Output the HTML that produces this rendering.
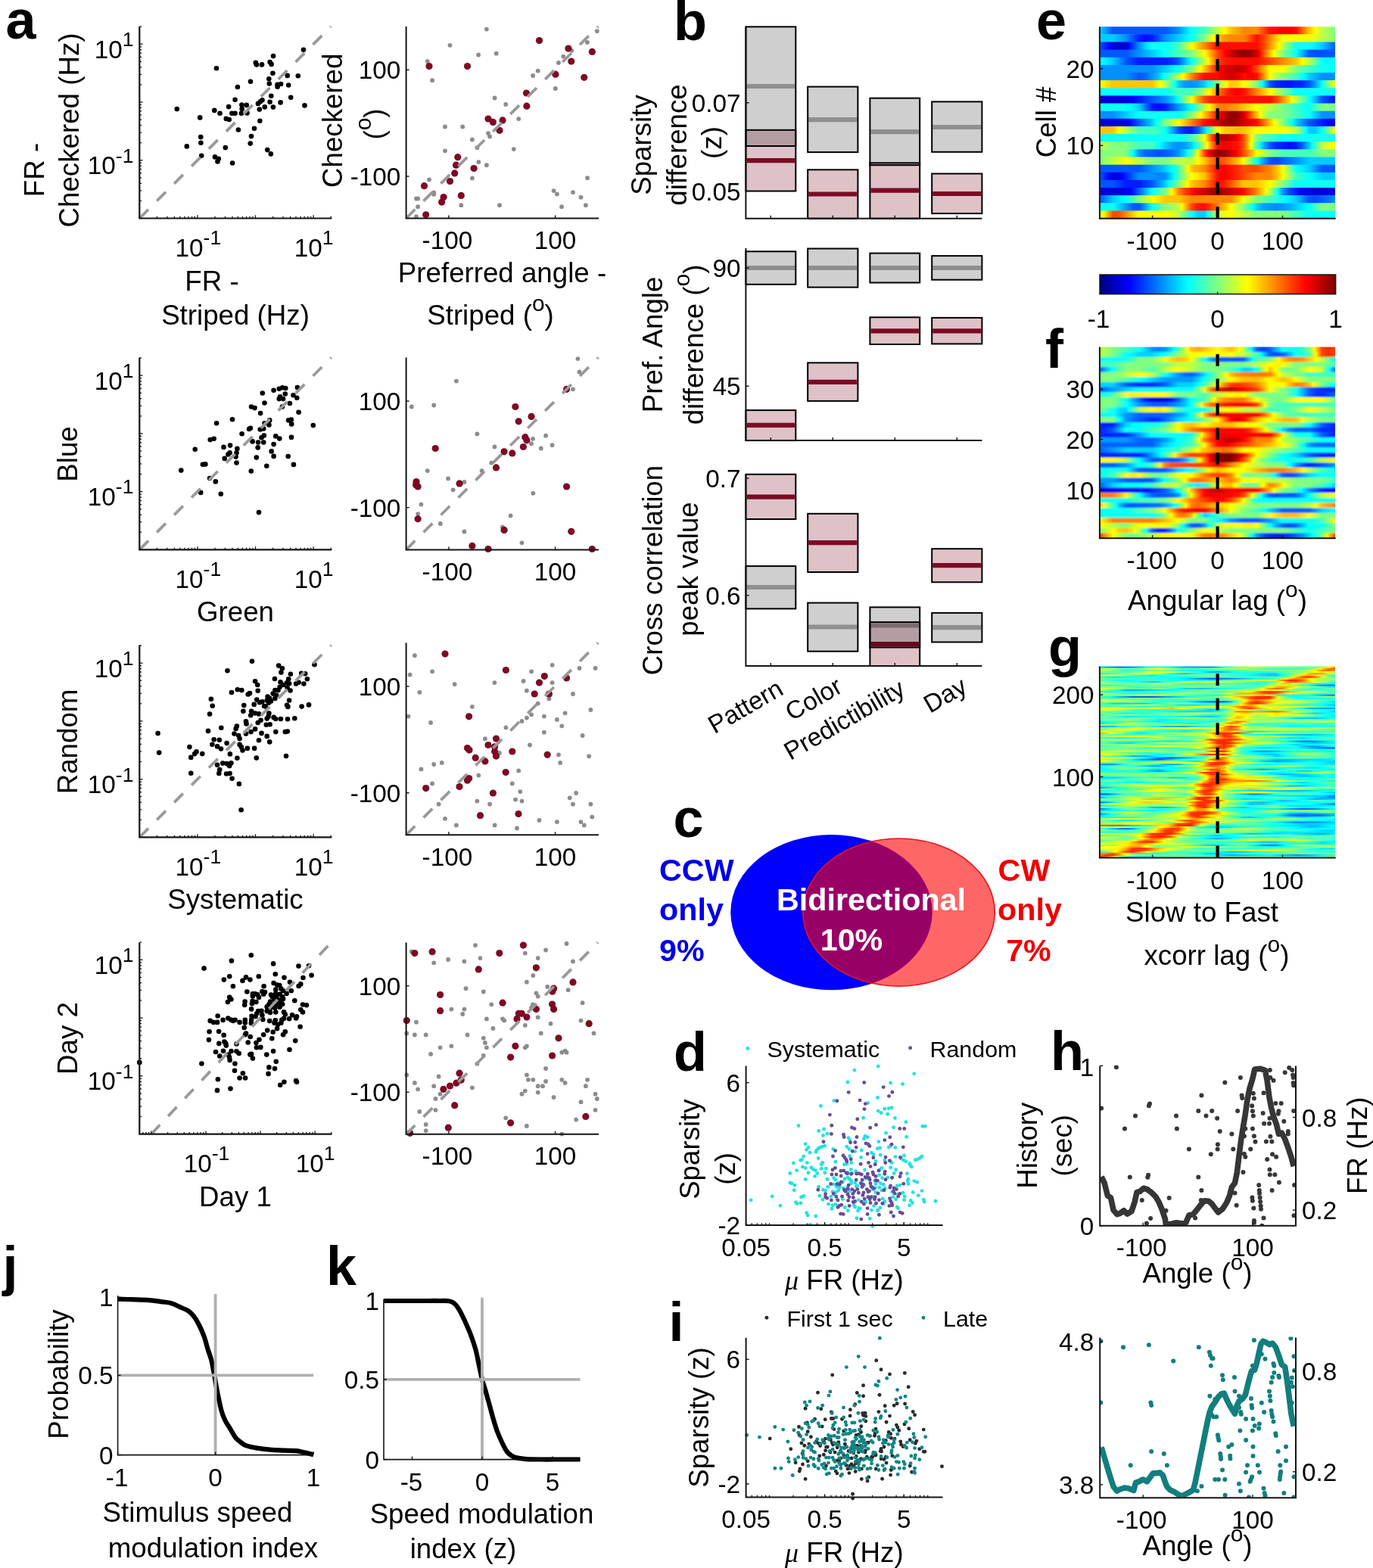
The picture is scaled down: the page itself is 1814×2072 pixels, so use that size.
<!DOCTYPE html>
<html lang="en"><head><meta charset="utf-8"><title>Figure</title>
<style>html,body{margin:0;padding:0;background:#fff}svg{display:block}text{font-family:"Liberation Sans",sans-serif}</style></head>
<body>
<svg width="1814" height="2072" viewBox="0 0 1814 2072">
<g fill="#000"><circle cx="401" cy="65.8" r="3.3"/><circle cx="361.1" cy="74.1" r="3.3"/><circle cx="337.8" cy="82.9" r="3.3"/><circle cx="339" cy="85.4" r="3.3"/><circle cx="346" cy="85.4" r="3.3"/><circle cx="356.6" cy="82.1" r="3.3"/><circle cx="358.6" cy="84.9" r="3.3"/><circle cx="286" cy="90.2" r="3.3"/><circle cx="360.4" cy="96.7" r="3.3"/><circle cx="379.7" cy="99.9" r="3.3"/><circle cx="393.8" cy="100.2" r="3.3"/><circle cx="355.3" cy="104.2" r="3.3"/><circle cx="331" cy="107.7" r="3.3"/><circle cx="355.8" cy="110.5" r="3.3"/><circle cx="366.6" cy="111.7" r="3.3"/><circle cx="371.1" cy="111" r="3.3"/><circle cx="381.2" cy="112.5" r="3.3"/><circle cx="366.6" cy="114.8" r="3.3"/><circle cx="313.9" cy="115" r="3.3"/><circle cx="358.3" cy="126.8" r="3.3"/><circle cx="384.2" cy="128.8" r="3.3"/><circle cx="310.6" cy="131.8" r="3.3"/><circle cx="346.5" cy="132.3" r="3.3"/><circle cx="344" cy="134.3" r="3.3"/><circle cx="341" cy="136.9" r="3.3"/><circle cx="356.6" cy="134.8" r="3.3"/><circle cx="370.6" cy="135.4" r="3.3"/><circle cx="319.4" cy="138.6" r="3.3"/><circle cx="325.7" cy="138.9" r="3.3"/><circle cx="302.1" cy="141.1" r="3.3"/><circle cx="349.8" cy="141.4" r="3.3"/><circle cx="360.9" cy="141.6" r="3.3"/><circle cx="402.5" cy="139.4" r="3.3"/><circle cx="233.8" cy="144.1" r="3.3"/><circle cx="283.3" cy="145.9" r="3.3"/><circle cx="319.7" cy="143.9" r="3.3"/><circle cx="342.8" cy="144.6" r="3.3"/><circle cx="290.5" cy="149.7" r="3.3"/><circle cx="306.4" cy="149.7" r="3.3"/><circle cx="310.6" cy="149.7" r="3.3"/><circle cx="318.9" cy="149.7" r="3.3"/><circle cx="326.5" cy="149.4" r="3.3"/><circle cx="264.2" cy="155.4" r="3.3"/><circle cx="298.8" cy="156.9" r="3.3"/><circle cx="302.8" cy="158" r="3.3"/><circle cx="343.3" cy="159.7" r="3.3"/><circle cx="336" cy="169.8" r="3.3"/><circle cx="314.9" cy="171.5" r="3.3"/><circle cx="332" cy="180.1" r="3.3"/><circle cx="265.2" cy="181.1" r="3.3"/><circle cx="265.4" cy="188.8" r="3.3"/><circle cx="330.7" cy="189.6" r="3.3"/><circle cx="246.8" cy="193.4" r="3.3"/><circle cx="297.8" cy="195.1" r="3.3"/><circle cx="353.3" cy="198.1" r="3.3"/><circle cx="357.8" cy="203.4" r="3.3"/><circle cx="266.2" cy="205.7" r="3.3"/><circle cx="284" cy="207.4" r="3.3"/><circle cx="288.8" cy="209.7" r="3.3"/><circle cx="287.5" cy="213.4" r="3.3"/><circle cx="307.1" cy="215.5" r="3.3"/></g>
<line x1="184.3" y1="288.5" x2="437.3" y2="35" stroke="#999999" stroke-width="3.8" stroke-dasharray="16.6 15.85"/>
<path d="M184.3 35V288.5H438.4" stroke="#141414" stroke-width="2.2" fill="none"/>
<line x1="207.4" y1="288.5" x2="207.4" y2="285.8" stroke="#141414" stroke-width="1.3"/>
<line x1="184.3" y1="265.4" x2="187" y2="265.4" stroke="#141414" stroke-width="1.3"/>
<line x1="220.8" y1="288.5" x2="220.8" y2="285.8" stroke="#141414" stroke-width="1.3"/>
<line x1="184.3" y1="251.9" x2="187" y2="251.9" stroke="#141414" stroke-width="1.3"/>
<line x1="230.4" y1="288.5" x2="230.4" y2="285.8" stroke="#141414" stroke-width="1.3"/>
<line x1="184.3" y1="242.3" x2="187" y2="242.3" stroke="#141414" stroke-width="1.3"/>
<line x1="237.8" y1="288.5" x2="237.8" y2="285.8" stroke="#141414" stroke-width="1.3"/>
<line x1="184.3" y1="234.9" x2="187" y2="234.9" stroke="#141414" stroke-width="1.3"/>
<line x1="243.9" y1="288.5" x2="243.9" y2="285.8" stroke="#141414" stroke-width="1.3"/>
<line x1="184.3" y1="228.8" x2="187" y2="228.8" stroke="#141414" stroke-width="1.3"/>
<line x1="249" y1="288.5" x2="249" y2="285.8" stroke="#141414" stroke-width="1.3"/>
<line x1="184.3" y1="223.6" x2="187" y2="223.6" stroke="#141414" stroke-width="1.3"/>
<line x1="253.5" y1="288.5" x2="253.5" y2="285.8" stroke="#141414" stroke-width="1.3"/>
<line x1="184.3" y1="219.2" x2="187" y2="219.2" stroke="#141414" stroke-width="1.3"/>
<line x1="257.4" y1="288.5" x2="257.4" y2="285.8" stroke="#141414" stroke-width="1.3"/>
<line x1="184.3" y1="215.3" x2="187" y2="215.3" stroke="#141414" stroke-width="1.3"/>
<line x1="260.9" y1="288.5" x2="260.9" y2="284.3" stroke="#141414" stroke-width="1.3"/>
<line x1="184.3" y1="211.8" x2="188.5" y2="211.8" stroke="#141414" stroke-width="1.3"/>
<line x1="284" y1="288.5" x2="284" y2="285.8" stroke="#141414" stroke-width="1.3"/>
<line x1="184.3" y1="188.6" x2="187" y2="188.6" stroke="#141414" stroke-width="1.3"/>
<line x1="297.4" y1="288.5" x2="297.4" y2="285.8" stroke="#141414" stroke-width="1.3"/>
<line x1="184.3" y1="175.1" x2="187" y2="175.1" stroke="#141414" stroke-width="1.3"/>
<line x1="307" y1="288.5" x2="307" y2="285.8" stroke="#141414" stroke-width="1.3"/>
<line x1="184.3" y1="165.5" x2="187" y2="165.5" stroke="#141414" stroke-width="1.3"/>
<line x1="314.4" y1="288.5" x2="314.4" y2="285.8" stroke="#141414" stroke-width="1.3"/>
<line x1="184.3" y1="158.1" x2="187" y2="158.1" stroke="#141414" stroke-width="1.3"/>
<line x1="320.5" y1="288.5" x2="320.5" y2="285.8" stroke="#141414" stroke-width="1.3"/>
<line x1="184.3" y1="152" x2="187" y2="152" stroke="#141414" stroke-width="1.3"/>
<line x1="325.6" y1="288.5" x2="325.6" y2="285.8" stroke="#141414" stroke-width="1.3"/>
<line x1="184.3" y1="146.9" x2="187" y2="146.9" stroke="#141414" stroke-width="1.3"/>
<line x1="330.1" y1="288.5" x2="330.1" y2="285.8" stroke="#141414" stroke-width="1.3"/>
<line x1="184.3" y1="142.4" x2="187" y2="142.4" stroke="#141414" stroke-width="1.3"/>
<line x1="334" y1="288.5" x2="334" y2="285.8" stroke="#141414" stroke-width="1.3"/>
<line x1="184.3" y1="138.5" x2="187" y2="138.5" stroke="#141414" stroke-width="1.3"/>
<line x1="337.5" y1="288.5" x2="337.5" y2="284.3" stroke="#141414" stroke-width="1.3"/>
<line x1="184.3" y1="135" x2="188.5" y2="135" stroke="#141414" stroke-width="1.3"/>
<line x1="360.6" y1="288.5" x2="360.6" y2="285.8" stroke="#141414" stroke-width="1.3"/>
<line x1="184.3" y1="111.9" x2="187" y2="111.9" stroke="#141414" stroke-width="1.3"/>
<line x1="374" y1="288.5" x2="374" y2="285.8" stroke="#141414" stroke-width="1.3"/>
<line x1="184.3" y1="98.4" x2="187" y2="98.4" stroke="#141414" stroke-width="1.3"/>
<line x1="383.6" y1="288.5" x2="383.6" y2="285.8" stroke="#141414" stroke-width="1.3"/>
<line x1="184.3" y1="88.8" x2="187" y2="88.8" stroke="#141414" stroke-width="1.3"/>
<line x1="391" y1="288.5" x2="391" y2="285.8" stroke="#141414" stroke-width="1.3"/>
<line x1="184.3" y1="81.4" x2="187" y2="81.4" stroke="#141414" stroke-width="1.3"/>
<line x1="397.1" y1="288.5" x2="397.1" y2="285.8" stroke="#141414" stroke-width="1.3"/>
<line x1="184.3" y1="75.3" x2="187" y2="75.3" stroke="#141414" stroke-width="1.3"/>
<line x1="402.2" y1="288.5" x2="402.2" y2="285.8" stroke="#141414" stroke-width="1.3"/>
<line x1="184.3" y1="70.1" x2="187" y2="70.1" stroke="#141414" stroke-width="1.3"/>
<line x1="406.7" y1="288.5" x2="406.7" y2="285.8" stroke="#141414" stroke-width="1.3"/>
<line x1="184.3" y1="65.7" x2="187" y2="65.7" stroke="#141414" stroke-width="1.3"/>
<line x1="410.6" y1="288.5" x2="410.6" y2="285.8" stroke="#141414" stroke-width="1.3"/>
<line x1="184.3" y1="61.8" x2="187" y2="61.8" stroke="#141414" stroke-width="1.3"/>
<line x1="414.1" y1="288.5" x2="414.1" y2="284.3" stroke="#141414" stroke-width="1.3"/>
<line x1="184.3" y1="58.2" x2="188.5" y2="58.2" stroke="#141414" stroke-width="1.3"/>
<line x1="437.2" y1="288.5" x2="437.2" y2="285.8" stroke="#141414" stroke-width="1.3"/>
<line x1="184.3" y1="35.1" x2="187" y2="35.1" stroke="#141414" stroke-width="1.3"/>
<text transform="translate(176.5,76.8)" font-size="33.3" text-anchor="end">10<tspan dy="-15.7" font-size="26.6">1</tspan></text>
<text transform="translate(414.6,339)" font-size="33.3" text-anchor="middle">10<tspan dy="-15.7" font-size="26.6">1</tspan></text>
<text transform="translate(176.5,230.2)" font-size="33.3" text-anchor="end">10<tspan dy="-15.7" font-size="26.6">-1</tspan></text>
<text transform="translate(261.9,339)" font-size="33.3" text-anchor="middle">10<tspan dy="-15.7" font-size="26.6">-1</tspan></text>
<g fill="#8c8c8c"><circle cx="642.9" cy="38.6" r="2.9"/><circle cx="788.8" cy="41.1" r="2.9"/><circle cx="594.5" cy="59.8" r="2.9"/><circle cx="775.9" cy="55.9" r="2.9"/><circle cx="632.1" cy="72.5" r="2.9"/><circle cx="655.7" cy="70.7" r="2.9"/><circle cx="755.4" cy="66.8" r="2.9"/><circle cx="744.3" cy="74.6" r="2.9"/><circle cx="564.8" cy="81.1" r="2.9"/><circle cx="737.9" cy="82.9" r="2.9"/><circle cx="710.7" cy="93.6" r="2.9"/><circle cx="704.1" cy="100" r="2.9"/><circle cx="571.1" cy="106.2" r="2.9"/><circle cx="733.8" cy="117" r="2.9"/><circle cx="653.6" cy="129.5" r="2.9"/><circle cx="668.2" cy="137.9" r="2.9"/><circle cx="685.2" cy="157.1" r="2.9"/><circle cx="588" cy="167.5" r="2.9"/><circle cx="611.2" cy="167.5" r="2.9"/><circle cx="645" cy="176.1" r="2.9"/><circle cx="647.1" cy="180.4" r="2.9"/><circle cx="623.9" cy="184.5" r="2.9"/><circle cx="630.4" cy="195.2" r="2.9"/><circle cx="678.8" cy="197.1" r="2.9"/><circle cx="588" cy="199.3" r="2.9"/><circle cx="632.3" cy="214.1" r="2.9"/><circle cx="642.9" cy="218.2" r="2.9"/><circle cx="623.9" cy="235.4" r="2.9"/><circle cx="567" cy="237.3" r="2.9"/><circle cx="776.1" cy="235.2" r="2.9"/><circle cx="731.6" cy="252.1" r="2.9"/><circle cx="735.9" cy="256.4" r="2.9"/><circle cx="757" cy="254.1" r="2.9"/><circle cx="573.2" cy="254.3" r="2.9"/><circle cx="573.2" cy="256.8" r="2.9"/><circle cx="767.5" cy="260.7" r="2.9"/><circle cx="550" cy="262.5" r="2.9"/><circle cx="552.1" cy="262.5" r="2.9"/><circle cx="609.3" cy="271.2" r="2.9"/><circle cx="660" cy="271.2" r="2.9"/><circle cx="773.9" cy="271.2" r="2.9"/><circle cx="742.1" cy="273.2" r="2.9"/><circle cx="552.1" cy="273.2" r="2.9"/><circle cx="550" cy="286.1" r="2.9"/></g>
<g fill="#7d0a25"><circle cx="712.5" cy="53.6" r="4.6"/><circle cx="750.9" cy="64.1" r="4.6"/><circle cx="782.3" cy="68.4" r="4.6"/><circle cx="754.8" cy="81.1" r="4.6"/><circle cx="567" cy="87.5" r="4.6"/><circle cx="617.5" cy="87.5" r="4.6"/><circle cx="733.9" cy="98.2" r="4.6"/><circle cx="771.8" cy="102.3" r="4.6"/><circle cx="695.5" cy="123" r="4.6"/><circle cx="695.9" cy="140.2" r="4.6"/><circle cx="645" cy="157" r="4.6"/><circle cx="651.4" cy="161.4" r="4.6"/><circle cx="664.1" cy="158.9" r="4.6"/><circle cx="660" cy="172.3" r="4.6"/><circle cx="604.8" cy="207.7" r="4.6"/><circle cx="602.5" cy="218.2" r="4.6"/><circle cx="626.1" cy="222.5" r="4.6"/><circle cx="600.7" cy="228.9" r="4.6"/><circle cx="594.5" cy="239.5" r="4.6"/><circle cx="560.5" cy="245.7" r="4.6"/><circle cx="609.3" cy="258.4" r="4.6"/><circle cx="586.1" cy="260.5" r="4.6"/><circle cx="583.6" cy="267.1" r="4.6"/><circle cx="562.7" cy="283.8" r="4.6"/></g>
<line x1="536.6" y1="288.5" x2="790.1" y2="35" stroke="#999999" stroke-width="3.8" stroke-dasharray="16.6 15.85"/>
<path d="M536.6 35V288.5H791" stroke="#141414" stroke-width="2.0" fill="none"/>
<line x1="592.9" y1="288.5" x2="592.9" y2="284.5" stroke="#141414" stroke-width="1.4"/>
<line x1="536.6" y1="233" x2="540.6" y2="233" stroke="#141414" stroke-width="1.4"/>
<text transform="translate(590.9,329)" font-size="33.3" text-anchor="middle">-100</text>
<text transform="translate(529.3,245)" font-size="33.3" text-anchor="end">-100</text>
<line x1="733.6" y1="288.5" x2="733.6" y2="284.5" stroke="#141414" stroke-width="1.4"/>
<line x1="536.6" y1="92.3" x2="540.6" y2="92.3" stroke="#141414" stroke-width="1.4"/>
<text transform="translate(733.6,329)" font-size="33.3" text-anchor="middle">100</text>
<text transform="translate(529.3,104.3)" font-size="33.3" text-anchor="end">100</text>
<g fill="#000"><circle cx="361.6" cy="515.7" r="3.3"/><circle cx="368.8" cy="513.8" r="3.3"/><circle cx="373.2" cy="512.3" r="3.3"/><circle cx="377.3" cy="513" r="3.3"/><circle cx="392.9" cy="512" r="3.3"/><circle cx="346.8" cy="519.5" r="3.3"/><circle cx="376.8" cy="520.5" r="3.3"/><circle cx="387.5" cy="522.3" r="3.3"/><circle cx="392.3" cy="525.7" r="3.3"/><circle cx="370" cy="524.3" r="3.3"/><circle cx="368.8" cy="527.1" r="3.3"/><circle cx="374.1" cy="527.1" r="3.3"/><circle cx="349.5" cy="532.5" r="3.3"/><circle cx="382.9" cy="533" r="3.3"/><circle cx="332.1" cy="537.5" r="3.3"/><circle cx="336.6" cy="539.1" r="3.3"/><circle cx="372.9" cy="537.5" r="3.3"/><circle cx="344.1" cy="546.1" r="3.3"/><circle cx="394.6" cy="544.8" r="3.3"/><circle cx="307" cy="554.3" r="3.3"/><circle cx="286.1" cy="559.3" r="3.3"/><circle cx="356.2" cy="555.4" r="3.3"/><circle cx="381.2" cy="555.4" r="3.3"/><circle cx="384.8" cy="554.5" r="3.3"/><circle cx="385.2" cy="560.4" r="3.3"/><circle cx="349.6" cy="559.3" r="3.3"/><circle cx="355.4" cy="561.4" r="3.3"/><circle cx="413.8" cy="562.1" r="3.3"/><circle cx="329.1" cy="567" r="3.3"/><circle cx="330.9" cy="565.7" r="3.3"/><circle cx="343.8" cy="567.5" r="3.3"/><circle cx="348.2" cy="566.4" r="3.3"/><circle cx="319.6" cy="573.2" r="3.3"/><circle cx="348.8" cy="575.5" r="3.3"/><circle cx="345.5" cy="578.2" r="3.3"/><circle cx="364.3" cy="576.4" r="3.3"/><circle cx="369.3" cy="579.6" r="3.3"/><circle cx="385" cy="577.9" r="3.3"/><circle cx="277.7" cy="581.1" r="3.3"/><circle cx="282.7" cy="579.8" r="3.3"/><circle cx="333.6" cy="583.4" r="3.3"/><circle cx="341.1" cy="584.5" r="3.3"/><circle cx="348.2" cy="584.5" r="3.3"/><circle cx="361.6" cy="587.1" r="3.3"/><circle cx="304.1" cy="588.6" r="3.3"/><circle cx="295.5" cy="590.9" r="3.3"/><circle cx="340.7" cy="591.4" r="3.3"/><circle cx="257.7" cy="593.8" r="3.3"/><circle cx="313.4" cy="592.9" r="3.3"/><circle cx="312.5" cy="598.2" r="3.3"/><circle cx="358.6" cy="596.4" r="3.3"/><circle cx="303.6" cy="598.2" r="3.3"/><circle cx="301.4" cy="600.5" r="3.3"/><circle cx="311.6" cy="603.6" r="3.3"/><circle cx="338.8" cy="604.6" r="3.3"/><circle cx="361.6" cy="602.9" r="3.3"/><circle cx="380.7" cy="603" r="3.3"/><circle cx="296.8" cy="605.9" r="3.3"/><circle cx="312.5" cy="611.6" r="3.3"/><circle cx="267.9" cy="613.8" r="3.3"/><circle cx="271.4" cy="613.4" r="3.3"/><circle cx="352.3" cy="615.7" r="3.3"/><circle cx="387.9" cy="613.9" r="3.3"/><circle cx="239.3" cy="621.6" r="3.3"/><circle cx="331.8" cy="622.5" r="3.3"/><circle cx="277.1" cy="632.1" r="3.3"/><circle cx="284.8" cy="636.4" r="3.3"/><circle cx="265.2" cy="650.9" r="3.3"/><circle cx="291.8" cy="652.7" r="3.3"/><circle cx="342" cy="677.1" r="3.3"/></g>
<line x1="184.3" y1="726.4" x2="437.7" y2="472.5" stroke="#999999" stroke-width="3.8" stroke-dasharray="16.6 15.85"/>
<path d="M184.3 472.5V726.4H438.4" stroke="#141414" stroke-width="2.2" fill="none"/>
<line x1="207.4" y1="726.4" x2="207.4" y2="723.7" stroke="#141414" stroke-width="1.3"/>
<line x1="184.3" y1="703.3" x2="187" y2="703.3" stroke="#141414" stroke-width="1.3"/>
<line x1="220.8" y1="726.4" x2="220.8" y2="723.7" stroke="#141414" stroke-width="1.3"/>
<line x1="184.3" y1="689.8" x2="187" y2="689.8" stroke="#141414" stroke-width="1.3"/>
<line x1="230.4" y1="726.4" x2="230.4" y2="723.7" stroke="#141414" stroke-width="1.3"/>
<line x1="184.3" y1="680.2" x2="187" y2="680.2" stroke="#141414" stroke-width="1.3"/>
<line x1="237.8" y1="726.4" x2="237.8" y2="723.7" stroke="#141414" stroke-width="1.3"/>
<line x1="184.3" y1="672.8" x2="187" y2="672.8" stroke="#141414" stroke-width="1.3"/>
<line x1="243.9" y1="726.4" x2="243.9" y2="723.7" stroke="#141414" stroke-width="1.3"/>
<line x1="184.3" y1="666.7" x2="187" y2="666.7" stroke="#141414" stroke-width="1.3"/>
<line x1="249" y1="726.4" x2="249" y2="723.7" stroke="#141414" stroke-width="1.3"/>
<line x1="184.3" y1="661.5" x2="187" y2="661.5" stroke="#141414" stroke-width="1.3"/>
<line x1="253.5" y1="726.4" x2="253.5" y2="723.7" stroke="#141414" stroke-width="1.3"/>
<line x1="184.3" y1="657.1" x2="187" y2="657.1" stroke="#141414" stroke-width="1.3"/>
<line x1="257.4" y1="726.4" x2="257.4" y2="723.7" stroke="#141414" stroke-width="1.3"/>
<line x1="184.3" y1="653.2" x2="187" y2="653.2" stroke="#141414" stroke-width="1.3"/>
<line x1="260.9" y1="726.4" x2="260.9" y2="722.2" stroke="#141414" stroke-width="1.3"/>
<line x1="184.3" y1="649.6" x2="188.5" y2="649.6" stroke="#141414" stroke-width="1.3"/>
<line x1="284" y1="726.4" x2="284" y2="723.7" stroke="#141414" stroke-width="1.3"/>
<line x1="184.3" y1="626.5" x2="187" y2="626.5" stroke="#141414" stroke-width="1.3"/>
<line x1="297.4" y1="726.4" x2="297.4" y2="723.7" stroke="#141414" stroke-width="1.3"/>
<line x1="184.3" y1="613" x2="187" y2="613" stroke="#141414" stroke-width="1.3"/>
<line x1="307" y1="726.4" x2="307" y2="723.7" stroke="#141414" stroke-width="1.3"/>
<line x1="184.3" y1="603.4" x2="187" y2="603.4" stroke="#141414" stroke-width="1.3"/>
<line x1="314.4" y1="726.4" x2="314.4" y2="723.7" stroke="#141414" stroke-width="1.3"/>
<line x1="184.3" y1="596" x2="187" y2="596" stroke="#141414" stroke-width="1.3"/>
<line x1="320.5" y1="726.4" x2="320.5" y2="723.7" stroke="#141414" stroke-width="1.3"/>
<line x1="184.3" y1="589.9" x2="187" y2="589.9" stroke="#141414" stroke-width="1.3"/>
<line x1="325.6" y1="726.4" x2="325.6" y2="723.7" stroke="#141414" stroke-width="1.3"/>
<line x1="184.3" y1="584.8" x2="187" y2="584.8" stroke="#141414" stroke-width="1.3"/>
<line x1="330.1" y1="726.4" x2="330.1" y2="723.7" stroke="#141414" stroke-width="1.3"/>
<line x1="184.3" y1="580.3" x2="187" y2="580.3" stroke="#141414" stroke-width="1.3"/>
<line x1="334" y1="726.4" x2="334" y2="723.7" stroke="#141414" stroke-width="1.3"/>
<line x1="184.3" y1="576.4" x2="187" y2="576.4" stroke="#141414" stroke-width="1.3"/>
<line x1="337.5" y1="726.4" x2="337.5" y2="722.2" stroke="#141414" stroke-width="1.3"/>
<line x1="184.3" y1="572.9" x2="188.5" y2="572.9" stroke="#141414" stroke-width="1.3"/>
<line x1="360.6" y1="726.4" x2="360.6" y2="723.7" stroke="#141414" stroke-width="1.3"/>
<line x1="184.3" y1="549.8" x2="187" y2="549.8" stroke="#141414" stroke-width="1.3"/>
<line x1="374" y1="726.4" x2="374" y2="723.7" stroke="#141414" stroke-width="1.3"/>
<line x1="184.3" y1="536.3" x2="187" y2="536.3" stroke="#141414" stroke-width="1.3"/>
<line x1="383.6" y1="726.4" x2="383.6" y2="723.7" stroke="#141414" stroke-width="1.3"/>
<line x1="184.3" y1="526.7" x2="187" y2="526.7" stroke="#141414" stroke-width="1.3"/>
<line x1="391" y1="726.4" x2="391" y2="723.7" stroke="#141414" stroke-width="1.3"/>
<line x1="184.3" y1="519.3" x2="187" y2="519.3" stroke="#141414" stroke-width="1.3"/>
<line x1="397.1" y1="726.4" x2="397.1" y2="723.7" stroke="#141414" stroke-width="1.3"/>
<line x1="184.3" y1="513.2" x2="187" y2="513.2" stroke="#141414" stroke-width="1.3"/>
<line x1="402.2" y1="726.4" x2="402.2" y2="723.7" stroke="#141414" stroke-width="1.3"/>
<line x1="184.3" y1="508" x2="187" y2="508" stroke="#141414" stroke-width="1.3"/>
<line x1="406.7" y1="726.4" x2="406.7" y2="723.7" stroke="#141414" stroke-width="1.3"/>
<line x1="184.3" y1="503.6" x2="187" y2="503.6" stroke="#141414" stroke-width="1.3"/>
<line x1="410.6" y1="726.4" x2="410.6" y2="723.7" stroke="#141414" stroke-width="1.3"/>
<line x1="184.3" y1="499.7" x2="187" y2="499.7" stroke="#141414" stroke-width="1.3"/>
<line x1="414.1" y1="726.4" x2="414.1" y2="722.2" stroke="#141414" stroke-width="1.3"/>
<line x1="184.3" y1="496.1" x2="188.5" y2="496.1" stroke="#141414" stroke-width="1.3"/>
<line x1="437.2" y1="726.4" x2="437.2" y2="723.7" stroke="#141414" stroke-width="1.3"/>
<line x1="184.3" y1="473" x2="187" y2="473" stroke="#141414" stroke-width="1.3"/>
<text transform="translate(176.5,514.6)" font-size="33.3" text-anchor="end">10<tspan dy="-15.7" font-size="26.6">1</tspan></text>
<text transform="translate(414.6,776.9)" font-size="33.3" text-anchor="middle">10<tspan dy="-15.7" font-size="26.6">1</tspan></text>
<text transform="translate(176.5,668.1)" font-size="33.3" text-anchor="end">10<tspan dy="-15.7" font-size="26.6">-1</tspan></text>
<text transform="translate(261.9,776.9)" font-size="33.3" text-anchor="middle">10<tspan dy="-15.7" font-size="26.6">-1</tspan></text>
<g fill="#8c8c8c"><circle cx="763.4" cy="474.1" r="2.9"/><circle cx="765.5" cy="491.4" r="2.9"/><circle cx="602.9" cy="503.6" r="2.9"/><circle cx="757" cy="514.3" r="2.9"/><circle cx="543.8" cy="537.5" r="2.9"/><circle cx="573.2" cy="535.5" r="2.9"/><circle cx="630.4" cy="573.4" r="2.9"/><circle cx="721.1" cy="575.7" r="2.9"/><circle cx="704.1" cy="579.8" r="2.9"/><circle cx="702" cy="586.2" r="2.9"/><circle cx="653.4" cy="590.5" r="2.9"/><circle cx="729.6" cy="588.2" r="2.9"/><circle cx="714.8" cy="592.5" r="2.9"/><circle cx="649.3" cy="611.6" r="2.9"/><circle cx="564.8" cy="622.1" r="2.9"/><circle cx="636.6" cy="622.1" r="2.9"/><circle cx="592.1" cy="632.5" r="2.9"/><circle cx="613.4" cy="637" r="2.9"/><circle cx="598.6" cy="647.3" r="2.9"/><circle cx="704.3" cy="651.8" r="2.9"/><circle cx="556.4" cy="666.6" r="2.9"/><circle cx="552.1" cy="679.1" r="2.9"/><circle cx="674.6" cy="681.4" r="2.9"/><circle cx="581.8" cy="692" r="2.9"/><circle cx="663.9" cy="696.4" r="2.9"/><circle cx="613.4" cy="702.5" r="2.9"/><circle cx="689.5" cy="717.3" r="2.9"/></g>
<g fill="#7d0a25"><circle cx="680.9" cy="537.5" r="4.6"/><circle cx="702.1" cy="550.4" r="4.6"/><circle cx="685.2" cy="556.8" r="4.6"/><circle cx="748.6" cy="514.3" r="4.6"/><circle cx="693.8" cy="577.7" r="4.6"/><circle cx="695.9" cy="581.8" r="4.6"/><circle cx="691.4" cy="590.5" r="4.6"/><circle cx="666.1" cy="596.8" r="4.6"/><circle cx="676.8" cy="598.9" r="4.6"/><circle cx="575.2" cy="592.5" r="4.6"/><circle cx="655.5" cy="617.9" r="4.6"/><circle cx="550" cy="636.6" r="4.6"/><circle cx="552.1" cy="642.9" r="4.6"/><circle cx="549.6" cy="640.7" r="4.6"/><circle cx="607.1" cy="638.9" r="4.6"/><circle cx="748.6" cy="643" r="4.6"/><circle cx="552.1" cy="685.7" r="4.6"/><circle cx="666.1" cy="700.4" r="4.6"/><circle cx="754.8" cy="702.3" r="4.6"/><circle cx="623.9" cy="721.4" r="4.6"/><circle cx="645" cy="725.5" r="4.6"/><circle cx="782.3" cy="725.5" r="4.6"/></g>
<line x1="536.6" y1="726.4" x2="790.5" y2="472.5" stroke="#999999" stroke-width="3.8" stroke-dasharray="16.6 15.85"/>
<path d="M536.6 472.5V726.4H791" stroke="#141414" stroke-width="2.0" fill="none"/>
<line x1="592.9" y1="726.4" x2="592.9" y2="722.4" stroke="#141414" stroke-width="1.4"/>
<line x1="536.6" y1="670.7" x2="540.6" y2="670.7" stroke="#141414" stroke-width="1.4"/>
<text transform="translate(590.9,766.9)" font-size="33.3" text-anchor="middle">-100</text>
<text transform="translate(529.3,682.7)" font-size="33.3" text-anchor="end">-100</text>
<line x1="733.6" y1="726.4" x2="733.6" y2="722.4" stroke="#141414" stroke-width="1.4"/>
<line x1="536.6" y1="530" x2="540.6" y2="530" stroke="#141414" stroke-width="1.4"/>
<text transform="translate(733.6,766.9)" font-size="33.3" text-anchor="middle">100</text>
<text transform="translate(529.3,542)" font-size="33.3" text-anchor="end">100</text>
<g fill="#000"><circle cx="333" cy="873.8" r="3.3"/><circle cx="300.5" cy="886.2" r="3.3"/><circle cx="368.2" cy="879.6" r="3.3"/><circle cx="372.9" cy="883.2" r="3.3"/><circle cx="371.4" cy="888.6" r="3.3"/><circle cx="383.9" cy="890.7" r="3.3"/><circle cx="398.2" cy="889.8" r="3.3"/><circle cx="403.2" cy="890.2" r="3.3"/><circle cx="415.5" cy="878.2" r="3.3"/><circle cx="363" cy="897" r="3.3"/><circle cx="381.2" cy="897.3" r="3.3"/><circle cx="405.9" cy="897.3" r="3.3"/><circle cx="337.1" cy="900.2" r="3.3"/><circle cx="340.2" cy="905" r="3.3"/><circle cx="370.5" cy="901.4" r="3.3"/><circle cx="378.9" cy="902.3" r="3.3"/><circle cx="382.1" cy="903.2" r="3.3"/><circle cx="391.1" cy="903.6" r="3.3"/><circle cx="394.6" cy="901.8" r="3.3"/><circle cx="401.4" cy="903.6" r="3.3"/><circle cx="374.1" cy="905" r="3.3"/><circle cx="369.6" cy="908" r="3.3"/><circle cx="379.5" cy="908.6" r="3.3"/><circle cx="363.4" cy="912.1" r="3.3"/><circle cx="367.5" cy="912.1" r="3.3"/><circle cx="383.6" cy="912.5" r="3.3"/><circle cx="313.8" cy="911.2" r="3.3"/><circle cx="319.3" cy="912.1" r="3.3"/><circle cx="305.9" cy="915" r="3.3"/><circle cx="340.7" cy="912.7" r="3.3"/><circle cx="327.7" cy="917.5" r="3.3"/><circle cx="330" cy="916.1" r="3.3"/><circle cx="360.7" cy="916.6" r="3.3"/><circle cx="365.2" cy="918.8" r="3.3"/><circle cx="353.6" cy="920.5" r="3.3"/><circle cx="356.2" cy="922.9" r="3.3"/><circle cx="363.4" cy="922.9" r="3.3"/><circle cx="339.3" cy="924.6" r="3.3"/><circle cx="352.7" cy="925.5" r="3.3"/><circle cx="358" cy="926.4" r="3.3"/><circle cx="382.1" cy="925.5" r="3.3"/><circle cx="278.9" cy="923.8" r="3.3"/><circle cx="342.9" cy="928.2" r="3.3"/><circle cx="346.4" cy="927.3" r="3.3"/><circle cx="355" cy="928.8" r="3.3"/><circle cx="335.7" cy="930.9" r="3.3"/><circle cx="322.3" cy="932.1" r="3.3"/><circle cx="349.1" cy="933" r="3.3"/><circle cx="350.9" cy="933.6" r="3.3"/><circle cx="280.7" cy="932.7" r="3.3"/><circle cx="379.1" cy="931.8" r="3.3"/><circle cx="380.4" cy="933.9" r="3.3"/><circle cx="398.6" cy="933.6" r="3.3"/><circle cx="408" cy="931.4" r="3.3"/><circle cx="321.4" cy="939.8" r="3.3"/><circle cx="332.1" cy="939.8" r="3.3"/><circle cx="331.2" cy="945.2" r="3.3"/><circle cx="337.1" cy="942.5" r="3.3"/><circle cx="342" cy="943.4" r="3.3"/><circle cx="355.4" cy="942.5" r="3.3"/><circle cx="277.1" cy="943.6" r="3.3"/><circle cx="354.5" cy="947" r="3.3"/><circle cx="361.6" cy="947.9" r="3.3"/><circle cx="364.3" cy="950" r="3.3"/><circle cx="370.9" cy="950" r="3.3"/><circle cx="380" cy="950.2" r="3.3"/><circle cx="389.3" cy="949.3" r="3.3"/><circle cx="352.7" cy="949.6" r="3.3"/><circle cx="344.6" cy="951.8" r="3.3"/><circle cx="340.7" cy="955" r="3.3"/><circle cx="325" cy="953.2" r="3.3"/><circle cx="325.5" cy="956.4" r="3.3"/><circle cx="351.8" cy="957.7" r="3.3"/><circle cx="356.6" cy="957.3" r="3.3"/><circle cx="312.9" cy="959.5" r="3.3"/><circle cx="311.6" cy="963" r="3.3"/><circle cx="292.3" cy="961.8" r="3.3"/><circle cx="337.1" cy="963.4" r="3.3"/><circle cx="275" cy="965.9" r="3.3"/><circle cx="331.6" cy="967.1" r="3.3"/><circle cx="364.3" cy="967.1" r="3.3"/><circle cx="376.8" cy="967.1" r="3.3"/><circle cx="379.8" cy="966.6" r="3.3"/><circle cx="208.6" cy="969.1" r="3.3"/><circle cx="309.5" cy="969.6" r="3.3"/><circle cx="325" cy="969.6" r="3.3"/><circle cx="345.5" cy="968.9" r="3.3"/><circle cx="315.2" cy="972" r="3.3"/><circle cx="352.7" cy="972.9" r="3.3"/><circle cx="316.6" cy="976.1" r="3.3"/><circle cx="282.7" cy="977.3" r="3.3"/><circle cx="289.8" cy="977.7" r="3.3"/><circle cx="342" cy="978.2" r="3.3"/><circle cx="356.2" cy="980.4" r="3.3"/><circle cx="299.6" cy="982.1" r="3.3"/><circle cx="280.4" cy="983.8" r="3.3"/><circle cx="287.1" cy="986.4" r="3.3"/><circle cx="316.6" cy="983.9" r="3.3"/><circle cx="318.8" cy="987.1" r="3.3"/><circle cx="292" cy="989.5" r="3.3"/><circle cx="326.8" cy="988.9" r="3.3"/><circle cx="336.1" cy="988.9" r="3.3"/><circle cx="320.5" cy="991.6" r="3.3"/><circle cx="250.4" cy="987.1" r="3.3"/><circle cx="210.2" cy="994.6" r="3.3"/><circle cx="259.5" cy="993.4" r="3.3"/><circle cx="257.1" cy="996.1" r="3.3"/><circle cx="267.3" cy="996.1" r="3.3"/><circle cx="303.9" cy="996.4" r="3.3"/><circle cx="252.3" cy="1000.9" r="3.3"/><circle cx="313.4" cy="1001.8" r="3.3"/><circle cx="338.8" cy="1001.6" r="3.3"/><circle cx="378" cy="999.1" r="3.3"/><circle cx="294.3" cy="1008.6" r="3.3"/><circle cx="299.6" cy="1009.1" r="3.3"/><circle cx="305.4" cy="1008.2" r="3.3"/><circle cx="287.1" cy="1010.7" r="3.3"/><circle cx="303.2" cy="1012.1" r="3.3"/><circle cx="290.2" cy="1017.1" r="3.3"/><circle cx="252.3" cy="1021.8" r="3.3"/><circle cx="289.3" cy="1022" r="3.3"/><circle cx="299.1" cy="1022.5" r="3.3"/><circle cx="303.6" cy="1022.1" r="3.3"/><circle cx="306.6" cy="1028.8" r="3.3"/><circle cx="315.9" cy="1035.9" r="3.3"/><circle cx="318.6" cy="1070.2" r="3.3"/></g>
<line x1="184.3" y1="1106.4" x2="437.7" y2="852.5" stroke="#999999" stroke-width="3.8" stroke-dasharray="16.6 15.85"/>
<path d="M184.3 852.5V1106.4H438.4" stroke="#141414" stroke-width="2.2" fill="none"/>
<line x1="207.4" y1="1106.4" x2="207.4" y2="1103.7" stroke="#141414" stroke-width="1.3"/>
<line x1="184.3" y1="1083.3" x2="187" y2="1083.3" stroke="#141414" stroke-width="1.3"/>
<line x1="220.8" y1="1106.4" x2="220.8" y2="1103.7" stroke="#141414" stroke-width="1.3"/>
<line x1="184.3" y1="1069.8" x2="187" y2="1069.8" stroke="#141414" stroke-width="1.3"/>
<line x1="230.4" y1="1106.4" x2="230.4" y2="1103.7" stroke="#141414" stroke-width="1.3"/>
<line x1="184.3" y1="1060.2" x2="187" y2="1060.2" stroke="#141414" stroke-width="1.3"/>
<line x1="237.8" y1="1106.4" x2="237.8" y2="1103.7" stroke="#141414" stroke-width="1.3"/>
<line x1="184.3" y1="1052.8" x2="187" y2="1052.8" stroke="#141414" stroke-width="1.3"/>
<line x1="243.9" y1="1106.4" x2="243.9" y2="1103.7" stroke="#141414" stroke-width="1.3"/>
<line x1="184.3" y1="1046.7" x2="187" y2="1046.7" stroke="#141414" stroke-width="1.3"/>
<line x1="249" y1="1106.4" x2="249" y2="1103.7" stroke="#141414" stroke-width="1.3"/>
<line x1="184.3" y1="1041.5" x2="187" y2="1041.5" stroke="#141414" stroke-width="1.3"/>
<line x1="253.5" y1="1106.4" x2="253.5" y2="1103.7" stroke="#141414" stroke-width="1.3"/>
<line x1="184.3" y1="1037.1" x2="187" y2="1037.1" stroke="#141414" stroke-width="1.3"/>
<line x1="257.4" y1="1106.4" x2="257.4" y2="1103.7" stroke="#141414" stroke-width="1.3"/>
<line x1="184.3" y1="1033.2" x2="187" y2="1033.2" stroke="#141414" stroke-width="1.3"/>
<line x1="260.9" y1="1106.4" x2="260.9" y2="1102.2" stroke="#141414" stroke-width="1.3"/>
<line x1="184.3" y1="1029.7" x2="188.5" y2="1029.7" stroke="#141414" stroke-width="1.3"/>
<line x1="284" y1="1106.4" x2="284" y2="1103.7" stroke="#141414" stroke-width="1.3"/>
<line x1="184.3" y1="1006.5" x2="187" y2="1006.5" stroke="#141414" stroke-width="1.3"/>
<line x1="297.4" y1="1106.4" x2="297.4" y2="1103.7" stroke="#141414" stroke-width="1.3"/>
<line x1="184.3" y1="993" x2="187" y2="993" stroke="#141414" stroke-width="1.3"/>
<line x1="307" y1="1106.4" x2="307" y2="1103.7" stroke="#141414" stroke-width="1.3"/>
<line x1="184.3" y1="983.4" x2="187" y2="983.4" stroke="#141414" stroke-width="1.3"/>
<line x1="314.4" y1="1106.4" x2="314.4" y2="1103.7" stroke="#141414" stroke-width="1.3"/>
<line x1="184.3" y1="976" x2="187" y2="976" stroke="#141414" stroke-width="1.3"/>
<line x1="320.5" y1="1106.4" x2="320.5" y2="1103.7" stroke="#141414" stroke-width="1.3"/>
<line x1="184.3" y1="969.9" x2="187" y2="969.9" stroke="#141414" stroke-width="1.3"/>
<line x1="325.6" y1="1106.4" x2="325.6" y2="1103.7" stroke="#141414" stroke-width="1.3"/>
<line x1="184.3" y1="964.8" x2="187" y2="964.8" stroke="#141414" stroke-width="1.3"/>
<line x1="330.1" y1="1106.4" x2="330.1" y2="1103.7" stroke="#141414" stroke-width="1.3"/>
<line x1="184.3" y1="960.3" x2="187" y2="960.3" stroke="#141414" stroke-width="1.3"/>
<line x1="334" y1="1106.4" x2="334" y2="1103.7" stroke="#141414" stroke-width="1.3"/>
<line x1="184.3" y1="956.4" x2="187" y2="956.4" stroke="#141414" stroke-width="1.3"/>
<line x1="337.5" y1="1106.4" x2="337.5" y2="1102.2" stroke="#141414" stroke-width="1.3"/>
<line x1="184.3" y1="952.9" x2="188.5" y2="952.9" stroke="#141414" stroke-width="1.3"/>
<line x1="360.6" y1="1106.4" x2="360.6" y2="1103.7" stroke="#141414" stroke-width="1.3"/>
<line x1="184.3" y1="929.8" x2="187" y2="929.8" stroke="#141414" stroke-width="1.3"/>
<line x1="374" y1="1106.4" x2="374" y2="1103.7" stroke="#141414" stroke-width="1.3"/>
<line x1="184.3" y1="916.3" x2="187" y2="916.3" stroke="#141414" stroke-width="1.3"/>
<line x1="383.6" y1="1106.4" x2="383.6" y2="1103.7" stroke="#141414" stroke-width="1.3"/>
<line x1="184.3" y1="906.7" x2="187" y2="906.7" stroke="#141414" stroke-width="1.3"/>
<line x1="391" y1="1106.4" x2="391" y2="1103.7" stroke="#141414" stroke-width="1.3"/>
<line x1="184.3" y1="899.3" x2="187" y2="899.3" stroke="#141414" stroke-width="1.3"/>
<line x1="397.1" y1="1106.4" x2="397.1" y2="1103.7" stroke="#141414" stroke-width="1.3"/>
<line x1="184.3" y1="893.2" x2="187" y2="893.2" stroke="#141414" stroke-width="1.3"/>
<line x1="402.2" y1="1106.4" x2="402.2" y2="1103.7" stroke="#141414" stroke-width="1.3"/>
<line x1="184.3" y1="888" x2="187" y2="888" stroke="#141414" stroke-width="1.3"/>
<line x1="406.7" y1="1106.4" x2="406.7" y2="1103.7" stroke="#141414" stroke-width="1.3"/>
<line x1="184.3" y1="883.6" x2="187" y2="883.6" stroke="#141414" stroke-width="1.3"/>
<line x1="410.6" y1="1106.4" x2="410.6" y2="1103.7" stroke="#141414" stroke-width="1.3"/>
<line x1="184.3" y1="879.7" x2="187" y2="879.7" stroke="#141414" stroke-width="1.3"/>
<line x1="414.1" y1="1106.4" x2="414.1" y2="1102.2" stroke="#141414" stroke-width="1.3"/>
<line x1="184.3" y1="876.2" x2="188.5" y2="876.2" stroke="#141414" stroke-width="1.3"/>
<line x1="437.2" y1="1106.4" x2="437.2" y2="1103.7" stroke="#141414" stroke-width="1.3"/>
<line x1="184.3" y1="853" x2="187" y2="853" stroke="#141414" stroke-width="1.3"/>
<text transform="translate(176.5,894.7)" font-size="33.3" text-anchor="end">10<tspan dy="-15.7" font-size="26.6">1</tspan></text>
<text transform="translate(414.6,1156.9)" font-size="33.3" text-anchor="middle">10<tspan dy="-15.7" font-size="26.6">1</tspan></text>
<text transform="translate(176.5,1048.2)" font-size="33.3" text-anchor="end">10<tspan dy="-15.7" font-size="26.6">-1</tspan></text>
<text transform="translate(261.9,1156.9)" font-size="33.3" text-anchor="middle">10<tspan dy="-15.7" font-size="26.6">-1</tspan></text>
<g fill="#8c8c8c"><circle cx="547.9" cy="866.2" r="2.9"/><circle cx="729.6" cy="878.8" r="2.9"/><circle cx="765.5" cy="883" r="2.9"/><circle cx="786.6" cy="883" r="2.9"/><circle cx="571.1" cy="887.3" r="2.9"/><circle cx="702.1" cy="887.3" r="2.9"/><circle cx="541.6" cy="891.6" r="2.9"/><circle cx="691.6" cy="900" r="2.9"/><circle cx="653.4" cy="902.1" r="2.9"/><circle cx="729.6" cy="902.1" r="2.9"/><circle cx="600.7" cy="904.1" r="2.9"/><circle cx="554.3" cy="914.8" r="2.9"/><circle cx="695.9" cy="912.7" r="2.9"/><circle cx="757" cy="917" r="2.9"/><circle cx="725.4" cy="923.4" r="2.9"/><circle cx="710.7" cy="929.6" r="2.9"/><circle cx="623.9" cy="933.8" r="2.9"/><circle cx="780.4" cy="938" r="2.9"/><circle cx="746.6" cy="942.3" r="2.9"/><circle cx="539.5" cy="946.6" r="2.9"/><circle cx="702.1" cy="944.3" r="2.9"/><circle cx="718.9" cy="946.6" r="2.9"/><circle cx="695.9" cy="948.6" r="2.9"/><circle cx="689.5" cy="952.9" r="2.9"/><circle cx="735.9" cy="950.9" r="2.9"/><circle cx="569.1" cy="955" r="2.9"/><circle cx="742.3" cy="959.3" r="2.9"/><circle cx="668.4" cy="961.4" r="2.9"/><circle cx="718.9" cy="967.7" r="2.9"/><circle cx="769.6" cy="972" r="2.9"/><circle cx="640.9" cy="976.2" r="2.9"/><circle cx="700" cy="984.5" r="2.9"/><circle cx="659.8" cy="995" r="2.9"/><circle cx="738" cy="997.3" r="2.9"/><circle cx="778.2" cy="999.3" r="2.9"/><circle cx="583.8" cy="1007.9" r="2.9"/><circle cx="573.2" cy="1010" r="2.9"/><circle cx="740.2" cy="1007.9" r="2.9"/><circle cx="556.4" cy="1016.4" r="2.9"/><circle cx="685.2" cy="1018.4" r="2.9"/><circle cx="632.3" cy="1024.6" r="2.9"/><circle cx="571.1" cy="1035.4" r="2.9"/><circle cx="676.8" cy="1035.4" r="2.9"/><circle cx="687.3" cy="1046.1" r="2.9"/><circle cx="761.2" cy="1048" r="2.9"/><circle cx="752.7" cy="1054.3" r="2.9"/><circle cx="630.4" cy="1058.6" r="2.9"/><circle cx="681.1" cy="1056.6" r="2.9"/><circle cx="689.5" cy="1058.6" r="2.9"/><circle cx="579.6" cy="1062.7" r="2.9"/><circle cx="647.1" cy="1062.7" r="2.9"/><circle cx="757" cy="1062.7" r="2.9"/><circle cx="780.4" cy="1062.7" r="2.9"/><circle cx="588" cy="1081.8" r="2.9"/><circle cx="712.5" cy="1083.9" r="2.9"/><circle cx="782.3" cy="1079.6" r="2.9"/><circle cx="735.9" cy="1086.1" r="2.9"/><circle cx="767.5" cy="1086.1" r="2.9"/><circle cx="771.8" cy="1090.4" r="2.9"/><circle cx="602.9" cy="1090.4" r="2.9"/><circle cx="653.6" cy="1090.4" r="2.9"/><circle cx="683" cy="1094.5" r="2.9"/></g>
<g fill="#7d0a25"><circle cx="588" cy="864.1" r="4.6"/><circle cx="668.4" cy="885.5" r="4.6"/><circle cx="719.3" cy="893.6" r="4.6"/><circle cx="712.5" cy="902.1" r="4.6"/><circle cx="748.6" cy="895.9" r="4.6"/><circle cx="706.2" cy="917" r="4.6"/><circle cx="725.4" cy="917" r="4.6"/><circle cx="619.6" cy="946.8" r="4.6"/><circle cx="655.5" cy="976.1" r="4.6"/><circle cx="645" cy="984.5" r="4.6"/><circle cx="653.6" cy="986.8" r="4.6"/><circle cx="617.5" cy="988.6" r="4.6"/><circle cx="620" cy="991.1" r="4.6"/><circle cx="653.6" cy="992.9" r="4.6"/><circle cx="676.8" cy="993" r="4.6"/><circle cx="655.5" cy="999.1" r="4.6"/><circle cx="723.2" cy="997.3" r="4.6"/><circle cx="628.2" cy="1001.4" r="4.6"/><circle cx="640.9" cy="1005.9" r="4.6"/><circle cx="668.2" cy="1020.5" r="4.6"/><circle cx="619.6" cy="1028.6" r="4.6"/><circle cx="617.5" cy="1031.2" r="4.6"/><circle cx="607" cy="1039.5" r="4.6"/><circle cx="562.7" cy="1041.6" r="4.6"/><circle cx="651.4" cy="1048" r="4.6"/><circle cx="634.5" cy="1077.7" r="4.6"/><circle cx="685" cy="1075.5" r="4.6"/></g>
<line x1="536.6" y1="1103.3" x2="790.3" y2="849.6" stroke="#999999" stroke-width="3.8" stroke-dasharray="16.6 15.85"/>
<path d="M536.6 849.6V1103.3H791" stroke="#141414" stroke-width="2.0" fill="none"/>
<line x1="592.9" y1="1103.3" x2="592.9" y2="1099.3" stroke="#141414" stroke-width="1.4"/>
<line x1="536.6" y1="1047.7" x2="540.6" y2="1047.7" stroke="#141414" stroke-width="1.4"/>
<text transform="translate(590.9,1143.8)" font-size="33.3" text-anchor="middle">-100</text>
<text transform="translate(529.3,1059.7)" font-size="33.3" text-anchor="end">-100</text>
<line x1="733.6" y1="1103.3" x2="733.6" y2="1099.3" stroke="#141414" stroke-width="1.4"/>
<line x1="536.6" y1="907" x2="540.6" y2="907" stroke="#141414" stroke-width="1.4"/>
<text transform="translate(733.6,1143.8)" font-size="33.3" text-anchor="middle">100</text>
<text transform="translate(529.3,919)" font-size="33.3" text-anchor="end">100</text>
<g fill="#000"><circle cx="331.8" cy="1262.3" r="3.3"/><circle cx="305.9" cy="1269.6" r="3.3"/><circle cx="361.1" cy="1273.4" r="3.3"/><circle cx="269.6" cy="1279.6" r="3.3"/><circle cx="394.5" cy="1276.6" r="3.3"/><circle cx="408" cy="1276.2" r="3.3"/><circle cx="363.8" cy="1287.3" r="3.3"/><circle cx="411.6" cy="1288.8" r="3.3"/><circle cx="303.2" cy="1290.2" r="3.3"/><circle cx="325" cy="1291.4" r="3.3"/><circle cx="341.8" cy="1290.2" r="3.3"/><circle cx="375.5" cy="1291.8" r="3.3"/><circle cx="400.5" cy="1292" r="3.3"/><circle cx="295.9" cy="1294.6" r="3.3"/><circle cx="320.5" cy="1295.9" r="3.3"/><circle cx="330.4" cy="1294.6" r="3.3"/><circle cx="383" cy="1297.7" r="3.3"/><circle cx="361.6" cy="1299.1" r="3.3"/><circle cx="397.3" cy="1300.4" r="3.3"/><circle cx="394.6" cy="1303" r="3.3"/><circle cx="366.1" cy="1301.6" r="3.3"/><circle cx="369.3" cy="1302.1" r="3.3"/><circle cx="307.9" cy="1303.2" r="3.3"/><circle cx="348.6" cy="1303.2" r="3.3"/><circle cx="364.3" cy="1307.5" r="3.3"/><circle cx="371.4" cy="1306.6" r="3.3"/><circle cx="384.8" cy="1309.3" r="3.3"/><circle cx="326.4" cy="1310.5" r="3.3"/><circle cx="346.4" cy="1310.2" r="3.3"/><circle cx="350" cy="1311.1" r="3.3"/><circle cx="374.1" cy="1309.3" r="3.3"/><circle cx="333.9" cy="1313.2" r="3.3"/><circle cx="337.1" cy="1313.2" r="3.3"/><circle cx="340.2" cy="1314.3" r="3.3"/><circle cx="348.2" cy="1313.8" r="3.3"/><circle cx="358" cy="1314.6" r="3.3"/><circle cx="364.3" cy="1312.9" r="3.3"/><circle cx="369.6" cy="1313.8" r="3.3"/><circle cx="378.6" cy="1312.9" r="3.3"/><circle cx="333.9" cy="1316.4" r="3.3"/><circle cx="342" cy="1317.9" r="3.3"/><circle cx="359.8" cy="1317.3" r="3.3"/><circle cx="365.2" cy="1317.9" r="3.3"/><circle cx="373.2" cy="1317.3" r="3.3"/><circle cx="303.2" cy="1317.9" r="3.3"/><circle cx="305.4" cy="1320.5" r="3.3"/><circle cx="362.5" cy="1320.9" r="3.3"/><circle cx="368.8" cy="1321.4" r="3.3"/><circle cx="374.1" cy="1320" r="3.3"/><circle cx="300.9" cy="1324.1" r="3.3"/><circle cx="323.6" cy="1323.6" r="3.3"/><circle cx="333.6" cy="1322.7" r="3.3"/><circle cx="338.4" cy="1324.1" r="3.3"/><circle cx="357.1" cy="1323.6" r="3.3"/><circle cx="364.3" cy="1324.5" r="3.3"/><circle cx="371.4" cy="1324.1" r="3.3"/><circle cx="389.3" cy="1322.3" r="3.3"/><circle cx="323.2" cy="1328" r="3.3"/><circle cx="333" cy="1326.2" r="3.3"/><circle cx="355.4" cy="1327.1" r="3.3"/><circle cx="360.7" cy="1328" r="3.3"/><circle cx="367" cy="1327.1" r="3.3"/><circle cx="373.2" cy="1327.1" r="3.3"/><circle cx="400" cy="1327.5" r="3.3"/><circle cx="405" cy="1328.2" r="3.3"/><circle cx="352.7" cy="1330.4" r="3.3"/><circle cx="358" cy="1331.6" r="3.3"/><circle cx="363.4" cy="1332.1" r="3.3"/><circle cx="369.6" cy="1330.7" r="3.3"/><circle cx="332.1" cy="1333.4" r="3.3"/><circle cx="397.3" cy="1334.3" r="3.3"/><circle cx="341.1" cy="1336.1" r="3.3"/><circle cx="345.5" cy="1335.7" r="3.3"/><circle cx="352.7" cy="1336.1" r="3.3"/><circle cx="357.1" cy="1337.9" r="3.3"/><circle cx="364.3" cy="1337.5" r="3.3"/><circle cx="375" cy="1337.3" r="3.3"/><circle cx="400" cy="1337.5" r="3.3"/><circle cx="339.3" cy="1339.3" r="3.3"/><circle cx="346.4" cy="1341.4" r="3.3"/><circle cx="376.8" cy="1340.5" r="3.3"/><circle cx="386.1" cy="1341.4" r="3.3"/><circle cx="287.7" cy="1342.5" r="3.3"/><circle cx="332.5" cy="1342.7" r="3.3"/><circle cx="337.5" cy="1343.2" r="3.3"/><circle cx="392" cy="1343.2" r="3.3"/><circle cx="301.4" cy="1345.5" r="3.3"/><circle cx="294.6" cy="1347.9" r="3.3"/><circle cx="305.4" cy="1347.7" r="3.3"/><circle cx="310.7" cy="1347.7" r="3.3"/><circle cx="323.8" cy="1347.9" r="3.3"/><circle cx="332.1" cy="1347.9" r="3.3"/><circle cx="347.3" cy="1347.3" r="3.3"/><circle cx="356.2" cy="1349.1" r="3.3"/><circle cx="363.8" cy="1348.2" r="3.3"/><circle cx="372.3" cy="1347.7" r="3.3"/><circle cx="375" cy="1345.9" r="3.3"/><circle cx="382.1" cy="1346.2" r="3.3"/><circle cx="391.1" cy="1345.5" r="3.3"/><circle cx="277.7" cy="1348.9" r="3.3"/><circle cx="282.1" cy="1350.9" r="3.3"/><circle cx="287.1" cy="1350.9" r="3.3"/><circle cx="308" cy="1348.9" r="3.3"/><circle cx="316.6" cy="1350.9" r="3.3"/><circle cx="323.8" cy="1351.6" r="3.3"/><circle cx="331.8" cy="1352.1" r="3.3"/><circle cx="362.5" cy="1351.8" r="3.3"/><circle cx="371.4" cy="1351.8" r="3.3"/><circle cx="367" cy="1353.9" r="3.3"/><circle cx="322.7" cy="1358" r="3.3"/><circle cx="396.6" cy="1356.8" r="3.3"/><circle cx="366.1" cy="1359.3" r="3.3"/><circle cx="276.6" cy="1363.2" r="3.3"/><circle cx="289.1" cy="1363" r="3.3"/><circle cx="353.2" cy="1361.6" r="3.3"/><circle cx="360.7" cy="1363.8" r="3.3"/><circle cx="376.8" cy="1363.4" r="3.3"/><circle cx="374.1" cy="1367.3" r="3.3"/><circle cx="295.7" cy="1367.9" r="3.3"/><circle cx="325" cy="1365.5" r="3.3"/><circle cx="324.1" cy="1367.3" r="3.3"/><circle cx="348.2" cy="1367.3" r="3.3"/><circle cx="330.7" cy="1370" r="3.3"/><circle cx="275.9" cy="1374.1" r="3.3"/><circle cx="342.5" cy="1373.8" r="3.3"/><circle cx="359.3" cy="1372.3" r="3.3"/><circle cx="390.2" cy="1375.2" r="3.3"/><circle cx="296.4" cy="1376.6" r="3.3"/><circle cx="289.3" cy="1378.9" r="3.3"/><circle cx="298.2" cy="1378.9" r="3.3"/><circle cx="327.7" cy="1377.5" r="3.3"/><circle cx="338.4" cy="1378" r="3.3"/><circle cx="298.8" cy="1381.6" r="3.3"/><circle cx="312.5" cy="1379.5" r="3.3"/><circle cx="338.9" cy="1384.3" r="3.3"/><circle cx="344.3" cy="1383.9" r="3.3"/><circle cx="382.5" cy="1387" r="3.3"/><circle cx="285" cy="1390" r="3.3"/><circle cx="295" cy="1388.8" r="3.3"/><circle cx="305.5" cy="1389.1" r="3.3"/><circle cx="312.5" cy="1389.3" r="3.3"/><circle cx="361.1" cy="1389.1" r="3.3"/><circle cx="315.7" cy="1392" r="3.3"/><circle cx="330.4" cy="1393.6" r="3.3"/><circle cx="332.1" cy="1392.9" r="3.3"/><circle cx="352.3" cy="1393.6" r="3.3"/><circle cx="290.2" cy="1395.5" r="3.3"/><circle cx="301.8" cy="1393.8" r="3.3"/><circle cx="303" cy="1396.8" r="3.3"/><circle cx="333.9" cy="1398.6" r="3.3"/><circle cx="303.6" cy="1400.9" r="3.3"/><circle cx="364.8" cy="1402.7" r="3.3"/><circle cx="184.3" cy="1403.9" r="3.3"/><circle cx="266.4" cy="1405.5" r="3.3"/><circle cx="310.4" cy="1405.5" r="3.3"/><circle cx="355.4" cy="1410.4" r="3.3"/><circle cx="363" cy="1412.1" r="3.3"/><circle cx="310" cy="1414.8" r="3.3"/><circle cx="320.9" cy="1418.2" r="3.3"/><circle cx="354.6" cy="1418.9" r="3.3"/><circle cx="316.6" cy="1424.5" r="3.3"/><circle cx="324.1" cy="1424.5" r="3.3"/><circle cx="287.9" cy="1426.2" r="3.3"/><circle cx="375.4" cy="1429.8" r="3.3"/><circle cx="391.1" cy="1428" r="3.3"/><circle cx="392" cy="1429.8" r="3.3"/><circle cx="370.2" cy="1433.8" r="3.3"/><circle cx="304.5" cy="1438.6" r="3.3"/><circle cx="287" cy="1440.9" r="3.3"/></g>
<line x1="199.9" y1="1498.6" x2="437.6" y2="1245.4" stroke="#999999" stroke-width="3.8" stroke-dasharray="16.6 15.85"/>
<path d="M184.3 1245.4V1498.6H438.4" stroke="#141414" stroke-width="2.2" fill="none"/>
<line x1="188.8" y1="1498.6" x2="188.8" y2="1495.9" stroke="#141414" stroke-width="1.3"/>
<line x1="193" y1="1498.6" x2="193" y2="1495.9" stroke="#141414" stroke-width="1.3"/>
<line x1="196.7" y1="1498.6" x2="196.7" y2="1495.9" stroke="#141414" stroke-width="1.3"/>
<line x1="199.9" y1="1498.6" x2="199.9" y2="1494.4" stroke="#141414" stroke-width="1.3"/>
<line x1="221.6" y1="1498.6" x2="221.6" y2="1495.9" stroke="#141414" stroke-width="1.3"/>
<line x1="184.3" y1="1475.5" x2="187" y2="1475.5" stroke="#141414" stroke-width="1.3"/>
<line x1="234.3" y1="1498.6" x2="234.3" y2="1495.9" stroke="#141414" stroke-width="1.3"/>
<line x1="184.3" y1="1462" x2="187" y2="1462" stroke="#141414" stroke-width="1.3"/>
<line x1="243.3" y1="1498.6" x2="243.3" y2="1495.9" stroke="#141414" stroke-width="1.3"/>
<line x1="184.3" y1="1452.4" x2="187" y2="1452.4" stroke="#141414" stroke-width="1.3"/>
<line x1="250.3" y1="1498.6" x2="250.3" y2="1495.9" stroke="#141414" stroke-width="1.3"/>
<line x1="184.3" y1="1445" x2="187" y2="1445" stroke="#141414" stroke-width="1.3"/>
<line x1="256" y1="1498.6" x2="256" y2="1495.9" stroke="#141414" stroke-width="1.3"/>
<line x1="184.3" y1="1438.9" x2="187" y2="1438.9" stroke="#141414" stroke-width="1.3"/>
<line x1="260.8" y1="1498.6" x2="260.8" y2="1495.9" stroke="#141414" stroke-width="1.3"/>
<line x1="184.3" y1="1433.7" x2="187" y2="1433.7" stroke="#141414" stroke-width="1.3"/>
<line x1="265" y1="1498.6" x2="265" y2="1495.9" stroke="#141414" stroke-width="1.3"/>
<line x1="184.3" y1="1429.3" x2="187" y2="1429.3" stroke="#141414" stroke-width="1.3"/>
<line x1="268.7" y1="1498.6" x2="268.7" y2="1495.9" stroke="#141414" stroke-width="1.3"/>
<line x1="184.3" y1="1425.4" x2="187" y2="1425.4" stroke="#141414" stroke-width="1.3"/>
<line x1="272" y1="1498.6" x2="272" y2="1494.4" stroke="#141414" stroke-width="1.3"/>
<line x1="184.3" y1="1421.8" x2="188.5" y2="1421.8" stroke="#141414" stroke-width="1.3"/>
<line x1="293.7" y1="1498.6" x2="293.7" y2="1495.9" stroke="#141414" stroke-width="1.3"/>
<line x1="184.3" y1="1398.7" x2="187" y2="1398.7" stroke="#141414" stroke-width="1.3"/>
<line x1="306.4" y1="1498.6" x2="306.4" y2="1495.9" stroke="#141414" stroke-width="1.3"/>
<line x1="184.3" y1="1385.2" x2="187" y2="1385.2" stroke="#141414" stroke-width="1.3"/>
<line x1="315.4" y1="1498.6" x2="315.4" y2="1495.9" stroke="#141414" stroke-width="1.3"/>
<line x1="184.3" y1="1375.6" x2="187" y2="1375.6" stroke="#141414" stroke-width="1.3"/>
<line x1="322.4" y1="1498.6" x2="322.4" y2="1495.9" stroke="#141414" stroke-width="1.3"/>
<line x1="184.3" y1="1368.2" x2="187" y2="1368.2" stroke="#141414" stroke-width="1.3"/>
<line x1="328.1" y1="1498.6" x2="328.1" y2="1495.9" stroke="#141414" stroke-width="1.3"/>
<line x1="184.3" y1="1362.1" x2="187" y2="1362.1" stroke="#141414" stroke-width="1.3"/>
<line x1="332.9" y1="1498.6" x2="332.9" y2="1495.9" stroke="#141414" stroke-width="1.3"/>
<line x1="184.3" y1="1357" x2="187" y2="1357" stroke="#141414" stroke-width="1.3"/>
<line x1="337.1" y1="1498.6" x2="337.1" y2="1495.9" stroke="#141414" stroke-width="1.3"/>
<line x1="184.3" y1="1352.5" x2="187" y2="1352.5" stroke="#141414" stroke-width="1.3"/>
<line x1="340.8" y1="1498.6" x2="340.8" y2="1495.9" stroke="#141414" stroke-width="1.3"/>
<line x1="184.3" y1="1348.6" x2="187" y2="1348.6" stroke="#141414" stroke-width="1.3"/>
<line x1="344" y1="1498.6" x2="344" y2="1494.4" stroke="#141414" stroke-width="1.3"/>
<line x1="184.3" y1="1345.1" x2="188.5" y2="1345.1" stroke="#141414" stroke-width="1.3"/>
<line x1="365.7" y1="1498.6" x2="365.7" y2="1495.9" stroke="#141414" stroke-width="1.3"/>
<line x1="184.3" y1="1322" x2="187" y2="1322" stroke="#141414" stroke-width="1.3"/>
<line x1="378.4" y1="1498.6" x2="378.4" y2="1495.9" stroke="#141414" stroke-width="1.3"/>
<line x1="184.3" y1="1308.5" x2="187" y2="1308.5" stroke="#141414" stroke-width="1.3"/>
<line x1="387.4" y1="1498.6" x2="387.4" y2="1495.9" stroke="#141414" stroke-width="1.3"/>
<line x1="184.3" y1="1298.9" x2="187" y2="1298.9" stroke="#141414" stroke-width="1.3"/>
<line x1="394.4" y1="1498.6" x2="394.4" y2="1495.9" stroke="#141414" stroke-width="1.3"/>
<line x1="184.3" y1="1291.5" x2="187" y2="1291.5" stroke="#141414" stroke-width="1.3"/>
<line x1="400.1" y1="1498.6" x2="400.1" y2="1495.9" stroke="#141414" stroke-width="1.3"/>
<line x1="184.3" y1="1285.4" x2="187" y2="1285.4" stroke="#141414" stroke-width="1.3"/>
<line x1="404.9" y1="1498.6" x2="404.9" y2="1495.9" stroke="#141414" stroke-width="1.3"/>
<line x1="184.3" y1="1280.2" x2="187" y2="1280.2" stroke="#141414" stroke-width="1.3"/>
<line x1="409.1" y1="1498.6" x2="409.1" y2="1495.9" stroke="#141414" stroke-width="1.3"/>
<line x1="184.3" y1="1275.8" x2="187" y2="1275.8" stroke="#141414" stroke-width="1.3"/>
<line x1="412.8" y1="1498.6" x2="412.8" y2="1495.9" stroke="#141414" stroke-width="1.3"/>
<line x1="184.3" y1="1271.9" x2="187" y2="1271.9" stroke="#141414" stroke-width="1.3"/>
<line x1="416.1" y1="1498.6" x2="416.1" y2="1494.4" stroke="#141414" stroke-width="1.3"/>
<line x1="184.3" y1="1268.3" x2="188.5" y2="1268.3" stroke="#141414" stroke-width="1.3"/>
<line x1="437.8" y1="1498.6" x2="437.8" y2="1495.9" stroke="#141414" stroke-width="1.3"/>
<line x1="184.3" y1="1245.2" x2="187" y2="1245.2" stroke="#141414" stroke-width="1.3"/>
<text transform="translate(176.5,1286.8)" font-size="33.3" text-anchor="end">10<tspan dy="-15.7" font-size="26.6">1</tspan></text>
<text transform="translate(416.6,1549.1)" font-size="33.3" text-anchor="middle">10<tspan dy="-15.7" font-size="26.6">1</tspan></text>
<text transform="translate(176.5,1440.3)" font-size="33.3" text-anchor="end">10<tspan dy="-15.7" font-size="26.6">-1</tspan></text>
<text transform="translate(273,1549.1)" font-size="33.3" text-anchor="middle">10<tspan dy="-15.7" font-size="26.6">-1</tspan></text>
<g fill="#8c8c8c"><circle cx="628" cy="1249.1" r="2.9"/><circle cx="748.6" cy="1247" r="2.9"/><circle cx="721.1" cy="1255.5" r="2.9"/><circle cx="543.8" cy="1257.5" r="2.9"/><circle cx="693.8" cy="1259.6" r="2.9"/><circle cx="592.1" cy="1268" r="2.9"/><circle cx="634.5" cy="1266.1" r="2.9"/><circle cx="710.7" cy="1266.1" r="2.9"/><circle cx="573.2" cy="1272.3" r="2.9"/><circle cx="613.4" cy="1270.4" r="2.9"/><circle cx="757" cy="1270.4" r="2.9"/><circle cx="704.3" cy="1289.1" r="2.9"/><circle cx="695.9" cy="1297.7" r="2.9"/><circle cx="723.2" cy="1303.9" r="2.9"/><circle cx="615.5" cy="1306.2" r="2.9"/><circle cx="750.7" cy="1308.2" r="2.9"/><circle cx="638.8" cy="1310.5" r="2.9"/><circle cx="708.4" cy="1312.3" r="2.9"/><circle cx="710.7" cy="1316.6" r="2.9"/><circle cx="769.6" cy="1325.2" r="2.9"/><circle cx="649.3" cy="1327.3" r="2.9"/><circle cx="704.1" cy="1327.3" r="2.9"/><circle cx="596.4" cy="1333.6" r="2.9"/><circle cx="613.4" cy="1333.6" r="2.9"/><circle cx="702" cy="1331.6" r="2.9"/><circle cx="611.2" cy="1340" r="2.9"/><circle cx="710.7" cy="1344.3" r="2.9"/><circle cx="642.9" cy="1346.4" r="2.9"/><circle cx="664.1" cy="1346.4" r="2.9"/><circle cx="666.2" cy="1348.6" r="2.9"/><circle cx="550" cy="1350.7" r="2.9"/><circle cx="767.5" cy="1348.6" r="2.9"/><circle cx="727.5" cy="1352.7" r="2.9"/><circle cx="693.8" cy="1354.8" r="2.9"/><circle cx="651.4" cy="1358.9" r="2.9"/><circle cx="537.3" cy="1365.5" r="2.9"/><circle cx="547.9" cy="1367.5" r="2.9"/><circle cx="562.7" cy="1367.5" r="2.9"/><circle cx="617.5" cy="1367.5" r="2.9"/><circle cx="714.8" cy="1365.4" r="2.9"/><circle cx="784.5" cy="1365.4" r="2.9"/><circle cx="638.8" cy="1371.8" r="2.9"/><circle cx="640.9" cy="1378" r="2.9"/><circle cx="596.4" cy="1382.3" r="2.9"/><circle cx="581.6" cy="1384.3" r="2.9"/><circle cx="642.9" cy="1384.3" r="2.9"/><circle cx="695.9" cy="1382.3" r="2.9"/><circle cx="693.8" cy="1384.3" r="2.9"/><circle cx="569.1" cy="1392.9" r="2.9"/><circle cx="742.3" cy="1390.7" r="2.9"/><circle cx="746.6" cy="1388.6" r="2.9"/><circle cx="748.6" cy="1390.7" r="2.9"/><circle cx="638.8" cy="1395" r="2.9"/><circle cx="630.4" cy="1405.7" r="2.9"/><circle cx="721.1" cy="1412" r="2.9"/><circle cx="537.3" cy="1420.4" r="2.9"/><circle cx="579.6" cy="1422.5" r="2.9"/><circle cx="695.9" cy="1420.4" r="2.9"/><circle cx="697.9" cy="1426.8" r="2.9"/><circle cx="704.3" cy="1426.8" r="2.9"/><circle cx="742.3" cy="1426.8" r="2.9"/><circle cx="776.1" cy="1426.8" r="2.9"/><circle cx="547.9" cy="1430.9" r="2.9"/><circle cx="721.1" cy="1428.9" r="2.9"/><circle cx="746.6" cy="1430.9" r="2.9"/><circle cx="573.2" cy="1435.2" r="2.9"/><circle cx="710.7" cy="1435.2" r="2.9"/><circle cx="717" cy="1435.2" r="2.9"/><circle cx="773.9" cy="1435.2" r="2.9"/><circle cx="552.1" cy="1439.3" r="2.9"/><circle cx="623.9" cy="1437.3" r="2.9"/><circle cx="693.8" cy="1441.6" r="2.9"/><circle cx="689.5" cy="1445.7" r="2.9"/><circle cx="581.6" cy="1445.7" r="2.9"/><circle cx="710.7" cy="1443.6" r="2.9"/><circle cx="786.6" cy="1445.7" r="2.9"/><circle cx="575.4" cy="1452" r="2.9"/><circle cx="731.6" cy="1450" r="2.9"/><circle cx="788.8" cy="1452" r="2.9"/><circle cx="767.5" cy="1456.2" r="2.9"/><circle cx="554.3" cy="1468.9" r="2.9"/><circle cx="575.4" cy="1466.8" r="2.9"/><circle cx="786.6" cy="1466.8" r="2.9"/><circle cx="668.2" cy="1477.3" r="2.9"/><circle cx="761.2" cy="1479.5" r="2.9"/><circle cx="562.7" cy="1485.9" r="2.9"/><circle cx="695.9" cy="1487.9" r="2.9"/><circle cx="562.7" cy="1494.1" r="2.9"/><circle cx="742.3" cy="1498.6" r="2.9"/></g>
<g fill="#7d0a25"><circle cx="691.4" cy="1249.1" r="4.6"/><circle cx="547.9" cy="1259.6" r="4.6"/><circle cx="571.1" cy="1257.7" r="4.6"/><circle cx="659.8" cy="1259.6" r="4.6"/><circle cx="632.3" cy="1280.9" r="4.6"/><circle cx="708.4" cy="1278.8" r="4.6"/><circle cx="757" cy="1297.9" r="4.6"/><circle cx="731.6" cy="1306.2" r="4.6"/><circle cx="729.8" cy="1310.2" r="4.6"/><circle cx="581.6" cy="1314.5" r="4.6"/><circle cx="664.1" cy="1325.2" r="4.6"/><circle cx="729.6" cy="1327.1" r="4.6"/><circle cx="731.6" cy="1333.6" r="4.6"/><circle cx="708.4" cy="1333.6" r="4.6"/><circle cx="581.6" cy="1335.7" r="4.6"/><circle cx="685.4" cy="1339.3" r="4.6"/><circle cx="689.3" cy="1339.3" r="4.6"/><circle cx="695.9" cy="1344.1" r="4.6"/><circle cx="683" cy="1346.4" r="4.6"/><circle cx="537.3" cy="1348.6" r="4.6"/><circle cx="778.2" cy="1352.7" r="4.6"/><circle cx="738" cy="1371.8" r="4.6"/><circle cx="680.9" cy="1382.3" r="4.6"/><circle cx="674.6" cy="1397.1" r="4.6"/><circle cx="729.6" cy="1395" r="4.6"/><circle cx="607" cy="1418.2" r="4.6"/><circle cx="609.3" cy="1427.1" r="4.6"/><circle cx="602.9" cy="1431.2" r="4.6"/><circle cx="594.5" cy="1435" r="4.6"/><circle cx="585.9" cy="1439.3" r="4.6"/><circle cx="600.7" cy="1460.7" r="4.6"/><circle cx="773.9" cy="1475.4" r="4.6"/><circle cx="674.6" cy="1483.8" r="4.6"/><circle cx="592.3" cy="1490.2" r="4.6"/><circle cx="541.6" cy="1497.3" r="4.6"/></g>
<line x1="536.6" y1="1498.8" x2="790" y2="1245.4" stroke="#999999" stroke-width="3.8" stroke-dasharray="16.6 15.85"/>
<path d="M536.6 1245.4V1498.8H791" stroke="#141414" stroke-width="2.0" fill="none"/>
<line x1="592.9" y1="1498.8" x2="592.9" y2="1494.8" stroke="#141414" stroke-width="1.4"/>
<line x1="536.6" y1="1443.3" x2="540.6" y2="1443.3" stroke="#141414" stroke-width="1.4"/>
<text transform="translate(590.9,1539.3)" font-size="33.3" text-anchor="middle">-100</text>
<text transform="translate(529.3,1455.3)" font-size="33.3" text-anchor="end">-100</text>
<line x1="733.6" y1="1498.8" x2="733.6" y2="1494.8" stroke="#141414" stroke-width="1.4"/>
<line x1="536.6" y1="1302.7" x2="540.6" y2="1302.7" stroke="#141414" stroke-width="1.4"/>
<text transform="translate(733.6,1539.3)" font-size="33.3" text-anchor="middle">100</text>
<text transform="translate(529.3,1314.7)" font-size="33.3" text-anchor="end">100</text>
<text transform="translate(27.5,51)" font-size="72" text-anchor="middle" font-weight="bold" fill="#000">a</text>
<text transform="translate(58,224.5) rotate(-90)" font-size="36.7" text-anchor="middle">FR -</text>
<text transform="translate(103.5,172) rotate(-90)" font-size="36.7" text-anchor="middle">Checkered (Hz)</text>
<text transform="translate(280,383.5)" font-size="36.7" text-anchor="middle">FR -</text>
<text transform="translate(311,428.5)" font-size="36.7" text-anchor="middle">Striped (Hz)</text>
<text transform="translate(452,159.3) rotate(-90)" font-size="36.7" text-anchor="middle">Checkered</text>
<text transform="translate(507,164) rotate(-90)" font-size="36.7" text-anchor="middle">(<tspan dy="-17.4" font-size="30">o</tspan><tspan dy="17.4">)</tspan></text>
<text transform="translate(663.5,373)" font-size="36.7" text-anchor="middle">Preferred angle -</text>
<text transform="translate(648,428.5)" font-size="36.7" text-anchor="middle">Striped (<tspan dy="-17.4" font-size="30">o</tspan><tspan dy="17.4">)</tspan></text>
<text transform="translate(102,600) rotate(-90)" font-size="36.7" text-anchor="middle">Blue</text>
<text transform="translate(311,821)" font-size="36.7" text-anchor="middle">Green</text>
<text transform="translate(102,980) rotate(-90)" font-size="36.7" text-anchor="middle">Random</text>
<text transform="translate(311,1201.3)" font-size="36.7" text-anchor="middle">Systematic</text>
<text transform="translate(102,1372) rotate(-90)" font-size="36.7" text-anchor="middle">Day 2</text>
<text transform="translate(311,1593.5)" font-size="36.7" text-anchor="middle">Day 1</text>
<rect x="985.4" y="171.8" width="65.9" height="80.7" fill="#7d0a25" fill-opacity="0.25" stroke="#000" stroke-width="2"/>
<line x1="986.4" y1="212.1" x2="1050.3" y2="212.1" stroke="#7d0a25" stroke-width="6.2"/>
<rect x="1067.2" y="224.3" width="66.2" height="64.4" fill="#7d0a25" fill-opacity="0.25" stroke="#000" stroke-width="2"/>
<line x1="1068.2" y1="256.5" x2="1132.4" y2="256.5" stroke="#7d0a25" stroke-width="6.2"/>
<rect x="1149.4" y="215.3" width="65.8" height="73.4" fill="#7d0a25" fill-opacity="0.25" stroke="#000" stroke-width="2"/>
<line x1="1150.4" y1="251.6" x2="1214.2" y2="251.6" stroke="#7d0a25" stroke-width="6.2"/>
<rect x="1231.2" y="229.5" width="66.2" height="52.6" fill="#7d0a25" fill-opacity="0.25" stroke="#000" stroke-width="2"/>
<line x1="1232.2" y1="256" x2="1296.4" y2="256" stroke="#7d0a25" stroke-width="6.2"/>
<rect x="985.4" y="35.4" width="65.9" height="157.6" fill="#000" fill-opacity="0.19" stroke="#000" stroke-width="2"/>
<line x1="986.4" y1="114" x2="1050.3" y2="114" stroke="#000" stroke-width="6.2" stroke-opacity="0.31"/>
<rect x="1067.2" y="114.6" width="66.2" height="86.5" fill="#000" fill-opacity="0.19" stroke="#000" stroke-width="2"/>
<line x1="1068.2" y1="158.2" x2="1132.4" y2="158.2" stroke="#000" stroke-width="6.2" stroke-opacity="0.31"/>
<rect x="1149.4" y="129.7" width="65.8" height="88.5" fill="#000" fill-opacity="0.19" stroke="#000" stroke-width="2"/>
<line x1="1150.4" y1="174.1" x2="1214.2" y2="174.1" stroke="#000" stroke-width="6.2" stroke-opacity="0.31"/>
<rect x="1231.2" y="134.4" width="66.2" height="66.4" fill="#000" fill-opacity="0.19" stroke="#000" stroke-width="2"/>
<line x1="1232.2" y1="168" x2="1296.4" y2="168" stroke="#000" stroke-width="6.2" stroke-opacity="0.31"/>
<path d="M985.4 35.4V288.7H1297.4" stroke="#141414" stroke-width="2" fill="none"/>
<line x1="1018.3" y1="288.7" x2="1018.3" y2="284.7" stroke="#141414" stroke-width="1.4"/>
<line x1="1100.3" y1="288.7" x2="1100.3" y2="284.7" stroke="#141414" stroke-width="1.4"/>
<line x1="1182.3" y1="288.7" x2="1182.3" y2="284.7" stroke="#141414" stroke-width="1.4"/>
<line x1="1264.3" y1="288.7" x2="1264.3" y2="284.7" stroke="#141414" stroke-width="1.4"/>
<line x1="985.4" y1="135.8" x2="989.6" y2="135.8" stroke="#141414" stroke-width="1.4"/>
<text transform="translate(978.5,147.8)" font-size="33.3" text-anchor="end">0.07</text>
<line x1="985.4" y1="252.5" x2="989.6" y2="252.5" stroke="#141414" stroke-width="1.4"/>
<text transform="translate(978.5,264.5)" font-size="33.3" text-anchor="end">0.05</text>
<rect x="1149.4" y="419.3" width="65.8" height="35.7" fill="#7d0a25" fill-opacity="0.25" stroke="#000" stroke-width="2"/>
<line x1="1150.4" y1="437.3" x2="1214.2" y2="437.3" stroke="#7d0a25" stroke-width="6.2"/>
<rect x="1231.2" y="419.9" width="66.2" height="34.5" fill="#7d0a25" fill-opacity="0.25" stroke="#000" stroke-width="2"/>
<line x1="1232.2" y1="437.3" x2="1296.4" y2="437.3" stroke="#7d0a25" stroke-width="6.2"/>
<rect x="1067.2" y="479.4" width="66.2" height="50.5" fill="#7d0a25" fill-opacity="0.25" stroke="#000" stroke-width="2"/>
<line x1="1068.2" y1="504.9" x2="1132.4" y2="504.9" stroke="#7d0a25" stroke-width="6.2"/>
<rect x="985.4" y="542.1" width="65.9" height="40" fill="#7d0a25" fill-opacity="0.25" stroke="#000" stroke-width="2"/>
<line x1="986.4" y1="561.8" x2="1050.3" y2="561.8" stroke="#7d0a25" stroke-width="6.2"/>
<rect x="985.4" y="332.3" width="65.9" height="43.5" fill="#000" fill-opacity="0.19" stroke="#000" stroke-width="2"/>
<line x1="986.4" y1="354" x2="1050.3" y2="354" stroke="#000" stroke-width="6.2" stroke-opacity="0.31"/>
<rect x="1067.2" y="328.5" width="66.2" height="51.1" fill="#000" fill-opacity="0.19" stroke="#000" stroke-width="2"/>
<line x1="1068.2" y1="354" x2="1132.4" y2="354" stroke="#000" stroke-width="6.2" stroke-opacity="0.31"/>
<rect x="1149.4" y="334.6" width="65.8" height="38.9" fill="#000" fill-opacity="0.19" stroke="#000" stroke-width="2"/>
<line x1="1150.4" y1="354" x2="1214.2" y2="354" stroke="#000" stroke-width="6.2" stroke-opacity="0.31"/>
<rect x="1231.2" y="338.1" width="66.2" height="31.6" fill="#000" fill-opacity="0.19" stroke="#000" stroke-width="2"/>
<line x1="1232.2" y1="354" x2="1296.4" y2="354" stroke="#000" stroke-width="6.2" stroke-opacity="0.31"/>
<path d="M985.4 327.9V582.1H1297.4" stroke="#141414" stroke-width="2" fill="none"/>
<line x1="1018.3" y1="582.1" x2="1018.3" y2="578.1" stroke="#141414" stroke-width="1.4"/>
<line x1="1100.3" y1="582.1" x2="1100.3" y2="578.1" stroke="#141414" stroke-width="1.4"/>
<line x1="1182.3" y1="582.1" x2="1182.3" y2="578.1" stroke="#141414" stroke-width="1.4"/>
<line x1="1264.3" y1="582.1" x2="1264.3" y2="578.1" stroke="#141414" stroke-width="1.4"/>
<line x1="985.4" y1="354" x2="989.6" y2="354" stroke="#141414" stroke-width="1.4"/>
<text transform="translate(978.5,366)" font-size="33.3" text-anchor="end">90</text>
<line x1="985.4" y1="510.2" x2="989.6" y2="510.2" stroke="#141414" stroke-width="1.4"/>
<text transform="translate(978.5,522.2)" font-size="33.3" text-anchor="end">45</text>
<rect x="985.4" y="626.8" width="65.9" height="59.2" fill="#7d0a25" fill-opacity="0.25" stroke="#000" stroke-width="2"/>
<line x1="986.4" y1="656.7" x2="1050.3" y2="656.7" stroke="#7d0a25" stroke-width="6.2"/>
<rect x="1067.2" y="678.8" width="66.2" height="77.2" fill="#7d0a25" fill-opacity="0.25" stroke="#000" stroke-width="2"/>
<line x1="1068.2" y1="717.1" x2="1132.4" y2="717.1" stroke="#7d0a25" stroke-width="6.2"/>
<rect x="1149.4" y="822.1" width="65.8" height="58" fill="#7d0a25" fill-opacity="0.25" stroke="#000" stroke-width="2"/>
<line x1="1150.4" y1="851.1" x2="1214.2" y2="851.1" stroke="#7d0a25" stroke-width="6.2"/>
<rect x="1231.2" y="725.2" width="66.2" height="44.1" fill="#7d0a25" fill-opacity="0.25" stroke="#000" stroke-width="2"/>
<line x1="1232.2" y1="747.2" x2="1296.4" y2="747.2" stroke="#7d0a25" stroke-width="6.2"/>
<rect x="985.4" y="748.1" width="65.9" height="56.3" fill="#000" fill-opacity="0.19" stroke="#000" stroke-width="2"/>
<line x1="986.4" y1="776" x2="1050.3" y2="776" stroke="#000" stroke-width="6.2" stroke-opacity="0.31"/>
<rect x="1067.2" y="796.6" width="66.2" height="64.1" fill="#000" fill-opacity="0.19" stroke="#000" stroke-width="2"/>
<line x1="1068.2" y1="828.5" x2="1132.4" y2="828.5" stroke="#000" stroke-width="6.2" stroke-opacity="0.31"/>
<rect x="1149.4" y="802.4" width="65.8" height="53.1" fill="#000" fill-opacity="0.19" stroke="#000" stroke-width="2"/>
<line x1="1150.4" y1="826.5" x2="1214.2" y2="826.5" stroke="#000" stroke-width="6.2" stroke-opacity="0.31"/>
<rect x="1231.2" y="809.9" width="66.2" height="38.6" fill="#000" fill-opacity="0.19" stroke="#000" stroke-width="2"/>
<line x1="1232.2" y1="829.1" x2="1296.4" y2="829.1" stroke="#000" stroke-width="6.2" stroke-opacity="0.31"/>
<path d="M985.4 626.8V880.1H1297.4" stroke="#141414" stroke-width="2" fill="none"/>
<line x1="1018.3" y1="880.1" x2="1018.3" y2="876.1" stroke="#141414" stroke-width="1.4"/>
<line x1="1100.3" y1="880.1" x2="1100.3" y2="876.1" stroke="#141414" stroke-width="1.4"/>
<line x1="1182.3" y1="880.1" x2="1182.3" y2="876.1" stroke="#141414" stroke-width="1.4"/>
<line x1="1264.3" y1="880.1" x2="1264.3" y2="876.1" stroke="#141414" stroke-width="1.4"/>
<line x1="985.4" y1="632" x2="989.6" y2="632" stroke="#141414" stroke-width="1.4"/>
<text transform="translate(978.5,644)" font-size="33.3" text-anchor="end">0.7</text>
<line x1="985.4" y1="786.7" x2="989.6" y2="786.7" stroke="#141414" stroke-width="1.4"/>
<text transform="translate(978.5,798.7)" font-size="33.3" text-anchor="end">0.6</text>
<text transform="translate(912,52.5)" font-size="72" text-anchor="middle" font-weight="bold" fill="#000">b</text>
<text transform="translate(859.6,191.5) rotate(-90)" font-size="36.7" text-anchor="middle">Sparsity</text>
<text transform="translate(906.5,191.5) rotate(-90)" font-size="36.7" text-anchor="middle">difference</text>
<text transform="translate(953,188.5) rotate(-90)" font-size="36.7" text-anchor="middle">(z)</text>
<text transform="translate(875,455.4) rotate(-90)" font-size="36.7" text-anchor="middle">Pref. Angle</text>
<text transform="translate(928.6,455.4) rotate(-90)" font-size="36.7" text-anchor="middle">difference (<tspan dy="-17.4" font-size="30">o</tspan><tspan dy="17.4">)</tspan></text>
<text transform="translate(875,753.5) rotate(-90)" font-size="36.7" text-anchor="middle">Cross correlation</text>
<text transform="translate(921.6,752) rotate(-90)" font-size="36.7" text-anchor="middle">peak value</text>
<text transform="translate(1037,916.5) rotate(-30)" font-size="33.3" text-anchor="end">Pattern</text>
<text transform="translate(1115,913.5) rotate(-30)" font-size="33.3" text-anchor="end">Color</text>
<text transform="translate(1198,916.5) rotate(-30)" font-size="33.3" text-anchor="end">Predictibility</text>
<text transform="translate(1280,913.5) rotate(-30)" font-size="33.3" text-anchor="end">Day</text>
<ellipse cx="1098.5" cy="1205.6" rx="133.2" ry="102.6" fill="#0000ff"/>
<ellipse cx="1187.6" cy="1205.6" rx="126.7" ry="97.6" fill="#ff0000" fill-opacity="0.6" stroke="#e8141c" stroke-width="1.6"/>
<text transform="translate(909.5,1106.4)" font-size="72" text-anchor="middle" font-weight="bold" fill="#000">c</text>
<text transform="translate(871,1164)" font-size="41.3" font-weight="bold" fill="#0000e6">CCW</text>
<text transform="translate(871,1216)" font-size="41.3" font-weight="bold" fill="#0000e6">only</text>
<text transform="translate(871,1269.8)" font-size="41.3" font-weight="bold" fill="#0000e6">9%</text>
<text transform="translate(1353,1164)" font-size="41.3" text-anchor="middle" font-weight="bold" fill="#ee0000">CW</text>
<text transform="translate(1360.5,1216)" font-size="41.3" text-anchor="middle" font-weight="bold" fill="#ee0000">only</text>
<text transform="translate(1359,1269.8)" font-size="41.3" text-anchor="middle" font-weight="bold" fill="#ee0000">7%</text>
<text transform="translate(1151,1203)" font-size="41.3" text-anchor="middle" font-weight="bold" fill="#fff">Bidirectional</text>
<text transform="translate(1125,1255.5)" font-size="41.3" text-anchor="middle" font-weight="bold" fill="#fff">10%</text>
<clipPath id="hc1"><rect x="1453.2" y="35.2" width="311" height="253.4"/></clipPath>
<g clip-path="url(#hc1)"><g filter="url(#vb1)">
<filter id="vb1" x="-5%" y="-5%" width="110%" height="110%"><feGaussianBlur stdDeviation="0.5 0.6"/></filter>
<linearGradient id="h1"><stop offset="0" stop-color="#00cdff"/><stop offset=".056" stop-color="#0056ff"/><stop offset=".278" stop-color="#0056ff"/><stop offset=".333" stop-color="#0091ff"/><stop offset=".385" stop-color="#00ffff"/><stop offset=".389" stop-color="#09fff6"/><stop offset=".444" stop-color="#44ffbb"/><stop offset=".529" stop-color="#ffff00"/><stop offset=".556" stop-color="#ffc500"/><stop offset=".611" stop-color="#ff8700"/><stop offset=".667" stop-color="#ff8700"/><stop offset=".722" stop-color="#ff0b00"/><stop offset=".805" stop-color="#ff0000"/><stop offset=".806" stop-color="#ff0000"/><stop offset=".806" stop-color="#ff0000"/><stop offset=".833" stop-color="#ff0b00"/><stop offset=".889" stop-color="#ffc500"/><stop offset=".915" stop-color="#ffff00"/><stop offset=".944" stop-color="#bdff42"/><stop offset="1" stop-color="#80ff80"/></linearGradient><rect x="1453.2" y="29.20" width="311" height="16.54" fill="url(#h1)"/>
<linearGradient id="h2"><stop offset="0" stop-color="#00cdff"/><stop offset=".056" stop-color="#00cdff"/><stop offset=".111" stop-color="#0091ff"/><stop offset=".167" stop-color="#001bff"/><stop offset=".194" stop-color="#000cff"/><stop offset=".222" stop-color="#001bff"/><stop offset=".278" stop-color="#0091ff"/><stop offset=".381" stop-color="#00ffff"/><stop offset=".389" stop-color="#09fff6"/><stop offset=".444" stop-color="#80ff80"/><stop offset=".483" stop-color="#ffff00"/><stop offset=".5" stop-color="#ffc500"/><stop offset=".528" stop-color="#ff9a00"/><stop offset=".556" stop-color="#ff8700"/><stop offset=".611" stop-color="#ff8700"/><stop offset=".667" stop-color="#ff0b00"/><stop offset=".694" stop-color="#ff3a00"/><stop offset=".75" stop-color="#ffcd00"/><stop offset=".776" stop-color="#ffff00"/><stop offset=".778" stop-color="#fbff04"/><stop offset=".889" stop-color="#fbff04"/><stop offset="1" stop-color="#80ff80"/></linearGradient><rect x="1453.2" y="45.34" width="311" height="10.54" fill="url(#h2)"/>
<linearGradient id="h3"><stop offset="0" stop-color="#0056ff"/><stop offset=".04" stop-color="#0000ff"/><stop offset=".056" stop-color="#0000de"/><stop offset=".083" stop-color="#0000cc"/><stop offset=".111" stop-color="#0000de"/><stop offset=".121" stop-color="#0000ff"/><stop offset=".167" stop-color="#0091ff"/><stop offset=".194" stop-color="#00d8ff"/><stop offset=".217" stop-color="#00ffff"/><stop offset=".222" stop-color="#09fff6"/><stop offset=".278" stop-color="#09fff6"/><stop offset=".306" stop-color="#1bffe4"/><stop offset=".333" stop-color="#44ffbb"/><stop offset=".389" stop-color="#fbff04"/><stop offset=".391" stop-color="#ffff00"/><stop offset=".5" stop-color="#ff0b00"/><stop offset=".667" stop-color="#ff0b00"/><stop offset=".694" stop-color="#ff3e00"/><stop offset=".75" stop-color="#ffe000"/><stop offset=".759" stop-color="#ffff00"/><stop offset=".806" stop-color="#58ffa7"/><stop offset=".833" stop-color="#09fff6"/><stop offset=".889" stop-color="#09fff6"/><stop offset=".897" stop-color="#00ffff"/><stop offset=".944" stop-color="#00cdff"/><stop offset="1" stop-color="#0056ff"/></linearGradient><rect x="1453.2" y="55.47" width="311" height="10.54" fill="url(#h3)"/>
<linearGradient id="h4"><stop offset="0" stop-color="#0056ff"/><stop offset=".111" stop-color="#0056ff"/><stop offset=".269" stop-color="#00ffff"/><stop offset=".389" stop-color="#80ff80"/><stop offset=".444" stop-color="#fbff04"/><stop offset=".446" stop-color="#ffff00"/><stop offset=".5" stop-color="#ff4900"/><stop offset=".533" stop-color="#ff0000"/><stop offset=".556" stop-color="#cd0000"/><stop offset=".583" stop-color="#a20000"/><stop offset=".611" stop-color="#8f0000"/><stop offset=".639" stop-color="#9a0000"/><stop offset=".667" stop-color="#cd0000"/><stop offset=".678" stop-color="#ff0000"/><stop offset=".722" stop-color="#ffc500"/><stop offset=".74" stop-color="#ffff00"/><stop offset=".778" stop-color="#80ff80"/><stop offset=".833" stop-color="#09fff6"/><stop offset=".836" stop-color="#00ffff"/><stop offset=".889" stop-color="#0056ff"/><stop offset=".917" stop-color="#004bff"/><stop offset="1" stop-color="#0056ff"/></linearGradient><rect x="1453.2" y="65.61" width="311" height="10.54" fill="url(#h4)"/>
<linearGradient id="h5"><stop offset="0" stop-color="#09fff6"/><stop offset=".008" stop-color="#00ffff"/><stop offset=".056" stop-color="#00cdff"/><stop offset=".111" stop-color="#0056ff"/><stop offset=".167" stop-color="#001bff"/><stop offset=".278" stop-color="#001bff"/><stop offset=".306" stop-color="#002dff"/><stop offset=".333" stop-color="#0056ff"/><stop offset=".386" stop-color="#00ffff"/><stop offset=".444" stop-color="#bdff42"/><stop offset=".459" stop-color="#ffff00"/><stop offset=".5" stop-color="#ff4900"/><stop offset=".528" stop-color="#ff1b00"/><stop offset=".583" stop-color="#ff0800"/><stop offset=".667" stop-color="#ff0b00"/><stop offset=".833" stop-color="#ffc500"/><stop offset=".859" stop-color="#ffff00"/><stop offset=".889" stop-color="#bdff42"/><stop offset=".944" stop-color="#09fff6"/><stop offset=".966" stop-color="#00ffff"/><stop offset=".972" stop-color="#00fdff"/><stop offset=".978" stop-color="#00ffff"/><stop offset="1" stop-color="#09fff6"/></linearGradient><rect x="1453.2" y="75.74" width="311" height="10.54" fill="url(#h5)"/>
<linearGradient id="h6"><stop offset="0" stop-color="#0091ff"/><stop offset=".222" stop-color="#0091ff"/><stop offset=".325" stop-color="#00ffff"/><stop offset=".333" stop-color="#09fff6"/><stop offset=".389" stop-color="#80ff80"/><stop offset=".427" stop-color="#ffff00"/><stop offset=".5" stop-color="#ff0b00"/><stop offset=".507" stop-color="#ff0000"/><stop offset=".528" stop-color="#e00000"/><stop offset=".583" stop-color="#c10000"/><stop offset=".611" stop-color="#cd0000"/><stop offset=".639" stop-color="#ff0000"/><stop offset=".639" stop-color="#ff0000"/><stop offset=".667" stop-color="#ff4900"/><stop offset=".721" stop-color="#ffff00"/><stop offset=".722" stop-color="#fbff04"/><stop offset=".778" stop-color="#fbff04"/><stop offset=".833" stop-color="#80ff80"/><stop offset=".944" stop-color="#09fff6"/><stop offset="1" stop-color="#09fff6"/></linearGradient><rect x="1453.2" y="85.88" width="311" height="10.54" fill="url(#h6)"/>
<linearGradient id="h7"><stop offset="0" stop-color="#0091ff"/><stop offset=".111" stop-color="#0091ff"/><stop offset=".167" stop-color="#0056ff"/><stop offset=".194" stop-color="#0069ff"/><stop offset=".25" stop-color="#00c5ff"/><stop offset=".271" stop-color="#00ffff"/><stop offset=".306" stop-color="#5fffa0"/><stop offset=".353" stop-color="#ffff00"/><stop offset=".389" stop-color="#ff8700"/><stop offset=".417" stop-color="#ff3e00"/><stop offset=".444" stop-color="#ff0b00"/><stop offset=".5" stop-color="#ff0b00"/><stop offset=".51" stop-color="#ff0000"/><stop offset=".556" stop-color="#cd0000"/><stop offset=".601" stop-color="#ff0000"/><stop offset=".611" stop-color="#ff0b00"/><stop offset=".639" stop-color="#ff0000"/><stop offset=".639" stop-color="#ff0000"/><stop offset=".639" stop-color="#ff0000"/><stop offset=".667" stop-color="#ff0b00"/><stop offset=".721" stop-color="#ffff00"/><stop offset=".722" stop-color="#fbff04"/><stop offset=".75" stop-color="#b2ff4d"/><stop offset=".806" stop-color="#62ff9d"/><stop offset=".833" stop-color="#44ffbb"/><stop offset=".865" stop-color="#00ffff"/><stop offset=".889" stop-color="#00cdff"/><stop offset=".944" stop-color="#0091ff"/><stop offset="1" stop-color="#0091ff"/></linearGradient><rect x="1453.2" y="96.02" width="311" height="10.54" fill="url(#h7)"/>
<linearGradient id="h8"><stop offset="0" stop-color="#fbff04"/><stop offset=".003" stop-color="#ffff00"/><stop offset=".056" stop-color="#ffc500"/><stop offset=".222" stop-color="#ffc500"/><stop offset=".25" stop-color="#fff400"/><stop offset=".254" stop-color="#ffff00"/><stop offset=".278" stop-color="#bdff42"/><stop offset=".322" stop-color="#00ffff"/><stop offset=".333" stop-color="#00cdff"/><stop offset=".361" stop-color="#009cff"/><stop offset=".389" stop-color="#0091ff"/><stop offset=".417" stop-color="#00a0ff"/><stop offset=".444" stop-color="#00cdff"/><stop offset=".46" stop-color="#00ffff"/><stop offset=".5" stop-color="#80ff80"/><stop offset=".528" stop-color="#ebff14"/><stop offset=".535" stop-color="#ffff00"/><stop offset=".556" stop-color="#ffc500"/><stop offset=".583" stop-color="#ffd100"/><stop offset=".61" stop-color="#ffff00"/><stop offset=".639" stop-color="#ccff33"/><stop offset=".667" stop-color="#80ff80"/><stop offset=".691" stop-color="#00ffff"/><stop offset=".722" stop-color="#0056ff"/><stop offset=".75" stop-color="#0026ff"/><stop offset=".806" stop-color="#0013ff"/><stop offset=".861" stop-color="#002dff"/><stop offset=".889" stop-color="#0056ff"/><stop offset=".917" stop-color="#00a4ff"/><stop offset=".942" stop-color="#00ffff"/><stop offset=".944" stop-color="#09fff6"/><stop offset=".972" stop-color="#8dff72"/><stop offset="1" stop-color="#fbff04"/></linearGradient><rect x="1453.2" y="106.15" width="311" height="10.54" fill="url(#h8)"/>
<linearGradient id="h9"><stop offset="0" stop-color="#09fff6"/><stop offset=".278" stop-color="#09fff6"/><stop offset=".333" stop-color="#44ffbb"/><stop offset=".389" stop-color="#44ffbb"/><stop offset=".417" stop-color="#75ff8a"/><stop offset=".444" stop-color="#bdff42"/><stop offset=".464" stop-color="#ffff00"/><stop offset=".5" stop-color="#ff8700"/><stop offset=".528" stop-color="#ff3e00"/><stop offset=".556" stop-color="#ff0b00"/><stop offset=".576" stop-color="#ff0000"/><stop offset=".583" stop-color="#fb0000"/><stop offset=".59" stop-color="#ff0000"/><stop offset=".611" stop-color="#ff0b00"/><stop offset=".722" stop-color="#ffff00"/><stop offset=".833" stop-color="#09fff6"/><stop offset="1" stop-color="#09fff6"/></linearGradient><rect x="1453.2" y="116.29" width="311" height="10.54" fill="url(#h9)"/>
<linearGradient id="h10"><stop offset="0" stop-color="#0000de"/><stop offset=".111" stop-color="#0000de"/><stop offset=".142" stop-color="#0000ff"/><stop offset=".278" stop-color="#0091ff"/><stop offset=".306" stop-color="#00c1ff"/><stop offset=".33" stop-color="#00ffff"/><stop offset=".333" stop-color="#09fff6"/><stop offset=".389" stop-color="#fbff04"/><stop offset=".39" stop-color="#ffff00"/><stop offset=".417" stop-color="#ff9b00"/><stop offset=".444" stop-color="#ff4900"/><stop offset=".472" stop-color="#ff1f00"/><stop offset=".528" stop-color="#ff0800"/><stop offset=".722" stop-color="#ff0b00"/><stop offset=".75" stop-color="#ff3e00"/><stop offset=".806" stop-color="#ffe000"/><stop offset=".815" stop-color="#ffff00"/><stop offset=".893" stop-color="#00ffff"/><stop offset=".944" stop-color="#0056ff"/><stop offset=".972" stop-color="#002dff"/><stop offset="1" stop-color="#001bff"/></linearGradient><rect x="1453.2" y="126.42" width="311" height="10.54" fill="url(#h10)"/>
<linearGradient id="h11"><stop offset="0" stop-color="#09fff6"/><stop offset=".111" stop-color="#09fff6"/><stop offset=".124" stop-color="#00ffff"/><stop offset=".139" stop-color="#00f5ff"/><stop offset=".167" stop-color="#00cdff"/><stop offset=".222" stop-color="#001bff"/><stop offset=".25" stop-color="#0008ff"/><stop offset=".278" stop-color="#001bff"/><stop offset=".385" stop-color="#00ffff"/><stop offset=".389" stop-color="#09fff6"/><stop offset=".464" stop-color="#ffff00"/><stop offset=".5" stop-color="#ff8700"/><stop offset=".528" stop-color="#ff7800"/><stop offset=".583" stop-color="#ffa200"/><stop offset=".664" stop-color="#ffff00"/><stop offset=".861" stop-color="#1bffe4"/><stop offset=".889" stop-color="#09fff6"/><stop offset=".944" stop-color="#80ff80"/><stop offset="1" stop-color="#80ff80"/></linearGradient><rect x="1453.2" y="136.56" width="311" height="10.54" fill="url(#h11)"/>
<linearGradient id="h12"><stop offset="0" stop-color="#0091ff"/><stop offset=".056" stop-color="#0091ff"/><stop offset=".158" stop-color="#00ffff"/><stop offset=".167" stop-color="#09fff6"/><stop offset=".333" stop-color="#09fff6"/><stop offset=".361" stop-color="#39ffc6"/><stop offset=".417" stop-color="#d8ff27"/><stop offset=".428" stop-color="#ffff00"/><stop offset=".5" stop-color="#ff0b00"/><stop offset=".504" stop-color="#ff0000"/><stop offset=".528" stop-color="#bd0000"/><stop offset=".556" stop-color="#8f0000"/><stop offset=".583" stop-color="#970000"/><stop offset=".611" stop-color="#cd0000"/><stop offset=".622" stop-color="#ff0000"/><stop offset=".667" stop-color="#ffc500"/><stop offset=".682" stop-color="#ffff00"/><stop offset=".694" stop-color="#cdff32"/><stop offset=".722" stop-color="#80ff80"/><stop offset=".778" stop-color="#80ff80"/><stop offset=".889" stop-color="#09fff6"/><stop offset=".893" stop-color="#00ffff"/><stop offset=".944" stop-color="#0091ff"/><stop offset="1" stop-color="#0091ff"/></linearGradient><rect x="1453.2" y="146.70" width="311" height="10.54" fill="url(#h12)"/>
<linearGradient id="h13"><stop offset="0" stop-color="#0000de"/><stop offset=".111" stop-color="#0000de"/><stop offset=".126" stop-color="#0000ff"/><stop offset=".222" stop-color="#00cdff"/><stop offset=".238" stop-color="#00ffff"/><stop offset=".278" stop-color="#80ff80"/><stop offset=".335" stop-color="#ffff00"/><stop offset=".444" stop-color="#ff0b00"/><stop offset=".455" stop-color="#ff0000"/><stop offset=".556" stop-color="#8f0000"/><stop offset=".656" stop-color="#ff0000"/><stop offset=".667" stop-color="#ff0b00"/><stop offset=".741" stop-color="#ffff00"/><stop offset=".818" stop-color="#00ffff"/><stop offset=".833" stop-color="#00cdff"/><stop offset=".889" stop-color="#0056ff"/><stop offset=".97" stop-color="#0000ff"/><stop offset="1" stop-color="#0000de"/></linearGradient><rect x="1453.2" y="156.83" width="311" height="10.54" fill="url(#h13)"/>
<linearGradient id="h14"><stop offset="0" stop-color="#ffc500"/><stop offset=".056" stop-color="#ffc500"/><stop offset=".082" stop-color="#ffff00"/><stop offset=".167" stop-color="#44ffbb"/><stop offset=".222" stop-color="#44ffbb"/><stop offset=".25" stop-color="#32ffcd"/><stop offset=".278" stop-color="#09fff6"/><stop offset=".281" stop-color="#00ffff"/><stop offset=".333" stop-color="#0056ff"/><stop offset=".361" stop-color="#0022ff"/><stop offset=".389" stop-color="#001bff"/><stop offset=".417" stop-color="#005dff"/><stop offset=".444" stop-color="#00cdff"/><stop offset=".454" stop-color="#00ffff"/><stop offset=".5" stop-color="#fbff04"/><stop offset=".502" stop-color="#ffff00"/><stop offset=".528" stop-color="#ffd100"/><stop offset=".583" stop-color="#ffbd00"/><stop offset=".611" stop-color="#ffc500"/><stop offset=".663" stop-color="#ffff00"/><stop offset=".667" stop-color="#fbff04"/><stop offset=".778" stop-color="#fbff04"/><stop offset=".806" stop-color="#ebff14"/><stop offset=".833" stop-color="#bdff42"/><stop offset=".877" stop-color="#00ffff"/><stop offset=".889" stop-color="#00cdff"/><stop offset=".917" stop-color="#00ccff"/><stop offset=".94" stop-color="#00ffff"/><stop offset=".944" stop-color="#09fff6"/><stop offset="1" stop-color="#fbff04"/></linearGradient><rect x="1453.2" y="166.97" width="311" height="10.54" fill="url(#h14)"/>
<linearGradient id="h15"><stop offset="0" stop-color="#09fff6"/><stop offset=".333" stop-color="#09fff6"/><stop offset=".361" stop-color="#1bffe4"/><stop offset=".389" stop-color="#44ffbb"/><stop offset=".417" stop-color="#90ff6f"/><stop offset=".444" stop-color="#fbff04"/><stop offset=".445" stop-color="#ffff00"/><stop offset=".472" stop-color="#ff5d00"/><stop offset=".49" stop-color="#ff0000"/><stop offset=".5" stop-color="#cd0000"/><stop offset=".528" stop-color="#b20000"/><stop offset=".583" stop-color="#f70000"/><stop offset=".586" stop-color="#ff0000"/><stop offset=".611" stop-color="#ff4900"/><stop offset=".644" stop-color="#ffff00"/><stop offset=".667" stop-color="#80ff80"/><stop offset=".694" stop-color="#52ffad"/><stop offset=".75" stop-color="#23ffdc"/><stop offset=".778" stop-color="#09fff6"/><stop offset="1" stop-color="#09fff6"/></linearGradient><rect x="1453.2" y="177.10" width="311" height="10.54" fill="url(#h15)"/>
<linearGradient id="h16"><stop offset="0" stop-color="#bdff42"/><stop offset=".056" stop-color="#80ff80"/><stop offset=".111" stop-color="#80ff80"/><stop offset=".167" stop-color="#44ffbb"/><stop offset=".222" stop-color="#44ffbb"/><stop offset=".254" stop-color="#00ffff"/><stop offset=".278" stop-color="#00cdff"/><stop offset=".306" stop-color="#00a4ff"/><stop offset=".333" stop-color="#0091ff"/><stop offset=".361" stop-color="#009cff"/><stop offset=".389" stop-color="#00cdff"/><stop offset=".402" stop-color="#00ffff"/><stop offset=".417" stop-color="#36ffc9"/><stop offset=".444" stop-color="#bdff42"/><stop offset=".455" stop-color="#ffff00"/><stop offset=".472" stop-color="#ff9700"/><stop offset=".5" stop-color="#ff0b00"/><stop offset=".514" stop-color="#ff0000"/><stop offset=".528" stop-color="#f30000"/><stop offset=".549" stop-color="#ff0000"/><stop offset=".583" stop-color="#ff1300"/><stop offset=".611" stop-color="#ff4900"/><stop offset=".639" stop-color="#fff700"/><stop offset=".64" stop-color="#ffff00"/><stop offset=".667" stop-color="#44ffbb"/><stop offset=".68" stop-color="#00ffff"/><stop offset=".694" stop-color="#00b9ff"/><stop offset=".722" stop-color="#0056ff"/><stop offset=".75" stop-color="#002aff"/><stop offset=".806" stop-color="#000cff"/><stop offset=".833" stop-color="#001bff"/><stop offset=".861" stop-color="#0065ff"/><stop offset=".889" stop-color="#00cdff"/><stop offset=".901" stop-color="#00ffff"/><stop offset=".944" stop-color="#bdff42"/><stop offset=".972" stop-color="#ebff14"/><stop offset="1" stop-color="#fbff04"/></linearGradient><rect x="1453.2" y="187.24" width="311" height="10.54" fill="url(#h16)"/>
<linearGradient id="h17"><stop offset="0" stop-color="#80ff80"/><stop offset=".083" stop-color="#8eff71"/><stop offset=".111" stop-color="#80ff80"/><stop offset=".141" stop-color="#00ffff"/><stop offset=".167" stop-color="#0091ff"/><stop offset=".194" stop-color="#0065ff"/><stop offset=".25" stop-color="#004fff"/><stop offset=".306" stop-color="#0069ff"/><stop offset=".333" stop-color="#0091ff"/><stop offset=".361" stop-color="#00d7ff"/><stop offset=".371" stop-color="#00ffff"/><stop offset=".389" stop-color="#44ffbb"/><stop offset=".417" stop-color="#ffff00"/><stop offset=".444" stop-color="#ff4900"/><stop offset=".461" stop-color="#ff0000"/><stop offset=".472" stop-color="#d10000"/><stop offset=".5" stop-color="#8f0000"/><stop offset=".528" stop-color="#9a0000"/><stop offset=".581" stop-color="#ff0000"/><stop offset=".583" stop-color="#ff0400"/><stop offset=".611" stop-color="#ff4900"/><stop offset=".666" stop-color="#ffff00"/><stop offset=".667" stop-color="#fbff04"/><stop offset=".722" stop-color="#80ff80"/><stop offset=".778" stop-color="#44ffbb"/><stop offset=".889" stop-color="#44ffbb"/><stop offset=".944" stop-color="#80ff80"/><stop offset="1" stop-color="#80ff80"/></linearGradient><rect x="1453.2" y="197.38" width="311" height="10.54" fill="url(#h17)"/>
<linearGradient id="h18"><stop offset="0" stop-color="#80ff80"/><stop offset=".111" stop-color="#fbff04"/><stop offset=".222" stop-color="#80ff80"/><stop offset=".278" stop-color="#80ff80"/><stop offset=".333" stop-color="#bdff42"/><stop offset=".389" stop-color="#bdff42"/><stop offset=".418" stop-color="#ffff00"/><stop offset=".444" stop-color="#ffc500"/><stop offset=".472" stop-color="#ff7c00"/><stop offset=".5" stop-color="#ff4900"/><stop offset=".528" stop-color="#ff5900"/><stop offset=".583" stop-color="#ffba00"/><stop offset=".61" stop-color="#ffff00"/><stop offset=".611" stop-color="#fbff04"/><stop offset=".667" stop-color="#09fff6"/><stop offset=".669" stop-color="#00ffff"/><stop offset=".694" stop-color="#00a0ff"/><stop offset=".722" stop-color="#0056ff"/><stop offset=".75" stop-color="#0047ff"/><stop offset=".833" stop-color="#0091ff"/><stop offset=".889" stop-color="#00cdff"/><stop offset="1" stop-color="#00cdff"/></linearGradient><rect x="1453.2" y="207.51" width="311" height="10.54" fill="url(#h18)"/>
<linearGradient id="h19"><stop offset="0" stop-color="#0056ff"/><stop offset=".167" stop-color="#0056ff"/><stop offset=".278" stop-color="#00cdff"/><stop offset=".306" stop-color="#00fcff"/><stop offset=".307" stop-color="#00ffff"/><stop offset=".333" stop-color="#44ffbb"/><stop offset=".376" stop-color="#ffff00"/><stop offset=".389" stop-color="#ffc500"/><stop offset=".444" stop-color="#ff8700"/><stop offset=".5" stop-color="#ff0b00"/><stop offset=".527" stop-color="#ff0000"/><stop offset=".528" stop-color="#ff0000"/><stop offset=".528" stop-color="#ff0000"/><stop offset=".583" stop-color="#ff2a00"/><stop offset=".611" stop-color="#ff4900"/><stop offset=".667" stop-color="#ff4900"/><stop offset=".722" stop-color="#ff8700"/><stop offset=".75" stop-color="#ffba00"/><stop offset=".776" stop-color="#ffff00"/><stop offset=".778" stop-color="#fbff04"/><stop offset=".833" stop-color="#09fff6"/><stop offset=".842" stop-color="#00ffff"/><stop offset=".889" stop-color="#00cdff"/><stop offset=".944" stop-color="#0056ff"/><stop offset="1" stop-color="#0056ff"/></linearGradient><rect x="1453.2" y="217.65" width="311" height="10.54" fill="url(#h19)"/>
<linearGradient id="h20"><stop offset="0" stop-color="#0056ff"/><stop offset=".04" stop-color="#0000ff"/><stop offset=".056" stop-color="#0000de"/><stop offset=".083" stop-color="#0000ed"/><stop offset=".092" stop-color="#0000ff"/><stop offset=".167" stop-color="#0091ff"/><stop offset=".222" stop-color="#0091ff"/><stop offset=".25" stop-color="#0086ff"/><stop offset=".278" stop-color="#0091ff"/><stop offset=".306" stop-color="#00dfff"/><stop offset=".315" stop-color="#00ffff"/><stop offset=".361" stop-color="#a7ff58"/><stop offset=".389" stop-color="#fbff04"/><stop offset=".392" stop-color="#ffff00"/><stop offset=".444" stop-color="#ffc500"/><stop offset=".5" stop-color="#ff0b00"/><stop offset=".521" stop-color="#ff0000"/><stop offset=".528" stop-color="#fb0000"/><stop offset=".533" stop-color="#ff0000"/><stop offset=".583" stop-color="#ff2700"/><stop offset=".667" stop-color="#ff8700"/><stop offset=".722" stop-color="#ff8700"/><stop offset=".75" stop-color="#ffba00"/><stop offset=".776" stop-color="#ffff00"/><stop offset=".778" stop-color="#fbff04"/><stop offset=".833" stop-color="#44ffbb"/><stop offset=".897" stop-color="#00ffff"/><stop offset=".944" stop-color="#00cdff"/><stop offset="1" stop-color="#00cdff"/></linearGradient><rect x="1453.2" y="227.78" width="311" height="10.54" fill="url(#h20)"/>
<linearGradient id="h21"><stop offset="0" stop-color="#0056ff"/><stop offset=".056" stop-color="#0056ff"/><stop offset=".111" stop-color="#001bff"/><stop offset=".167" stop-color="#001bff"/><stop offset=".222" stop-color="#0056ff"/><stop offset=".278" stop-color="#00cdff"/><stop offset=".293" stop-color="#00ffff"/><stop offset=".371" stop-color="#ffff00"/><stop offset=".389" stop-color="#ffc500"/><stop offset=".444" stop-color="#ff8700"/><stop offset=".5" stop-color="#ff0b00"/><stop offset=".528" stop-color="#ff1b00"/><stop offset=".583" stop-color="#ff8b00"/><stop offset=".611" stop-color="#ffc500"/><stop offset=".667" stop-color="#ffc500"/><stop offset=".719" stop-color="#ffff00"/><stop offset=".722" stop-color="#fbff04"/><stop offset=".833" stop-color="#09fff6"/><stop offset="1" stop-color="#09fff6"/></linearGradient><rect x="1453.2" y="237.92" width="311" height="10.54" fill="url(#h21)"/>
<linearGradient id="h22"><stop offset="0" stop-color="#0000de"/><stop offset=".111" stop-color="#0000de"/><stop offset=".13" stop-color="#0000ff"/><stop offset=".139" stop-color="#0010ff"/><stop offset=".194" stop-color="#00afff"/><stop offset=".219" stop-color="#00ffff"/><stop offset=".222" stop-color="#09fff6"/><stop offset=".278" stop-color="#80ff80"/><stop offset=".306" stop-color="#ffff00"/><stop offset=".333" stop-color="#ff8700"/><stop offset=".361" stop-color="#ff3e00"/><stop offset=".401" stop-color="#ff0000"/><stop offset=".417" stop-color="#e80000"/><stop offset=".5" stop-color="#8f0000"/><stop offset=".601" stop-color="#ff0000"/><stop offset=".611" stop-color="#ff0b00"/><stop offset=".667" stop-color="#ff8700"/><stop offset=".694" stop-color="#ffd900"/><stop offset=".705" stop-color="#ffff00"/><stop offset=".722" stop-color="#bdff42"/><stop offset=".757" stop-color="#00ffff"/><stop offset=".778" stop-color="#0091ff"/><stop offset=".806" stop-color="#0047ff"/><stop offset=".854" stop-color="#0000ff"/><stop offset=".861" stop-color="#0000f5"/><stop offset=".917" stop-color="#0000db"/><stop offset="1" stop-color="#0000de"/></linearGradient><rect x="1453.2" y="248.06" width="311" height="10.54" fill="url(#h22)"/>
<linearGradient id="h23"><stop offset="0" stop-color="#0056ff"/><stop offset=".056" stop-color="#00cdff"/><stop offset=".103" stop-color="#00ffff"/><stop offset=".111" stop-color="#09fff6"/><stop offset=".222" stop-color="#fbff04"/><stop offset=".226" stop-color="#ffff00"/><stop offset=".278" stop-color="#ffc500"/><stop offset=".333" stop-color="#ffc500"/><stop offset=".389" stop-color="#ff8700"/><stop offset=".556" stop-color="#ff8700"/><stop offset=".609" stop-color="#ffff00"/><stop offset=".667" stop-color="#80ff80"/><stop offset=".786" stop-color="#00ffff"/><stop offset=".833" stop-color="#00cdff"/><stop offset=".889" stop-color="#0056ff"/><stop offset=".917" stop-color="#004bff"/><stop offset=".972" stop-color="#0074ff"/><stop offset="1" stop-color="#0091ff"/></linearGradient><rect x="1453.2" y="258.19" width="311" height="10.54" fill="url(#h23)"/>
<linearGradient id="h24"><stop offset="0" stop-color="#09fff6"/><stop offset=".056" stop-color="#09fff6"/><stop offset=".06" stop-color="#00ffff"/><stop offset=".139" stop-color="#0061ff"/><stop offset=".167" stop-color="#0056ff"/><stop offset=".194" stop-color="#00a4ff"/><stop offset=".22" stop-color="#00ffff"/><stop offset=".222" stop-color="#09fff6"/><stop offset=".278" stop-color="#80ff80"/><stop offset=".333" stop-color="#bdff42"/><stop offset=".348" stop-color="#ffff00"/><stop offset=".389" stop-color="#ff4900"/><stop offset=".417" stop-color="#ff1300"/><stop offset=".444" stop-color="#ff0b00"/><stop offset=".472" stop-color="#ff3e00"/><stop offset=".556" stop-color="#ffff00"/><stop offset=".611" stop-color="#80ff80"/><stop offset=".651" stop-color="#00ffff"/><stop offset=".667" stop-color="#00cdff"/><stop offset=".694" stop-color="#00a4ff"/><stop offset=".75" stop-color="#008aff"/><stop offset=".806" stop-color="#00abff"/><stop offset=".881" stop-color="#00ffff"/><stop offset=".889" stop-color="#09fff6"/><stop offset=".944" stop-color="#80ff80"/><stop offset="1" stop-color="#80ff80"/></linearGradient><rect x="1453.2" y="268.33" width="311" height="10.54" fill="url(#h24)"/>
<linearGradient id="h25"><stop offset="0" stop-color="#bdff42"/><stop offset=".015" stop-color="#ffff00"/><stop offset=".056" stop-color="#ff4900"/><stop offset=".083" stop-color="#ff5100"/><stop offset=".165" stop-color="#ffff00"/><stop offset=".167" stop-color="#fbff04"/><stop offset=".278" stop-color="#fbff04"/><stop offset=".306" stop-color="#e8ff17"/><stop offset=".333" stop-color="#bdff42"/><stop offset=".389" stop-color="#09fff6"/><stop offset=".393" stop-color="#00ffff"/><stop offset=".417" stop-color="#00d0ff"/><stop offset=".444" stop-color="#00cdff"/><stop offset=".456" stop-color="#00ffff"/><stop offset=".5" stop-color="#bdff42"/><stop offset=".528" stop-color="#efff10"/><stop offset=".556" stop-color="#fbff04"/><stop offset=".667" stop-color="#80ff80"/><stop offset=".778" stop-color="#80ff80"/><stop offset=".889" stop-color="#09fff6"/><stop offset="1" stop-color="#09fff6"/></linearGradient><rect x="1453.2" y="278.46" width="311" height="16.54" fill="url(#h25)"/>
</g></g>
<line x1="1608.6" y1="288.8" x2="1608.6" y2="43.2" stroke="#000" stroke-width="4.2" stroke-dasharray="15.8 16.7"/>
<path d="M1452.9 35.2V288.8H1764.7" stroke="#141414" stroke-width="2" fill="none"/>
<line x1="1522.6" y1="288.8" x2="1522.6" y2="284.8" stroke="#141414" stroke-width="1.4"/>
<text transform="translate(1521.8,329.8)" font-size="33.3" text-anchor="middle">-100</text>
<line x1="1608.6" y1="288.8" x2="1608.6" y2="284.8" stroke="#141414" stroke-width="1.4"/>
<text transform="translate(1608.6,329.8)" font-size="33.3" text-anchor="middle">0</text>
<line x1="1694.5" y1="288.8" x2="1694.5" y2="284.8" stroke="#141414" stroke-width="1.4"/>
<text transform="translate(1694.5,329.8)" font-size="33.3" text-anchor="middle">100</text>
<line x1="1453.2" y1="90.7" x2="1457.2" y2="90.7" stroke="#141414" stroke-width="1.4"/>
<text transform="translate(1445.5,102.7)" font-size="33.3" text-anchor="end">20</text>
<line x1="1453.2" y1="192.3" x2="1457.2" y2="192.3" stroke="#141414" stroke-width="1.4"/>
<text transform="translate(1445.5,204.3)" font-size="33.3" text-anchor="end">10</text>
<clipPath id="hc2"><rect x="1453.2" y="458.4" width="311" height="252.6"/></clipPath>
<g clip-path="url(#hc2)"><g filter="url(#vb2)">
<filter id="vb2" x="-5%" y="-5%" width="110%" height="110%"><feGaussianBlur stdDeviation="0.5 0.9"/></filter>
<linearGradient id="h26"><stop offset="0" stop-color="#bfff40"/><stop offset=".167" stop-color="#0dfff2"/><stop offset=".173" stop-color="#00ffff"/><stop offset=".222" stop-color="#0099ff"/><stop offset=".25" stop-color="#0087ff"/><stop offset=".278" stop-color="#0099ff"/><stop offset=".306" stop-color="#00e0ff"/><stop offset=".314" stop-color="#00ffff"/><stop offset=".333" stop-color="#46ffb9"/><stop offset=".361" stop-color="#cdff32"/><stop offset=".373" stop-color="#ffff00"/><stop offset=".389" stop-color="#ffbf00"/><stop offset=".417" stop-color="#ffac00"/><stop offset=".5" stop-color="#ffff00"/><stop offset=".556" stop-color="#ffbf00"/><stop offset=".583" stop-color="#ffe500"/><stop offset=".591" stop-color="#ffff00"/><stop offset=".611" stop-color="#bfff40"/><stop offset=".641" stop-color="#00ffff"/><stop offset=".667" stop-color="#0060ff"/><stop offset=".694" stop-color="#003fff"/><stop offset=".722" stop-color="#0060ff"/><stop offset=".774" stop-color="#00ffff"/><stop offset=".778" stop-color="#0dfff2"/><stop offset=".833" stop-color="#0dfff2"/><stop offset=".861" stop-color="#32ffcd"/><stop offset=".889" stop-color="#80ff80"/><stop offset=".911" stop-color="#ffff00"/><stop offset=".944" stop-color="#ff4000"/><stop offset=".972" stop-color="#ff2c00"/><stop offset="1" stop-color="#ff4000"/></linearGradient><rect x="1453.2" y="452.40" width="311" height="13.05" fill="url(#h26)"/>
<linearGradient id="h27"><stop offset="0" stop-color="#bfff40"/><stop offset=".056" stop-color="#80ff80"/><stop offset=".111" stop-color="#0dfff2"/><stop offset=".123" stop-color="#00ffff"/><stop offset=".167" stop-color="#00d2ff"/><stop offset=".222" stop-color="#00d2ff"/><stop offset=".265" stop-color="#00ffff"/><stop offset=".278" stop-color="#0dfff2"/><stop offset=".389" stop-color="#ffff00"/><stop offset=".556" stop-color="#ffff00"/><stop offset=".611" stop-color="#bfff40"/><stop offset=".639" stop-color="#8dff72"/><stop offset=".667" stop-color="#46ffb9"/><stop offset=".684" stop-color="#00ffff"/><stop offset=".722" stop-color="#0060ff"/><stop offset=".75" stop-color="#0047ff"/><stop offset=".778" stop-color="#0060ff"/><stop offset=".829" stop-color="#00ffff"/><stop offset=".833" stop-color="#0dfff2"/><stop offset=".861" stop-color="#1dffe2"/><stop offset=".889" stop-color="#46ffb9"/><stop offset=".916" stop-color="#ffff00"/><stop offset=".944" stop-color="#ff4000"/><stop offset=".972" stop-color="#ff2800"/><stop offset="1" stop-color="#ff4000"/></linearGradient><rect x="1453.2" y="465.05" width="311" height="7.05" fill="url(#h27)"/>
<linearGradient id="h28"><stop offset="0" stop-color="#0dfff2"/><stop offset=".111" stop-color="#0dfff2"/><stop offset=".167" stop-color="#80ff80"/><stop offset=".222" stop-color="#80ff80"/><stop offset=".278" stop-color="#ffff00"/><stop offset=".306" stop-color="#ffd300"/><stop offset=".333" stop-color="#ffbf00"/><stop offset=".361" stop-color="#ffcc00"/><stop offset=".389" stop-color="#ffff00"/><stop offset=".444" stop-color="#0dfff2"/><stop offset=".448" stop-color="#00ffff"/><stop offset=".472" stop-color="#00a7ff"/><stop offset=".5" stop-color="#0060ff"/><stop offset=".528" stop-color="#0055ff"/><stop offset=".556" stop-color="#0060ff"/><stop offset=".583" stop-color="#0051ff"/><stop offset=".611" stop-color="#0060ff"/><stop offset=".65" stop-color="#00ffff"/><stop offset=".667" stop-color="#46ffb9"/><stop offset=".722" stop-color="#80ff80"/><stop offset=".759" stop-color="#ffff00"/><stop offset=".778" stop-color="#ffbf00"/><stop offset=".806" stop-color="#ff8f00"/><stop offset=".833" stop-color="#ff8000"/><stop offset=".861" stop-color="#ff9300"/><stop offset=".917" stop-color="#fff800"/><stop offset=".919" stop-color="#ffff00"/><stop offset=".944" stop-color="#bfff40"/><stop offset="1" stop-color="#0dfff2"/></linearGradient><rect x="1453.2" y="471.69" width="311" height="7.05" fill="url(#h28)"/>
<linearGradient id="h29"><stop offset="0" stop-color="#46ffb9"/><stop offset=".056" stop-color="#46ffb9"/><stop offset=".111" stop-color="#80ff80"/><stop offset=".278" stop-color="#80ff80"/><stop offset=".333" stop-color="#bfff40"/><stop offset=".389" stop-color="#bfff40"/><stop offset=".444" stop-color="#80ff80"/><stop offset=".611" stop-color="#80ff80"/><stop offset=".722" stop-color="#ffff00"/><stop offset=".75" stop-color="#fff300"/><stop offset=".778" stop-color="#ffff00"/><stop offset=".833" stop-color="#80ff80"/><stop offset=".944" stop-color="#80ff80"/><stop offset="1" stop-color="#46ffb9"/></linearGradient><rect x="1453.2" y="478.34" width="311" height="7.05" fill="url(#h29)"/>
<linearGradient id="h30"><stop offset="0" stop-color="#0060ff"/><stop offset=".051" stop-color="#00ffff"/><stop offset=".056" stop-color="#0dfff2"/><stop offset=".083" stop-color="#51ffae"/><stop offset=".111" stop-color="#80ff80"/><stop offset=".139" stop-color="#8aff75"/><stop offset=".167" stop-color="#80ff80"/><stop offset=".222" stop-color="#46ffb9"/><stop offset=".278" stop-color="#bfff40"/><stop offset=".306" stop-color="#ebff14"/><stop offset=".333" stop-color="#ffff00"/><stop offset=".444" stop-color="#80ff80"/><stop offset=".5" stop-color="#80ff80"/><stop offset=".556" stop-color="#46ffb9"/><stop offset=".59" stop-color="#00ffff"/><stop offset=".611" stop-color="#00d2ff"/><stop offset=".639" stop-color="#00d5ff"/><stop offset=".66" stop-color="#00ffff"/><stop offset=".667" stop-color="#0dfff2"/><stop offset=".694" stop-color="#b5ff4a"/><stop offset=".709" stop-color="#ffff00"/><stop offset=".722" stop-color="#ffbf00"/><stop offset=".745" stop-color="#ffff00"/><stop offset=".75" stop-color="#f2ff0d"/><stop offset=".778" stop-color="#80ff80"/><stop offset=".806" stop-color="#6cff93"/><stop offset=".833" stop-color="#80ff80"/><stop offset=".889" stop-color="#ffff00"/><stop offset=".917" stop-color="#fdff02"/><stop offset=".944" stop-color="#bfff40"/><stop offset=".975" stop-color="#00ffff"/><stop offset="1" stop-color="#0060ff"/></linearGradient><rect x="1453.2" y="484.99" width="311" height="7.05" fill="url(#h30)"/>
<linearGradient id="h31"><stop offset="0" stop-color="#80ff80"/><stop offset=".056" stop-color="#80ff80"/><stop offset=".167" stop-color="#ffff00"/><stop offset=".194" stop-color="#eeff11"/><stop offset=".222" stop-color="#bfff40"/><stop offset=".278" stop-color="#0dfff2"/><stop offset=".284" stop-color="#00ffff"/><stop offset=".333" stop-color="#0099ff"/><stop offset=".361" stop-color="#006eff"/><stop offset=".389" stop-color="#0060ff"/><stop offset=".417" stop-color="#008bff"/><stop offset=".456" stop-color="#00ffff"/><stop offset=".5" stop-color="#80ff80"/><stop offset=".537" stop-color="#ffff00"/><stop offset=".556" stop-color="#ffbf00"/><stop offset=".583" stop-color="#ff9300"/><stop offset=".639" stop-color="#ff7c00"/><stop offset=".694" stop-color="#ff7400"/><stop offset=".722" stop-color="#ff8000"/><stop offset=".759" stop-color="#ffff00"/><stop offset=".778" stop-color="#bfff40"/><stop offset=".889" stop-color="#46ffb9"/><stop offset="1" stop-color="#46ffb9"/></linearGradient><rect x="1453.2" y="491.64" width="311" height="7.05" fill="url(#h31)"/>
<linearGradient id="h32"><stop offset="0" stop-color="#80ff80"/><stop offset=".056" stop-color="#80ff80"/><stop offset=".179" stop-color="#00ffff"/><stop offset=".278" stop-color="#0099ff"/><stop offset=".389" stop-color="#0099ff"/><stop offset=".437" stop-color="#00ffff"/><stop offset=".556" stop-color="#ffff00"/><stop offset=".611" stop-color="#ffbf00"/><stop offset=".667" stop-color="#ffbf00"/><stop offset=".722" stop-color="#ffff00"/><stop offset=".778" stop-color="#ffbf00"/><stop offset=".806" stop-color="#ffd300"/><stop offset=".833" stop-color="#ffff00"/><stop offset=".889" stop-color="#80ff80"/><stop offset="1" stop-color="#80ff80"/></linearGradient><rect x="1453.2" y="498.28" width="311" height="7.05" fill="url(#h32)"/>
<linearGradient id="h33"><stop offset="0" stop-color="#00d2ff"/><stop offset=".056" stop-color="#00d2ff"/><stop offset=".111" stop-color="#0060ff"/><stop offset=".167" stop-color="#0026ff"/><stop offset=".222" stop-color="#0026ff"/><stop offset=".278" stop-color="#0060ff"/><stop offset=".333" stop-color="#00d2ff"/><stop offset=".389" stop-color="#00d2ff"/><stop offset=".416" stop-color="#00ffff"/><stop offset=".417" stop-color="#01fffe"/><stop offset=".472" stop-color="#9eff61"/><stop offset=".499" stop-color="#ffff00"/><stop offset=".528" stop-color="#ff9400"/><stop offset=".556" stop-color="#ff4000"/><stop offset=".583" stop-color="#ff3000"/><stop offset=".639" stop-color="#ff5800"/><stop offset=".667" stop-color="#ff8000"/><stop offset=".722" stop-color="#ffff00"/><stop offset=".75" stop-color="#efff10"/><stop offset=".778" stop-color="#ffff00"/><stop offset=".833" stop-color="#ff8000"/><stop offset=".861" stop-color="#ff8b00"/><stop offset=".889" stop-color="#ffbf00"/><stop offset=".907" stop-color="#ffff00"/><stop offset=".944" stop-color="#80ff80"/><stop offset=".972" stop-color="#3affc5"/><stop offset="1" stop-color="#0dfff2"/></linearGradient><rect x="1453.2" y="504.93" width="311" height="7.05" fill="url(#h33)"/>
<linearGradient id="h34"><stop offset="0" stop-color="#0060ff"/><stop offset=".154" stop-color="#00ffff"/><stop offset=".167" stop-color="#0dfff2"/><stop offset=".333" stop-color="#0dfff2"/><stop offset=".357" stop-color="#00ffff"/><stop offset=".361" stop-color="#00fdff"/><stop offset=".365" stop-color="#00ffff"/><stop offset=".389" stop-color="#0dfff2"/><stop offset=".417" stop-color="#76ff89"/><stop offset=".444" stop-color="#ffff00"/><stop offset=".472" stop-color="#ff7400"/><stop offset=".5" stop-color="#ff0000"/><stop offset=".528" stop-color="#cb0000"/><stop offset=".556" stop-color="#bf0000"/><stop offset=".611" stop-color="#ff0000"/><stop offset=".667" stop-color="#ff4000"/><stop offset=".722" stop-color="#ffff00"/><stop offset=".833" stop-color="#0dfff2"/><stop offset=".837" stop-color="#00ffff"/><stop offset=".889" stop-color="#0060ff"/><stop offset=".917" stop-color="#0038ff"/><stop offset=".972" stop-color="#0023ff"/><stop offset="1" stop-color="#0026ff"/></linearGradient><rect x="1453.2" y="511.58" width="311" height="7.05" fill="url(#h34)"/>
<linearGradient id="h35"><stop offset="0" stop-color="#0dfff2"/><stop offset=".028" stop-color="#1effe1"/><stop offset=".056" stop-color="#46ffb9"/><stop offset=".111" stop-color="#ffff00"/><stop offset=".139" stop-color="#fff300"/><stop offset=".222" stop-color="#ffff00"/><stop offset=".278" stop-color="#ffff00"/><stop offset=".333" stop-color="#80ff80"/><stop offset=".389" stop-color="#80ff80"/><stop offset=".444" stop-color="#46ffb9"/><stop offset=".5" stop-color="#bfff40"/><stop offset=".556" stop-color="#ffff00"/><stop offset=".583" stop-color="#fff300"/><stop offset=".611" stop-color="#ffff00"/><stop offset=".667" stop-color="#80ff80"/><stop offset=".722" stop-color="#80ff80"/><stop offset=".778" stop-color="#80ff80"/><stop offset=".806" stop-color="#51ffae"/><stop offset=".833" stop-color="#0dfff2"/><stop offset=".837" stop-color="#00ffff"/><stop offset=".889" stop-color="#0060ff"/><stop offset=".917" stop-color="#0035ff"/><stop offset=".944" stop-color="#0026ff"/><stop offset="1" stop-color="#0060ff"/></linearGradient><rect x="1453.2" y="518.23" width="311" height="7.05" fill="url(#h35)"/>
<linearGradient id="h36"><stop offset="0" stop-color="#80ff80"/><stop offset=".056" stop-color="#80ff80"/><stop offset=".083" stop-color="#51ffae"/><stop offset=".112" stop-color="#00ffff"/><stop offset=".139" stop-color="#00b6ff"/><stop offset=".194" stop-color="#001bff"/><stop offset=".211" stop-color="#0000ff"/><stop offset=".222" stop-color="#0000ec"/><stop offset=".25" stop-color="#0000de"/><stop offset=".278" stop-color="#0000ec"/><stop offset=".289" stop-color="#0000ff"/><stop offset=".306" stop-color="#001bff"/><stop offset=".333" stop-color="#0060ff"/><stop offset=".385" stop-color="#00ffff"/><stop offset=".389" stop-color="#0dfff2"/><stop offset=".444" stop-color="#46ffb9"/><stop offset=".486" stop-color="#ffff00"/><stop offset=".5" stop-color="#ffbf00"/><stop offset=".528" stop-color="#ff9000"/><stop offset=".583" stop-color="#ff7400"/><stop offset=".611" stop-color="#ff8000"/><stop offset=".667" stop-color="#ffff00"/><stop offset=".722" stop-color="#80ff80"/><stop offset=".75" stop-color="#70ff8f"/><stop offset=".778" stop-color="#80ff80"/><stop offset=".833" stop-color="#ffff00"/><stop offset=".944" stop-color="#ffff00"/><stop offset="1" stop-color="#80ff80"/></linearGradient><rect x="1453.2" y="524.87" width="311" height="7.05" fill="url(#h36)"/>
<linearGradient id="h37"><stop offset="0" stop-color="#80ff80"/><stop offset=".056" stop-color="#80ff80"/><stop offset=".117" stop-color="#00ffff"/><stop offset=".167" stop-color="#0099ff"/><stop offset=".222" stop-color="#0060ff"/><stop offset=".278" stop-color="#0060ff"/><stop offset=".333" stop-color="#0099ff"/><stop offset=".361" stop-color="#00c3ff"/><stop offset=".384" stop-color="#00ffff"/><stop offset=".389" stop-color="#0dfff2"/><stop offset=".433" stop-color="#ffff00"/><stop offset=".444" stop-color="#ffbf00"/><stop offset=".472" stop-color="#ff7000"/><stop offset=".528" stop-color="#ff1800"/><stop offset=".569" stop-color="#ff0000"/><stop offset=".583" stop-color="#f70000"/><stop offset=".606" stop-color="#ff0000"/><stop offset=".639" stop-color="#ff0c00"/><stop offset=".667" stop-color="#ff4000"/><stop offset=".7" stop-color="#ffff00"/><stop offset=".722" stop-color="#80ff80"/><stop offset=".75" stop-color="#4fffb0"/><stop offset=".972" stop-color="#46ffb9"/><stop offset="1" stop-color="#46ffb9"/></linearGradient><rect x="1453.2" y="531.52" width="311" height="7.05" fill="url(#h37)"/>
<linearGradient id="h38"><stop offset="0" stop-color="#80ff80"/><stop offset=".064" stop-color="#00ffff"/><stop offset=".083" stop-color="#00d9ff"/><stop offset=".111" stop-color="#00d2ff"/><stop offset=".122" stop-color="#00ffff"/><stop offset=".167" stop-color="#bfff40"/><stop offset=".194" stop-color="#eeff11"/><stop offset=".224" stop-color="#ffff00"/><stop offset=".25" stop-color="#ffef00"/><stop offset=".278" stop-color="#ffff00"/><stop offset=".333" stop-color="#46ffb9"/><stop offset=".361" stop-color="#1effe1"/><stop offset=".413" stop-color="#00ffff"/><stop offset=".417" stop-color="#00fdff"/><stop offset=".42" stop-color="#00ffff"/><stop offset=".444" stop-color="#0dfff2"/><stop offset=".5" stop-color="#bfff40"/><stop offset=".528" stop-color="#eeff11"/><stop offset=".556" stop-color="#ffff00"/><stop offset=".611" stop-color="#bfff40"/><stop offset=".667" stop-color="#bfff40"/><stop offset=".722" stop-color="#46ffb9"/><stop offset=".75" stop-color="#3bffc4"/><stop offset=".806" stop-color="#5bffa4"/><stop offset=".833" stop-color="#80ff80"/><stop offset=".889" stop-color="#ffff00"/><stop offset=".917" stop-color="#ebff14"/><stop offset="1" stop-color="#80ff80"/></linearGradient><rect x="1453.2" y="538.17" width="311" height="7.05" fill="url(#h38)"/>
<linearGradient id="h39"><stop offset="0" stop-color="#0dfff2"/><stop offset=".056" stop-color="#0dfff2"/><stop offset=".062" stop-color="#00ffff"/><stop offset=".111" stop-color="#0099ff"/><stop offset=".167" stop-color="#0060ff"/><stop offset=".278" stop-color="#0060ff"/><stop offset=".333" stop-color="#0099ff"/><stop offset=".361" stop-color="#00c3ff"/><stop offset=".384" stop-color="#00ffff"/><stop offset=".389" stop-color="#0dfff2"/><stop offset=".433" stop-color="#ffff00"/><stop offset=".444" stop-color="#ffbf00"/><stop offset=".472" stop-color="#ff4c00"/><stop offset=".5" stop-color="#ff0000"/><stop offset=".528" stop-color="#f30000"/><stop offset=".611" stop-color="#ff0000"/><stop offset=".639" stop-color="#f30000"/><stop offset=".667" stop-color="#ff0000"/><stop offset=".694" stop-color="#ff5400"/><stop offset=".739" stop-color="#ffff00"/><stop offset=".75" stop-color="#d7ff28"/><stop offset=".778" stop-color="#80ff80"/><stop offset=".806" stop-color="#57ffa8"/><stop offset=".861" stop-color="#43ffbc"/><stop offset="1" stop-color="#46ffb9"/></linearGradient><rect x="1453.2" y="544.82" width="311" height="7.05" fill="url(#h39)"/>
<linearGradient id="h40"><stop offset="0" stop-color="#80ff80"/><stop offset=".028" stop-color="#8eff71"/><stop offset=".056" stop-color="#80ff80"/><stop offset=".086" stop-color="#00ffff"/><stop offset=".111" stop-color="#0099ff"/><stop offset=".139" stop-color="#0072ff"/><stop offset=".222" stop-color="#0026ff"/><stop offset=".25" stop-color="#0038ff"/><stop offset=".306" stop-color="#0099ff"/><stop offset=".333" stop-color="#00d2ff"/><stop offset=".377" stop-color="#00ffff"/><stop offset=".389" stop-color="#0dfff2"/><stop offset=".472" stop-color="#b6ff49"/><stop offset=".5" stop-color="#ffff00"/><stop offset=".556" stop-color="#ff0000"/><stop offset=".583" stop-color="#e30000"/><stop offset=".611" stop-color="#ff0000"/><stop offset=".667" stop-color="#ffbf00"/><stop offset=".694" stop-color="#ffef00"/><stop offset=".722" stop-color="#ffff00"/><stop offset=".778" stop-color="#ffbf00"/><stop offset=".806" stop-color="#ffb300"/><stop offset=".833" stop-color="#ffbf00"/><stop offset=".861" stop-color="#ffff00"/><stop offset=".889" stop-color="#bfff40"/><stop offset=".944" stop-color="#80ff80"/><stop offset="1" stop-color="#80ff80"/></linearGradient><rect x="1453.2" y="551.46" width="311" height="7.05" fill="url(#h40)"/>
<linearGradient id="h41"><stop offset="0" stop-color="#0026ff"/><stop offset=".028" stop-color="#001bff"/><stop offset=".056" stop-color="#0026ff"/><stop offset=".111" stop-color="#00d2ff"/><stop offset=".139" stop-color="#00faff"/><stop offset=".155" stop-color="#00ffff"/><stop offset=".194" stop-color="#0dfff2"/><stop offset=".25" stop-color="#1effe1"/><stop offset=".278" stop-color="#46ffb9"/><stop offset=".333" stop-color="#ffff00"/><stop offset=".361" stop-color="#ffd000"/><stop offset=".389" stop-color="#ffbf00"/><stop offset=".444" stop-color="#ffff00"/><stop offset=".5" stop-color="#ffbf00"/><stop offset=".556" stop-color="#ffbf00"/><stop offset=".611" stop-color="#ffff00"/><stop offset=".667" stop-color="#ffff00"/><stop offset=".722" stop-color="#80ff80"/><stop offset=".778" stop-color="#80ff80"/><stop offset=".833" stop-color="#80ff80"/><stop offset=".861" stop-color="#51ffae"/><stop offset=".889" stop-color="#0dfff2"/><stop offset=".893" stop-color="#00ffff"/><stop offset=".944" stop-color="#0060ff"/><stop offset=".972" stop-color="#0038ff"/><stop offset="1" stop-color="#0026ff"/></linearGradient><rect x="1453.2" y="558.11" width="311" height="7.05" fill="url(#h41)"/>
<linearGradient id="h42"><stop offset="0" stop-color="#0026ff"/><stop offset=".028" stop-color="#0038ff"/><stop offset=".056" stop-color="#0060ff"/><stop offset=".107" stop-color="#00ffff"/><stop offset=".111" stop-color="#0dfff2"/><stop offset=".167" stop-color="#0dfff2"/><stop offset=".278" stop-color="#80ff80"/><stop offset=".333" stop-color="#ffff00"/><stop offset=".389" stop-color="#ff8000"/><stop offset=".5" stop-color="#ff0000"/><stop offset=".611" stop-color="#ff0000"/><stop offset=".639" stop-color="#ff3400"/><stop offset=".694" stop-color="#ffd800"/><stop offset=".704" stop-color="#ffff00"/><stop offset=".75" stop-color="#45ffba"/><stop offset=".767" stop-color="#00ffff"/><stop offset=".778" stop-color="#00d2ff"/><stop offset=".806" stop-color="#008aff"/><stop offset=".833" stop-color="#0060ff"/><stop offset=".889" stop-color="#0060ff"/><stop offset=".944" stop-color="#0026ff"/><stop offset="1" stop-color="#0026ff"/></linearGradient><rect x="1453.2" y="564.76" width="311" height="7.05" fill="url(#h42)"/>
<linearGradient id="h43"><stop offset="0" stop-color="#0026ff"/><stop offset=".111" stop-color="#0026ff"/><stop offset=".216" stop-color="#00ffff"/><stop offset=".222" stop-color="#0dfff2"/><stop offset=".333" stop-color="#0dfff2"/><stop offset=".352" stop-color="#00ffff"/><stop offset=".361" stop-color="#00f9ff"/><stop offset=".37" stop-color="#00ffff"/><stop offset=".389" stop-color="#0dfff2"/><stop offset=".417" stop-color="#9aff65"/><stop offset=".434" stop-color="#ffff00"/><stop offset=".444" stop-color="#ffbf00"/><stop offset=".472" stop-color="#ff4c00"/><stop offset=".5" stop-color="#ff0000"/><stop offset=".528" stop-color="#f30000"/><stop offset=".667" stop-color="#ff0000"/><stop offset=".694" stop-color="#ef0000"/><stop offset=".722" stop-color="#ff0000"/><stop offset=".75" stop-color="#ff7000"/><stop offset=".778" stop-color="#ffff00"/><stop offset=".806" stop-color="#76ff89"/><stop offset=".833" stop-color="#0dfff2"/><stop offset=".889" stop-color="#0dfff2"/><stop offset=".893" stop-color="#00ffff"/><stop offset=".944" stop-color="#0060ff"/><stop offset=".972" stop-color="#0038ff"/><stop offset="1" stop-color="#0026ff"/></linearGradient><rect x="1453.2" y="571.41" width="311" height="7.05" fill="url(#h43)"/>
<linearGradient id="h44"><stop offset="0" stop-color="#0099ff"/><stop offset=".111" stop-color="#0099ff"/><stop offset=".167" stop-color="#0060ff"/><stop offset=".222" stop-color="#0060ff"/><stop offset=".278" stop-color="#0099ff"/><stop offset=".327" stop-color="#00ffff"/><stop offset=".333" stop-color="#0dfff2"/><stop offset=".361" stop-color="#1dffe2"/><stop offset=".389" stop-color="#46ffb9"/><stop offset=".422" stop-color="#ffff00"/><stop offset=".444" stop-color="#ff8000"/><stop offset=".472" stop-color="#ff3000"/><stop offset=".501" stop-color="#ff0000"/><stop offset=".528" stop-color="#d30000"/><stop offset=".556" stop-color="#bf0000"/><stop offset=".583" stop-color="#d30000"/><stop offset=".611" stop-color="#ff0000"/><stop offset=".667" stop-color="#ff8000"/><stop offset=".722" stop-color="#ff8000"/><stop offset=".759" stop-color="#ffff00"/><stop offset=".778" stop-color="#bfff40"/><stop offset=".917" stop-color="#26ffd9"/><stop offset=".944" stop-color="#0dfff2"/><stop offset="1" stop-color="#0dfff2"/></linearGradient><rect x="1453.2" y="578.05" width="311" height="7.05" fill="url(#h44)"/>
<linearGradient id="h45"><stop offset="0" stop-color="#0060ff"/><stop offset=".222" stop-color="#0060ff"/><stop offset=".278" stop-color="#00d2ff"/><stop offset=".321" stop-color="#00ffff"/><stop offset=".389" stop-color="#46ffb9"/><stop offset=".417" stop-color="#96ff69"/><stop offset=".444" stop-color="#ffff00"/><stop offset=".472" stop-color="#ff7400"/><stop offset=".5" stop-color="#ff0000"/><stop offset=".528" stop-color="#eb0000"/><stop offset=".547" stop-color="#ff0000"/><stop offset=".639" stop-color="#ff6000"/><stop offset=".778" stop-color="#ffff00"/><stop offset=".806" stop-color="#caff35"/><stop offset=".833" stop-color="#80ff80"/><stop offset=".864" stop-color="#00ffff"/><stop offset=".889" stop-color="#0099ff"/><stop offset=".917" stop-color="#006eff"/><stop offset="1" stop-color="#0060ff"/></linearGradient><rect x="1453.2" y="584.70" width="311" height="7.05" fill="url(#h45)"/>
<linearGradient id="h46"><stop offset="0" stop-color="#0060ff"/><stop offset=".111" stop-color="#00d2ff"/><stop offset=".222" stop-color="#00d2ff"/><stop offset=".265" stop-color="#00ffff"/><stop offset=".333" stop-color="#46ffb9"/><stop offset=".416" stop-color="#ffff00"/><stop offset=".444" stop-color="#ffbf00"/><stop offset=".5" stop-color="#ff8000"/><stop offset=".528" stop-color="#ff7400"/><stop offset=".556" stop-color="#ff8000"/><stop offset=".611" stop-color="#ffff00"/><stop offset=".667" stop-color="#ffff00"/><stop offset=".889" stop-color="#0dfff2"/><stop offset="1" stop-color="#0dfff2"/></linearGradient><rect x="1453.2" y="591.35" width="311" height="7.05" fill="url(#h46)"/>
<linearGradient id="h47"><stop offset="0" stop-color="#0026ff"/><stop offset=".167" stop-color="#0026ff"/><stop offset=".194" stop-color="#0055ff"/><stop offset=".25" stop-color="#00e7ff"/><stop offset=".257" stop-color="#00ffff"/><stop offset=".278" stop-color="#46ffb9"/><stop offset=".319" stop-color="#ffff00"/><stop offset=".333" stop-color="#ffbf00"/><stop offset=".361" stop-color="#ff7000"/><stop offset=".389" stop-color="#ff4000"/><stop offset=".444" stop-color="#ff4000"/><stop offset=".463" stop-color="#ff0000"/><stop offset=".5" stop-color="#800000"/><stop offset=".556" stop-color="#800000"/><stop offset=".583" stop-color="#af0000"/><stop offset=".611" stop-color="#ff0000"/><stop offset=".667" stop-color="#ffff00"/><stop offset=".75" stop-color="#42ffbd"/><stop offset=".778" stop-color="#0dfff2"/><stop offset=".79" stop-color="#00ffff"/><stop offset=".833" stop-color="#00d2ff"/><stop offset=".889" stop-color="#0060ff"/><stop offset=".944" stop-color="#0026ff"/><stop offset="1" stop-color="#0026ff"/></linearGradient><rect x="1453.2" y="597.99" width="311" height="7.05" fill="url(#h47)"/>
<linearGradient id="h48"><stop offset="0" stop-color="#ffff00"/><stop offset=".056" stop-color="#ffff00"/><stop offset=".083" stop-color="#eaff15"/><stop offset=".111" stop-color="#bfff40"/><stop offset=".169" stop-color="#00ffff"/><stop offset=".194" stop-color="#00abff"/><stop offset=".222" stop-color="#0060ff"/><stop offset=".25" stop-color="#0055ff"/><stop offset=".278" stop-color="#0060ff"/><stop offset=".306" stop-color="#0055ff"/><stop offset=".333" stop-color="#0060ff"/><stop offset=".361" stop-color="#009fff"/><stop offset=".386" stop-color="#00ffff"/><stop offset=".389" stop-color="#0dfff2"/><stop offset=".425" stop-color="#ffff00"/><stop offset=".444" stop-color="#ff8000"/><stop offset=".468" stop-color="#ff0000"/><stop offset=".472" stop-color="#e80000"/><stop offset=".5" stop-color="#800000"/><stop offset=".556" stop-color="#800000"/><stop offset=".583" stop-color="#cf0000"/><stop offset=".594" stop-color="#ff0000"/><stop offset=".639" stop-color="#ffc400"/><stop offset=".652" stop-color="#ffff00"/><stop offset=".667" stop-color="#bfff40"/><stop offset=".694" stop-color="#76ff89"/><stop offset=".75" stop-color="#22ffdd"/><stop offset=".806" stop-color="#06fff9"/><stop offset=".861" stop-color="#22ffdd"/><stop offset=".889" stop-color="#46ffb9"/><stop offset=".944" stop-color="#bfff40"/><stop offset="1" stop-color="#ffff00"/></linearGradient><rect x="1453.2" y="604.64" width="311" height="7.05" fill="url(#h48)"/>
<linearGradient id="h49"><stop offset="0" stop-color="#0060ff"/><stop offset=".056" stop-color="#0060ff"/><stop offset=".111" stop-color="#0099ff"/><stop offset=".16" stop-color="#00ffff"/><stop offset=".167" stop-color="#0dfff2"/><stop offset=".194" stop-color="#1dffe2"/><stop offset=".222" stop-color="#46ffb9"/><stop offset=".255" stop-color="#ffff00"/><stop offset=".278" stop-color="#ff8000"/><stop offset=".306" stop-color="#ff4c00"/><stop offset=".389" stop-color="#ff4000"/><stop offset=".444" stop-color="#ff4000"/><stop offset=".5" stop-color="#ff0000"/><stop offset=".528" stop-color="#ff3400"/><stop offset=".611" stop-color="#ffff00"/><stop offset=".722" stop-color="#80ff80"/><stop offset=".75" stop-color="#8aff75"/><stop offset=".778" stop-color="#80ff80"/><stop offset=".809" stop-color="#00ffff"/><stop offset=".833" stop-color="#0099ff"/><stop offset=".861" stop-color="#004eff"/><stop offset=".889" stop-color="#0026ff"/><stop offset=".917" stop-color="#0038ff"/><stop offset="1" stop-color="#0099ff"/></linearGradient><rect x="1453.2" y="611.29" width="311" height="7.05" fill="url(#h49)"/>
<linearGradient id="h50"><stop offset="0" stop-color="#0dfff2"/><stop offset=".083" stop-color="#18ffe7"/><stop offset=".111" stop-color="#0dfff2"/><stop offset=".115" stop-color="#00ffff"/><stop offset=".167" stop-color="#0060ff"/><stop offset=".194" stop-color="#0055ff"/><stop offset=".278" stop-color="#0060ff"/><stop offset=".333" stop-color="#00d2ff"/><stop offset=".377" stop-color="#00ffff"/><stop offset=".389" stop-color="#0dfff2"/><stop offset=".467" stop-color="#ffff00"/><stop offset=".472" stop-color="#fff000"/><stop offset=".5" stop-color="#ffbf00"/><stop offset=".556" stop-color="#ffff00"/><stop offset=".611" stop-color="#ffff00"/><stop offset=".722" stop-color="#ff8000"/><stop offset=".778" stop-color="#ff8000"/><stop offset=".833" stop-color="#ffbf00"/><stop offset=".862" stop-color="#ffff00"/><stop offset=".944" stop-color="#46ffb9"/><stop offset="1" stop-color="#0dfff2"/></linearGradient><rect x="1453.2" y="617.94" width="311" height="7.05" fill="url(#h50)"/>
<linearGradient id="h51"><stop offset="0" stop-color="#0dfff2"/><stop offset=".028" stop-color="#1effe1"/><stop offset=".056" stop-color="#46ffb9"/><stop offset=".111" stop-color="#ffff00"/><stop offset=".139" stop-color="#ffeb00"/><stop offset=".167" stop-color="#ffff00"/><stop offset=".222" stop-color="#80ff80"/><stop offset=".25" stop-color="#70ff8f"/><stop offset=".278" stop-color="#80ff80"/><stop offset=".333" stop-color="#ffff00"/><stop offset=".389" stop-color="#ffff00"/><stop offset=".444" stop-color="#ff8000"/><stop offset=".472" stop-color="#ff5400"/><stop offset=".5" stop-color="#ff4000"/><stop offset=".528" stop-color="#ff4c00"/><stop offset=".556" stop-color="#ff8000"/><stop offset=".583" stop-color="#ffff00"/><stop offset=".611" stop-color="#80ff80"/><stop offset=".639" stop-color="#73ff8c"/><stop offset=".667" stop-color="#80ff80"/><stop offset=".694" stop-color="#71ff8e"/><stop offset=".722" stop-color="#46ffb9"/><stop offset=".739" stop-color="#00ffff"/><stop offset=".778" stop-color="#0060ff"/><stop offset=".806" stop-color="#004aff"/><stop offset=".833" stop-color="#0060ff"/><stop offset=".889" stop-color="#00d2ff"/><stop offset=".932" stop-color="#00ffff"/><stop offset=".944" stop-color="#0dfff2"/><stop offset="1" stop-color="#0dfff2"/></linearGradient><rect x="1453.2" y="624.58" width="311" height="7.05" fill="url(#h51)"/>
<linearGradient id="h52"><stop offset="0" stop-color="#0099ff"/><stop offset=".056" stop-color="#0099ff"/><stop offset=".111" stop-color="#0060ff"/><stop offset=".194" stop-color="#0055ff"/><stop offset=".222" stop-color="#0060ff"/><stop offset=".274" stop-color="#00ffff"/><stop offset=".278" stop-color="#0dfff2"/><stop offset=".333" stop-color="#80ff80"/><stop offset=".361" stop-color="#ffff00"/><stop offset=".389" stop-color="#ff8000"/><stop offset=".417" stop-color="#ff6c00"/><stop offset=".5" stop-color="#ffbf00"/><stop offset=".556" stop-color="#ff8000"/><stop offset=".611" stop-color="#ffff00"/><stop offset=".667" stop-color="#ffff00"/><stop offset=".722" stop-color="#bfff40"/><stop offset=".778" stop-color="#bfff40"/><stop offset=".833" stop-color="#80ff80"/><stop offset=".944" stop-color="#80ff80"/><stop offset="1" stop-color="#46ffb9"/></linearGradient><rect x="1453.2" y="631.23" width="311" height="7.05" fill="url(#h52)"/>
<linearGradient id="h53"><stop offset="0" stop-color="#0060ff"/><stop offset=".056" stop-color="#00d2ff"/><stop offset=".099" stop-color="#00ffff"/><stop offset=".111" stop-color="#0dfff2"/><stop offset=".167" stop-color="#0dfff2"/><stop offset=".222" stop-color="#46ffb9"/><stop offset=".278" stop-color="#bfff40"/><stop offset=".306" stop-color="#d2ff2d"/><stop offset=".333" stop-color="#bfff40"/><stop offset=".389" stop-color="#0dfff2"/><stop offset=".402" stop-color="#00ffff"/><stop offset=".417" stop-color="#00f1ff"/><stop offset=".431" stop-color="#00ffff"/><stop offset=".444" stop-color="#0dfff2"/><stop offset=".5" stop-color="#ffff00"/><stop offset=".528" stop-color="#ffc400"/><stop offset=".556" stop-color="#ffbf00"/><stop offset=".574" stop-color="#ffff00"/><stop offset=".611" stop-color="#80ff80"/><stop offset=".639" stop-color="#64ff9b"/><stop offset=".667" stop-color="#80ff80"/><stop offset=".694" stop-color="#ffff00"/><stop offset=".722" stop-color="#ff8000"/><stop offset=".75" stop-color="#ffa700"/><stop offset=".781" stop-color="#ffff00"/><stop offset=".806" stop-color="#b7ff48"/><stop offset=".833" stop-color="#80ff80"/><stop offset=".889" stop-color="#80ff80"/><stop offset=".944" stop-color="#46ffb9"/><stop offset=".978" stop-color="#00ffff"/><stop offset="1" stop-color="#00d2ff"/></linearGradient><rect x="1453.2" y="637.88" width="311" height="7.05" fill="url(#h53)"/>
<linearGradient id="h54"><stop offset="0" stop-color="#0000ec"/><stop offset=".167" stop-color="#0000ec"/><stop offset=".185" stop-color="#0000ff"/><stop offset=".278" stop-color="#0060ff"/><stop offset=".306" stop-color="#00a6ff"/><stop offset=".33" stop-color="#00ffff"/><stop offset=".333" stop-color="#0dfff2"/><stop offset=".377" stop-color="#ffff00"/><stop offset=".389" stop-color="#ffbf00"/><stop offset=".417" stop-color="#ff5000"/><stop offset=".444" stop-color="#ff0000"/><stop offset=".472" stop-color="#cf0000"/><stop offset=".5" stop-color="#bf0000"/><stop offset=".556" stop-color="#ff0000"/><stop offset=".639" stop-color="#f30000"/><stop offset=".667" stop-color="#ff0000"/><stop offset=".694" stop-color="#ff5400"/><stop offset=".739" stop-color="#ffff00"/><stop offset=".75" stop-color="#d7ff28"/><stop offset=".778" stop-color="#80ff80"/><stop offset=".833" stop-color="#46ffb9"/><stop offset=".856" stop-color="#00ffff"/><stop offset=".889" stop-color="#0099ff"/><stop offset=".944" stop-color="#0026ff"/><stop offset=".981" stop-color="#0000ff"/><stop offset="1" stop-color="#0000ec"/></linearGradient><rect x="1453.2" y="644.53" width="311" height="7.05" fill="url(#h54)"/>
<linearGradient id="h55"><stop offset="0" stop-color="#ff8000"/><stop offset=".056" stop-color="#ff8000"/><stop offset=".083" stop-color="#ffb000"/><stop offset=".111" stop-color="#ffff00"/><stop offset=".167" stop-color="#0dfff2"/><stop offset=".17" stop-color="#00ffff"/><stop offset=".194" stop-color="#00a7ff"/><stop offset=".222" stop-color="#0060ff"/><stop offset=".25" stop-color="#0051ff"/><stop offset=".306" stop-color="#0066ff"/><stop offset=".333" stop-color="#0099ff"/><stop offset=".35" stop-color="#00ffff"/><stop offset=".361" stop-color="#40ffbf"/><stop offset=".389" stop-color="#ffff00"/><stop offset=".417" stop-color="#ff6900"/><stop offset=".444" stop-color="#ff0000"/><stop offset=".472" stop-color="#ef0000"/><stop offset=".528" stop-color="#fb0000"/><stop offset=".542" stop-color="#ff0000"/><stop offset=".583" stop-color="#ff0c00"/><stop offset=".611" stop-color="#ff4000"/><stop offset=".639" stop-color="#ffd100"/><stop offset=".646" stop-color="#ffff00"/><stop offset=".689" stop-color="#00ffff"/><stop offset=".694" stop-color="#00dbff"/><stop offset=".722" stop-color="#0060ff"/><stop offset=".75" stop-color="#004eff"/><stop offset=".778" stop-color="#0060ff"/><stop offset=".806" stop-color="#0055ff"/><stop offset=".833" stop-color="#0060ff"/><stop offset=".861" stop-color="#00abff"/><stop offset=".887" stop-color="#00ffff"/><stop offset=".944" stop-color="#bfff40"/><stop offset=".972" stop-color="#eaff15"/><stop offset="1" stop-color="#ffff00"/></linearGradient><rect x="1453.2" y="651.17" width="311" height="7.05" fill="url(#h55)"/>
<linearGradient id="h56"><stop offset="0" stop-color="#0dfff2"/><stop offset=".111" stop-color="#0dfff2"/><stop offset=".167" stop-color="#46ffb9"/><stop offset=".222" stop-color="#46ffb9"/><stop offset=".278" stop-color="#80ff80"/><stop offset=".333" stop-color="#ffff00"/><stop offset=".389" stop-color="#ff8000"/><stop offset=".5" stop-color="#ff0000"/><stop offset=".528" stop-color="#ff1000"/><stop offset=".556" stop-color="#ff4000"/><stop offset=".583" stop-color="#ff9400"/><stop offset=".611" stop-color="#ffff00"/><stop offset=".639" stop-color="#7aff85"/><stop offset=".667" stop-color="#0dfff2"/><stop offset=".69" stop-color="#00ffff"/><stop offset=".694" stop-color="#00fdff"/><stop offset=".708" stop-color="#00ffff"/><stop offset=".778" stop-color="#0dfff2"/><stop offset="1" stop-color="#0dfff2"/></linearGradient><rect x="1453.2" y="657.82" width="311" height="7.05" fill="url(#h56)"/>
<linearGradient id="h57"><stop offset="0" stop-color="#ffbf00"/><stop offset=".016" stop-color="#ffff00"/><stop offset=".028" stop-color="#d1ff2e"/><stop offset=".071" stop-color="#00ffff"/><stop offset=".083" stop-color="#00c3ff"/><stop offset=".111" stop-color="#0060ff"/><stop offset=".139" stop-color="#0051ff"/><stop offset=".25" stop-color="#0072ff"/><stop offset=".278" stop-color="#0099ff"/><stop offset=".306" stop-color="#00dfff"/><stop offset=".314" stop-color="#00ffff"/><stop offset=".333" stop-color="#46ffb9"/><stop offset=".361" stop-color="#edff12"/><stop offset=".365" stop-color="#ffff00"/><stop offset=".389" stop-color="#ff8000"/><stop offset=".417" stop-color="#ff6800"/><stop offset=".553" stop-color="#ffff00"/><stop offset=".611" stop-color="#bfff40"/><stop offset=".667" stop-color="#80ff80"/><stop offset=".833" stop-color="#80ff80"/><stop offset=".889" stop-color="#bfff40"/><stop offset=".917" stop-color="#ffff00"/><stop offset=".944" stop-color="#ffbf00"/><stop offset="1" stop-color="#ff8000"/></linearGradient><rect x="1453.2" y="664.47" width="311" height="7.05" fill="url(#h57)"/>
<linearGradient id="h58"><stop offset="0" stop-color="#0dfff2"/><stop offset=".111" stop-color="#0dfff2"/><stop offset=".222" stop-color="#80ff80"/><stop offset=".278" stop-color="#ffff00"/><stop offset=".333" stop-color="#ff4000"/><stop offset=".361" stop-color="#ff1400"/><stop offset=".396" stop-color="#ff0000"/><stop offset=".417" stop-color="#f30000"/><stop offset=".444" stop-color="#ff0000"/><stop offset=".556" stop-color="#ffff00"/><stop offset=".611" stop-color="#80ff80"/><stop offset=".667" stop-color="#46ffb9"/><stop offset=".701" stop-color="#00ffff"/><stop offset=".778" stop-color="#0060ff"/><stop offset=".889" stop-color="#0060ff"/><stop offset=".944" stop-color="#00d2ff"/><stop offset=".988" stop-color="#00ffff"/><stop offset="1" stop-color="#0dfff2"/></linearGradient><rect x="1453.2" y="671.12" width="311" height="7.05" fill="url(#h58)"/>
<linearGradient id="h59"><stop offset="0" stop-color="#0dfff2"/><stop offset=".222" stop-color="#0dfff2"/><stop offset=".25" stop-color="#36ffc9"/><stop offset=".278" stop-color="#80ff80"/><stop offset=".303" stop-color="#ffff00"/><stop offset=".306" stop-color="#fff400"/><stop offset=".333" stop-color="#ff8000"/><stop offset=".361" stop-color="#ff7900"/><stop offset=".389" stop-color="#ffbf00"/><stop offset=".398" stop-color="#ffff00"/><stop offset=".417" stop-color="#7eff81"/><stop offset=".437" stop-color="#00ffff"/><stop offset=".444" stop-color="#00d2ff"/><stop offset=".472" stop-color="#00f1ff"/><stop offset=".477" stop-color="#00ffff"/><stop offset=".5" stop-color="#46ffb9"/><stop offset=".556" stop-color="#80ff80"/><stop offset=".667" stop-color="#80ff80"/><stop offset=".722" stop-color="#ffff00"/><stop offset=".778" stop-color="#ffbf00"/><stop offset=".833" stop-color="#ffbf00"/><stop offset=".889" stop-color="#ffff00"/><stop offset=".944" stop-color="#80ff80"/><stop offset="1" stop-color="#80ff80"/></linearGradient><rect x="1453.2" y="677.76" width="311" height="7.05" fill="url(#h59)"/>
<linearGradient id="h60"><stop offset="0" stop-color="#ffff00"/><stop offset=".056" stop-color="#ff8000"/><stop offset=".222" stop-color="#ff8000"/><stop offset=".333" stop-color="#ffff00"/><stop offset=".389" stop-color="#80ff80"/><stop offset=".444" stop-color="#80ff80"/><stop offset=".506" stop-color="#00ffff"/><stop offset=".556" stop-color="#0099ff"/><stop offset=".611" stop-color="#0060ff"/><stop offset=".667" stop-color="#0060ff"/><stop offset=".722" stop-color="#0099ff"/><stop offset=".772" stop-color="#00ffff"/><stop offset=".778" stop-color="#0dfff2"/><stop offset=".889" stop-color="#0dfff2"/><stop offset=".917" stop-color="#1effe1"/><stop offset=".944" stop-color="#46ffb9"/><stop offset="1" stop-color="#ffff00"/></linearGradient><rect x="1453.2" y="684.41" width="311" height="7.05" fill="url(#h60)"/>
<linearGradient id="h61"><stop offset="0" stop-color="#ffff00"/><stop offset=".083" stop-color="#93ff6c"/><stop offset=".111" stop-color="#80ff80"/><stop offset=".167" stop-color="#ffff00"/><stop offset=".278" stop-color="#ffff00"/><stop offset=".306" stop-color="#d1ff2e"/><stop offset=".333" stop-color="#80ff80"/><stop offset=".356" stop-color="#00ffff"/><stop offset=".361" stop-color="#00e4ff"/><stop offset=".389" stop-color="#0060ff"/><stop offset=".417" stop-color="#0058ff"/><stop offset=".444" stop-color="#0099ff"/><stop offset=".464" stop-color="#00ffff"/><stop offset=".5" stop-color="#bfff40"/><stop offset=".528" stop-color="#f1ff0e"/><stop offset=".58" stop-color="#ffff00"/><stop offset=".639" stop-color="#fff000"/><stop offset=".667" stop-color="#ffff00"/><stop offset=".694" stop-color="#91ff6e"/><stop offset=".722" stop-color="#0dfff2"/><stop offset=".726" stop-color="#00ffff"/><stop offset=".75" stop-color="#00a7ff"/><stop offset=".778" stop-color="#0060ff"/><stop offset=".806" stop-color="#004aff"/><stop offset=".833" stop-color="#0060ff"/><stop offset=".885" stop-color="#00ffff"/><stop offset=".889" stop-color="#0dfff2"/><stop offset=".944" stop-color="#0dfff2"/><stop offset="1" stop-color="#80ff80"/></linearGradient><rect x="1453.2" y="691.06" width="311" height="7.05" fill="url(#h61)"/>
<linearGradient id="h62"><stop offset="0" stop-color="#80ff80"/><stop offset=".056" stop-color="#ffff00"/><stop offset=".083" stop-color="#ffcf00"/><stop offset=".111" stop-color="#ffbf00"/><stop offset=".139" stop-color="#ffe500"/><stop offset=".147" stop-color="#ffff00"/><stop offset=".167" stop-color="#bfff40"/><stop offset=".197" stop-color="#00ffff"/><stop offset=".222" stop-color="#0060ff"/><stop offset=".25" stop-color="#001fff"/><stop offset=".278" stop-color="#0026ff"/><stop offset=".306" stop-color="#008eff"/><stop offset=".331" stop-color="#00ffff"/><stop offset=".333" stop-color="#0dfff2"/><stop offset=".389" stop-color="#80ff80"/><stop offset=".417" stop-color="#caff35"/><stop offset=".444" stop-color="#ffff00"/><stop offset=".472" stop-color="#ebff14"/><stop offset=".556" stop-color="#80ff80"/><stop offset=".778" stop-color="#80ff80"/><stop offset=".889" stop-color="#0dfff2"/><stop offset="1" stop-color="#80ff80"/></linearGradient><rect x="1453.2" y="697.71" width="311" height="7.05" fill="url(#h62)"/>
<linearGradient id="h63"><stop offset="0" stop-color="#ff4000"/><stop offset=".056" stop-color="#ffff00"/><stop offset=".083" stop-color="#b3ff4c"/><stop offset=".111" stop-color="#80ff80"/><stop offset=".139" stop-color="#74ff8b"/><stop offset=".194" stop-color="#9bff64"/><stop offset=".278" stop-color="#ffff00"/><stop offset=".389" stop-color="#ffff00"/><stop offset=".444" stop-color="#ff8000"/><stop offset=".472" stop-color="#ff7400"/><stop offset=".528" stop-color="#ff9700"/><stop offset=".583" stop-color="#fff100"/><stop offset=".588" stop-color="#ffff00"/><stop offset=".611" stop-color="#bfff40"/><stop offset=".647" stop-color="#00ffff"/><stop offset=".667" stop-color="#0099ff"/><stop offset=".694" stop-color="#004dff"/><stop offset=".722" stop-color="#0026ff"/><stop offset=".75" stop-color="#001bff"/><stop offset=".806" stop-color="#003cff"/><stop offset=".861" stop-color="#0092ff"/><stop offset=".905" stop-color="#00ffff"/><stop offset=".917" stop-color="#1dffe2"/><stop offset=".944" stop-color="#80ff80"/><stop offset=".965" stop-color="#ffff00"/><stop offset=".972" stop-color="#ffd400"/><stop offset="1" stop-color="#ff4000"/></linearGradient><rect x="1453.2" y="704.35" width="311" height="13.05" fill="url(#h63)"/>
</g></g>
<line x1="1608.6" y1="711.2" x2="1608.6" y2="466.4" stroke="#000" stroke-width="4.2" stroke-dasharray="15.8 16.7"/>
<path d="M1452.9 458.4V711.2H1764.7" stroke="#141414" stroke-width="2" fill="none"/>
<line x1="1522.6" y1="711.2" x2="1522.6" y2="707.2" stroke="#141414" stroke-width="1.4"/>
<text transform="translate(1521.8,752.2)" font-size="33.3" text-anchor="middle">-100</text>
<line x1="1608.6" y1="711.2" x2="1608.6" y2="707.2" stroke="#141414" stroke-width="1.4"/>
<text transform="translate(1608.6,752.2)" font-size="33.3" text-anchor="middle">0</text>
<line x1="1694.5" y1="711.2" x2="1694.5" y2="707.2" stroke="#141414" stroke-width="1.4"/>
<text transform="translate(1694.5,752.2)" font-size="33.3" text-anchor="middle">100</text>
<line x1="1453.2" y1="514.4" x2="1457.2" y2="514.4" stroke="#141414" stroke-width="1.4"/>
<text transform="translate(1445.5,526.4)" font-size="33.3" text-anchor="end">30</text>
<line x1="1453.2" y1="580.6" x2="1457.2" y2="580.6" stroke="#141414" stroke-width="1.4"/>
<text transform="translate(1445.5,592.6)" font-size="33.3" text-anchor="end">20</text>
<line x1="1453.2" y1="647.5" x2="1457.2" y2="647.5" stroke="#141414" stroke-width="1.4"/>
<text transform="translate(1445.5,659.5)" font-size="33.3" text-anchor="end">10</text>
<clipPath id="hc3"><rect x="1453.2" y="880.5" width="311" height="252.9"/></clipPath>
<g clip-path="url(#hc3)"><g filter="url(#vb3)">
<filter id="vb3" x="-5%" y="-5%" width="110%" height="110%"><feGaussianBlur stdDeviation="0.5 0.7"/></filter>
<linearGradient id="h64"><stop offset="0" stop-color="#00ceff"/><stop offset=".083" stop-color="#007aff"/><stop offset=".139" stop-color="#0097ff"/><stop offset=".206" stop-color="#00ffff"/><stop offset=".222" stop-color="#19ffe6"/><stop offset=".25" stop-color="#27ffd8"/><stop offset=".285" stop-color="#00ffff"/><stop offset=".361" stop-color="#00a8ff"/><stop offset=".472" stop-color="#009fff"/><stop offset=".5" stop-color="#00c3ff"/><stop offset=".524" stop-color="#00ffff"/><stop offset=".583" stop-color="#93ff6c"/><stop offset=".639" stop-color="#c2ff3d"/><stop offset=".861" stop-color="#72ff8d"/><stop offset=".917" stop-color="#7cff83"/><stop offset=".944" stop-color="#9dff62"/><stop offset=".975" stop-color="#ffff00"/><stop offset="1" stop-color="#ffaf00"/></linearGradient><rect x="1453.2" y="874.50" width="311" height="8.58" fill="url(#h64)"/>
<linearGradient id="h65"><stop offset="0" stop-color="#bcff43"/><stop offset=".056" stop-color="#acff53"/><stop offset=".111" stop-color="#69ff96"/><stop offset=".167" stop-color="#85ff7a"/><stop offset=".244" stop-color="#ffff00"/><stop offset=".25" stop-color="#fff500"/><stop offset=".256" stop-color="#ffff00"/><stop offset=".361" stop-color="#55ffaa"/><stop offset=".417" stop-color="#61ff9e"/><stop offset=".528" stop-color="#a6ff59"/><stop offset=".611" stop-color="#a9ff56"/><stop offset=".722" stop-color="#37ffc8"/><stop offset=".861" stop-color="#36ffc9"/><stop offset=".889" stop-color="#60ff9f"/><stop offset=".935" stop-color="#ffff00"/><stop offset=".944" stop-color="#ffde00"/><stop offset=".972" stop-color="#ff7200"/><stop offset="1" stop-color="#ff5800"/></linearGradient><rect x="1453.2" y="882.68" width="311" height="2.58" fill="url(#h65)"/>
<linearGradient id="h66"><stop offset="0" stop-color="#d0ff2f"/><stop offset=".111" stop-color="#29ffd6"/><stop offset=".167" stop-color="#3affc5"/><stop offset=".25" stop-color="#98ff67"/><stop offset=".378" stop-color="#00ffff"/><stop offset=".389" stop-color="#00f3ff"/><stop offset=".414" stop-color="#00ffff"/><stop offset=".583" stop-color="#54ffab"/><stop offset=".694" stop-color="#79ff86"/><stop offset=".778" stop-color="#69ff96"/><stop offset=".861" stop-color="#96ff69"/><stop offset=".889" stop-color="#c3ff3c"/><stop offset=".908" stop-color="#ffff00"/><stop offset=".944" stop-color="#ff8a00"/><stop offset=".972" stop-color="#ff6400"/><stop offset="1" stop-color="#ff8c00"/></linearGradient><rect x="1453.2" y="884.86" width="311" height="2.58" fill="url(#h66)"/>
<linearGradient id="h67"><stop offset="0" stop-color="#6eff91"/><stop offset=".111" stop-color="#3dffc2"/><stop offset=".222" stop-color="#f6ff09"/><stop offset=".233" stop-color="#ffff00"/><stop offset=".25" stop-color="#fff000"/><stop offset=".262" stop-color="#ffff00"/><stop offset=".361" stop-color="#82ff7d"/><stop offset=".432" stop-color="#00ffff"/><stop offset=".472" stop-color="#00b6ff"/><stop offset=".5" stop-color="#00a8ff"/><stop offset=".568" stop-color="#00ffff"/><stop offset=".611" stop-color="#38ffc7"/><stop offset=".722" stop-color="#16ffe9"/><stop offset=".833" stop-color="#86ff79"/><stop offset=".889" stop-color="#c2ff3d"/><stop offset=".923" stop-color="#ffff00"/><stop offset=".944" stop-color="#ffd900"/><stop offset=".964" stop-color="#ffff00"/><stop offset=".972" stop-color="#eeff11"/><stop offset="1" stop-color="#87ff78"/></linearGradient><rect x="1453.2" y="887.04" width="311" height="2.58" fill="url(#h67)"/>
<linearGradient id="h68"><stop offset="0" stop-color="#07fff8"/><stop offset=".056" stop-color="#3affc5"/><stop offset=".163" stop-color="#ffff00"/><stop offset=".167" stop-color="#fff800"/><stop offset=".194" stop-color="#fff900"/><stop offset=".198" stop-color="#ffff00"/><stop offset=".25" stop-color="#9bff64"/><stop offset=".303" stop-color="#00ffff"/><stop offset=".306" stop-color="#00f8ff"/><stop offset=".361" stop-color="#00c7ff"/><stop offset=".419" stop-color="#00ffff"/><stop offset=".5" stop-color="#4effb1"/><stop offset=".637" stop-color="#00ffff"/><stop offset=".667" stop-color="#00eeff"/><stop offset=".722" stop-color="#00c6ff"/><stop offset=".75" stop-color="#00ceff"/><stop offset=".772" stop-color="#00ffff"/><stop offset=".833" stop-color="#84ff7b"/><stop offset=".87" stop-color="#ffff00"/><stop offset=".889" stop-color="#ffc100"/><stop offset=".917" stop-color="#ff8600"/><stop offset=".944" stop-color="#ff9f00"/><stop offset=".981" stop-color="#ffff00"/><stop offset="1" stop-color="#ccff33"/></linearGradient><rect x="1453.2" y="889.22" width="311" height="2.58" fill="url(#h68)"/>
<linearGradient id="h69"><stop offset="0" stop-color="#ffe300"/><stop offset=".056" stop-color="#fffe00"/><stop offset=".056" stop-color="#ffff00"/><stop offset=".167" stop-color="#12ffed"/><stop offset=".195" stop-color="#00ffff"/><stop offset=".222" stop-color="#00eeff"/><stop offset=".241" stop-color="#00ffff"/><stop offset=".417" stop-color="#a3ff5c"/><stop offset=".636" stop-color="#00ffff"/><stop offset=".722" stop-color="#00bfff"/><stop offset=".75" stop-color="#00c4ff"/><stop offset=".776" stop-color="#00ffff"/><stop offset=".806" stop-color="#45ffba"/><stop offset=".85" stop-color="#ffff00"/><stop offset=".861" stop-color="#ffcf00"/><stop offset=".889" stop-color="#ffa300"/><stop offset=".917" stop-color="#ffec00"/><stop offset=".922" stop-color="#ffff00"/><stop offset=".972" stop-color="#3effc1"/><stop offset="1" stop-color="#1affe5"/></linearGradient><rect x="1453.2" y="891.40" width="311" height="2.58" fill="url(#h69)"/>
<linearGradient id="h70"><stop offset="0" stop-color="#2bffd4"/><stop offset=".034" stop-color="#00ffff"/><stop offset=".056" stop-color="#00e3ff"/><stop offset=".113" stop-color="#00ffff"/><stop offset=".194" stop-color="#28ffd7"/><stop offset=".361" stop-color="#09fff6"/><stop offset=".472" stop-color="#63ff9c"/><stop offset=".722" stop-color="#3bffc4"/><stop offset=".778" stop-color="#6aff95"/><stop offset=".806" stop-color="#b0ff4f"/><stop offset=".823" stop-color="#ffff00"/><stop offset=".861" stop-color="#ff4c00"/><stop offset=".889" stop-color="#ff2400"/><stop offset=".917" stop-color="#ff6900"/><stop offset=".949" stop-color="#ffff00"/><stop offset=".972" stop-color="#93ff6c"/><stop offset="1" stop-color="#4affb5"/></linearGradient><rect x="1453.2" y="893.58" width="311" height="2.58" fill="url(#h70)"/>
<linearGradient id="h71"><stop offset="0" stop-color="#5effa1"/><stop offset=".083" stop-color="#3bffc4"/><stop offset=".194" stop-color="#38ffc7"/><stop offset=".31" stop-color="#00ffff"/><stop offset=".361" stop-color="#00e6ff"/><stop offset=".472" stop-color="#005aff"/><stop offset=".556" stop-color="#0093ff"/><stop offset=".671" stop-color="#00ffff"/><stop offset=".722" stop-color="#31ffce"/><stop offset=".75" stop-color="#5dffa2"/><stop offset=".791" stop-color="#ffff00"/><stop offset=".806" stop-color="#ffc500"/><stop offset=".833" stop-color="#ff7d00"/><stop offset=".861" stop-color="#ff9c00"/><stop offset=".893" stop-color="#ffff00"/><stop offset=".917" stop-color="#b3ff4c"/><stop offset=".972" stop-color="#a2ff5d"/><stop offset="1" stop-color="#a8ff57"/></linearGradient><rect x="1453.2" y="895.76" width="311" height="2.58" fill="url(#h71)"/>
<linearGradient id="h72"><stop offset="0" stop-color="#64ff9b"/><stop offset=".083" stop-color="#04fffb"/><stop offset=".139" stop-color="#16ffe9"/><stop offset=".222" stop-color="#49ffb6"/><stop offset=".361" stop-color="#02fffd"/><stop offset=".472" stop-color="#1fffe0"/><stop offset=".611" stop-color="#a3ff5c"/><stop offset=".694" stop-color="#f6ff09"/><stop offset=".709" stop-color="#ffff00"/><stop offset=".75" stop-color="#ffe400"/><stop offset=".806" stop-color="#ff2400"/><stop offset=".833" stop-color="#ff2400"/><stop offset=".861" stop-color="#ff6400"/><stop offset=".889" stop-color="#ffe000"/><stop offset=".899" stop-color="#ffff00"/><stop offset=".917" stop-color="#c6ff39"/><stop offset="1" stop-color="#70ff8f"/></linearGradient><rect x="1453.2" y="897.94" width="311" height="2.58" fill="url(#h72)"/>
<linearGradient id="h73"><stop offset="0" stop-color="#9eff61"/><stop offset=".167" stop-color="#00ffff"/><stop offset=".222" stop-color="#00cbff"/><stop offset=".25" stop-color="#00dbff"/><stop offset=".264" stop-color="#00ffff"/><stop offset=".361" stop-color="#f4ff0b"/><stop offset=".375" stop-color="#ffff00"/><stop offset=".417" stop-color="#ffdf00"/><stop offset=".465" stop-color="#ffff00"/><stop offset=".556" stop-color="#c2ff3d"/><stop offset=".694" stop-color="#21ffde"/><stop offset=".722" stop-color="#2cffd3"/><stop offset=".75" stop-color="#75ff8a"/><stop offset=".776" stop-color="#ffff00"/><stop offset=".806" stop-color="#ff6700"/><stop offset=".833" stop-color="#ff5400"/><stop offset=".911" stop-color="#ffff00"/><stop offset="1" stop-color="#3cffc3"/></linearGradient><rect x="1453.2" y="900.12" width="311" height="2.58" fill="url(#h73)"/>
<linearGradient id="h74"><stop offset="0" stop-color="#a2ff5d"/><stop offset=".167" stop-color="#8aff75"/><stop offset=".278" stop-color="#a6ff59"/><stop offset=".389" stop-color="#1cffe3"/><stop offset=".444" stop-color="#21ffde"/><stop offset=".528" stop-color="#43ffbc"/><stop offset=".657" stop-color="#00ffff"/><stop offset=".667" stop-color="#00faff"/><stop offset=".672" stop-color="#00ffff"/><stop offset=".694" stop-color="#18ffe7"/><stop offset=".722" stop-color="#62ff9d"/><stop offset=".762" stop-color="#ffff00"/><stop offset=".778" stop-color="#ffbf00"/><stop offset=".806" stop-color="#ffc800"/><stop offset=".821" stop-color="#ffff00"/><stop offset=".861" stop-color="#6dff92"/><stop offset=".917" stop-color="#24ffdb"/><stop offset=".999" stop-color="#00ffff"/><stop offset="1" stop-color="#00feff"/></linearGradient><rect x="1453.2" y="902.30" width="311" height="2.58" fill="url(#h74)"/>
<linearGradient id="h75"><stop offset="0" stop-color="#11ffee"/><stop offset=".083" stop-color="#2fffd0"/><stop offset=".222" stop-color="#8fff70"/><stop offset=".361" stop-color="#48ffb7"/><stop offset=".528" stop-color="#72ff8d"/><stop offset=".667" stop-color="#4bffb4"/><stop offset=".778" stop-color="#dcff23"/><stop offset=".861" stop-color="#44ffbb"/><stop offset=".89" stop-color="#00ffff"/><stop offset=".944" stop-color="#0081ff"/><stop offset="1" stop-color="#006fff"/></linearGradient><rect x="1453.2" y="904.48" width="311" height="2.58" fill="url(#h75)"/>
<linearGradient id="h76"><stop offset="0" stop-color="#a6ff59"/><stop offset=".056" stop-color="#9bff64"/><stop offset=".167" stop-color="#23ffdc"/><stop offset=".389" stop-color="#88ff77"/><stop offset=".556" stop-color="#56ffa9"/><stop offset=".639" stop-color="#3dffc2"/><stop offset=".667" stop-color="#51ffae"/><stop offset=".694" stop-color="#8aff75"/><stop offset=".73" stop-color="#ffff00"/><stop offset=".75" stop-color="#ffbe00"/><stop offset=".778" stop-color="#ff9d00"/><stop offset=".832" stop-color="#ffff00"/><stop offset=".861" stop-color="#c9ff36"/><stop offset=".986" stop-color="#00ffff"/><stop offset="1" stop-color="#00e9ff"/></linearGradient><rect x="1453.2" y="906.66" width="311" height="2.58" fill="url(#h76)"/>
<linearGradient id="h77"><stop offset="0" stop-color="#dfff20"/><stop offset=".056" stop-color="#bbff44"/><stop offset=".111" stop-color="#66ff99"/><stop offset=".167" stop-color="#68ff97"/><stop offset=".25" stop-color="#82ff7d"/><stop offset=".335" stop-color="#00ffff"/><stop offset=".361" stop-color="#00d7ff"/><stop offset=".444" stop-color="#00c8ff"/><stop offset=".519" stop-color="#00ffff"/><stop offset=".611" stop-color="#44ffbb"/><stop offset=".667" stop-color="#a6ff59"/><stop offset=".692" stop-color="#ffff00"/><stop offset=".722" stop-color="#ff9300"/><stop offset=".75" stop-color="#ff6000"/><stop offset=".778" stop-color="#ff8900"/><stop offset=".807" stop-color="#ffff00"/><stop offset=".833" stop-color="#94ff6b"/><stop offset=".917" stop-color="#28ffd7"/><stop offset=".972" stop-color="#57ffa8"/><stop offset="1" stop-color="#88ff77"/></linearGradient><rect x="1453.2" y="908.84" width="311" height="2.58" fill="url(#h77)"/>
<linearGradient id="h78"><stop offset="0" stop-color="#b1ff4e"/><stop offset=".078" stop-color="#00ffff"/><stop offset=".111" stop-color="#00b3ff"/><stop offset=".167" stop-color="#00b9ff"/><stop offset=".306" stop-color="#00fbff"/><stop offset=".309" stop-color="#00ffff"/><stop offset=".389" stop-color="#56ffa9"/><stop offset=".5" stop-color="#73ff8c"/><stop offset=".583" stop-color="#b9ff46"/><stop offset=".639" stop-color="#a9ff56"/><stop offset=".667" stop-color="#c6ff39"/><stop offset=".689" stop-color="#ffff00"/><stop offset=".694" stop-color="#fff200"/><stop offset=".722" stop-color="#ffd600"/><stop offset=".74" stop-color="#ffff00"/><stop offset=".806" stop-color="#68ff97"/><stop offset=".917" stop-color="#56ffa9"/><stop offset="1" stop-color="#35ffca"/></linearGradient><rect x="1453.2" y="911.02" width="311" height="2.58" fill="url(#h78)"/>
<linearGradient id="h79"><stop offset="0" stop-color="#00f4ff"/><stop offset=".057" stop-color="#00ffff"/><stop offset=".167" stop-color="#15ffea"/><stop offset=".25" stop-color="#4cffb3"/><stop offset=".333" stop-color="#41ffbe"/><stop offset=".444" stop-color="#5fffa0"/><stop offset=".5" stop-color="#3bffc4"/><stop offset=".583" stop-color="#80ff7f"/><stop offset=".639" stop-color="#ffff00"/><stop offset=".639" stop-color="#fffe00"/><stop offset=".694" stop-color="#ff2400"/><stop offset=".75" stop-color="#ff2400"/><stop offset=".806" stop-color="#ffa900"/><stop offset=".882" stop-color="#ffff00"/><stop offset=".889" stop-color="#f7ff08"/><stop offset="1" stop-color="#2bffd4"/></linearGradient><rect x="1453.2" y="913.20" width="311" height="2.58" fill="url(#h79)"/>
<linearGradient id="h80"><stop offset="0" stop-color="#c3ff3c"/><stop offset=".139" stop-color="#15ffea"/><stop offset=".222" stop-color="#16ffe9"/><stop offset=".361" stop-color="#b3ff4c"/><stop offset=".417" stop-color="#a4ff5b"/><stop offset=".472" stop-color="#7dff82"/><stop offset=".5" stop-color="#8eff71"/><stop offset=".551" stop-color="#ffff00"/><stop offset=".583" stop-color="#ffb500"/><stop offset=".667" stop-color="#ff9600"/><stop offset=".722" stop-color="#ff2b00"/><stop offset=".804" stop-color="#ffff00"/><stop offset=".833" stop-color="#b2ff4d"/><stop offset=".944" stop-color="#38ffc7"/><stop offset="1" stop-color="#4cffb3"/></linearGradient><rect x="1453.2" y="915.38" width="311" height="2.58" fill="url(#h80)"/>
<linearGradient id="h81"><stop offset="0" stop-color="#a3ff5c"/><stop offset=".111" stop-color="#adff52"/><stop offset=".194" stop-color="#fbff04"/><stop offset=".278" stop-color="#baff45"/><stop offset=".444" stop-color="#0bfff4"/><stop offset=".5" stop-color="#01fffe"/><stop offset=".639" stop-color="#ecff13"/><stop offset=".648" stop-color="#ffff00"/><stop offset=".667" stop-color="#ffd600"/><stop offset=".694" stop-color="#ffd200"/><stop offset=".708" stop-color="#ffff00"/><stop offset=".722" stop-color="#ceff31"/><stop offset=".75" stop-color="#46ffb9"/><stop offset=".778" stop-color="#06fff9"/><stop offset=".889" stop-color="#02fffd"/><stop offset=".891" stop-color="#00ffff"/><stop offset=".972" stop-color="#008eff"/><stop offset="1" stop-color="#0080ff"/></linearGradient><rect x="1453.2" y="917.56" width="311" height="2.58" fill="url(#h81)"/>
<linearGradient id="h82"><stop offset="0" stop-color="#43ffbc"/><stop offset=".042" stop-color="#00ffff"/><stop offset=".139" stop-color="#0068ff"/><stop offset=".222" stop-color="#0057ff"/><stop offset=".372" stop-color="#00ffff"/><stop offset=".5" stop-color="#90ff6f"/><stop offset=".556" stop-color="#ffff00"/><stop offset=".667" stop-color="#ff2400"/><stop offset=".722" stop-color="#ff2400"/><stop offset=".758" stop-color="#ffff00"/><stop offset=".778" stop-color="#88ff77"/><stop offset=".806" stop-color="#23ffdc"/><stop offset=".833" stop-color="#07fff8"/><stop offset=".972" stop-color="#8aff75"/><stop offset="1" stop-color="#8aff75"/></linearGradient><rect x="1453.2" y="919.74" width="311" height="2.58" fill="url(#h82)"/>
<linearGradient id="h83"><stop offset="0" stop-color="#48ffb7"/><stop offset=".083" stop-color="#47ffb8"/><stop offset=".167" stop-color="#8eff71"/><stop offset=".306" stop-color="#5cffa3"/><stop offset=".389" stop-color="#9cff63"/><stop offset=".5" stop-color="#3fffc0"/><stop offset=".583" stop-color="#e4ff1b"/><stop offset=".592" stop-color="#ffff00"/><stop offset=".611" stop-color="#ffc800"/><stop offset=".639" stop-color="#ff5000"/><stop offset=".667" stop-color="#ff2400"/><stop offset=".722" stop-color="#ff3b00"/><stop offset=".75" stop-color="#ffe900"/><stop offset=".755" stop-color="#ffff00"/><stop offset=".778" stop-color="#9dff62"/><stop offset=".833" stop-color="#24ffdb"/><stop offset=".917" stop-color="#08fff7"/><stop offset="1" stop-color="#1cffe3"/></linearGradient><rect x="1453.2" y="921.92" width="311" height="2.58" fill="url(#h83)"/>
<linearGradient id="h84"><stop offset="0" stop-color="#d2ff2d"/><stop offset=".083" stop-color="#c0ff3f"/><stop offset=".194" stop-color="#34ffcb"/><stop offset=".472" stop-color="#28ffd7"/><stop offset=".583" stop-color="#94ff6b"/><stop offset=".615" stop-color="#ffff00"/><stop offset=".639" stop-color="#ffad00"/><stop offset=".667" stop-color="#ff6f00"/><stop offset=".694" stop-color="#ff9400"/><stop offset=".73" stop-color="#ffff00"/><stop offset=".75" stop-color="#c0ff3f"/><stop offset=".833" stop-color="#a0ff5f"/><stop offset=".917" stop-color="#97ff68"/><stop offset=".972" stop-color="#57ffa8"/><stop offset="1" stop-color="#1effe1"/></linearGradient><rect x="1453.2" y="924.10" width="311" height="2.58" fill="url(#h84)"/>
<linearGradient id="h85"><stop offset="0" stop-color="#a6ff59"/><stop offset=".139" stop-color="#a7ff58"/><stop offset=".25" stop-color="#34ffcb"/><stop offset=".361" stop-color="#01fffe"/><stop offset=".362" stop-color="#00ffff"/><stop offset=".472" stop-color="#0057ff"/><stop offset=".528" stop-color="#005cff"/><stop offset=".556" stop-color="#00adff"/><stop offset=".572" stop-color="#00ffff"/><stop offset=".583" stop-color="#3affc5"/><stop offset=".614" stop-color="#ffff00"/><stop offset=".639" stop-color="#ff5a00"/><stop offset=".667" stop-color="#ff2a00"/><stop offset=".75" stop-color="#ffe700"/><stop offset=".785" stop-color="#ffff00"/><stop offset=".861" stop-color="#cbff34"/><stop offset=".971" stop-color="#00ffff"/><stop offset="1" stop-color="#00cbff"/></linearGradient><rect x="1453.2" y="926.28" width="311" height="2.58" fill="url(#h85)"/>
<linearGradient id="h86"><stop offset="0" stop-color="#45ffba"/><stop offset=".034" stop-color="#00ffff"/><stop offset=".056" stop-color="#00d4ff"/><stop offset=".194" stop-color="#00d1ff"/><stop offset=".227" stop-color="#00ffff"/><stop offset=".25" stop-color="#21ffde"/><stop offset=".306" stop-color="#90ff6f"/><stop offset=".361" stop-color="#92ff6d"/><stop offset=".444" stop-color="#2cffd3"/><stop offset=".5" stop-color="#19ffe6"/><stop offset=".556" stop-color="#60ff9f"/><stop offset=".583" stop-color="#aeff51"/><stop offset=".599" stop-color="#ffff00"/><stop offset=".639" stop-color="#ff3900"/><stop offset=".667" stop-color="#ff2400"/><stop offset=".694" stop-color="#ff5100"/><stop offset=".722" stop-color="#ffc300"/><stop offset=".746" stop-color="#ffff00"/><stop offset=".75" stop-color="#f4ff0b"/><stop offset=".917" stop-color="#3dffc2"/><stop offset=".981" stop-color="#00ffff"/><stop offset="1" stop-color="#00edff"/></linearGradient><rect x="1453.2" y="928.46" width="311" height="2.58" fill="url(#h86)"/>
<linearGradient id="h87"><stop offset="0" stop-color="#56ffa9"/><stop offset=".083" stop-color="#70ff8f"/><stop offset=".167" stop-color="#daff25"/><stop offset=".222" stop-color="#c0ff3f"/><stop offset=".324" stop-color="#00ffff"/><stop offset=".333" stop-color="#00eeff"/><stop offset=".417" stop-color="#00e9ff"/><stop offset=".438" stop-color="#00ffff"/><stop offset=".556" stop-color="#7cff83"/><stop offset=".583" stop-color="#baff45"/><stop offset=".601" stop-color="#ffff00"/><stop offset=".611" stop-color="#ffd800"/><stop offset=".639" stop-color="#ff9c00"/><stop offset=".672" stop-color="#ffff00"/><stop offset=".694" stop-color="#bbff44"/><stop offset=".833" stop-color="#35ffca"/><stop offset=".944" stop-color="#01fffe"/><stop offset=".945" stop-color="#00ffff"/><stop offset="1" stop-color="#00bfff"/></linearGradient><rect x="1453.2" y="930.64" width="311" height="2.58" fill="url(#h87)"/>
<linearGradient id="h88"><stop offset="0" stop-color="#6fff90"/><stop offset=".083" stop-color="#60ff9f"/><stop offset=".167" stop-color="#15ffea"/><stop offset=".333" stop-color="#7fff80"/><stop offset=".417" stop-color="#f8ff07"/><stop offset=".528" stop-color="#fbff04"/><stop offset=".531" stop-color="#ffff00"/><stop offset=".556" stop-color="#ffe200"/><stop offset=".611" stop-color="#ff5a00"/><stop offset=".639" stop-color="#ff7300"/><stop offset=".682" stop-color="#ffff00"/><stop offset=".694" stop-color="#d8ff27"/><stop offset=".806" stop-color="#faff05"/><stop offset=".889" stop-color="#aeff51"/><stop offset=".972" stop-color="#1dffe2"/><stop offset="1" stop-color="#1dffe2"/></linearGradient><rect x="1453.2" y="932.82" width="311" height="2.58" fill="url(#h88)"/>
<linearGradient id="h89"><stop offset="0" stop-color="#e3ff1c"/><stop offset=".048" stop-color="#ffff00"/><stop offset=".056" stop-color="#fffb00"/><stop offset=".063" stop-color="#ffff00"/><stop offset=".167" stop-color="#bfff40"/><stop offset=".24" stop-color="#ffff00"/><stop offset=".306" stop-color="#ffc600"/><stop offset=".344" stop-color="#ffff00"/><stop offset=".361" stop-color="#e6ff19"/><stop offset=".417" stop-color="#5dffa2"/><stop offset=".472" stop-color="#33ffcc"/><stop offset=".528" stop-color="#7dff82"/><stop offset=".556" stop-color="#bcff43"/><stop offset=".572" stop-color="#ffff00"/><stop offset=".611" stop-color="#ff6300"/><stop offset=".639" stop-color="#ff3300"/><stop offset=".694" stop-color="#ffde00"/><stop offset=".721" stop-color="#ffff00"/><stop offset=".778" stop-color="#bbff44"/><stop offset=".858" stop-color="#00ffff"/><stop offset=".889" stop-color="#00b7ff"/><stop offset="1" stop-color="#00a0ff"/></linearGradient><rect x="1453.2" y="935.00" width="311" height="2.58" fill="url(#h89)"/>
<linearGradient id="h90"><stop offset="0" stop-color="#dcff23"/><stop offset=".056" stop-color="#b6ff49"/><stop offset=".139" stop-color="#3affc5"/><stop offset=".25" stop-color="#0cfff3"/><stop offset=".361" stop-color="#1effe1"/><stop offset=".399" stop-color="#00ffff"/><stop offset=".472" stop-color="#00c4ff"/><stop offset=".5" stop-color="#00ceff"/><stop offset=".528" stop-color="#00feff"/><stop offset=".528" stop-color="#00ffff"/><stop offset=".583" stop-color="#d9ff26"/><stop offset=".611" stop-color="#ffff00"/><stop offset=".667" stop-color="#69ff96"/><stop offset=".694" stop-color="#5fffa0"/><stop offset=".75" stop-color="#a6ff59"/><stop offset=".833" stop-color="#87ff78"/><stop offset=".944" stop-color="#11ffee"/><stop offset=".989" stop-color="#00ffff"/><stop offset="1" stop-color="#00fbff"/></linearGradient><rect x="1453.2" y="937.18" width="311" height="2.58" fill="url(#h90)"/>
<linearGradient id="h91"><stop offset="0" stop-color="#7dff82"/><stop offset=".194" stop-color="#2fffd0"/><stop offset=".287" stop-color="#00ffff"/><stop offset=".361" stop-color="#00daff"/><stop offset=".472" stop-color="#00daff"/><stop offset=".498" stop-color="#00ffff"/><stop offset=".5" stop-color="#03fffc"/><stop offset=".528" stop-color="#68ff97"/><stop offset=".558" stop-color="#ffff00"/><stop offset=".583" stop-color="#ff8500"/><stop offset=".611" stop-color="#ff7000"/><stop offset=".667" stop-color="#ffa400"/><stop offset=".75" stop-color="#ff5e00"/><stop offset=".833" stop-color="#fff900"/><stop offset=".836" stop-color="#ffff00"/><stop offset=".917" stop-color="#3effc1"/><stop offset=".96" stop-color="#00ffff"/><stop offset="1" stop-color="#00c7ff"/></linearGradient><rect x="1453.2" y="939.36" width="311" height="2.58" fill="url(#h91)"/>
<linearGradient id="h92"><stop offset="0" stop-color="#8bff74"/><stop offset=".106" stop-color="#00ffff"/><stop offset=".111" stop-color="#00f8ff"/><stop offset=".122" stop-color="#00ffff"/><stop offset=".194" stop-color="#2effd1"/><stop offset=".361" stop-color="#bfff40"/><stop offset=".417" stop-color="#faff05"/><stop offset=".472" stop-color="#deff21"/><stop offset=".528" stop-color="#a2ff5d"/><stop offset=".556" stop-color="#aaff55"/><stop offset=".592" stop-color="#ffff00"/><stop offset=".611" stop-color="#ffd200"/><stop offset=".639" stop-color="#ffd800"/><stop offset=".656" stop-color="#ffff00"/><stop offset=".667" stop-color="#e7ff18"/><stop offset=".694" stop-color="#d2ff2d"/><stop offset=".73" stop-color="#ffff00"/><stop offset=".75" stop-color="#ffe700"/><stop offset=".762" stop-color="#ffff00"/><stop offset=".806" stop-color="#a6ff59"/><stop offset=".861" stop-color="#11ffee"/><stop offset=".876" stop-color="#00ffff"/><stop offset=".917" stop-color="#00d1ff"/><stop offset=".97" stop-color="#00ffff"/><stop offset="1" stop-color="#1affe5"/></linearGradient><rect x="1453.2" y="941.54" width="311" height="2.58" fill="url(#h92)"/>
<linearGradient id="h93"><stop offset="0" stop-color="#38ffc7"/><stop offset=".083" stop-color="#96ff69"/><stop offset=".139" stop-color="#85ff7a"/><stop offset=".194" stop-color="#51ffae"/><stop offset=".333" stop-color="#9fff60"/><stop offset=".472" stop-color="#22ffdd"/><stop offset=".5" stop-color="#23ffdc"/><stop offset=".528" stop-color="#54ffab"/><stop offset=".581" stop-color="#ffff00"/><stop offset=".583" stop-color="#fff600"/><stop offset=".611" stop-color="#fff800"/><stop offset=".615" stop-color="#ffff00"/><stop offset=".667" stop-color="#a8ff57"/><stop offset=".735" stop-color="#ffff00"/><stop offset=".75" stop-color="#ffec00"/><stop offset=".786" stop-color="#ffff00"/><stop offset=".861" stop-color="#d7ff28"/><stop offset=".972" stop-color="#0afff5"/><stop offset=".982" stop-color="#00ffff"/><stop offset="1" stop-color="#00edff"/></linearGradient><rect x="1453.2" y="943.73" width="311" height="2.58" fill="url(#h93)"/>
<linearGradient id="h94"><stop offset="0" stop-color="#91ff6e"/><stop offset=".094" stop-color="#00ffff"/><stop offset=".111" stop-color="#00e4ff"/><stop offset=".167" stop-color="#00f2ff"/><stop offset=".181" stop-color="#00ffff"/><stop offset=".222" stop-color="#24ffdb"/><stop offset=".322" stop-color="#00ffff"/><stop offset=".472" stop-color="#00c9ff"/><stop offset=".5" stop-color="#00e5ff"/><stop offset=".509" stop-color="#00ffff"/><stop offset=".528" stop-color="#33ffcc"/><stop offset=".571" stop-color="#ffff00"/><stop offset=".583" stop-color="#ffc200"/><stop offset=".611" stop-color="#ffd000"/><stop offset=".623" stop-color="#ffff00"/><stop offset=".639" stop-color="#c4ff3b"/><stop offset=".667" stop-color="#90ff6f"/><stop offset=".75" stop-color="#c3ff3c"/><stop offset=".889" stop-color="#51ffae"/><stop offset=".98" stop-color="#00ffff"/><stop offset="1" stop-color="#00edff"/></linearGradient><rect x="1453.2" y="945.91" width="311" height="2.58" fill="url(#h94)"/>
<linearGradient id="h95"><stop offset="0" stop-color="#59ffa6"/><stop offset=".083" stop-color="#51ffae"/><stop offset=".167" stop-color="#77ff88"/><stop offset=".25" stop-color="#37ffc8"/><stop offset=".389" stop-color="#a4ff5b"/><stop offset=".5" stop-color="#4dffb2"/><stop offset=".528" stop-color="#85ff7a"/><stop offset=".556" stop-color="#fcff03"/><stop offset=".557" stop-color="#ffff00"/><stop offset=".583" stop-color="#ffb500"/><stop offset=".62" stop-color="#ffff00"/><stop offset=".639" stop-color="#d9ff26"/><stop offset=".722" stop-color="#96ff69"/><stop offset=".807" stop-color="#00ffff"/><stop offset=".833" stop-color="#00d1ff"/><stop offset=".917" stop-color="#00bdff"/><stop offset=".985" stop-color="#00ffff"/><stop offset="1" stop-color="#0efff1"/></linearGradient><rect x="1453.2" y="948.09" width="311" height="2.58" fill="url(#h95)"/>
<linearGradient id="h96"><stop offset="0" stop-color="#5dffa2"/><stop offset=".111" stop-color="#a4ff5b"/><stop offset=".167" stop-color="#5effa1"/><stop offset=".235" stop-color="#00ffff"/><stop offset=".25" stop-color="#00eaff"/><stop offset=".342" stop-color="#00ffff"/><stop offset=".361" stop-color="#04fffb"/><stop offset=".444" stop-color="#38ffc7"/><stop offset=".5" stop-color="#18ffe7"/><stop offset=".528" stop-color="#3fffc0"/><stop offset=".581" stop-color="#ffff00"/><stop offset=".583" stop-color="#fff800"/><stop offset=".589" stop-color="#ffff00"/><stop offset=".611" stop-color="#e4ff1b"/><stop offset=".639" stop-color="#94ff6b"/><stop offset=".694" stop-color="#77ff88"/><stop offset=".778" stop-color="#adff52"/><stop offset=".944" stop-color="#53ffac"/><stop offset="1" stop-color="#62ff9d"/></linearGradient><rect x="1453.2" y="950.27" width="311" height="2.58" fill="url(#h96)"/>
<linearGradient id="h97"><stop offset="0" stop-color="#03fffc"/><stop offset=".139" stop-color="#3bffc4"/><stop offset=".219" stop-color="#00ffff"/><stop offset=".25" stop-color="#00e8ff"/><stop offset=".276" stop-color="#00ffff"/><stop offset=".361" stop-color="#4bffb4"/><stop offset=".472" stop-color="#0ffff0"/><stop offset=".5" stop-color="#22ffdd"/><stop offset=".528" stop-color="#80ff7f"/><stop offset=".549" stop-color="#ffff00"/><stop offset=".556" stop-color="#ffdb00"/><stop offset=".583" stop-color="#ff6f00"/><stop offset=".611" stop-color="#ff9700"/><stop offset=".639" stop-color="#ffec00"/><stop offset=".658" stop-color="#ffff00"/><stop offset=".722" stop-color="#beff41"/><stop offset=".806" stop-color="#8bff74"/><stop offset=".944" stop-color="#f8ff07"/><stop offset="1" stop-color="#e5ff1a"/></linearGradient><rect x="1453.2" y="952.45" width="311" height="2.58" fill="url(#h97)"/>
<linearGradient id="h98"><stop offset="0" stop-color="#00d0ff"/><stop offset=".031" stop-color="#00ffff"/><stop offset=".056" stop-color="#25ffda"/><stop offset=".111" stop-color="#a2ff5d"/><stop offset=".167" stop-color="#c0ff3f"/><stop offset=".306" stop-color="#12ffed"/><stop offset=".345" stop-color="#00ffff"/><stop offset=".389" stop-color="#00ecff"/><stop offset=".402" stop-color="#00ffff"/><stop offset=".472" stop-color="#6bff94"/><stop offset=".5" stop-color="#b5ff4a"/><stop offset=".519" stop-color="#ffff00"/><stop offset=".556" stop-color="#ff7300"/><stop offset=".583" stop-color="#ff9100"/><stop offset=".608" stop-color="#ffff00"/><stop offset=".639" stop-color="#71ff8e"/><stop offset=".667" stop-color="#3affc5"/><stop offset=".889" stop-color="#57ffa8"/><stop offset=".972" stop-color="#37ffc8"/><stop offset="1" stop-color="#46ffb9"/></linearGradient><rect x="1453.2" y="954.63" width="311" height="2.58" fill="url(#h98)"/>
<linearGradient id="h99"><stop offset="0" stop-color="#bfff40"/><stop offset=".111" stop-color="#bcff43"/><stop offset=".194" stop-color="#6cff93"/><stop offset=".25" stop-color="#7aff85"/><stop offset=".333" stop-color="#bbff44"/><stop offset=".472" stop-color="#5dffa2"/><stop offset=".5" stop-color="#64ff9b"/><stop offset=".547" stop-color="#ffff00"/><stop offset=".556" stop-color="#ffe500"/><stop offset=".571" stop-color="#ffff00"/><stop offset=".583" stop-color="#e9ff16"/><stop offset=".611" stop-color="#67ff98"/><stop offset=".639" stop-color="#28ffd7"/><stop offset=".75" stop-color="#31ffce"/><stop offset=".806" stop-color="#0bfff4"/><stop offset=".944" stop-color="#30ffcf"/><stop offset="1" stop-color="#2dffd2"/></linearGradient><rect x="1453.2" y="956.81" width="311" height="2.58" fill="url(#h99)"/>
<linearGradient id="h100"><stop offset="0" stop-color="#00b2ff"/><stop offset=".056" stop-color="#00bfff"/><stop offset=".089" stop-color="#00ffff"/><stop offset=".139" stop-color="#5fffa0"/><stop offset=".167" stop-color="#6cff93"/><stop offset=".222" stop-color="#1dffe2"/><stop offset=".239" stop-color="#00ffff"/><stop offset=".278" stop-color="#00b9ff"/><stop offset=".361" stop-color="#00adff"/><stop offset=".438" stop-color="#00ffff"/><stop offset=".444" stop-color="#07fff8"/><stop offset=".472" stop-color="#3effc1"/><stop offset=".5" stop-color="#9fff60"/><stop offset=".516" stop-color="#ffff00"/><stop offset=".528" stop-color="#ffb400"/><stop offset=".556" stop-color="#ff3400"/><stop offset=".583" stop-color="#ff7500"/><stop offset=".608" stop-color="#ffff00"/><stop offset=".611" stop-color="#efff10"/><stop offset=".639" stop-color="#9cff63"/><stop offset=".75" stop-color="#45ffba"/><stop offset=".8" stop-color="#00ffff"/><stop offset=".806" stop-color="#00f8ff"/><stop offset=".837" stop-color="#00ffff"/><stop offset=".972" stop-color="#20ffdf"/><stop offset="1" stop-color="#3bffc4"/></linearGradient><rect x="1453.2" y="958.99" width="311" height="2.58" fill="url(#h100)"/>
<linearGradient id="h101"><stop offset="0" stop-color="#8dff72"/><stop offset=".083" stop-color="#b1ff4e"/><stop offset=".167" stop-color="#e7ff18"/><stop offset=".25" stop-color="#ccff33"/><stop offset=".337" stop-color="#ffff00"/><stop offset=".361" stop-color="#fff100"/><stop offset=".39" stop-color="#ffff00"/><stop offset=".472" stop-color="#d8ff27"/><stop offset=".494" stop-color="#ffff00"/><stop offset=".5" stop-color="#fff400"/><stop offset=".528" stop-color="#ff8600"/><stop offset=".556" stop-color="#ff4c00"/><stop offset=".583" stop-color="#ffa600"/><stop offset=".6" stop-color="#ffff00"/><stop offset=".611" stop-color="#c4ff3b"/><stop offset=".639" stop-color="#83ff7c"/><stop offset=".722" stop-color="#ccff33"/><stop offset=".972" stop-color="#9bff64"/><stop offset="1" stop-color="#aaff55"/></linearGradient><rect x="1453.2" y="961.17" width="311" height="2.58" fill="url(#h101)"/>
<linearGradient id="h102"><stop offset="0" stop-color="#59ffa6"/><stop offset=".083" stop-color="#ebff14"/><stop offset=".139" stop-color="#e4ff1b"/><stop offset=".25" stop-color="#43ffbc"/><stop offset=".361" stop-color="#0ffff0"/><stop offset=".444" stop-color="#49ffb6"/><stop offset=".472" stop-color="#7bff84"/><stop offset=".5" stop-color="#dfff20"/><stop offset=".506" stop-color="#ffff00"/><stop offset=".528" stop-color="#ff9200"/><stop offset=".556" stop-color="#ff4800"/><stop offset=".583" stop-color="#ff7c00"/><stop offset=".611" stop-color="#ffe400"/><stop offset=".623" stop-color="#ffff00"/><stop offset=".639" stop-color="#d9ff26"/><stop offset=".889" stop-color="#9dff62"/><stop offset="1" stop-color="#34ffcb"/></linearGradient><rect x="1453.2" y="963.35" width="311" height="2.58" fill="url(#h102)"/>
<linearGradient id="h103"><stop offset="0" stop-color="#eaff15"/><stop offset=".083" stop-color="#b3ff4c"/><stop offset=".167" stop-color="#4effb1"/><stop offset=".278" stop-color="#1fffe0"/><stop offset=".321" stop-color="#00ffff"/><stop offset=".361" stop-color="#00e2ff"/><stop offset=".386" stop-color="#00ffff"/><stop offset=".417" stop-color="#25ffda"/><stop offset=".472" stop-color="#adff52"/><stop offset=".496" stop-color="#ffff00"/><stop offset=".528" stop-color="#ff9300"/><stop offset=".556" stop-color="#ffc000"/><stop offset=".567" stop-color="#ffff00"/><stop offset=".611" stop-color="#16ffe9"/><stop offset=".622" stop-color="#00ffff"/><stop offset=".639" stop-color="#00deff"/><stop offset=".694" stop-color="#00edff"/><stop offset=".709" stop-color="#00ffff"/><stop offset=".778" stop-color="#53ffac"/><stop offset=".917" stop-color="#44ffbb"/><stop offset="1" stop-color="#50ffaf"/></linearGradient><rect x="1453.2" y="965.53" width="311" height="2.58" fill="url(#h103)"/>
<linearGradient id="h104"><stop offset="0" stop-color="#ffab00"/><stop offset=".048" stop-color="#ffff00"/><stop offset=".056" stop-color="#f2ff0d"/><stop offset=".139" stop-color="#07fff8"/><stop offset=".145" stop-color="#00ffff"/><stop offset=".167" stop-color="#00e5ff"/><stop offset=".194" stop-color="#00f0ff"/><stop offset=".202" stop-color="#00ffff"/><stop offset=".278" stop-color="#91ff6e"/><stop offset=".417" stop-color="#d2ff2d"/><stop offset=".438" stop-color="#ffff00"/><stop offset=".472" stop-color="#ffb800"/><stop offset=".5" stop-color="#ff3c00"/><stop offset=".583" stop-color="#ff2400"/><stop offset=".611" stop-color="#ff8b00"/><stop offset=".667" stop-color="#fff500"/><stop offset=".676" stop-color="#ffff00"/><stop offset=".778" stop-color="#90ff6f"/><stop offset=".917" stop-color="#47ffb8"/><stop offset="1" stop-color="#9cff63"/></linearGradient><rect x="1453.2" y="967.71" width="311" height="2.58" fill="url(#h104)"/>
<linearGradient id="h105"><stop offset="0" stop-color="#73ff8c"/><stop offset=".111" stop-color="#3affc5"/><stop offset=".194" stop-color="#50ffaf"/><stop offset=".333" stop-color="#92ff6d"/><stop offset=".444" stop-color="#d2ff2d"/><stop offset=".468" stop-color="#ffff00"/><stop offset=".472" stop-color="#fff600"/><stop offset=".528" stop-color="#ff2400"/><stop offset=".556" stop-color="#ff5800"/><stop offset=".58" stop-color="#ffff00"/><stop offset=".583" stop-color="#e9ff16"/><stop offset=".611" stop-color="#5bffa4"/><stop offset=".639" stop-color="#20ffdf"/><stop offset=".7" stop-color="#00ffff"/><stop offset=".778" stop-color="#00d7ff"/><stop offset=".889" stop-color="#00beff"/><stop offset=".999" stop-color="#00ffff"/><stop offset="1" stop-color="#01fffe"/></linearGradient><rect x="1453.2" y="969.89" width="311" height="2.58" fill="url(#h105)"/>
<linearGradient id="h106"><stop offset="0" stop-color="#87ff78"/><stop offset=".139" stop-color="#f9ff06"/><stop offset=".222" stop-color="#d6ff29"/><stop offset=".306" stop-color="#54ffab"/><stop offset=".361" stop-color="#49ffb6"/><stop offset=".444" stop-color="#a9ff56"/><stop offset=".472" stop-color="#e5ff1a"/><stop offset=".479" stop-color="#ffff00"/><stop offset=".528" stop-color="#ff3700"/><stop offset=".556" stop-color="#ff3100"/><stop offset=".601" stop-color="#ffff00"/><stop offset=".611" stop-color="#d0ff2f"/><stop offset=".639" stop-color="#a2ff5d"/><stop offset=".75" stop-color="#b7ff48"/><stop offset=".861" stop-color="#13ffec"/><stop offset="1" stop-color="#0ffff0"/></linearGradient><rect x="1453.2" y="972.07" width="311" height="2.58" fill="url(#h106)"/>
<linearGradient id="h107"><stop offset="0" stop-color="#22ffdd"/><stop offset=".056" stop-color="#00ffff"/><stop offset=".083" stop-color="#00eeff"/><stop offset=".134" stop-color="#00ffff"/><stop offset=".167" stop-color="#0bfff4"/><stop offset=".25" stop-color="#9dff62"/><stop offset=".306" stop-color="#98ff67"/><stop offset=".389" stop-color="#52ffad"/><stop offset=".444" stop-color="#87ff78"/><stop offset=".472" stop-color="#c5ff3a"/><stop offset=".487" stop-color="#ffff00"/><stop offset=".528" stop-color="#ff6000"/><stop offset=".556" stop-color="#ff5400"/><stop offset=".609" stop-color="#ffff00"/><stop offset=".611" stop-color="#f9ff06"/><stop offset=".667" stop-color="#97ff68"/><stop offset=".783" stop-color="#00ffff"/><stop offset=".806" stop-color="#00e2ff"/><stop offset=".861" stop-color="#00ddff"/><stop offset=".896" stop-color="#00ffff"/><stop offset="1" stop-color="#66ff99"/></linearGradient><rect x="1453.2" y="974.25" width="311" height="2.58" fill="url(#h107)"/>
<linearGradient id="h108"><stop offset="0" stop-color="#9bff64"/><stop offset=".048" stop-color="#ffff00"/><stop offset=".056" stop-color="#fff000"/><stop offset=".113" stop-color="#ffff00"/><stop offset=".139" stop-color="#f8ff07"/><stop offset=".306" stop-color="#4affb5"/><stop offset=".361" stop-color="#55ffaa"/><stop offset=".417" stop-color="#d8ff27"/><stop offset=".427" stop-color="#ffff00"/><stop offset=".444" stop-color="#ffc100"/><stop offset=".472" stop-color="#ff3400"/><stop offset=".556" stop-color="#ff2400"/><stop offset=".583" stop-color="#ff3700"/><stop offset=".611" stop-color="#ffc100"/><stop offset=".634" stop-color="#ffff00"/><stop offset=".667" stop-color="#a5ff5a"/><stop offset=".722" stop-color="#6bff94"/><stop offset=".889" stop-color="#24ffdb"/><stop offset=".972" stop-color="#40ffbf"/><stop offset="1" stop-color="#39ffc6"/></linearGradient><rect x="1453.2" y="976.43" width="311" height="2.58" fill="url(#h108)"/>
<linearGradient id="h109"><stop offset="0" stop-color="#80ff7f"/><stop offset=".083" stop-color="#37ffc8"/><stop offset=".194" stop-color="#0dfff2"/><stop offset=".232" stop-color="#00ffff"/><stop offset=".306" stop-color="#00e6ff"/><stop offset=".344" stop-color="#00ffff"/><stop offset=".389" stop-color="#1dffe2"/><stop offset=".444" stop-color="#a6ff59"/><stop offset=".461" stop-color="#ffff00"/><stop offset=".5" stop-color="#ff2400"/><stop offset=".528" stop-color="#ff2400"/><stop offset=".556" stop-color="#ff6a00"/><stop offset=".581" stop-color="#ffff00"/><stop offset=".583" stop-color="#efff10"/><stop offset=".611" stop-color="#98ff67"/><stop offset=".667" stop-color="#77ff88"/><stop offset=".722" stop-color="#75ff8a"/><stop offset=".778" stop-color="#13ffec"/><stop offset=".788" stop-color="#00ffff"/><stop offset=".861" stop-color="#0072ff"/><stop offset=".917" stop-color="#008cff"/><stop offset=".993" stop-color="#00ffff"/><stop offset="1" stop-color="#0afff5"/></linearGradient><rect x="1453.2" y="978.61" width="311" height="2.58" fill="url(#h109)"/>
<linearGradient id="h110"><stop offset="0" stop-color="#5fffa0"/><stop offset=".062" stop-color="#00ffff"/><stop offset=".083" stop-color="#00deff"/><stop offset=".139" stop-color="#00e3ff"/><stop offset=".155" stop-color="#00ffff"/><stop offset=".278" stop-color="#d0ff2f"/><stop offset=".361" stop-color="#cfff30"/><stop offset=".417" stop-color="#ccff33"/><stop offset=".444" stop-color="#f4ff0b"/><stop offset=".447" stop-color="#ffff00"/><stop offset=".5" stop-color="#ff2400"/><stop offset=".556" stop-color="#ff2400"/><stop offset=".611" stop-color="#ffbf00"/><stop offset=".667" stop-color="#fffd00"/><stop offset=".67" stop-color="#ffff00"/><stop offset=".75" stop-color="#cdff32"/><stop offset=".852" stop-color="#00ffff"/><stop offset=".861" stop-color="#00ecff"/><stop offset=".917" stop-color="#00d0ff"/><stop offset="1" stop-color="#00f4ff"/></linearGradient><rect x="1453.2" y="980.79" width="311" height="2.58" fill="url(#h110)"/>
<linearGradient id="h111"><stop offset="0" stop-color="#79ff86"/><stop offset=".139" stop-color="#9aff65"/><stop offset=".25" stop-color="#55ffaa"/><stop offset=".417" stop-color="#a4ff5b"/><stop offset=".444" stop-color="#c4ff3b"/><stop offset=".468" stop-color="#ffff00"/><stop offset=".472" stop-color="#fff600"/><stop offset=".5" stop-color="#ff7700"/><stop offset=".528" stop-color="#ff2500"/><stop offset=".556" stop-color="#ff7600"/><stop offset=".583" stop-color="#ffff00"/><stop offset=".583" stop-color="#ffff00"/><stop offset=".611" stop-color="#b5ff4a"/><stop offset=".75" stop-color="#34ffcb"/><stop offset=".798" stop-color="#00ffff"/><stop offset=".833" stop-color="#00d8ff"/><stop offset=".899" stop-color="#00ffff"/><stop offset="1" stop-color="#3bffc4"/></linearGradient><rect x="1453.2" y="982.97" width="311" height="2.58" fill="url(#h111)"/>
<linearGradient id="h112"><stop offset="0" stop-color="#32ffcd"/><stop offset=".194" stop-color="#b5ff4a"/><stop offset=".25" stop-color="#ecff13"/><stop offset=".389" stop-color="#baff45"/><stop offset=".444" stop-color="#d5ff2a"/><stop offset=".46" stop-color="#ffff00"/><stop offset=".472" stop-color="#ffdc00"/><stop offset=".5" stop-color="#ff4d00"/><stop offset=".528" stop-color="#ff2400"/><stop offset=".556" stop-color="#ff4000"/><stop offset=".583" stop-color="#ffec00"/><stop offset=".588" stop-color="#ffff00"/><stop offset=".611" stop-color="#98ff67"/><stop offset=".667" stop-color="#27ffd8"/><stop offset=".722" stop-color="#0efff1"/><stop offset=".806" stop-color="#25ffda"/><stop offset=".829" stop-color="#00ffff"/><stop offset=".889" stop-color="#00a0ff"/><stop offset=".917" stop-color="#0098ff"/><stop offset=".972" stop-color="#00eaff"/><stop offset=".981" stop-color="#00ffff"/><stop offset="1" stop-color="#2affd5"/></linearGradient><rect x="1453.2" y="985.15" width="311" height="2.58" fill="url(#h112)"/>
<linearGradient id="h113"><stop offset="0" stop-color="#74ff8b"/><stop offset=".111" stop-color="#5cffa3"/><stop offset=".194" stop-color="#1dffe2"/><stop offset=".333" stop-color="#2bffd4"/><stop offset=".389" stop-color="#81ff7e"/><stop offset=".426" stop-color="#ffff00"/><stop offset=".472" stop-color="#ff6400"/><stop offset=".5" stop-color="#ff2400"/><stop offset=".528" stop-color="#ff2400"/><stop offset=".562" stop-color="#ffff00"/><stop offset=".583" stop-color="#76ff89"/><stop offset=".611" stop-color="#10ffef"/><stop offset=".637" stop-color="#00ffff"/><stop offset=".694" stop-color="#00dbff"/><stop offset=".833" stop-color="#00fcff"/><stop offset=".972" stop-color="#005aff"/><stop offset="1" stop-color="#0057ff"/></linearGradient><rect x="1453.2" y="987.33" width="311" height="2.58" fill="url(#h113)"/>
<linearGradient id="h114"><stop offset="0" stop-color="#6aff95"/><stop offset=".167" stop-color="#78ff87"/><stop offset=".25" stop-color="#90ff6f"/><stop offset=".361" stop-color="#08fff7"/><stop offset=".417" stop-color="#0ffff0"/><stop offset=".444" stop-color="#44ffbb"/><stop offset=".488" stop-color="#ffff00"/><stop offset=".5" stop-color="#ffcc00"/><stop offset=".528" stop-color="#ffa000"/><stop offset=".551" stop-color="#ffff00"/><stop offset=".583" stop-color="#7aff85"/><stop offset=".611" stop-color="#3affc5"/><stop offset=".806" stop-color="#38ffc7"/><stop offset=".889" stop-color="#3affc5"/><stop offset=".944" stop-color="#13ffec"/><stop offset="1" stop-color="#43ffbc"/></linearGradient><rect x="1453.2" y="989.51" width="311" height="2.58" fill="url(#h114)"/>
<linearGradient id="h115"><stop offset="0" stop-color="#9aff65"/><stop offset=".11" stop-color="#ffff00"/><stop offset=".111" stop-color="#fffe00"/><stop offset=".113" stop-color="#ffff00"/><stop offset=".194" stop-color="#d8ff27"/><stop offset=".278" stop-color="#70ff8f"/><stop offset=".333" stop-color="#71ff8e"/><stop offset=".417" stop-color="#caff35"/><stop offset=".438" stop-color="#ffff00"/><stop offset=".444" stop-color="#fff000"/><stop offset=".472" stop-color="#ff7300"/><stop offset=".5" stop-color="#ff2400"/><stop offset=".528" stop-color="#ff2400"/><stop offset=".565" stop-color="#ffff00"/><stop offset=".583" stop-color="#91ff6e"/><stop offset=".611" stop-color="#20ffdf"/><stop offset=".626" stop-color="#00ffff"/><stop offset=".667" stop-color="#00aaff"/><stop offset=".722" stop-color="#00a2ff"/><stop offset=".807" stop-color="#00ffff"/><stop offset=".833" stop-color="#1dffe2"/><stop offset=".955" stop-color="#00ffff"/><stop offset=".972" stop-color="#00fbff"/><stop offset=".991" stop-color="#00ffff"/><stop offset="1" stop-color="#02fffd"/></linearGradient><rect x="1453.2" y="991.69" width="311" height="2.58" fill="url(#h115)"/>
<linearGradient id="h116"><stop offset="0" stop-color="#d6ff29"/><stop offset=".194" stop-color="#11ffee"/><stop offset=".278" stop-color="#55ffaa"/><stop offset=".361" stop-color="#8fff70"/><stop offset=".444" stop-color="#85ff7a"/><stop offset=".486" stop-color="#ffff00"/><stop offset=".5" stop-color="#ffd500"/><stop offset=".528" stop-color="#ffc500"/><stop offset=".542" stop-color="#ffff00"/><stop offset=".583" stop-color="#5affa5"/><stop offset=".636" stop-color="#00ffff"/><stop offset=".639" stop-color="#00faff"/><stop offset=".722" stop-color="#00e6ff"/><stop offset=".746" stop-color="#00ffff"/><stop offset=".778" stop-color="#21ffde"/><stop offset=".861" stop-color="#8aff75"/><stop offset=".944" stop-color="#6dff92"/><stop offset="1" stop-color="#24ffdb"/></linearGradient><rect x="1453.2" y="993.87" width="311" height="2.58" fill="url(#h116)"/>
<linearGradient id="h117"><stop offset="0" stop-color="#ffdf00"/><stop offset=".026" stop-color="#ffff00"/><stop offset=".239" stop-color="#00ffff"/><stop offset=".25" stop-color="#00f2ff"/><stop offset=".278" stop-color="#00ecff"/><stop offset=".296" stop-color="#00ffff"/><stop offset=".306" stop-color="#0afff5"/><stop offset=".387" stop-color="#ffff00"/><stop offset=".417" stop-color="#ffa500"/><stop offset=".472" stop-color="#ff2400"/><stop offset=".528" stop-color="#ff2400"/><stop offset=".568" stop-color="#ffff00"/><stop offset=".583" stop-color="#aaff55"/><stop offset=".611" stop-color="#4affb5"/><stop offset=".663" stop-color="#00ffff"/><stop offset=".694" stop-color="#00d1ff"/><stop offset=".75" stop-color="#00c7ff"/><stop offset=".778" stop-color="#00ffff"/><stop offset=".861" stop-color="#a5ff5a"/><stop offset=".917" stop-color="#82ff7d"/><stop offset="1" stop-color="#31ffce"/></linearGradient><rect x="1453.2" y="996.05" width="311" height="2.58" fill="url(#h117)"/>
<linearGradient id="h118"><stop offset="0" stop-color="#7eff81"/><stop offset=".087" stop-color="#00ffff"/><stop offset=".139" stop-color="#00b4ff"/><stop offset=".194" stop-color="#00aeff"/><stop offset=".253" stop-color="#00ffff"/><stop offset=".278" stop-color="#23ffdc"/><stop offset=".333" stop-color="#6dff92"/><stop offset=".389" stop-color="#4dffb2"/><stop offset=".444" stop-color="#29ffd6"/><stop offset=".5" stop-color="#e1ff1e"/><stop offset=".528" stop-color="#d5ff2a"/><stop offset=".556" stop-color="#83ff7c"/><stop offset=".583" stop-color="#6eff91"/><stop offset=".639" stop-color="#8aff75"/><stop offset=".72" stop-color="#00ffff"/><stop offset=".75" stop-color="#00cbff"/><stop offset=".801" stop-color="#00ffff"/><stop offset=".889" stop-color="#5bffa4"/><stop offset="1" stop-color="#50ffaf"/></linearGradient><rect x="1453.2" y="998.23" width="311" height="2.58" fill="url(#h118)"/>
<linearGradient id="h119"><stop offset="0" stop-color="#d4ff2b"/><stop offset=".083" stop-color="#eaff15"/><stop offset=".139" stop-color="#90ff6f"/><stop offset=".198" stop-color="#00ffff"/><stop offset=".25" stop-color="#007eff"/><stop offset=".306" stop-color="#005dff"/><stop offset=".389" stop-color="#00c2ff"/><stop offset=".417" stop-color="#00ffff"/><stop offset=".417" stop-color="#00ffff"/><stop offset=".444" stop-color="#66ff99"/><stop offset=".473" stop-color="#ffff00"/><stop offset=".5" stop-color="#ff6b00"/><stop offset=".528" stop-color="#ff8300"/><stop offset=".555" stop-color="#ffff00"/><stop offset=".556" stop-color="#fdff02"/><stop offset=".583" stop-color="#b1ff4e"/><stop offset=".667" stop-color="#8dff72"/><stop offset=".75" stop-color="#38ffc7"/><stop offset=".861" stop-color="#84ff7b"/><stop offset="1" stop-color="#0ffff0"/></linearGradient><rect x="1453.2" y="1000.41" width="311" height="2.58" fill="url(#h119)"/>
<linearGradient id="h120"><stop offset="0" stop-color="#caff35"/><stop offset=".083" stop-color="#75ff8a"/><stop offset=".136" stop-color="#00ffff"/><stop offset=".194" stop-color="#007dff"/><stop offset=".222" stop-color="#0058ff"/><stop offset=".25" stop-color="#0057ff"/><stop offset=".333" stop-color="#00ffff"/><stop offset=".361" stop-color="#38ffc7"/><stop offset=".417" stop-color="#70ff8f"/><stop offset=".444" stop-color="#d0ff2f"/><stop offset=".452" stop-color="#ffff00"/><stop offset=".472" stop-color="#ff7f00"/><stop offset=".5" stop-color="#ff2900"/><stop offset=".528" stop-color="#ff9500"/><stop offset=".548" stop-color="#ffff00"/><stop offset=".556" stop-color="#d6ff29"/><stop offset=".583" stop-color="#8fff70"/><stop offset=".702" stop-color="#00ffff"/><stop offset=".75" stop-color="#00c5ff"/><stop offset=".972" stop-color="#00e7ff"/><stop offset="1" stop-color="#00f5ff"/></linearGradient><rect x="1453.2" y="1002.59" width="311" height="2.58" fill="url(#h120)"/>
<linearGradient id="h121"><stop offset="0" stop-color="#ffde00"/><stop offset=".018" stop-color="#ffff00"/><stop offset=".083" stop-color="#89ff76"/><stop offset=".139" stop-color="#15ffea"/><stop offset=".194" stop-color="#0efff1"/><stop offset=".278" stop-color="#8fff70"/><stop offset=".306" stop-color="#8dff72"/><stop offset=".381" stop-color="#00ffff"/><stop offset=".389" stop-color="#00f1ff"/><stop offset=".417" stop-color="#00e6ff"/><stop offset=".425" stop-color="#00ffff"/><stop offset=".444" stop-color="#3dffc2"/><stop offset=".472" stop-color="#f6ff09"/><stop offset=".474" stop-color="#ffff00"/><stop offset=".5" stop-color="#ff7a00"/><stop offset=".528" stop-color="#ff8d00"/><stop offset=".563" stop-color="#ffff00"/><stop offset=".583" stop-color="#beff41"/><stop offset=".669" stop-color="#00ffff"/><stop offset=".694" stop-color="#00c6ff"/><stop offset=".75" stop-color="#009aff"/><stop offset=".889" stop-color="#00f5ff"/><stop offset=".972" stop-color="#00e3ff"/><stop offset="1" stop-color="#00ceff"/></linearGradient><rect x="1453.2" y="1004.77" width="311" height="2.58" fill="url(#h121)"/>
<linearGradient id="h122"><stop offset="0" stop-color="#5affa5"/><stop offset=".111" stop-color="#61ff9e"/><stop offset=".361" stop-color="#efff10"/><stop offset=".417" stop-color="#faff05"/><stop offset=".419" stop-color="#ffff00"/><stop offset=".444" stop-color="#ffc700"/><stop offset=".472" stop-color="#ff3f00"/><stop offset=".5" stop-color="#ff2400"/><stop offset=".528" stop-color="#ff3100"/><stop offset=".556" stop-color="#ffbc00"/><stop offset=".582" stop-color="#ffff00"/><stop offset=".583" stop-color="#fbff04"/><stop offset=".639" stop-color="#ccff33"/><stop offset=".744" stop-color="#00ffff"/><stop offset=".75" stop-color="#00f3ff"/><stop offset=".784" stop-color="#00ffff"/><stop offset=".889" stop-color="#26ffd9"/><stop offset=".931" stop-color="#00ffff"/><stop offset="1" stop-color="#00c1ff"/></linearGradient><rect x="1453.2" y="1006.95" width="311" height="2.58" fill="url(#h122)"/>
<linearGradient id="h123"><stop offset="0" stop-color="#0091ff"/><stop offset=".056" stop-color="#0095ff"/><stop offset=".1" stop-color="#00ffff"/><stop offset=".139" stop-color="#5cffa3"/><stop offset=".167" stop-color="#78ff87"/><stop offset=".194" stop-color="#62ff9d"/><stop offset=".24" stop-color="#00ffff"/><stop offset=".278" stop-color="#00afff"/><stop offset=".333" stop-color="#00b0ff"/><stop offset=".367" stop-color="#00ffff"/><stop offset=".389" stop-color="#34ffcb"/><stop offset=".417" stop-color="#9bff64"/><stop offset=".434" stop-color="#ffff00"/><stop offset=".472" stop-color="#ff2400"/><stop offset=".5" stop-color="#ff2400"/><stop offset=".528" stop-color="#ff5300"/><stop offset=".555" stop-color="#ffff00"/><stop offset=".556" stop-color="#fcff03"/><stop offset=".583" stop-color="#9dff62"/><stop offset=".667" stop-color="#0bfff4"/><stop offset=".72" stop-color="#00ffff"/><stop offset=".722" stop-color="#00ffff"/><stop offset=".723" stop-color="#00ffff"/><stop offset=".806" stop-color="#48ffb7"/><stop offset=".92" stop-color="#00ffff"/><stop offset=".944" stop-color="#00f0ff"/><stop offset="1" stop-color="#00e3ff"/></linearGradient><rect x="1453.2" y="1009.13" width="311" height="2.58" fill="url(#h123)"/>
<linearGradient id="h124"><stop offset="0" stop-color="#13ffec"/><stop offset=".083" stop-color="#54ffab"/><stop offset=".153" stop-color="#00ffff"/><stop offset=".222" stop-color="#00acff"/><stop offset=".25" stop-color="#00a8ff"/><stop offset=".292" stop-color="#00ffff"/><stop offset=".415" stop-color="#ffff00"/><stop offset=".417" stop-color="#fffc00"/><stop offset=".472" stop-color="#ff5100"/><stop offset=".5" stop-color="#ff6d00"/><stop offset=".535" stop-color="#ffff00"/><stop offset=".556" stop-color="#acff53"/><stop offset=".583" stop-color="#71ff8e"/><stop offset=".667" stop-color="#5effa1"/><stop offset=".778" stop-color="#beff41"/><stop offset=".833" stop-color="#8aff75"/><stop offset=".889" stop-color="#24ffdb"/><stop offset=".944" stop-color="#16ffe9"/><stop offset="1" stop-color="#79ff86"/></linearGradient><rect x="1453.2" y="1011.31" width="311" height="2.58" fill="url(#h124)"/>
<linearGradient id="h125"><stop offset="0" stop-color="#09fff6"/><stop offset=".111" stop-color="#a1ff5e"/><stop offset=".194" stop-color="#90ff6f"/><stop offset=".299" stop-color="#00ffff"/><stop offset=".306" stop-color="#00f6ff"/><stop offset=".331" stop-color="#00ffff"/><stop offset=".361" stop-color="#0afff5"/><stop offset=".444" stop-color="#b3ff4c"/><stop offset=".466" stop-color="#ffff00"/><stop offset=".5" stop-color="#ff8900"/><stop offset=".528" stop-color="#ffa800"/><stop offset=".544" stop-color="#ffff00"/><stop offset=".556" stop-color="#c4ff3b"/><stop offset=".583" stop-color="#5bffa4"/><stop offset=".75" stop-color="#09fff6"/><stop offset=".785" stop-color="#00ffff"/><stop offset=".917" stop-color="#00dfff"/><stop offset=".947" stop-color="#00ffff"/><stop offset=".972" stop-color="#1cffe3"/><stop offset="1" stop-color="#59ffa6"/></linearGradient><rect x="1453.2" y="1013.49" width="311" height="2.58" fill="url(#h125)"/>
<linearGradient id="h126"><stop offset="0" stop-color="#00f5ff"/><stop offset=".009" stop-color="#00ffff"/><stop offset=".083" stop-color="#58ffa7"/><stop offset=".139" stop-color="#47ffb8"/><stop offset=".195" stop-color="#00ffff"/><stop offset=".222" stop-color="#00dbff"/><stop offset=".25" stop-color="#00d3ff"/><stop offset=".285" stop-color="#00ffff"/><stop offset=".389" stop-color="#86ff79"/><stop offset=".417" stop-color="#c8ff37"/><stop offset=".43" stop-color="#ffff00"/><stop offset=".472" stop-color="#ff4b00"/><stop offset=".5" stop-color="#ff4d00"/><stop offset=".532" stop-color="#ffff00"/><stop offset=".556" stop-color="#79ff86"/><stop offset=".583" stop-color="#15ffea"/><stop offset=".603" stop-color="#00ffff"/><stop offset=".694" stop-color="#009eff"/><stop offset=".75" stop-color="#00d8ff"/><stop offset=".769" stop-color="#00ffff"/><stop offset=".806" stop-color="#4cffb3"/><stop offset=".861" stop-color="#5bffa4"/><stop offset=".96" stop-color="#00ffff"/><stop offset=".972" stop-color="#00f4ff"/><stop offset="1" stop-color="#00f5ff"/></linearGradient><rect x="1453.2" y="1015.67" width="311" height="2.58" fill="url(#h126)"/>
<linearGradient id="h127"><stop offset="0" stop-color="#09fff6"/><stop offset=".139" stop-color="#1effe1"/><stop offset=".165" stop-color="#00ffff"/><stop offset=".25" stop-color="#009dff"/><stop offset=".316" stop-color="#00ffff"/><stop offset=".333" stop-color="#1affe5"/><stop offset=".417" stop-color="#98ff67"/><stop offset=".444" stop-color="#ecff13"/><stop offset=".448" stop-color="#ffff00"/><stop offset=".472" stop-color="#ff8d00"/><stop offset=".5" stop-color="#ff4c00"/><stop offset=".528" stop-color="#ff9600"/><stop offset=".548" stop-color="#ffff00"/><stop offset=".556" stop-color="#d8ff27"/><stop offset=".583" stop-color="#89ff76"/><stop offset=".694" stop-color="#90ff6f"/><stop offset=".806" stop-color="#15ffea"/><stop offset=".823" stop-color="#00ffff"/><stop offset=".861" stop-color="#00d2ff"/><stop offset=".889" stop-color="#00ddff"/><stop offset=".91" stop-color="#00ffff"/><stop offset=".972" stop-color="#61ff9e"/><stop offset="1" stop-color="#66ff99"/></linearGradient><rect x="1453.2" y="1017.85" width="311" height="2.58" fill="url(#h127)"/>
<linearGradient id="h128"><stop offset="0" stop-color="#54ffab"/><stop offset=".25" stop-color="#36ffc9"/><stop offset=".333" stop-color="#8fff70"/><stop offset=".389" stop-color="#eeff11"/><stop offset=".394" stop-color="#ffff00"/><stop offset=".417" stop-color="#ffba00"/><stop offset=".444" stop-color="#ff2400"/><stop offset=".5" stop-color="#ff2400"/><stop offset=".528" stop-color="#ffb700"/><stop offset=".546" stop-color="#ffff00"/><stop offset=".556" stop-color="#daff25"/><stop offset=".639" stop-color="#7dff82"/><stop offset=".71" stop-color="#00ffff"/><stop offset=".722" stop-color="#00eaff"/><stop offset=".778" stop-color="#00edff"/><stop offset=".791" stop-color="#00ffff"/><stop offset=".917" stop-color="#aaff55"/><stop offset=".972" stop-color="#a8ff57"/><stop offset="1" stop-color="#8dff72"/></linearGradient><rect x="1453.2" y="1020.03" width="311" height="2.58" fill="url(#h128)"/>
<linearGradient id="h129"><stop offset="0" stop-color="#a2ff5d"/><stop offset=".083" stop-color="#8bff74"/><stop offset=".167" stop-color="#9fff60"/><stop offset=".333" stop-color="#4dffb2"/><stop offset=".389" stop-color="#6aff95"/><stop offset=".417" stop-color="#abff54"/><stop offset=".432" stop-color="#ffff00"/><stop offset=".472" stop-color="#ff2400"/><stop offset=".528" stop-color="#ff3500"/><stop offset=".556" stop-color="#ffbf00"/><stop offset=".574" stop-color="#ffff00"/><stop offset=".583" stop-color="#ddff22"/><stop offset=".694" stop-color="#08fff7"/><stop offset=".702" stop-color="#00ffff"/><stop offset=".778" stop-color="#00afff"/><stop offset=".861" stop-color="#00cdff"/><stop offset=".918" stop-color="#00ffff"/><stop offset=".944" stop-color="#17ffe8"/><stop offset=".988" stop-color="#00ffff"/><stop offset="1" stop-color="#00f9ff"/></linearGradient><rect x="1453.2" y="1022.21" width="311" height="2.58" fill="url(#h129)"/>
<linearGradient id="h130"><stop offset="0" stop-color="#23ffdc"/><stop offset=".139" stop-color="#62ff9d"/><stop offset=".222" stop-color="#57ffa8"/><stop offset=".306" stop-color="#98ff67"/><stop offset=".389" stop-color="#5effa1"/><stop offset=".417" stop-color="#78ff87"/><stop offset=".444" stop-color="#e9ff16"/><stop offset=".449" stop-color="#ffff00"/><stop offset=".472" stop-color="#ff7e00"/><stop offset=".5" stop-color="#ff5000"/><stop offset=".556" stop-color="#fff800"/><stop offset=".564" stop-color="#ffff00"/><stop offset=".583" stop-color="#f0ff0f"/><stop offset=".599" stop-color="#ffff00"/><stop offset=".639" stop-color="#ffd900"/><stop offset=".676" stop-color="#ffff00"/><stop offset=".694" stop-color="#edff12"/><stop offset=".796" stop-color="#00ffff"/><stop offset=".806" stop-color="#00e8ff"/><stop offset=".861" stop-color="#00aeff"/><stop offset=".965" stop-color="#00ffff"/><stop offset=".972" stop-color="#05fffa"/><stop offset="1" stop-color="#04fffb"/></linearGradient><rect x="1453.2" y="1024.39" width="311" height="2.58" fill="url(#h130)"/>
<linearGradient id="h131"><stop offset="0" stop-color="#00d0ff"/><stop offset=".083" stop-color="#00deff"/><stop offset=".114" stop-color="#00ffff"/><stop offset=".194" stop-color="#54ffab"/><stop offset=".25" stop-color="#2cffd3"/><stop offset=".277" stop-color="#00ffff"/><stop offset=".306" stop-color="#00cfff"/><stop offset=".361" stop-color="#00e2ff"/><stop offset=".376" stop-color="#00ffff"/><stop offset=".417" stop-color="#53ffac"/><stop offset=".444" stop-color="#ccff33"/><stop offset=".453" stop-color="#ffff00"/><stop offset=".472" stop-color="#ff8400"/><stop offset=".5" stop-color="#ff3300"/><stop offset=".556" stop-color="#ffd600"/><stop offset=".589" stop-color="#ffff00"/><stop offset=".667" stop-color="#9dff62"/><stop offset=".75" stop-color="#31ffce"/><stop offset=".894" stop-color="#00ffff"/><stop offset=".917" stop-color="#00f7ff"/><stop offset=".927" stop-color="#00ffff"/><stop offset="1" stop-color="#38ffc7"/></linearGradient><rect x="1453.2" y="1026.57" width="311" height="2.58" fill="url(#h131)"/>
<linearGradient id="h132"><stop offset="0" stop-color="#16ffe9"/><stop offset=".25" stop-color="#bcff43"/><stop offset=".306" stop-color="#9dff62"/><stop offset=".389" stop-color="#20ffdf"/><stop offset=".417" stop-color="#44ffbb"/><stop offset=".444" stop-color="#d5ff2a"/><stop offset=".45" stop-color="#ffff00"/><stop offset=".472" stop-color="#ff4600"/><stop offset=".528" stop-color="#ff2400"/><stop offset=".556" stop-color="#ff8a00"/><stop offset=".583" stop-color="#ffc200"/><stop offset=".678" stop-color="#ffff00"/><stop offset=".694" stop-color="#f5ff0a"/><stop offset=".806" stop-color="#1fffe0"/><stop offset=".857" stop-color="#00ffff"/><stop offset=".861" stop-color="#00fcff"/><stop offset=".864" stop-color="#00ffff"/><stop offset=".972" stop-color="#63ff9c"/><stop offset="1" stop-color="#5cffa3"/></linearGradient><rect x="1453.2" y="1028.75" width="311" height="2.58" fill="url(#h132)"/>
<linearGradient id="h133"><stop offset="0" stop-color="#69ff96"/><stop offset=".056" stop-color="#79ff86"/><stop offset=".139" stop-color="#2cffd3"/><stop offset=".222" stop-color="#78ff87"/><stop offset=".278" stop-color="#96ff69"/><stop offset=".389" stop-color="#86ff79"/><stop offset=".417" stop-color="#b3ff4c"/><stop offset=".433" stop-color="#ffff00"/><stop offset=".472" stop-color="#ff4c00"/><stop offset=".5" stop-color="#ff4400"/><stop offset=".556" stop-color="#ff9000"/><stop offset=".667" stop-color="#ff7a00"/><stop offset=".722" stop-color="#ffb200"/><stop offset=".759" stop-color="#ffff00"/><stop offset=".806" stop-color="#9eff61"/><stop offset=".971" stop-color="#00ffff"/><stop offset=".972" stop-color="#00feff"/><stop offset=".977" stop-color="#00ffff"/><stop offset="1" stop-color="#04fffb"/></linearGradient><rect x="1453.2" y="1030.93" width="311" height="2.58" fill="url(#h133)"/>
<linearGradient id="h134"><stop offset="0" stop-color="#32ffcd"/><stop offset=".118" stop-color="#00ffff"/><stop offset=".167" stop-color="#00eaff"/><stop offset=".19" stop-color="#00ffff"/><stop offset=".25" stop-color="#36ffc9"/><stop offset=".361" stop-color="#3fffc0"/><stop offset=".389" stop-color="#68ff97"/><stop offset=".417" stop-color="#caff35"/><stop offset=".426" stop-color="#ffff00"/><stop offset=".444" stop-color="#ff9100"/><stop offset=".472" stop-color="#ff2400"/><stop offset=".5" stop-color="#ff2400"/><stop offset=".556" stop-color="#ffb300"/><stop offset=".634" stop-color="#ffff00"/><stop offset=".639" stop-color="#faff05"/><stop offset=".75" stop-color="#4affb5"/><stop offset=".82" stop-color="#00ffff"/><stop offset=".861" stop-color="#00d4ff"/><stop offset=".903" stop-color="#00ffff"/><stop offset=".917" stop-color="#0ffff0"/><stop offset="1" stop-color="#84ff7b"/></linearGradient><rect x="1453.2" y="1033.11" width="311" height="2.58" fill="url(#h134)"/>
<linearGradient id="h135"><stop offset="0" stop-color="#30ffcf"/><stop offset=".139" stop-color="#b0ff4f"/><stop offset=".306" stop-color="#67ff98"/><stop offset=".361" stop-color="#96ff69"/><stop offset=".389" stop-color="#e2ff1d"/><stop offset=".394" stop-color="#ffff00"/><stop offset=".417" stop-color="#ff8500"/><stop offset=".444" stop-color="#ff2400"/><stop offset=".5" stop-color="#ff2800"/><stop offset=".528" stop-color="#ffaf00"/><stop offset=".556" stop-color="#fff300"/><stop offset=".643" stop-color="#ffff00"/><stop offset=".667" stop-color="#fcff03"/><stop offset=".778" stop-color="#a7ff58"/><stop offset=".861" stop-color="#07fff8"/><stop offset=".9" stop-color="#00ffff"/><stop offset=".917" stop-color="#00fcff"/><stop offset=".921" stop-color="#00ffff"/><stop offset="1" stop-color="#30ffcf"/></linearGradient><rect x="1453.2" y="1035.29" width="311" height="2.58" fill="url(#h135)"/>
<linearGradient id="h136"><stop offset="0" stop-color="#27ffd8"/><stop offset=".222" stop-color="#fdff02"/><stop offset=".224" stop-color="#ffff00"/><stop offset=".25" stop-color="#ffec00"/><stop offset=".285" stop-color="#ffff00"/><stop offset=".361" stop-color="#d5ff2a"/><stop offset=".389" stop-color="#edff12"/><stop offset=".394" stop-color="#ffff00"/><stop offset=".417" stop-color="#ffad00"/><stop offset=".444" stop-color="#ff2400"/><stop offset=".472" stop-color="#ff2400"/><stop offset=".528" stop-color="#ffe800"/><stop offset=".547" stop-color="#ffff00"/><stop offset=".583" stop-color="#d4ff2b"/><stop offset=".667" stop-color="#a3ff5c"/><stop offset=".767" stop-color="#00ffff"/><stop offset=".806" stop-color="#00c0ff"/><stop offset=".861" stop-color="#00c2ff"/><stop offset=".918" stop-color="#00ffff"/><stop offset=".972" stop-color="#3affc5"/><stop offset="1" stop-color="#46ffb9"/></linearGradient><rect x="1453.2" y="1037.47" width="311" height="2.58" fill="url(#h136)"/>
<linearGradient id="h137"><stop offset="0" stop-color="#0099ff"/><stop offset=".069" stop-color="#00ffff"/><stop offset=".139" stop-color="#67ff98"/><stop offset=".25" stop-color="#8eff71"/><stop offset=".333" stop-color="#1fffe0"/><stop offset=".361" stop-color="#17ffe8"/><stop offset=".389" stop-color="#4effb1"/><stop offset=".42" stop-color="#ffff00"/><stop offset=".444" stop-color="#ff7500"/><stop offset=".472" stop-color="#ff3c00"/><stop offset=".521" stop-color="#ffff00"/><stop offset=".528" stop-color="#e5ff1a"/><stop offset=".556" stop-color="#a9ff56"/><stop offset=".611" stop-color="#c5ff3a"/><stop offset=".694" stop-color="#daff25"/><stop offset=".778" stop-color="#a6ff59"/><stop offset=".917" stop-color="#d1ff2e"/><stop offset="1" stop-color="#aaff55"/></linearGradient><rect x="1453.2" y="1039.65" width="311" height="2.58" fill="url(#h137)"/>
<linearGradient id="h138"><stop offset="0" stop-color="#86ff79"/><stop offset=".111" stop-color="#27ffd8"/><stop offset=".167" stop-color="#55ffaa"/><stop offset=".25" stop-color="#feff01"/><stop offset=".306" stop-color="#bcff43"/><stop offset=".361" stop-color="#67ff98"/><stop offset=".389" stop-color="#82ff7d"/><stop offset=".417" stop-color="#f9ff06"/><stop offset=".418" stop-color="#ffff00"/><stop offset=".444" stop-color="#ff6500"/><stop offset=".472" stop-color="#ff2c00"/><stop offset=".528" stop-color="#ffe200"/><stop offset=".556" stop-color="#fffb00"/><stop offset=".639" stop-color="#ffb500"/><stop offset=".757" stop-color="#ffff00"/><stop offset=".806" stop-color="#e1ff1e"/><stop offset=".917" stop-color="#2affd5"/><stop offset="1" stop-color="#06fff9"/></linearGradient><rect x="1453.2" y="1041.83" width="311" height="2.58" fill="url(#h138)"/>
<linearGradient id="h139"><stop offset="0" stop-color="#03fffc"/><stop offset=".111" stop-color="#6dff92"/><stop offset=".222" stop-color="#f5ff0a"/><stop offset=".25" stop-color="#fbff04"/><stop offset=".333" stop-color="#a3ff5c"/><stop offset=".361" stop-color="#a4ff5b"/><stop offset=".389" stop-color="#e8ff17"/><stop offset=".393" stop-color="#ffff00"/><stop offset=".417" stop-color="#ff8100"/><stop offset=".444" stop-color="#ff2400"/><stop offset=".472" stop-color="#ff2700"/><stop offset=".511" stop-color="#ffff00"/><stop offset=".528" stop-color="#a3ff5c"/><stop offset=".583" stop-color="#09fff6"/><stop offset=".602" stop-color="#00ffff"/><stop offset=".667" stop-color="#00e0ff"/><stop offset=".833" stop-color="#00b8ff"/><stop offset=".954" stop-color="#00ffff"/><stop offset=".972" stop-color="#0afff5"/><stop offset="1" stop-color="#22ffdd"/></linearGradient><rect x="1453.2" y="1044.01" width="311" height="2.58" fill="url(#h139)"/>
<linearGradient id="h140"><stop offset="0" stop-color="#1dffe2"/><stop offset=".083" stop-color="#61ff9e"/><stop offset=".25" stop-color="#81ff7e"/><stop offset=".333" stop-color="#77ff88"/><stop offset=".361" stop-color="#8fff70"/><stop offset=".389" stop-color="#dcff23"/><stop offset=".395" stop-color="#ffff00"/><stop offset=".417" stop-color="#ff8200"/><stop offset=".444" stop-color="#ff2400"/><stop offset=".472" stop-color="#ff5b00"/><stop offset=".499" stop-color="#ffff00"/><stop offset=".5" stop-color="#f8ff07"/><stop offset=".528" stop-color="#a5ff5a"/><stop offset=".583" stop-color="#caff35"/><stop offset=".633" stop-color="#ffff00"/><stop offset=".639" stop-color="#fff800"/><stop offset=".65" stop-color="#ffff00"/><stop offset=".694" stop-color="#e3ff1c"/><stop offset=".778" stop-color="#32ffcd"/><stop offset=".833" stop-color="#1effe1"/><stop offset=".917" stop-color="#15ffea"/><stop offset=".937" stop-color="#00ffff"/><stop offset="1" stop-color="#00bcff"/></linearGradient><rect x="1453.2" y="1046.19" width="311" height="2.58" fill="url(#h140)"/>
<linearGradient id="h141"><stop offset="0" stop-color="#0057ff"/><stop offset=".028" stop-color="#0062ff"/><stop offset=".093" stop-color="#00ffff"/><stop offset=".111" stop-color="#2dffd2"/><stop offset=".25" stop-color="#a7ff58"/><stop offset=".361" stop-color="#3cffc3"/><stop offset=".389" stop-color="#7cff83"/><stop offset=".41" stop-color="#ffff00"/><stop offset=".444" stop-color="#ff2b00"/><stop offset=".472" stop-color="#ff2600"/><stop offset=".511" stop-color="#ffff00"/><stop offset=".528" stop-color="#a4ff5b"/><stop offset=".58" stop-color="#00ffff"/><stop offset=".583" stop-color="#00f4ff"/><stop offset=".639" stop-color="#0089ff"/><stop offset=".667" stop-color="#007cff"/><stop offset=".722" stop-color="#00d5ff"/><stop offset=".74" stop-color="#00ffff"/><stop offset=".778" stop-color="#58ffa7"/><stop offset=".833" stop-color="#6aff95"/><stop offset=".975" stop-color="#00ffff"/><stop offset="1" stop-color="#00ecff"/></linearGradient><rect x="1453.2" y="1048.37" width="311" height="2.58" fill="url(#h141)"/>
<linearGradient id="h142"><stop offset="0" stop-color="#00f7ff"/><stop offset=".005" stop-color="#00ffff"/><stop offset=".083" stop-color="#6dff92"/><stop offset=".139" stop-color="#6cff93"/><stop offset=".194" stop-color="#61ff9e"/><stop offset=".25" stop-color="#cbff34"/><stop offset=".306" stop-color="#d9ff26"/><stop offset=".361" stop-color="#6dff92"/><stop offset=".389" stop-color="#6fff90"/><stop offset=".424" stop-color="#ffff00"/><stop offset=".444" stop-color="#ffad00"/><stop offset=".472" stop-color="#ffc100"/><stop offset=".492" stop-color="#ffff00"/><stop offset=".528" stop-color="#8fff70"/><stop offset=".639" stop-color="#05fffa"/><stop offset=".663" stop-color="#00ffff"/><stop offset=".861" stop-color="#00d8ff"/><stop offset=".944" stop-color="#00d9ff"/><stop offset="1" stop-color="#0077ff"/></linearGradient><rect x="1453.2" y="1050.55" width="311" height="2.58" fill="url(#h142)"/>
<linearGradient id="h143"><stop offset="0" stop-color="#00afff"/><stop offset=".036" stop-color="#00ffff"/><stop offset=".111" stop-color="#a8ff57"/><stop offset=".139" stop-color="#c3ff3c"/><stop offset=".278" stop-color="#46ffb9"/><stop offset=".333" stop-color="#5cffa3"/><stop offset=".361" stop-color="#98ff67"/><stop offset=".379" stop-color="#ffff00"/><stop offset=".417" stop-color="#ff2400"/><stop offset=".472" stop-color="#ff2a00"/><stop offset=".5" stop-color="#ffd400"/><stop offset=".509" stop-color="#ffff00"/><stop offset=".528" stop-color="#a6ff59"/><stop offset=".583" stop-color="#25ffda"/><stop offset=".639" stop-color="#09fff6"/><stop offset=".75" stop-color="#6cff93"/><stop offset=".833" stop-color="#29ffd6"/><stop offset=".874" stop-color="#00ffff"/><stop offset=".972" stop-color="#009aff"/><stop offset="1" stop-color="#0088ff"/></linearGradient><rect x="1453.2" y="1052.73" width="311" height="2.58" fill="url(#h143)"/>
<linearGradient id="h144"><stop offset="0" stop-color="#7bff84"/><stop offset=".083" stop-color="#8eff71"/><stop offset=".158" stop-color="#ffff00"/><stop offset=".194" stop-color="#ffc700"/><stop offset=".25" stop-color="#ffb600"/><stop offset=".333" stop-color="#fff000"/><stop offset=".361" stop-color="#ffeb00"/><stop offset=".389" stop-color="#ff9b00"/><stop offset=".417" stop-color="#ff2400"/><stop offset=".444" stop-color="#ff2400"/><stop offset=".497" stop-color="#ffff00"/><stop offset=".528" stop-color="#7dff82"/><stop offset=".592" stop-color="#00ffff"/><stop offset=".611" stop-color="#00daff"/><stop offset=".667" stop-color="#00e9ff"/><stop offset=".69" stop-color="#00ffff"/><stop offset=".75" stop-color="#39ffc6"/><stop offset=".833" stop-color="#0efff1"/><stop offset=".847" stop-color="#00ffff"/><stop offset=".917" stop-color="#00b3ff"/><stop offset="1" stop-color="#00d0ff"/></linearGradient><rect x="1453.2" y="1054.91" width="311" height="2.58" fill="url(#h144)"/>
<linearGradient id="h145"><stop offset="0" stop-color="#3bffc4"/><stop offset=".083" stop-color="#68ff97"/><stop offset=".167" stop-color="#e3ff1c"/><stop offset=".25" stop-color="#d7ff28"/><stop offset=".333" stop-color="#98ff67"/><stop offset=".361" stop-color="#97ff68"/><stop offset=".389" stop-color="#cdff32"/><stop offset=".399" stop-color="#ffff00"/><stop offset=".444" stop-color="#ff2400"/><stop offset=".5" stop-color="#ff3d00"/><stop offset=".528" stop-color="#ffda00"/><stop offset=".538" stop-color="#ffff00"/><stop offset=".556" stop-color="#c1ff3e"/><stop offset=".611" stop-color="#75ff8a"/><stop offset=".667" stop-color="#61ff9e"/><stop offset=".733" stop-color="#00ffff"/><stop offset=".778" stop-color="#00bdff"/><stop offset=".833" stop-color="#00e4ff"/><stop offset=".855" stop-color="#00ffff"/><stop offset=".917" stop-color="#4cffb3"/><stop offset="1" stop-color="#23ffdc"/></linearGradient><rect x="1453.2" y="1057.09" width="311" height="2.58" fill="url(#h145)"/>
<linearGradient id="h146"><stop offset="0" stop-color="#0069ff"/><stop offset=".056" stop-color="#00ddff"/><stop offset=".066" stop-color="#00ffff"/><stop offset=".139" stop-color="#f5ff0a"/><stop offset=".146" stop-color="#ffff00"/><stop offset=".194" stop-color="#ffc100"/><stop offset=".25" stop-color="#ffd100"/><stop offset=".293" stop-color="#ffff00"/><stop offset=".333" stop-color="#d4ff2b"/><stop offset=".361" stop-color="#f3ff0c"/><stop offset=".364" stop-color="#ffff00"/><stop offset=".417" stop-color="#ff2400"/><stop offset=".472" stop-color="#ff2400"/><stop offset=".519" stop-color="#ffff00"/><stop offset=".528" stop-color="#d3ff2c"/><stop offset=".617" stop-color="#00ffff"/><stop offset=".639" stop-color="#00caff"/><stop offset=".694" stop-color="#00b7ff"/><stop offset=".75" stop-color="#00f2ff"/><stop offset=".955" stop-color="#00ffff"/><stop offset="1" stop-color="#03fffc"/></linearGradient><rect x="1453.2" y="1059.27" width="311" height="2.58" fill="url(#h146)"/>
<linearGradient id="h147"><stop offset="0" stop-color="#77ff88"/><stop offset=".056" stop-color="#e0ff1f"/><stop offset=".111" stop-color="#e3ff1c"/><stop offset=".194" stop-color="#a2ff5d"/><stop offset=".333" stop-color="#72ff8d"/><stop offset=".361" stop-color="#9aff65"/><stop offset=".38" stop-color="#ffff00"/><stop offset=".417" stop-color="#ff3700"/><stop offset=".444" stop-color="#ff2900"/><stop offset=".495" stop-color="#ffff00"/><stop offset=".5" stop-color="#eaff15"/><stop offset=".608" stop-color="#00ffff"/><stop offset=".639" stop-color="#00bcff"/><stop offset=".694" stop-color="#00d0ff"/><stop offset=".723" stop-color="#00ffff"/><stop offset=".75" stop-color="#2cffd3"/><stop offset=".889" stop-color="#15ffea"/><stop offset=".905" stop-color="#00ffff"/><stop offset=".944" stop-color="#00cbff"/><stop offset="1" stop-color="#0062ff"/></linearGradient><rect x="1453.2" y="1061.45" width="311" height="2.58" fill="url(#h147)"/>
<linearGradient id="h148"><stop offset="0" stop-color="#00ecff"/><stop offset=".016" stop-color="#00ffff"/><stop offset=".056" stop-color="#2dffd2"/><stop offset=".111" stop-color="#a8ff57"/><stop offset=".139" stop-color="#c8ff37"/><stop offset=".25" stop-color="#a3ff5c"/><stop offset=".361" stop-color="#f7ff08"/><stop offset=".363" stop-color="#ffff00"/><stop offset=".417" stop-color="#ff2600"/><stop offset=".444" stop-color="#ff2700"/><stop offset=".472" stop-color="#ff8e00"/><stop offset=".526" stop-color="#ffff00"/><stop offset=".611" stop-color="#49ffb6"/><stop offset=".639" stop-color="#2effd1"/><stop offset=".722" stop-color="#5bffa4"/><stop offset=".75" stop-color="#4cffb3"/><stop offset=".792" stop-color="#00ffff"/><stop offset=".806" stop-color="#00e6ff"/><stop offset=".917" stop-color="#00e4ff"/><stop offset="1" stop-color="#00f1ff"/></linearGradient><rect x="1453.2" y="1063.63" width="311" height="2.58" fill="url(#h148)"/>
<linearGradient id="h149"><stop offset="0" stop-color="#7cff83"/><stop offset=".083" stop-color="#aaff55"/><stop offset=".139" stop-color="#70ff8f"/><stop offset=".195" stop-color="#00ffff"/><stop offset=".222" stop-color="#00c9ff"/><stop offset=".278" stop-color="#00b7ff"/><stop offset=".333" stop-color="#00f9ff"/><stop offset=".336" stop-color="#00ffff"/><stop offset=".361" stop-color="#4bffb4"/><stop offset=".39" stop-color="#ffff00"/><stop offset=".417" stop-color="#ff5c00"/><stop offset=".444" stop-color="#ff2400"/><stop offset=".472" stop-color="#ff9100"/><stop offset=".493" stop-color="#ffff00"/><stop offset=".528" stop-color="#4dffb2"/><stop offset=".556" stop-color="#00ffff"/><stop offset=".556" stop-color="#00ffff"/><stop offset=".611" stop-color="#00cbff"/><stop offset=".646" stop-color="#00ffff"/><stop offset=".667" stop-color="#1fffe0"/><stop offset=".722" stop-color="#8aff75"/><stop offset=".75" stop-color="#a4ff5b"/><stop offset=".856" stop-color="#00ffff"/><stop offset=".861" stop-color="#00f8ff"/><stop offset=".9" stop-color="#00ffff"/><stop offset=".917" stop-color="#03fffc"/><stop offset="1" stop-color="#58ffa7"/></linearGradient><rect x="1453.2" y="1065.81" width="311" height="2.58" fill="url(#h149)"/>
<linearGradient id="h150"><stop offset="0" stop-color="#007dff"/><stop offset=".062" stop-color="#00ffff"/><stop offset=".111" stop-color="#67ff98"/><stop offset=".139" stop-color="#87ff78"/><stop offset=".25" stop-color="#1fffe0"/><stop offset=".333" stop-color="#3bffc4"/><stop offset=".361" stop-color="#6fff90"/><stop offset=".393" stop-color="#ffff00"/><stop offset=".417" stop-color="#ff9300"/><stop offset=".444" stop-color="#ffa600"/><stop offset=".465" stop-color="#ffff00"/><stop offset=".472" stop-color="#e0ff1f"/><stop offset=".528" stop-color="#51ffae"/><stop offset=".633" stop-color="#00ffff"/><stop offset=".639" stop-color="#00faff"/><stop offset=".75" stop-color="#00eeff"/><stop offset=".861" stop-color="#005bff"/><stop offset=".917" stop-color="#008dff"/><stop offset=".99" stop-color="#00ffff"/><stop offset="1" stop-color="#10ffef"/></linearGradient><rect x="1453.2" y="1067.99" width="311" height="2.58" fill="url(#h150)"/>
<linearGradient id="h151"><stop offset="0" stop-color="#00deff"/><stop offset=".076" stop-color="#00ffff"/><stop offset=".139" stop-color="#1cffe3"/><stop offset=".184" stop-color="#00ffff"/><stop offset=".222" stop-color="#00e8ff"/><stop offset=".249" stop-color="#00ffff"/><stop offset=".306" stop-color="#30ffcf"/><stop offset=".361" stop-color="#a2ff5d"/><stop offset=".384" stop-color="#ffff00"/><stop offset=".417" stop-color="#ff7a00"/><stop offset=".444" stop-color="#ff8c00"/><stop offset=".476" stop-color="#ffff00"/><stop offset=".5" stop-color="#a9ff56"/><stop offset=".556" stop-color="#30ffcf"/><stop offset=".609" stop-color="#00ffff"/><stop offset=".611" stop-color="#00fdff"/><stop offset=".613" stop-color="#00ffff"/><stop offset=".667" stop-color="#31ffce"/><stop offset=".75" stop-color="#a0ff5f"/><stop offset="1" stop-color="#78ff87"/></linearGradient><rect x="1453.2" y="1070.18" width="311" height="2.58" fill="url(#h151)"/>
<linearGradient id="h152"><stop offset="0" stop-color="#3dffc2"/><stop offset=".111" stop-color="#c6ff39"/><stop offset=".139" stop-color="#c8ff37"/><stop offset=".222" stop-color="#58ffa7"/><stop offset=".278" stop-color="#65ff9a"/><stop offset=".333" stop-color="#bdff42"/><stop offset=".355" stop-color="#ffff00"/><stop offset=".361" stop-color="#ffee00"/><stop offset=".389" stop-color="#ff3800"/><stop offset=".444" stop-color="#ff2400"/><stop offset=".472" stop-color="#ff3300"/><stop offset=".521" stop-color="#ffff00"/><stop offset=".528" stop-color="#e4ff1b"/><stop offset=".583" stop-color="#47ffb8"/><stop offset=".611" stop-color="#1affe5"/><stop offset=".639" stop-color="#1dffe2"/><stop offset=".722" stop-color="#88ff77"/><stop offset=".75" stop-color="#89ff76"/><stop offset=".806" stop-color="#1bffe4"/><stop offset=".861" stop-color="#02fffd"/><stop offset=".944" stop-color="#66ff99"/><stop offset="1" stop-color="#68ff97"/></linearGradient><rect x="1453.2" y="1072.36" width="311" height="2.58" fill="url(#h152)"/>
<linearGradient id="h153"><stop offset="0" stop-color="#008dff"/><stop offset=".048" stop-color="#00ffff"/><stop offset=".111" stop-color="#93ff6c"/><stop offset=".139" stop-color="#97ff68"/><stop offset=".222" stop-color="#52ffad"/><stop offset=".278" stop-color="#95ff6a"/><stop offset=".333" stop-color="#f0ff0f"/><stop offset=".339" stop-color="#ffff00"/><stop offset=".361" stop-color="#ffc300"/><stop offset=".389" stop-color="#ff2a00"/><stop offset=".444" stop-color="#ff2400"/><stop offset=".525" stop-color="#ffff00"/><stop offset=".556" stop-color="#adff52"/><stop offset=".611" stop-color="#45ffba"/><stop offset=".75" stop-color="#19ffe6"/><stop offset=".762" stop-color="#00ffff"/><stop offset=".806" stop-color="#00a3ff"/><stop offset=".861" stop-color="#0070ff"/><stop offset="1" stop-color="#00c6ff"/></linearGradient><rect x="1453.2" y="1074.54" width="311" height="2.58" fill="url(#h153)"/>
<linearGradient id="h154"><stop offset="0" stop-color="#00d5ff"/><stop offset=".022" stop-color="#00ffff"/><stop offset=".083" stop-color="#76ff89"/><stop offset=".139" stop-color="#76ff89"/><stop offset=".194" stop-color="#56ffa9"/><stop offset=".332" stop-color="#ffff00"/><stop offset=".333" stop-color="#fffe00"/><stop offset=".361" stop-color="#ffb800"/><stop offset=".389" stop-color="#ff3f00"/><stop offset=".417" stop-color="#ff2400"/><stop offset=".466" stop-color="#ffff00"/><stop offset=".472" stop-color="#e4ff1b"/><stop offset=".556" stop-color="#63ff9c"/><stop offset=".729" stop-color="#00ffff"/><stop offset=".75" stop-color="#00f3ff"/><stop offset=".833" stop-color="#0057ff"/><stop offset=".944" stop-color="#006aff"/><stop offset="1" stop-color="#00c9ff"/></linearGradient><rect x="1453.2" y="1076.72" width="311" height="2.58" fill="url(#h154)"/>
<linearGradient id="h155"><stop offset="0" stop-color="#0efff1"/><stop offset=".111" stop-color="#12ffed"/><stop offset=".194" stop-color="#68ff97"/><stop offset=".25" stop-color="#b7ff48"/><stop offset=".333" stop-color="#d1ff2e"/><stop offset=".352" stop-color="#ffff00"/><stop offset=".361" stop-color="#ffea00"/><stop offset=".389" stop-color="#ff7400"/><stop offset=".417" stop-color="#ff2f00"/><stop offset=".444" stop-color="#ff5e00"/><stop offset=".5" stop-color="#ffff00"/><stop offset=".583" stop-color="#0efff1"/><stop offset=".59" stop-color="#00ffff"/><stop offset=".611" stop-color="#00d3ff"/><stop offset=".639" stop-color="#00c8ff"/><stop offset=".683" stop-color="#00ffff"/><stop offset=".75" stop-color="#53ffac"/><stop offset=".819" stop-color="#00ffff"/><stop offset=".861" stop-color="#00ccff"/><stop offset=".921" stop-color="#00ffff"/><stop offset=".944" stop-color="#14ffeb"/><stop offset="1" stop-color="#4affb5"/></linearGradient><rect x="1453.2" y="1078.90" width="311" height="2.58" fill="url(#h155)"/>
<linearGradient id="h156"><stop offset="0" stop-color="#a8ff57"/><stop offset=".083" stop-color="#fbff04"/><stop offset=".139" stop-color="#e6ff19"/><stop offset=".222" stop-color="#86ff79"/><stop offset=".306" stop-color="#9bff64"/><stop offset=".361" stop-color="#feff01"/><stop offset=".361" stop-color="#ffff00"/><stop offset=".389" stop-color="#ffad00"/><stop offset=".417" stop-color="#ff9500"/><stop offset=".464" stop-color="#ffff00"/><stop offset=".472" stop-color="#ebff14"/><stop offset=".611" stop-color="#4bffb4"/><stop offset=".694" stop-color="#5cffa3"/><stop offset=".75" stop-color="#a9ff56"/><stop offset=".806" stop-color="#a6ff59"/><stop offset=".889" stop-color="#3bffc4"/><stop offset=".972" stop-color="#19ffe6"/><stop offset=".992" stop-color="#00ffff"/><stop offset="1" stop-color="#00f5ff"/></linearGradient><rect x="1453.2" y="1081.08" width="311" height="2.58" fill="url(#h156)"/>
<linearGradient id="h157"><stop offset="0" stop-color="#84ff7b"/><stop offset=".073" stop-color="#00ffff"/><stop offset=".083" stop-color="#00ecff"/><stop offset=".139" stop-color="#00e3ff"/><stop offset=".158" stop-color="#00ffff"/><stop offset=".222" stop-color="#5dffa2"/><stop offset=".306" stop-color="#f6ff09"/><stop offset=".308" stop-color="#ffff00"/><stop offset=".361" stop-color="#ff4a00"/><stop offset=".389" stop-color="#ff3500"/><stop offset=".444" stop-color="#fffa00"/><stop offset=".447" stop-color="#ffff00"/><stop offset=".472" stop-color="#d1ff2e"/><stop offset=".611" stop-color="#a3ff5c"/><stop offset=".778" stop-color="#55ffaa"/><stop offset=".884" stop-color="#00ffff"/><stop offset=".889" stop-color="#00fbff"/><stop offset="1" stop-color="#00f0ff"/></linearGradient><rect x="1453.2" y="1083.26" width="311" height="2.58" fill="url(#h157)"/>
<linearGradient id="h158"><stop offset="0" stop-color="#91ff6e"/><stop offset=".056" stop-color="#6bff94"/><stop offset=".167" stop-color="#e3ff1c"/><stop offset=".25" stop-color="#a5ff5a"/><stop offset=".278" stop-color="#82ff7d"/><stop offset=".306" stop-color="#8dff72"/><stop offset=".333" stop-color="#d9ff26"/><stop offset=".343" stop-color="#ffff00"/><stop offset=".389" stop-color="#ff4500"/><stop offset=".417" stop-color="#ff4d00"/><stop offset=".472" stop-color="#ffef00"/><stop offset=".484" stop-color="#ffff00"/><stop offset=".583" stop-color="#7cff83"/><stop offset=".722" stop-color="#11ffee"/><stop offset=".735" stop-color="#00ffff"/><stop offset=".833" stop-color="#0081ff"/><stop offset=".917" stop-color="#008fff"/><stop offset="1" stop-color="#00daff"/></linearGradient><rect x="1453.2" y="1085.44" width="311" height="2.58" fill="url(#h158)"/>
<linearGradient id="h159"><stop offset="0" stop-color="#ffd900"/><stop offset=".083" stop-color="#ffe800"/><stop offset=".154" stop-color="#ffff00"/><stop offset=".167" stop-color="#fbff04"/><stop offset=".179" stop-color="#ffff00"/><stop offset=".278" stop-color="#ffdc00"/><stop offset=".306" stop-color="#ffac00"/><stop offset=".333" stop-color="#ff4100"/><stop offset=".389" stop-color="#ff2400"/><stop offset=".437" stop-color="#ffff00"/><stop offset=".444" stop-color="#dfff20"/><stop offset=".472" stop-color="#90ff6f"/><stop offset=".528" stop-color="#63ff9c"/><stop offset=".667" stop-color="#6bff94"/><stop offset=".778" stop-color="#0bfff4"/><stop offset=".793" stop-color="#00ffff"/><stop offset=".861" stop-color="#00cdff"/><stop offset="1" stop-color="#00e2ff"/></linearGradient><rect x="1453.2" y="1087.62" width="311" height="2.58" fill="url(#h159)"/>
<linearGradient id="h160"><stop offset="0" stop-color="#00b0ff"/><stop offset=".083" stop-color="#0094ff"/><stop offset=".167" stop-color="#00e4ff"/><stop offset=".182" stop-color="#00ffff"/><stop offset=".222" stop-color="#47ffb8"/><stop offset=".278" stop-color="#e9ff16"/><stop offset=".283" stop-color="#ffff00"/><stop offset=".333" stop-color="#ff2400"/><stop offset=".389" stop-color="#ff2800"/><stop offset=".427" stop-color="#ffff00"/><stop offset=".444" stop-color="#9bff64"/><stop offset=".472" stop-color="#38ffc7"/><stop offset=".499" stop-color="#00ffff"/><stop offset=".5" stop-color="#00fdff"/><stop offset=".508" stop-color="#00ffff"/><stop offset=".556" stop-color="#0efff1"/><stop offset=".611" stop-color="#3fffc0"/><stop offset=".745" stop-color="#00ffff"/><stop offset=".75" stop-color="#00fcff"/><stop offset=".917" stop-color="#00bcff"/><stop offset=".982" stop-color="#00ffff"/><stop offset="1" stop-color="#13ffec"/></linearGradient><rect x="1453.2" y="1089.80" width="311" height="2.58" fill="url(#h160)"/>
<linearGradient id="h161"><stop offset="0" stop-color="#fff700"/><stop offset=".056" stop-color="#ffeb00"/><stop offset=".068" stop-color="#ffff00"/><stop offset=".139" stop-color="#8aff75"/><stop offset=".222" stop-color="#95ff6a"/><stop offset=".263" stop-color="#ffff00"/><stop offset=".306" stop-color="#ff9000"/><stop offset=".333" stop-color="#ff8700"/><stop offset=".361" stop-color="#ffff00"/><stop offset=".389" stop-color="#83ff7c"/><stop offset=".417" stop-color="#26ffd9"/><stop offset=".445" stop-color="#00ffff"/><stop offset=".472" stop-color="#00daff"/><stop offset=".528" stop-color="#00d4ff"/><stop offset=".58" stop-color="#00ffff"/><stop offset=".667" stop-color="#47ffb8"/><stop offset=".778" stop-color="#34ffcb"/><stop offset=".828" stop-color="#00ffff"/><stop offset=".889" stop-color="#00c0ff"/><stop offset=".972" stop-color="#00ebff"/><stop offset=".987" stop-color="#00ffff"/><stop offset="1" stop-color="#12ffed"/></linearGradient><rect x="1453.2" y="1091.98" width="311" height="2.58" fill="url(#h161)"/>
<linearGradient id="h162"><stop offset="0" stop-color="#39ffc6"/><stop offset=".026" stop-color="#00ffff"/><stop offset=".083" stop-color="#0081ff"/><stop offset=".111" stop-color="#006bff"/><stop offset=".139" stop-color="#0092ff"/><stop offset=".169" stop-color="#00ffff"/><stop offset=".222" stop-color="#c4ff3b"/><stop offset=".237" stop-color="#ffff00"/><stop offset=".278" stop-color="#ff5800"/><stop offset=".306" stop-color="#ff2400"/><stop offset=".333" stop-color="#ff3500"/><stop offset=".372" stop-color="#ffff00"/><stop offset=".389" stop-color="#aaff55"/><stop offset=".417" stop-color="#5affa5"/><stop offset=".472" stop-color="#3cffc3"/><stop offset=".5" stop-color="#48ffb7"/><stop offset=".583" stop-color="#c0ff3f"/><stop offset=".639" stop-color="#b5ff4a"/><stop offset=".825" stop-color="#00ffff"/><stop offset=".833" stop-color="#00f7ff"/><stop offset=".899" stop-color="#00ffff"/><stop offset=".917" stop-color="#02fffd"/><stop offset=".944" stop-color="#00ffff"/><stop offset="1" stop-color="#00faff"/></linearGradient><rect x="1453.2" y="1094.16" width="311" height="2.58" fill="url(#h162)"/>
<linearGradient id="h163"><stop offset="0" stop-color="#8cff73"/><stop offset=".111" stop-color="#26ffd9"/><stop offset=".167" stop-color="#5affa5"/><stop offset=".222" stop-color="#e1ff1e"/><stop offset=".229" stop-color="#ffff00"/><stop offset=".278" stop-color="#ff2400"/><stop offset=".333" stop-color="#ff4100"/><stop offset=".361" stop-color="#ffdf00"/><stop offset=".369" stop-color="#ffff00"/><stop offset=".389" stop-color="#aeff51"/><stop offset=".444" stop-color="#7cff83"/><stop offset=".528" stop-color="#86ff79"/><stop offset=".611" stop-color="#96ff69"/><stop offset=".722" stop-color="#3dffc2"/><stop offset=".833" stop-color="#44ffbb"/><stop offset=".895" stop-color="#00ffff"/><stop offset=".944" stop-color="#00c9ff"/><stop offset="1" stop-color="#00d7ff"/></linearGradient><rect x="1453.2" y="1096.34" width="311" height="2.58" fill="url(#h163)"/>
<linearGradient id="h164"><stop offset="0" stop-color="#08fff7"/><stop offset=".139" stop-color="#42ffbd"/><stop offset=".194" stop-color="#9aff65"/><stop offset=".222" stop-color="#e2ff1d"/><stop offset=".229" stop-color="#ffff00"/><stop offset=".278" stop-color="#ff3500"/><stop offset=".306" stop-color="#ff2e00"/><stop offset=".347" stop-color="#ffff00"/><stop offset=".361" stop-color="#bbff44"/><stop offset=".389" stop-color="#60ff9f"/><stop offset=".417" stop-color="#4dffb2"/><stop offset=".528" stop-color="#8cff73"/><stop offset=".639" stop-color="#70ff8f"/><stop offset=".728" stop-color="#00ffff"/><stop offset=".75" stop-color="#00e4ff"/><stop offset=".861" stop-color="#00edff"/><stop offset=".972" stop-color="#00e3ff"/><stop offset="1" stop-color="#00efff"/></linearGradient><rect x="1453.2" y="1098.52" width="311" height="2.58" fill="url(#h164)"/>
<linearGradient id="h165"><stop offset="0" stop-color="#eaff15"/><stop offset=".111" stop-color="#bbff44"/><stop offset=".167" stop-color="#f9ff06"/><stop offset=".169" stop-color="#ffff00"/><stop offset=".194" stop-color="#ffb200"/><stop offset=".222" stop-color="#ff2800"/><stop offset=".306" stop-color="#ff2400"/><stop offset=".361" stop-color="#ffdc00"/><stop offset=".381" stop-color="#ffff00"/><stop offset=".472" stop-color="#5cffa3"/><stop offset=".57" stop-color="#00ffff"/><stop offset=".639" stop-color="#00bfff"/><stop offset=".806" stop-color="#00f1ff"/><stop offset=".944" stop-color="#00a3ff"/><stop offset="1" stop-color="#00e4ff"/></linearGradient><rect x="1453.2" y="1100.70" width="311" height="2.58" fill="url(#h165)"/>
<linearGradient id="h166"><stop offset="0" stop-color="#50ffaf"/><stop offset=".111" stop-color="#80ff7f"/><stop offset=".167" stop-color="#edff12"/><stop offset=".172" stop-color="#ffff00"/><stop offset=".222" stop-color="#ff4c00"/><stop offset=".25" stop-color="#ff2400"/><stop offset=".278" stop-color="#ff3300"/><stop offset=".316" stop-color="#ffff00"/><stop offset=".333" stop-color="#a0ff5f"/><stop offset=".361" stop-color="#43ffbc"/><stop offset=".44" stop-color="#00ffff"/><stop offset=".5" stop-color="#00cbff"/><stop offset=".538" stop-color="#00ffff"/><stop offset=".556" stop-color="#17ffe8"/><stop offset=".611" stop-color="#97ff68"/><stop offset=".667" stop-color="#c0ff3f"/><stop offset=".917" stop-color="#11ffee"/><stop offset="1" stop-color="#50ffaf"/></linearGradient><rect x="1453.2" y="1102.88" width="311" height="2.58" fill="url(#h166)"/>
<linearGradient id="h167"><stop offset="0" stop-color="#b8ff47"/><stop offset=".056" stop-color="#b9ff46"/><stop offset=".111" stop-color="#77ff88"/><stop offset=".139" stop-color="#85ff7a"/><stop offset=".167" stop-color="#deff21"/><stop offset=".172" stop-color="#ffff00"/><stop offset=".194" stop-color="#ff7e00"/><stop offset=".222" stop-color="#ff2400"/><stop offset=".278" stop-color="#ff2400"/><stop offset=".306" stop-color="#ff6300"/><stop offset=".333" stop-color="#fff400"/><stop offset=".337" stop-color="#ffff00"/><stop offset=".389" stop-color="#6fff90"/><stop offset=".462" stop-color="#00ffff"/><stop offset=".472" stop-color="#00f0ff"/><stop offset=".528" stop-color="#00e3ff"/><stop offset=".579" stop-color="#00ffff"/><stop offset=".639" stop-color="#21ffde"/><stop offset=".731" stop-color="#00ffff"/><stop offset=".75" stop-color="#00f8ff"/><stop offset=".756" stop-color="#00ffff"/><stop offset=".861" stop-color="#7cff83"/><stop offset=".917" stop-color="#6fff90"/><stop offset="1" stop-color="#31ffce"/></linearGradient><rect x="1453.2" y="1105.06" width="311" height="2.58" fill="url(#h167)"/>
<linearGradient id="h168"><stop offset="0" stop-color="#c2ff3d"/><stop offset=".111" stop-color="#68ff97"/><stop offset=".139" stop-color="#7cff83"/><stop offset=".167" stop-color="#c8ff37"/><stop offset=".181" stop-color="#ffff00"/><stop offset=".222" stop-color="#ff6200"/><stop offset=".25" stop-color="#ff6500"/><stop offset=".292" stop-color="#ffff00"/><stop offset=".306" stop-color="#ccff33"/><stop offset=".361" stop-color="#66ff99"/><stop offset=".436" stop-color="#00ffff"/><stop offset=".5" stop-color="#00a8ff"/><stop offset=".556" stop-color="#00e6ff"/><stop offset=".567" stop-color="#00ffff"/><stop offset=".611" stop-color="#5fffa0"/><stop offset=".722" stop-color="#b0ff4f"/><stop offset=".806" stop-color="#88ff77"/><stop offset=".889" stop-color="#31ffce"/><stop offset="1" stop-color="#5fffa0"/></linearGradient><rect x="1453.2" y="1107.24" width="311" height="2.58" fill="url(#h168)"/>
<linearGradient id="h169"><stop offset="0" stop-color="#4cffb3"/><stop offset=".083" stop-color="#9dff62"/><stop offset=".111" stop-color="#a5ff5a"/><stop offset=".139" stop-color="#daff25"/><stop offset=".15" stop-color="#ffff00"/><stop offset=".194" stop-color="#ff6300"/><stop offset=".222" stop-color="#ff6e00"/><stop offset=".268" stop-color="#ffff00"/><stop offset=".278" stop-color="#e1ff1e"/><stop offset=".361" stop-color="#6cff93"/><stop offset=".444" stop-color="#52ffad"/><stop offset=".556" stop-color="#8fff70"/><stop offset=".611" stop-color="#e5ff1a"/><stop offset=".639" stop-color="#edff12"/><stop offset=".722" stop-color="#98ff67"/><stop offset=".75" stop-color="#93ff6c"/><stop offset=".833" stop-color="#d8ff27"/><stop offset=".889" stop-color="#b8ff47"/><stop offset=".972" stop-color="#25ffda"/><stop offset="1" stop-color="#13ffec"/></linearGradient><rect x="1453.2" y="1109.42" width="311" height="2.58" fill="url(#h169)"/>
<linearGradient id="h170"><stop offset="0" stop-color="#8fff70"/><stop offset=".111" stop-color="#edff12"/><stop offset=".118" stop-color="#ffff00"/><stop offset=".139" stop-color="#ffc200"/><stop offset=".167" stop-color="#ff4900"/><stop offset=".194" stop-color="#ff2400"/><stop offset=".222" stop-color="#ff2400"/><stop offset=".274" stop-color="#ffff00"/><stop offset=".278" stop-color="#f1ff0e"/><stop offset=".333" stop-color="#85ff7a"/><stop offset=".528" stop-color="#29ffd6"/><stop offset=".611" stop-color="#23ffdc"/><stop offset=".642" stop-color="#00ffff"/><stop offset=".694" stop-color="#00c4ff"/><stop offset=".75" stop-color="#00cfff"/><stop offset=".775" stop-color="#00ffff"/><stop offset=".806" stop-color="#3dffc2"/><stop offset=".861" stop-color="#48ffb7"/><stop offset=".921" stop-color="#00ffff"/><stop offset=".944" stop-color="#00e2ff"/><stop offset=".99" stop-color="#00ffff"/><stop offset="1" stop-color="#07fff8"/></linearGradient><rect x="1453.2" y="1111.60" width="311" height="2.58" fill="url(#h170)"/>
<linearGradient id="h171"><stop offset="0" stop-color="#ecff13"/><stop offset=".049" stop-color="#ffff00"/><stop offset=".111" stop-color="#ffe700"/><stop offset=".167" stop-color="#ff9800"/><stop offset=".194" stop-color="#ffa300"/><stop offset=".239" stop-color="#ffff00"/><stop offset=".25" stop-color="#e9ff16"/><stop offset=".361" stop-color="#dcff23"/><stop offset=".444" stop-color="#44ffbb"/><stop offset=".5" stop-color="#31ffce"/><stop offset=".611" stop-color="#7fff80"/><stop offset=".75" stop-color="#0afff5"/><stop offset=".833" stop-color="#28ffd7"/><stop offset=".896" stop-color="#00ffff"/><stop offset=".944" stop-color="#00e0ff"/><stop offset=".989" stop-color="#00ffff"/><stop offset="1" stop-color="#07fff8"/></linearGradient><rect x="1453.2" y="1113.78" width="311" height="2.58" fill="url(#h171)"/>
<linearGradient id="h172"><stop offset="0" stop-color="#9eff61"/><stop offset=".056" stop-color="#9bff64"/><stop offset=".109" stop-color="#ffff00"/><stop offset=".139" stop-color="#ffc600"/><stop offset=".167" stop-color="#ffb500"/><stop offset=".194" stop-color="#ffff00"/><stop offset=".222" stop-color="#b3ff4c"/><stop offset=".25" stop-color="#8fff70"/><stop offset=".333" stop-color="#a2ff5d"/><stop offset=".426" stop-color="#00ffff"/><stop offset=".444" stop-color="#00dfff"/><stop offset=".5" stop-color="#00c7ff"/><stop offset=".538" stop-color="#00ffff"/><stop offset=".583" stop-color="#42ffbd"/><stop offset=".611" stop-color="#48ffb7"/><stop offset=".646" stop-color="#00ffff"/><stop offset=".667" stop-color="#00d6ff"/><stop offset=".694" stop-color="#0093ff"/><stop offset=".722" stop-color="#0073ff"/><stop offset=".75" stop-color="#0084ff"/><stop offset=".786" stop-color="#00ffff"/><stop offset=".833" stop-color="#9fff60"/><stop offset=".861" stop-color="#cfff30"/><stop offset=".917" stop-color="#afff50"/><stop offset="1" stop-color="#71ff8e"/></linearGradient><rect x="1453.2" y="1115.96" width="311" height="2.58" fill="url(#h172)"/>
<linearGradient id="h173"><stop offset="0" stop-color="#fff900"/><stop offset=".036" stop-color="#ffff00"/><stop offset=".083" stop-color="#f8ff07"/><stop offset=".087" stop-color="#ffff00"/><stop offset=".139" stop-color="#ff9000"/><stop offset=".167" stop-color="#ff8b00"/><stop offset=".198" stop-color="#ffff00"/><stop offset=".222" stop-color="#a3ff5c"/><stop offset=".25" stop-color="#67ff98"/><stop offset=".306" stop-color="#87ff78"/><stop offset=".361" stop-color="#ddff22"/><stop offset=".417" stop-color="#caff35"/><stop offset=".5" stop-color="#86ff79"/><stop offset=".583" stop-color="#7bff84"/><stop offset=".722" stop-color="#01fffe"/><stop offset=".778" stop-color="#08fff7"/><stop offset="1" stop-color="#c7ff38"/></linearGradient><rect x="1453.2" y="1118.14" width="311" height="2.58" fill="url(#h173)"/>
<linearGradient id="h174"><stop offset="0" stop-color="#e5ff1a"/><stop offset=".052" stop-color="#ffff00"/><stop offset=".083" stop-color="#fff000"/><stop offset=".111" stop-color="#ffa900"/><stop offset=".139" stop-color="#ff3000"/><stop offset=".194" stop-color="#ff2400"/><stop offset=".25" stop-color="#ffba00"/><stop offset=".292" stop-color="#ffff00"/><stop offset=".417" stop-color="#2fffd0"/><stop offset=".667" stop-color="#1effe1"/><stop offset=".806" stop-color="#90ff6f"/><stop offset=".861" stop-color="#5cffa3"/><stop offset=".927" stop-color="#00ffff"/><stop offset=".944" stop-color="#00e7ff"/><stop offset="1" stop-color="#00e9ff"/></linearGradient><rect x="1453.2" y="1120.32" width="311" height="2.58" fill="url(#h174)"/>
<linearGradient id="h175"><stop offset="0" stop-color="#9cff63"/><stop offset=".056" stop-color="#daff25"/><stop offset=".07" stop-color="#ffff00"/><stop offset=".083" stop-color="#ffde00"/><stop offset=".139" stop-color="#ff2400"/><stop offset=".194" stop-color="#ff4700"/><stop offset=".263" stop-color="#ffff00"/><stop offset=".278" stop-color="#d7ff28"/><stop offset=".361" stop-color="#7fff80"/><stop offset=".472" stop-color="#64ff9b"/><stop offset=".643" stop-color="#ffff00"/><stop offset=".667" stop-color="#ffea00"/><stop offset=".722" stop-color="#fff600"/><stop offset=".729" stop-color="#ffff00"/><stop offset=".889" stop-color="#1cffe3"/><stop offset=".972" stop-color="#33ffcc"/><stop offset="1" stop-color="#60ff9f"/></linearGradient><rect x="1453.2" y="1122.50" width="311" height="2.58" fill="url(#h175)"/>
<linearGradient id="h176"><stop offset="0" stop-color="#18ffe7"/><stop offset=".028" stop-color="#57ffa8"/><stop offset=".067" stop-color="#ffff00"/><stop offset=".111" stop-color="#ff3f00"/><stop offset=".139" stop-color="#ff2a00"/><stop offset=".167" stop-color="#ff7e00"/><stop offset=".201" stop-color="#ffff00"/><stop offset=".222" stop-color="#adff52"/><stop offset=".306" stop-color="#3fffc0"/><stop offset=".444" stop-color="#41ffbe"/><stop offset=".502" stop-color="#00ffff"/><stop offset=".556" stop-color="#00c2ff"/><stop offset=".611" stop-color="#00cfff"/><stop offset=".66" stop-color="#00ffff"/><stop offset=".75" stop-color="#58ffa7"/><stop offset=".833" stop-color="#79ff86"/><stop offset=".972" stop-color="#26ffd9"/><stop offset="1" stop-color="#2effd1"/></linearGradient><rect x="1453.2" y="1124.68" width="311" height="2.58" fill="url(#h176)"/>
<linearGradient id="h177"><stop offset="0" stop-color="#ff9800"/><stop offset=".056" stop-color="#ff5300"/><stop offset=".083" stop-color="#ff9a00"/><stop offset=".103" stop-color="#ffff00"/><stop offset=".139" stop-color="#42ffbd"/><stop offset=".167" stop-color="#06fff9"/><stop offset=".222" stop-color="#16ffe9"/><stop offset=".306" stop-color="#56ffa9"/><stop offset=".361" stop-color="#4cffb3"/><stop offset=".424" stop-color="#00ffff"/><stop offset=".472" stop-color="#00c6ff"/><stop offset=".528" stop-color="#00eeff"/><stop offset=".543" stop-color="#00ffff"/><stop offset=".639" stop-color="#67ff98"/><stop offset=".833" stop-color="#6cff93"/><stop offset=".917" stop-color="#5cffa3"/><stop offset="1" stop-color="#79ff86"/></linearGradient><rect x="1453.2" y="1126.86" width="311" height="2.58" fill="url(#h177)"/>
<linearGradient id="h178"><stop offset="0" stop-color="#ff7b00"/><stop offset=".028" stop-color="#ff2800"/><stop offset=".056" stop-color="#ff3000"/><stop offset=".111" stop-color="#fffe00"/><stop offset=".111" stop-color="#ffff00"/><stop offset=".167" stop-color="#93ff6c"/><stop offset=".306" stop-color="#53ffac"/><stop offset=".417" stop-color="#4dffb2"/><stop offset=".482" stop-color="#00ffff"/><stop offset=".556" stop-color="#00a8ff"/><stop offset=".722" stop-color="#00faff"/><stop offset=".833" stop-color="#008cff"/><stop offset=".889" stop-color="#00b7ff"/><stop offset=".953" stop-color="#00ffff"/><stop offset=".972" stop-color="#15ffea"/><stop offset="1" stop-color="#24ffdb"/></linearGradient><rect x="1453.2" y="1129.04" width="311" height="2.58" fill="url(#h178)"/>
<linearGradient id="h179"><stop offset="0" stop-color="#ff2400"/><stop offset=".028" stop-color="#ff4400"/><stop offset=".066" stop-color="#ffff00"/><stop offset=".083" stop-color="#acff53"/><stop offset=".111" stop-color="#43ffbc"/><stop offset=".139" stop-color="#00ffff"/><stop offset=".14" stop-color="#00ffff"/><stop offset=".194" stop-color="#00e8ff"/><stop offset=".215" stop-color="#00ffff"/><stop offset=".306" stop-color="#64ff9b"/><stop offset=".444" stop-color="#3bffc4"/><stop offset=".639" stop-color="#69ff96"/><stop offset=".841" stop-color="#00ffff"/><stop offset=".889" stop-color="#00e6ff"/><stop offset=".909" stop-color="#00ffff"/><stop offset=".972" stop-color="#4fffb0"/><stop offset="1" stop-color="#8aff75"/></linearGradient><rect x="1453.2" y="1131.22" width="311" height="8.58" fill="url(#h179)"/>
</g></g>
<line x1="1608.6" y1="1133.6" x2="1608.6" y2="888.5" stroke="#000" stroke-width="4.2" stroke-dasharray="15.8 16.7"/>
<path d="M1452.9 880.5V1133.6H1764.7" stroke="#141414" stroke-width="2" fill="none"/>
<line x1="1522.6" y1="1133.6" x2="1522.6" y2="1129.6" stroke="#141414" stroke-width="1.4"/>
<text transform="translate(1521.8,1174.6)" font-size="33.3" text-anchor="middle">-100</text>
<line x1="1608.6" y1="1133.6" x2="1608.6" y2="1129.6" stroke="#141414" stroke-width="1.4"/>
<text transform="translate(1608.6,1174.6)" font-size="33.3" text-anchor="middle">0</text>
<line x1="1694.5" y1="1133.6" x2="1694.5" y2="1129.6" stroke="#141414" stroke-width="1.4"/>
<text transform="translate(1694.5,1174.6)" font-size="33.3" text-anchor="middle">100</text>
<line x1="1453.2" y1="918" x2="1457.2" y2="918" stroke="#141414" stroke-width="1.4"/>
<text transform="translate(1445.5,930)" font-size="33.3" text-anchor="end">200</text>
<line x1="1453.2" y1="1026.5" x2="1457.2" y2="1026.5" stroke="#141414" stroke-width="1.4"/>
<text transform="translate(1445.5,1038.5)" font-size="33.3" text-anchor="end">100</text>
<linearGradient id="cb"><stop offset="0" stop-color="#000080"/><stop offset="0.025" stop-color="#000099"/><stop offset="0.05" stop-color="#0000b2"/><stop offset="0.075" stop-color="#0000cc"/><stop offset="0.1" stop-color="#0000e5"/><stop offset="0.125" stop-color="#0000ff"/><stop offset="0.15" stop-color="#001aff"/><stop offset="0.175" stop-color="#0033ff"/><stop offset="0.2" stop-color="#004dff"/><stop offset="0.225" stop-color="#0066ff"/><stop offset="0.25" stop-color="#0080ff"/><stop offset="0.275" stop-color="#0099ff"/><stop offset="0.3" stop-color="#00b3ff"/><stop offset="0.325" stop-color="#00ccff"/><stop offset="0.35" stop-color="#00e6ff"/><stop offset="0.375" stop-color="#00ffff"/><stop offset="0.4" stop-color="#1affe5"/><stop offset="0.425" stop-color="#33ffcc"/><stop offset="0.45" stop-color="#4dffb2"/><stop offset="0.475" stop-color="#66ff99"/><stop offset="0.5" stop-color="#80ff80"/><stop offset="0.525" stop-color="#99ff66"/><stop offset="0.55" stop-color="#b3ff4c"/><stop offset="0.575" stop-color="#ccff33"/><stop offset="0.6" stop-color="#e6ff19"/><stop offset="0.625" stop-color="#ffff00"/><stop offset="0.65" stop-color="#ffe500"/><stop offset="0.675" stop-color="#ffcc00"/><stop offset="0.7" stop-color="#ffb200"/><stop offset="0.725" stop-color="#ff9900"/><stop offset="0.75" stop-color="#ff8000"/><stop offset="0.775" stop-color="#ff6600"/><stop offset="0.8" stop-color="#ff4c00"/><stop offset="0.825" stop-color="#ff3300"/><stop offset="0.85" stop-color="#ff1900"/><stop offset="0.875" stop-color="#ff0000"/><stop offset="0.9" stop-color="#e50000"/><stop offset="0.925" stop-color="#cc0000"/><stop offset="0.95" stop-color="#b20000"/><stop offset="0.975" stop-color="#990000"/><stop offset="1" stop-color="#800000"/></linearGradient><rect x="1453" y="363" width="311.6" height="25.6" fill="url(#cb)" stroke="#1c1c1c" stroke-width="1.6"/>
<line x1="1608.6" y1="388" x2="1608.6" y2="385.5" stroke="#141414" stroke-width="1.3"/>
<text transform="translate(1451.5,433.2)" font-size="33.3" text-anchor="middle">-1</text>
<text transform="translate(1608.6,433.2)" font-size="33.3" text-anchor="middle">0</text>
<text transform="translate(1764.5,433.2)" font-size="33.3" text-anchor="middle">1</text>
<text transform="translate(1389,51.6)" font-size="72" text-anchor="middle" font-weight="bold" fill="#000">e</text>
<text transform="translate(1393,486)" font-size="72" text-anchor="middle" font-weight="bold" fill="#000">f</text>
<text transform="translate(1407,880)" font-size="72" text-anchor="middle" font-weight="bold" fill="#000">g</text>
<text transform="translate(1395,161.4) rotate(-90)" font-size="36.7" text-anchor="middle">Cell #</text>
<text transform="translate(1608.5,806.2)" font-size="36.7" text-anchor="middle">Angular lag (<tspan dy="-17.4" font-size="30">o</tspan><tspan dy="17.4">)</tspan></text>
<text transform="translate(1588,1218.3)" font-size="36.7" text-anchor="middle">Slow to Fast</text>
<text transform="translate(1607.5,1275)" font-size="36.7" text-anchor="middle">xcorr lag (<tspan dy="-17.4" font-size="30">o</tspan><tspan dy="17.4">)</tspan></text>
<g fill="#22e2e2"><circle cx="1160.2" cy="1409.1" r="2.45"/><circle cx="1128.9" cy="1414.1" r="2.45"/><circle cx="1207.8" cy="1418.9" r="2.45"/><circle cx="1119.8" cy="1430" r="2.45"/><circle cx="1176.6" cy="1430.9" r="2.45"/><circle cx="1192.5" cy="1432.5" r="2.45"/><circle cx="1159.5" cy="1450.5" r="2.45"/><circle cx="1101.9" cy="1454.4" r="2.45"/><circle cx="1146.6" cy="1457.5" r="2.45"/><circle cx="1084.4" cy="1461.4" r="2.45"/><circle cx="1168.8" cy="1465.3" r="2.45"/><circle cx="1174.2" cy="1464.8" r="2.45"/><circle cx="1178.1" cy="1463.8" r="2.45"/><circle cx="1160.2" cy="1468.1" r="2.45"/><circle cx="1164.1" cy="1470.5" r="2.45"/><circle cx="1172.7" cy="1472.3" r="2.45"/><circle cx="1140.6" cy="1477.3" r="2.45"/><circle cx="1182.5" cy="1477.5" r="2.45"/><circle cx="1196.9" cy="1482.8" r="2.45"/><circle cx="1055" cy="1487.5" r="2.45"/><circle cx="1218.8" cy="1488.3" r="2.45"/><circle cx="1222.2" cy="1488.3" r="2.45"/><circle cx="1180.5" cy="1489.8" r="2.45"/><circle cx="1081.7" cy="1494.5" r="2.45"/><circle cx="1088.6" cy="1491.9" r="2.45"/><circle cx="1093" cy="1498.1" r="2.45"/><circle cx="1087.5" cy="1500.5" r="2.45"/><circle cx="1170.6" cy="1497.3" r="2.45"/><circle cx="1143" cy="1501.2" r="2.45"/><circle cx="1146.1" cy="1502.8" r="2.45"/><circle cx="1141.4" cy="1504.8" r="2.45"/><circle cx="1197.7" cy="1502.3" r="2.45"/><circle cx="1121.1" cy="1503.6" r="2.45"/><circle cx="1122.7" cy="1506.7" r="2.45"/><circle cx="1160.9" cy="1508.6" r="2.45"/><circle cx="1064.1" cy="1511.7" r="2.45"/><circle cx="1068" cy="1516.1" r="2.45"/><circle cx="1065.6" cy="1519.2" r="2.45"/><circle cx="1070" cy="1523.1" r="2.45"/><circle cx="1089.8" cy="1514.1" r="2.45"/><circle cx="1086.7" cy="1515.3" r="2.45"/><circle cx="1083.6" cy="1516.1" r="2.45"/><circle cx="1081.2" cy="1517.7" r="2.45"/><circle cx="1078.9" cy="1520" r="2.45"/><circle cx="1078.1" cy="1522.3" r="2.45"/><circle cx="1118.8" cy="1515.3" r="2.45"/><circle cx="1121.9" cy="1518.4" r="2.45"/><circle cx="1100.8" cy="1518.4" r="2.45"/><circle cx="1138.3" cy="1520" r="2.45"/><circle cx="1159.4" cy="1517.7" r="2.45"/><circle cx="1162.5" cy="1516.9" r="2.45"/><circle cx="1174.2" cy="1516.1" r="2.45"/><circle cx="1176.6" cy="1513.8" r="2.45"/><circle cx="1182.8" cy="1516.4" r="2.45"/><circle cx="1129.7" cy="1521.6" r="2.45"/><circle cx="1151.6" cy="1523.1" r="2.45"/><circle cx="1153.9" cy="1525.5" r="2.45"/><circle cx="1163.3" cy="1526.2" r="2.45"/><circle cx="1137.5" cy="1529.4" r="2.45"/><circle cx="1122.7" cy="1527.8" r="2.45"/><circle cx="1081.2" cy="1530.5" r="2.45"/><circle cx="1061.7" cy="1528.1" r="2.45"/><circle cx="1057.8" cy="1533.3" r="2.45"/><circle cx="1059.4" cy="1532.5" r="2.45"/><circle cx="1182.8" cy="1528.6" r="2.45"/><circle cx="1194.5" cy="1527" r="2.45"/><circle cx="1190.6" cy="1530.9" r="2.45"/><circle cx="1193.8" cy="1533.3" r="2.45"/><circle cx="1196.9" cy="1534.8" r="2.45"/><circle cx="1218" cy="1528.1" r="2.45"/><circle cx="1215.6" cy="1530.2" r="2.45"/><circle cx="1212.5" cy="1532" r="2.45"/><circle cx="1209.4" cy="1532.8" r="2.45"/><circle cx="1125" cy="1536.4" r="2.45"/><circle cx="1103.9" cy="1535.2" r="2.45"/><circle cx="1086.7" cy="1536.4" r="2.45"/><circle cx="1085.2" cy="1538.8" r="2.45"/><circle cx="1066.4" cy="1536.4" r="2.45"/><circle cx="1048.4" cy="1536.9" r="2.45"/><circle cx="1157" cy="1534.8" r="2.45"/><circle cx="1168.8" cy="1533.3" r="2.45"/><circle cx="1178.1" cy="1536.4" r="2.45"/><circle cx="1201.6" cy="1537.5" r="2.45"/><circle cx="1203.1" cy="1540.3" r="2.45"/><circle cx="1204.4" cy="1541.9" r="2.45"/><circle cx="1115.6" cy="1538.8" r="2.45"/><circle cx="1060.2" cy="1541.9" r="2.45"/><circle cx="1064.1" cy="1543.4" r="2.45"/><circle cx="1071.9" cy="1542.7" r="2.45"/><circle cx="1074.2" cy="1545" r="2.45"/><circle cx="1077.3" cy="1546.6" r="2.45"/><circle cx="1085.2" cy="1544.2" r="2.45"/><circle cx="1091.4" cy="1544.2" r="2.45"/><circle cx="1164.8" cy="1543.4" r="2.45"/><circle cx="1176.6" cy="1542.7" r="2.45"/><circle cx="1183.6" cy="1545.8" r="2.45"/><circle cx="1052.7" cy="1546.6" r="2.45"/><circle cx="1068" cy="1549.7" r="2.45"/><circle cx="1043.8" cy="1550.5" r="2.45"/><circle cx="1079.7" cy="1550.5" r="2.45"/><circle cx="1076.6" cy="1554.4" r="2.45"/><circle cx="1089.8" cy="1549.7" r="2.45"/><circle cx="1120.3" cy="1549.7" r="2.45"/><circle cx="1181.2" cy="1550.5" r="2.45"/><circle cx="1198.4" cy="1550.8" r="2.45"/><circle cx="1161.7" cy="1552.8" r="2.45"/><circle cx="1146.1" cy="1554.4" r="2.45"/><circle cx="1093" cy="1558.3" r="2.45"/><circle cx="1101.6" cy="1556.7" r="2.45"/><circle cx="1103.9" cy="1559.1" r="2.45"/><circle cx="1120.3" cy="1555.9" r="2.45"/><circle cx="1122.7" cy="1558.3" r="2.45"/><circle cx="1172.7" cy="1555.9" r="2.45"/><circle cx="1200" cy="1558.3" r="2.45"/><circle cx="1199.2" cy="1560.6" r="2.45"/><circle cx="1207.8" cy="1560.6" r="2.45"/><circle cx="1211.7" cy="1562.2" r="2.45"/><circle cx="1043.8" cy="1563" r="2.45"/><circle cx="1046.1" cy="1563.8" r="2.45"/><circle cx="1050" cy="1566.1" r="2.45"/><circle cx="1125" cy="1560.6" r="2.45"/><circle cx="1129.7" cy="1563" r="2.45"/><circle cx="1157" cy="1564.5" r="2.45"/><circle cx="1163.3" cy="1563.8" r="2.45"/><circle cx="1167.2" cy="1565.3" r="2.45"/><circle cx="1185.2" cy="1566.9" r="2.45"/><circle cx="1189.1" cy="1566.1" r="2.45"/><circle cx="1200" cy="1564.5" r="2.45"/><circle cx="1093.8" cy="1568.4" r="2.45"/><circle cx="1101.6" cy="1565.3" r="2.45"/><circle cx="1105.5" cy="1568.4" r="2.45"/><circle cx="1114.1" cy="1570" r="2.45"/><circle cx="1087.5" cy="1572.3" r="2.45"/><circle cx="1090.6" cy="1573.1" r="2.45"/><circle cx="1107.8" cy="1573.1" r="2.45"/><circle cx="1049.2" cy="1572.8" r="2.45"/><circle cx="1131.2" cy="1567.7" r="2.45"/><circle cx="1153.1" cy="1571.6" r="2.45"/><circle cx="1161.7" cy="1569.2" r="2.45"/><circle cx="1164.8" cy="1573.1" r="2.45"/><circle cx="1218" cy="1573.6" r="2.45"/><circle cx="1206.2" cy="1575.5" r="2.45"/><circle cx="1213.3" cy="1579.8" r="2.45"/><circle cx="1193" cy="1576.2" r="2.45"/><circle cx="1195.3" cy="1580.9" r="2.45"/><circle cx="1020.3" cy="1580.9" r="2.45"/><circle cx="1058.6" cy="1581.7" r="2.45"/><circle cx="1061.7" cy="1580.5" r="2.45"/><circle cx="1082.8" cy="1580.2" r="2.45"/><circle cx="1087" cy="1585.2" r="2.45"/><circle cx="1100" cy="1574.7" r="2.45"/><circle cx="1120.3" cy="1574.7" r="2.45"/><circle cx="1159.4" cy="1577" r="2.45"/><circle cx="1179.7" cy="1581.7" r="2.45"/><circle cx="1183.6" cy="1584.8" r="2.45"/><circle cx="992.2" cy="1585.9" r="2.45"/><circle cx="1235.9" cy="1587.2" r="2.45"/><circle cx="1220.3" cy="1585.3" r="2.45"/><circle cx="1221.1" cy="1588" r="2.45"/><circle cx="1194.5" cy="1585.6" r="2.45"/><circle cx="1203.1" cy="1586.4" r="2.45"/><circle cx="1205.5" cy="1589.5" r="2.45"/><circle cx="1201.6" cy="1592.7" r="2.45"/><circle cx="1051.6" cy="1588.8" r="2.45"/><circle cx="1053.1" cy="1590.6" r="2.45"/><circle cx="1057.8" cy="1589.8" r="2.45"/><circle cx="1030.9" cy="1593.1" r="2.45"/><circle cx="1094.5" cy="1591.1" r="2.45"/><circle cx="1100" cy="1592.7" r="2.45"/><circle cx="1098.9" cy="1597.3" r="2.45"/><circle cx="1116.4" cy="1595.5" r="2.45"/><circle cx="1120.3" cy="1599.7" r="2.45"/><circle cx="1128.1" cy="1592.7" r="2.45"/><circle cx="1129.7" cy="1595" r="2.45"/><circle cx="1133.6" cy="1599.7" r="2.45"/><circle cx="1134.4" cy="1585.6" r="2.45"/><circle cx="1143" cy="1587.2" r="2.45"/><circle cx="1154.7" cy="1593.4" r="2.45"/><circle cx="1160.2" cy="1598.9" r="2.45"/><circle cx="1185.2" cy="1595" r="2.45"/><circle cx="1186.7" cy="1596.6" r="2.45"/><circle cx="1065.6" cy="1602.8" r="2.45"/><circle cx="1067.2" cy="1605.9" r="2.45"/><circle cx="1077.8" cy="1606.9" r="2.45"/><circle cx="1132" cy="1609.8" r="2.45"/><circle cx="1149.2" cy="1610.3" r="2.45"/><circle cx="1070.3" cy="1618.1" r="2.45"/><circle cx="1152.8" cy="1620.3" r="2.45"/><circle cx="1186.5" cy="1578.1" r="2.45"/><circle cx="1142.5" cy="1545.9" r="2.45"/><circle cx="1132.8" cy="1567" r="2.45"/><circle cx="1137.8" cy="1563.2" r="2.45"/><circle cx="1138.9" cy="1565.3" r="2.45"/><circle cx="1105.8" cy="1584.4" r="2.45"/><circle cx="1162.9" cy="1595.9" r="2.45"/><circle cx="1141.3" cy="1566.3" r="2.45"/><circle cx="1125.8" cy="1550.3" r="2.45"/><circle cx="1165.5" cy="1556.6" r="2.45"/><circle cx="1109.2" cy="1569.1" r="2.45"/><circle cx="1178.6" cy="1575.3" r="2.45"/><circle cx="1113.4" cy="1562" r="2.45"/><circle cx="1156.3" cy="1569.8" r="2.45"/><circle cx="1120" cy="1568.8" r="2.45"/><circle cx="1159.4" cy="1599.7" r="2.45"/><circle cx="1107.7" cy="1563.2" r="2.45"/><circle cx="1119.1" cy="1538.1" r="2.45"/><circle cx="1116" cy="1557.7" r="2.45"/><circle cx="1169.2" cy="1570.2" r="2.45"/><circle cx="1097.8" cy="1581.1" r="2.45"/><circle cx="1130.7" cy="1547.6" r="2.45"/><circle cx="1124.5" cy="1563.8" r="2.45"/><circle cx="1117.3" cy="1572.4" r="2.45"/><circle cx="1081.5" cy="1568.3" r="2.45"/><circle cx="1166.3" cy="1583.9" r="2.45"/><circle cx="1168.8" cy="1587.7" r="2.45"/><circle cx="1178.7" cy="1556.3" r="2.45"/><circle cx="1162" cy="1545.9" r="2.45"/><circle cx="1124.3" cy="1545.2" r="2.45"/><circle cx="1167.3" cy="1590.7" r="2.45"/><circle cx="1134.9" cy="1596.8" r="2.45"/><circle cx="1122.5" cy="1574.1" r="2.45"/><circle cx="1144" cy="1557.1" r="2.45"/><circle cx="1151.4" cy="1599.1" r="2.45"/><circle cx="1113.4" cy="1584.6" r="2.45"/><circle cx="1136" cy="1596.8" r="2.45"/><circle cx="1152.6" cy="1581.5" r="2.45"/><circle cx="1156.7" cy="1575.5" r="2.45"/><circle cx="1103.7" cy="1591.5" r="2.45"/><circle cx="1104.4" cy="1575.3" r="2.45"/><circle cx="1156" cy="1560.3" r="2.45"/><circle cx="1143.8" cy="1588.4" r="2.45"/><circle cx="1139.4" cy="1559.6" r="2.45"/><circle cx="1064.2" cy="1558.4" r="2.45"/></g>
<g fill="#6a4a97"><circle cx="1141.7" cy="1430.5" r="2.45"/><circle cx="1167.2" cy="1436.6" r="2.45"/><circle cx="1121.2" cy="1443.4" r="2.45"/><circle cx="1178.9" cy="1443.3" r="2.45"/><circle cx="1174.5" cy="1448.4" r="2.45"/><circle cx="1105.9" cy="1454.8" r="2.45"/><circle cx="1136.1" cy="1453.9" r="2.45"/><circle cx="1143.3" cy="1458.6" r="2.45"/><circle cx="1142" cy="1465.6" r="2.45"/><circle cx="1096.4" cy="1473.1" r="2.45"/><circle cx="1132.8" cy="1478.8" r="2.45"/><circle cx="1098.8" cy="1487.2" r="2.45"/><circle cx="1157.5" cy="1486.4" r="2.45"/><circle cx="1149.7" cy="1490.3" r="2.45"/><circle cx="1125.5" cy="1490" r="2.45"/><circle cx="1128.9" cy="1491.4" r="2.45"/><circle cx="1188.8" cy="1491.4" r="2.45"/><circle cx="1194.8" cy="1491.4" r="2.45"/><circle cx="1098.4" cy="1498.4" r="2.45"/><circle cx="1114.5" cy="1499.2" r="2.45"/><circle cx="1115.2" cy="1502.5" r="2.45"/><circle cx="1132" cy="1502.5" r="2.45"/><circle cx="1175.8" cy="1502.7" r="2.45"/><circle cx="1168.8" cy="1506.6" r="2.45"/><circle cx="1088" cy="1508.8" r="2.45"/><circle cx="1123.6" cy="1509.8" r="2.45"/><circle cx="1129.8" cy="1509.5" r="2.45"/><circle cx="1144.1" cy="1510.9" r="2.45"/><circle cx="1146.9" cy="1511.9" r="2.45"/><circle cx="1148.9" cy="1514.5" r="2.45"/><circle cx="1178.1" cy="1512.2" r="2.45"/><circle cx="1131.2" cy="1516.1" r="2.45"/><circle cx="1193.3" cy="1515.9" r="2.45"/><circle cx="1103.6" cy="1520.6" r="2.45"/><circle cx="1126.2" cy="1521.2" r="2.45"/><circle cx="1146.2" cy="1524.8" r="2.45"/><circle cx="1100.5" cy="1528" r="2.45"/><circle cx="1114.1" cy="1527" r="2.45"/><circle cx="1116.1" cy="1529.7" r="2.45"/><circle cx="1118" cy="1532.5" r="2.45"/><circle cx="1118.8" cy="1534.8" r="2.45"/><circle cx="1124.2" cy="1531.7" r="2.45"/><circle cx="1153.9" cy="1529.7" r="2.45"/><circle cx="1170" cy="1529.1" r="2.45"/><circle cx="1189.5" cy="1529.4" r="2.45"/><circle cx="1175.5" cy="1533.8" r="2.45"/><circle cx="1147.5" cy="1536.4" r="2.45"/><circle cx="1169.8" cy="1536.6" r="2.45"/><circle cx="1137.2" cy="1538.3" r="2.45"/><circle cx="1156.2" cy="1538.8" r="2.45"/><circle cx="1150" cy="1541.4" r="2.45"/><circle cx="1100" cy="1545.8" r="2.45"/><circle cx="1103.4" cy="1543.4" r="2.45"/><circle cx="1110.9" cy="1547.3" r="2.45"/><circle cx="1114.8" cy="1546.9" r="2.45"/><circle cx="1118" cy="1549.7" r="2.45"/><circle cx="1119.5" cy="1550.8" r="2.45"/><circle cx="1124.7" cy="1551.2" r="2.45"/><circle cx="1098.9" cy="1552" r="2.45"/><circle cx="1105" cy="1552" r="2.45"/><circle cx="1111.2" cy="1553.9" r="2.45"/><circle cx="1135.2" cy="1550.8" r="2.45"/><circle cx="1138.3" cy="1552" r="2.45"/><circle cx="1146.4" cy="1551.2" r="2.45"/><circle cx="1153.1" cy="1548.9" r="2.45"/><circle cx="1153.9" cy="1552" r="2.45"/><circle cx="1157" cy="1554.4" r="2.45"/><circle cx="1160.9" cy="1546.9" r="2.45"/><circle cx="1169.2" cy="1548.1" r="2.45"/><circle cx="1168.8" cy="1551.2" r="2.45"/><circle cx="1190.3" cy="1550.5" r="2.45"/><circle cx="1189.1" cy="1554.8" r="2.45"/><circle cx="1178.6" cy="1556.2" r="2.45"/><circle cx="1170" cy="1558.8" r="2.45"/><circle cx="1148.4" cy="1556.7" r="2.45"/><circle cx="1149.2" cy="1559.1" r="2.45"/><circle cx="1139.1" cy="1559.1" r="2.45"/><circle cx="1131.2" cy="1559.1" r="2.45"/><circle cx="1157" cy="1559.8" r="2.45"/><circle cx="1159.4" cy="1560.3" r="2.45"/><circle cx="1111.4" cy="1561.9" r="2.45"/><circle cx="1097.7" cy="1564.5" r="2.45"/><circle cx="1105.9" cy="1564.8" r="2.45"/><circle cx="1109.4" cy="1565.3" r="2.45"/><circle cx="1121.1" cy="1566.1" r="2.45"/><circle cx="1137.5" cy="1563.8" r="2.45"/><circle cx="1140.6" cy="1565.3" r="2.45"/><circle cx="1139.1" cy="1568.4" r="2.45"/><circle cx="1150" cy="1563.8" r="2.45"/><circle cx="1150.8" cy="1567.7" r="2.45"/><circle cx="1176.6" cy="1566.9" r="2.45"/><circle cx="1175.8" cy="1569.2" r="2.45"/><circle cx="1181.2" cy="1570" r="2.45"/><circle cx="1184.4" cy="1571.6" r="2.45"/><circle cx="1193.8" cy="1564.2" r="2.45"/><circle cx="1080.9" cy="1572.3" r="2.45"/><circle cx="1115.6" cy="1572.3" r="2.45"/><circle cx="1125.8" cy="1571.6" r="2.45"/><circle cx="1132.8" cy="1571.6" r="2.45"/><circle cx="1128.9" cy="1573.9" r="2.45"/><circle cx="1134.4" cy="1576.2" r="2.45"/><circle cx="1145.3" cy="1571.6" r="2.45"/><circle cx="1146.9" cy="1574.7" r="2.45"/><circle cx="1168" cy="1572.8" r="2.45"/><circle cx="1180.5" cy="1573.9" r="2.45"/><circle cx="1182" cy="1577" r="2.45"/><circle cx="1160.2" cy="1577" r="2.45"/><circle cx="1188.8" cy="1577.5" r="2.45"/><circle cx="1186.7" cy="1580.9" r="2.45"/><circle cx="1090.6" cy="1577.8" r="2.45"/><circle cx="1101.2" cy="1577.5" r="2.45"/><circle cx="1104.7" cy="1580.9" r="2.45"/><circle cx="1112.5" cy="1580.9" r="2.45"/><circle cx="1121.9" cy="1581.7" r="2.45"/><circle cx="1127.3" cy="1582.5" r="2.45"/><circle cx="1090.6" cy="1581.7" r="2.45"/><circle cx="1092.7" cy="1583.3" r="2.45"/><circle cx="1098.4" cy="1585.9" r="2.45"/><circle cx="1107" cy="1585.9" r="2.45"/><circle cx="1120.6" cy="1586.4" r="2.45"/><circle cx="1127.3" cy="1588.3" r="2.45"/><circle cx="1129.7" cy="1587.5" r="2.45"/><circle cx="1139.8" cy="1579.4" r="2.45"/><circle cx="1142.2" cy="1584.1" r="2.45"/><circle cx="1138.3" cy="1588" r="2.45"/><circle cx="1141.4" cy="1591.1" r="2.45"/><circle cx="1146.9" cy="1581.7" r="2.45"/><circle cx="1150.8" cy="1581.7" r="2.45"/><circle cx="1149.2" cy="1584.8" r="2.45"/><circle cx="1150" cy="1589.5" r="2.45"/><circle cx="1156.2" cy="1581.7" r="2.45"/><circle cx="1155.5" cy="1584.8" r="2.45"/><circle cx="1161.4" cy="1585.6" r="2.45"/><circle cx="1157.5" cy="1590" r="2.45"/><circle cx="1165.9" cy="1590.3" r="2.45"/><circle cx="1175.5" cy="1583.6" r="2.45"/><circle cx="1176.6" cy="1586.9" r="2.45"/><circle cx="1178.1" cy="1589.5" r="2.45"/><circle cx="1178.9" cy="1592.7" r="2.45"/><circle cx="1175" cy="1593.4" r="2.45"/><circle cx="1122.2" cy="1593.4" r="2.45"/><circle cx="1111.7" cy="1592.2" r="2.45"/><circle cx="1108.6" cy="1593.4" r="2.45"/><circle cx="1107" cy="1595.3" r="2.45"/><circle cx="1146.1" cy="1596.6" r="2.45"/><circle cx="1110.6" cy="1603.9" r="2.45"/><circle cx="1114.1" cy="1604.4" r="2.45"/><circle cx="1146.1" cy="1604.4" r="2.45"/><circle cx="1161.4" cy="1605.2" r="2.45"/><circle cx="1177.3" cy="1602" r="2.45"/><circle cx="1180.5" cy="1607" r="2.45"/><circle cx="1189.1" cy="1602" r="2.45"/><circle cx="1192.2" cy="1603.3" r="2.45"/><circle cx="1137.8" cy="1611.1" r="2.45"/><circle cx="1141" cy="1576" r="2.45"/><circle cx="1120.1" cy="1578.3" r="2.45"/><circle cx="1131.6" cy="1551" r="2.45"/><circle cx="1127" cy="1577.2" r="2.45"/><circle cx="1146.6" cy="1556.2" r="2.45"/><circle cx="1152.4" cy="1568.9" r="2.45"/><circle cx="1148.5" cy="1574" r="2.45"/><circle cx="1116.9" cy="1574.2" r="2.45"/><circle cx="1127.9" cy="1588.6" r="2.45"/><circle cx="1154.5" cy="1570.6" r="2.45"/><circle cx="1120.3" cy="1570.7" r="2.45"/><circle cx="1143.2" cy="1555.5" r="2.45"/></g>
<path d="M985.6 1408.4V1619H1245.6" stroke="#141414" stroke-width="2" fill="none"/>
<line x1="993.3" y1="1619" x2="993.3" y2="1616.3" stroke="#141414" stroke-width="1.3"/>
<line x1="1000.3" y1="1619" x2="1000.3" y2="1616.3" stroke="#141414" stroke-width="1.3"/>
<line x1="1006.4" y1="1619" x2="1006.4" y2="1616.3" stroke="#141414" stroke-width="1.3"/>
<line x1="1011.7" y1="1619" x2="1011.7" y2="1616.3" stroke="#141414" stroke-width="1.3"/>
<line x1="1016.5" y1="1619" x2="1016.5" y2="1616.3" stroke="#141414" stroke-width="1.3"/>
<line x1="1048" y1="1619" x2="1048" y2="1616.3" stroke="#141414" stroke-width="1.3"/>
<line x1="1066.4" y1="1619" x2="1066.4" y2="1616.3" stroke="#141414" stroke-width="1.3"/>
<line x1="1079.5" y1="1619" x2="1079.5" y2="1616.3" stroke="#141414" stroke-width="1.3"/>
<line x1="1089.6" y1="1619" x2="1089.6" y2="1616.3" stroke="#141414" stroke-width="1.3"/>
<line x1="1097.9" y1="1619" x2="1097.9" y2="1616.3" stroke="#141414" stroke-width="1.3"/>
<line x1="1104.9" y1="1619" x2="1104.9" y2="1616.3" stroke="#141414" stroke-width="1.3"/>
<line x1="1111" y1="1619" x2="1111" y2="1616.3" stroke="#141414" stroke-width="1.3"/>
<line x1="1116.3" y1="1619" x2="1116.3" y2="1616.3" stroke="#141414" stroke-width="1.3"/>
<line x1="1121.1" y1="1619" x2="1121.1" y2="1616.3" stroke="#141414" stroke-width="1.3"/>
<line x1="1152.6" y1="1619" x2="1152.6" y2="1616.3" stroke="#141414" stroke-width="1.3"/>
<line x1="1171" y1="1619" x2="1171" y2="1616.3" stroke="#141414" stroke-width="1.3"/>
<line x1="1184.1" y1="1619" x2="1184.1" y2="1616.3" stroke="#141414" stroke-width="1.3"/>
<line x1="1194.2" y1="1619" x2="1194.2" y2="1616.3" stroke="#141414" stroke-width="1.3"/>
<line x1="1202.5" y1="1619" x2="1202.5" y2="1616.3" stroke="#141414" stroke-width="1.3"/>
<line x1="1209.5" y1="1619" x2="1209.5" y2="1616.3" stroke="#141414" stroke-width="1.3"/>
<line x1="1215.6" y1="1619" x2="1215.6" y2="1616.3" stroke="#141414" stroke-width="1.3"/>
<line x1="1220.9" y1="1619" x2="1220.9" y2="1616.3" stroke="#141414" stroke-width="1.3"/>
<line x1="1225.7" y1="1619" x2="1225.7" y2="1616.3" stroke="#141414" stroke-width="1.3"/>
<line x1="985.6" y1="1619" x2="985.6" y2="1615" stroke="#141414" stroke-width="1.4"/>
<text transform="translate(985.6,1659.5)" font-size="33.3" text-anchor="middle">0.05</text>
<line x1="1089.6" y1="1619" x2="1089.6" y2="1615" stroke="#141414" stroke-width="1.4"/>
<text transform="translate(1089.6,1659.5)" font-size="33.3" text-anchor="middle">0.5</text>
<line x1="1194.3" y1="1619" x2="1194.3" y2="1615" stroke="#141414" stroke-width="1.4"/>
<text transform="translate(1194.3,1659.5)" font-size="33.3" text-anchor="middle">5</text>
<line x1="985.6" y1="1430.7" x2="989.6" y2="1430.7" stroke="#141414" stroke-width="1.4"/>
<text transform="translate(978.1,1442.7)" font-size="33.3" text-anchor="end">6</text>
<line x1="985.6" y1="1619" x2="989.6" y2="1619" stroke="#141414" stroke-width="1.4"/>
<text transform="translate(978.1,1631)" font-size="33.3" text-anchor="end">-2</text>
<text transform="translate(1115.3,1704.3)" font-size="36.7" text-anchor="middle"><tspan font-style="italic" font-family="'Liberation Serif','DejaVu Serif',serif" font-size="36">μ</tspan> FR (Hz)</text>
<g fill="#2b2b2b"><circle cx="1157.8" cy="1797.7" r="2.45"/><circle cx="1164.1" cy="1809.7" r="2.45"/><circle cx="1099.7" cy="1816.9" r="2.45"/><circle cx="1175.5" cy="1815.9" r="2.45"/><circle cx="1195.3" cy="1814.4" r="2.45"/><circle cx="1140.6" cy="1830.8" r="2.45"/><circle cx="1200.2" cy="1832.7" r="2.45"/><circle cx="1080.5" cy="1840.2" r="2.45"/><circle cx="1132.3" cy="1840.5" r="2.45"/><circle cx="1140.6" cy="1844.8" r="2.45"/><circle cx="1162" cy="1843.3" r="2.45"/><circle cx="1064.1" cy="1861.2" r="2.45"/><circle cx="1084.8" cy="1861.7" r="2.45"/><circle cx="1129.7" cy="1855.8" r="2.45"/><circle cx="1169.2" cy="1857.8" r="2.45"/><circle cx="1181.2" cy="1857.3" r="2.45"/><circle cx="1185.2" cy="1854.7" r="2.45"/><circle cx="1195.6" cy="1855" r="2.45"/><circle cx="1123.4" cy="1862.8" r="2.45"/><circle cx="1098.4" cy="1865.9" r="2.45"/><circle cx="1139.8" cy="1867.5" r="2.45"/><circle cx="1143" cy="1867.2" r="2.45"/><circle cx="1140.6" cy="1870.3" r="2.45"/><circle cx="1143.8" cy="1871.4" r="2.45"/><circle cx="1160.9" cy="1865.6" r="2.45"/><circle cx="1206.2" cy="1865.5" r="2.45"/><circle cx="1208.6" cy="1869.8" r="2.45"/><circle cx="1123.1" cy="1870.9" r="2.45"/><circle cx="1175.5" cy="1871.1" r="2.45"/><circle cx="1090.2" cy="1875.8" r="2.45"/><circle cx="1098.4" cy="1874.5" r="2.45"/><circle cx="1100.8" cy="1874.5" r="2.45"/><circle cx="1112.5" cy="1875.3" r="2.45"/><circle cx="1076.6" cy="1875.3" r="2.45"/><circle cx="1066.4" cy="1880" r="2.45"/><circle cx="1143.8" cy="1878" r="2.45"/><circle cx="1171.1" cy="1879.2" r="2.45"/><circle cx="1055.5" cy="1885.5" r="2.45"/><circle cx="1137.8" cy="1884.7" r="2.45"/><circle cx="1086.2" cy="1885" r="2.45"/><circle cx="1184.4" cy="1883.1" r="2.45"/><circle cx="1185.9" cy="1886.2" r="2.45"/><circle cx="1187.8" cy="1890.2" r="2.45"/><circle cx="1195" cy="1882" r="2.45"/><circle cx="1200.8" cy="1887.7" r="2.45"/><circle cx="1157" cy="1888.3" r="2.45"/><circle cx="1220.3" cy="1889.1" r="2.45"/><circle cx="1067.2" cy="1891.7" r="2.45"/><circle cx="1101.9" cy="1888.6" r="2.45"/><circle cx="1114.8" cy="1890.9" r="2.45"/><circle cx="1135.9" cy="1889.4" r="2.45"/><circle cx="1137.5" cy="1892.5" r="2.45"/><circle cx="1174.2" cy="1892.5" r="2.45"/><circle cx="1176.6" cy="1894.8" r="2.45"/><circle cx="1156.2" cy="1894.1" r="2.45"/><circle cx="1155.5" cy="1897.2" r="2.45"/><circle cx="1056.2" cy="1896.4" r="2.45"/><circle cx="1131.2" cy="1896.4" r="2.45"/><circle cx="1134.4" cy="1895.6" r="2.45"/><circle cx="1017.2" cy="1900.9" r="2.45"/><circle cx="1071.4" cy="1898.8" r="2.45"/><circle cx="1090.6" cy="1901.1" r="2.45"/><circle cx="1177.3" cy="1900.3" r="2.45"/><circle cx="1182" cy="1901.1" r="2.45"/><circle cx="1170.3" cy="1903.4" r="2.45"/><circle cx="1189.8" cy="1905" r="2.45"/><circle cx="1190.6" cy="1908.9" r="2.45"/><circle cx="1202.3" cy="1902.7" r="2.45"/><circle cx="1209.4" cy="1907.3" r="2.45"/><circle cx="1210.9" cy="1904.2" r="2.45"/><circle cx="1058.9" cy="1906.9" r="2.45"/><circle cx="1062.8" cy="1910.2" r="2.45"/><circle cx="1068.8" cy="1908.1" r="2.45"/><circle cx="1081.2" cy="1907.3" r="2.45"/><circle cx="1083.6" cy="1910.5" r="2.45"/><circle cx="1107.8" cy="1905.8" r="2.45"/><circle cx="1145.3" cy="1906.6" r="2.45"/><circle cx="1093.3" cy="1912" r="2.45"/><circle cx="1106.2" cy="1912.8" r="2.45"/><circle cx="1118" cy="1912" r="2.45"/><circle cx="1132.8" cy="1910.5" r="2.45"/><circle cx="1168" cy="1912" r="2.45"/><circle cx="1164.1" cy="1914.4" r="2.45"/><circle cx="1163.3" cy="1917.5" r="2.45"/><circle cx="1044.8" cy="1914.8" r="2.45"/><circle cx="1214.8" cy="1914.7" r="2.45"/><circle cx="1220.3" cy="1918.3" r="2.45"/><circle cx="1221.9" cy="1918.3" r="2.45"/><circle cx="1060.2" cy="1920.6" r="2.45"/><circle cx="1090.6" cy="1916.7" r="2.45"/><circle cx="1096.9" cy="1919.1" r="2.45"/><circle cx="1103.1" cy="1919.1" r="2.45"/><circle cx="1121.1" cy="1917.5" r="2.45"/><circle cx="1134.4" cy="1919.1" r="2.45"/><circle cx="1143" cy="1919.1" r="2.45"/><circle cx="1088.3" cy="1922.2" r="2.45"/><circle cx="1157" cy="1923" r="2.45"/><circle cx="1178.9" cy="1923.8" r="2.45"/><circle cx="1110.9" cy="1926.9" r="2.45"/><circle cx="1125" cy="1926.9" r="2.45"/><circle cx="1131.2" cy="1924.5" r="2.45"/><circle cx="1137.5" cy="1927.7" r="2.45"/><circle cx="1145.3" cy="1925.3" r="2.45"/><circle cx="1151.6" cy="1925.3" r="2.45"/><circle cx="1164.1" cy="1927.7" r="2.45"/><circle cx="1168" cy="1928.4" r="2.45"/><circle cx="1170.3" cy="1925.3" r="2.45"/><circle cx="1051.1" cy="1932.7" r="2.45"/><circle cx="1060.5" cy="1935" r="2.45"/><circle cx="1067.2" cy="1930.8" r="2.45"/><circle cx="1106.2" cy="1930" r="2.45"/><circle cx="1171.1" cy="1933.1" r="2.45"/><circle cx="1091.4" cy="1937" r="2.45"/><circle cx="1118" cy="1936.2" r="2.45"/><circle cx="1125" cy="1934.7" r="2.45"/><circle cx="1202.3" cy="1937" r="2.45"/><circle cx="1057" cy="1940.9" r="2.45"/><circle cx="1056.2" cy="1944.1" r="2.45"/><circle cx="1120" cy="1940.9" r="2.45"/><circle cx="1124.2" cy="1940.5" r="2.45"/><circle cx="1138.3" cy="1940.9" r="2.45"/><circle cx="1177.3" cy="1942.5" r="2.45"/><circle cx="1104.2" cy="1944.1" r="2.45"/><circle cx="1105.9" cy="1946.9" r="2.45"/><circle cx="1130.2" cy="1944.5" r="2.45"/><circle cx="1204.7" cy="1945.2" r="2.45"/><circle cx="1176.6" cy="1949.1" r="2.45"/><circle cx="1064.1" cy="1954.4" r="2.45"/><circle cx="1138.3" cy="1954.5" r="2.45"/><circle cx="1165.6" cy="1954.2" r="2.45"/><circle cx="1146.1" cy="1957" r="2.45"/><circle cx="1147.7" cy="1951.9" r="2.45"/><circle cx="1244.5" cy="1937.8" r="2.45"/><circle cx="1126.6" cy="1974.2" r="2.45"/><circle cx="1126.6" cy="1980" r="2.45"/><circle cx="1137.4" cy="1910.4" r="2.45"/><circle cx="1193.1" cy="1911.5" r="2.45"/><circle cx="1128.1" cy="1937.2" r="2.45"/><circle cx="1099.5" cy="1906.7" r="2.45"/><circle cx="1130.3" cy="1910.4" r="2.45"/><circle cx="1091.6" cy="1912.1" r="2.45"/><circle cx="1115" cy="1923.4" r="2.45"/><circle cx="1078.4" cy="1905.2" r="2.45"/><circle cx="1157.2" cy="1941" r="2.45"/><circle cx="1082.7" cy="1924" r="2.45"/><circle cx="1097.5" cy="1903" r="2.45"/><circle cx="1100.6" cy="1909.1" r="2.45"/><circle cx="1152.9" cy="1925" r="2.45"/><circle cx="1126.7" cy="1909.9" r="2.45"/><circle cx="1125.1" cy="1913.5" r="2.45"/><circle cx="1147.2" cy="1906.2" r="2.45"/><circle cx="1124.8" cy="1913.6" r="2.45"/><circle cx="1123.5" cy="1918.5" r="2.45"/><circle cx="1130.5" cy="1933.7" r="2.45"/><circle cx="1122.6" cy="1936.9" r="2.45"/><circle cx="1116.4" cy="1908.3" r="2.45"/><circle cx="1127.8" cy="1920" r="2.45"/><circle cx="1132.5" cy="1933.1" r="2.45"/><circle cx="1156.9" cy="1921.9" r="2.45"/><circle cx="1115.6" cy="1913.6" r="2.45"/><circle cx="1164.6" cy="1918.1" r="2.45"/><circle cx="1088.3" cy="1905.3" r="2.45"/><circle cx="1108.8" cy="1931.1" r="2.45"/><circle cx="1122" cy="1946.6" r="2.45"/><circle cx="1143.4" cy="1916.7" r="2.45"/></g>
<g fill="#138585"><circle cx="1162.3" cy="1768.3" r="2.45"/><circle cx="1134.2" cy="1792.5" r="2.45"/><circle cx="1118.4" cy="1806.6" r="2.45"/><circle cx="1142.5" cy="1806.6" r="2.45"/><circle cx="1171.7" cy="1821.2" r="2.45"/><circle cx="1160.9" cy="1825.3" r="2.45"/><circle cx="1157" cy="1830" r="2.45"/><circle cx="1159.4" cy="1831.1" r="2.45"/><circle cx="1185.6" cy="1836.6" r="2.45"/><circle cx="1096.9" cy="1838.9" r="2.45"/><circle cx="1095" cy="1844.1" r="2.45"/><circle cx="1135.2" cy="1844.4" r="2.45"/><circle cx="1196.1" cy="1845.3" r="2.45"/><circle cx="1189.8" cy="1846.9" r="2.45"/><circle cx="1183.9" cy="1849.4" r="2.45"/><circle cx="1063.3" cy="1853" r="2.45"/><circle cx="1070" cy="1851.9" r="2.45"/><circle cx="1135.5" cy="1852.3" r="2.45"/><circle cx="1065.6" cy="1857.3" r="2.45"/><circle cx="1086.7" cy="1857.3" r="2.45"/><circle cx="1080.5" cy="1860.5" r="2.45"/><circle cx="1114.5" cy="1860" r="2.45"/><circle cx="1128.9" cy="1857.3" r="2.45"/><circle cx="1198" cy="1860" r="2.45"/><circle cx="1169.8" cy="1864.7" r="2.45"/><circle cx="1099.2" cy="1867.5" r="2.45"/><circle cx="1133.9" cy="1867.2" r="2.45"/><circle cx="1104.7" cy="1873" r="2.45"/><circle cx="1114.8" cy="1873" r="2.45"/><circle cx="1164.1" cy="1871.4" r="2.45"/><circle cx="1163.3" cy="1873.8" r="2.45"/><circle cx="1156.7" cy="1874.5" r="2.45"/><circle cx="1202.8" cy="1874.2" r="2.45"/><circle cx="1075" cy="1876.9" r="2.45"/><circle cx="1072.7" cy="1878.4" r="2.45"/><circle cx="1136.4" cy="1877.7" r="2.45"/><circle cx="1141.1" cy="1876.1" r="2.45"/><circle cx="1117.2" cy="1879.2" r="2.45"/><circle cx="1103.1" cy="1880" r="2.45"/><circle cx="1125.8" cy="1880" r="2.45"/><circle cx="1128.9" cy="1880" r="2.45"/><circle cx="1156.2" cy="1879.2" r="2.45"/><circle cx="1064.1" cy="1880.8" r="2.45"/><circle cx="1067.2" cy="1882.3" r="2.45"/><circle cx="1081.2" cy="1880.8" r="2.45"/><circle cx="1082.8" cy="1884.7" r="2.45"/><circle cx="1100.8" cy="1883.1" r="2.45"/><circle cx="1100" cy="1887" r="2.45"/><circle cx="1118" cy="1883.1" r="2.45"/><circle cx="1196.9" cy="1879.2" r="2.45"/><circle cx="1059.4" cy="1887.8" r="2.45"/><circle cx="1068.8" cy="1886.2" r="2.45"/><circle cx="1108.6" cy="1888.3" r="2.45"/><circle cx="1117.2" cy="1889.4" r="2.45"/><circle cx="1122.7" cy="1889.1" r="2.45"/><circle cx="1127.3" cy="1890.9" r="2.45"/><circle cx="1153.9" cy="1890.2" r="2.45"/><circle cx="1180" cy="1889.4" r="2.45"/><circle cx="1023.8" cy="1885.5" r="2.45"/><circle cx="1034.7" cy="1889.1" r="2.45"/><circle cx="1048.9" cy="1889.8" r="2.45"/><circle cx="1054.7" cy="1893.3" r="2.45"/><circle cx="1065.6" cy="1895.6" r="2.45"/><circle cx="1057.8" cy="1898" r="2.45"/><circle cx="1114.1" cy="1895.6" r="2.45"/><circle cx="1118" cy="1894.8" r="2.45"/><circle cx="1135.9" cy="1898" r="2.45"/><circle cx="1139.1" cy="1898.8" r="2.45"/><circle cx="1146.1" cy="1896.4" r="2.45"/><circle cx="1148.4" cy="1897.2" r="2.45"/><circle cx="1173.4" cy="1896.4" r="2.45"/><circle cx="1185.9" cy="1895.3" r="2.45"/><circle cx="1207" cy="1894.8" r="2.45"/><circle cx="1207.8" cy="1899.5" r="2.45"/><circle cx="1222.7" cy="1898.8" r="2.45"/><circle cx="986.7" cy="1896.4" r="2.45"/><circle cx="1003.4" cy="1899.1" r="2.45"/><circle cx="1094.5" cy="1896.4" r="2.45"/><circle cx="1098.4" cy="1898" r="2.45"/><circle cx="1102.3" cy="1897.2" r="2.45"/><circle cx="1106.2" cy="1899.5" r="2.45"/><circle cx="1093.8" cy="1901.1" r="2.45"/><circle cx="1095.3" cy="1901.9" r="2.45"/><circle cx="1079.7" cy="1901.9" r="2.45"/><circle cx="1086.7" cy="1902.7" r="2.45"/><circle cx="1116.4" cy="1902.7" r="2.45"/><circle cx="1141.4" cy="1902.7" r="2.45"/><circle cx="1160.9" cy="1898.8" r="2.45"/><circle cx="1167.2" cy="1902.7" r="2.45"/><circle cx="1173.4" cy="1898.8" r="2.45"/><circle cx="1181.2" cy="1902.7" r="2.45"/><circle cx="1040.9" cy="1905" r="2.45"/><circle cx="1076.6" cy="1906.6" r="2.45"/><circle cx="1102.3" cy="1906.6" r="2.45"/><circle cx="1105.5" cy="1908.1" r="2.45"/><circle cx="1125.8" cy="1905.8" r="2.45"/><circle cx="1127.3" cy="1907.3" r="2.45"/><circle cx="1142.2" cy="1906.6" r="2.45"/><circle cx="1153.1" cy="1906.1" r="2.45"/><circle cx="1181.2" cy="1906.6" r="2.45"/><circle cx="1178.9" cy="1908.9" r="2.45"/><circle cx="1198.4" cy="1906.1" r="2.45"/><circle cx="1205.5" cy="1905.8" r="2.45"/><circle cx="1070.3" cy="1909.7" r="2.45"/><circle cx="1072.7" cy="1912" r="2.45"/><circle cx="1118.8" cy="1912" r="2.45"/><circle cx="1131.2" cy="1912.8" r="2.45"/><circle cx="1135.9" cy="1914.4" r="2.45"/><circle cx="1139.1" cy="1913.6" r="2.45"/><circle cx="1143" cy="1911.2" r="2.45"/><circle cx="1146.9" cy="1914.4" r="2.45"/><circle cx="1179.7" cy="1912" r="2.45"/><circle cx="1197.7" cy="1913.3" r="2.45"/><circle cx="1208.6" cy="1913.6" r="2.45"/><circle cx="1218" cy="1912.8" r="2.45"/><circle cx="1071.9" cy="1915.9" r="2.45"/><circle cx="1075" cy="1918.3" r="2.45"/><circle cx="1076.6" cy="1919.1" r="2.45"/><circle cx="1100" cy="1915.2" r="2.45"/><circle cx="1110.2" cy="1918.3" r="2.45"/><circle cx="1137.5" cy="1917.5" r="2.45"/><circle cx="1139.8" cy="1918.3" r="2.45"/><circle cx="1153.9" cy="1919.1" r="2.45"/><circle cx="1178.1" cy="1916.7" r="2.45"/><circle cx="1177.7" cy="1919.8" r="2.45"/><circle cx="1060.9" cy="1922.2" r="2.45"/><circle cx="1054.7" cy="1925.6" r="2.45"/><circle cx="1041.4" cy="1926.9" r="2.45"/><circle cx="1042.2" cy="1931.6" r="2.45"/><circle cx="1064.8" cy="1927.7" r="2.45"/><circle cx="1071.1" cy="1926.1" r="2.45"/><circle cx="1075" cy="1927.7" r="2.45"/><circle cx="1081.2" cy="1927.7" r="2.45"/><circle cx="1091.4" cy="1926.1" r="2.45"/><circle cx="1095.3" cy="1926.1" r="2.45"/><circle cx="1100" cy="1926.1" r="2.45"/><circle cx="1107.8" cy="1921.4" r="2.45"/><circle cx="1118.8" cy="1923.8" r="2.45"/><circle cx="1121.1" cy="1926.9" r="2.45"/><circle cx="1129.7" cy="1926.1" r="2.45"/><circle cx="1140.6" cy="1928.4" r="2.45"/><circle cx="1148.4" cy="1927.7" r="2.45"/><circle cx="1156.2" cy="1919.8" r="2.45"/><circle cx="1164.1" cy="1924.5" r="2.45"/><circle cx="1185.9" cy="1923.4" r="2.45"/><circle cx="1209.4" cy="1923" r="2.45"/><circle cx="1208.6" cy="1926.9" r="2.45"/><circle cx="1214.8" cy="1928.8" r="2.45"/><circle cx="1082" cy="1930" r="2.45"/><circle cx="1103.1" cy="1931.6" r="2.45"/><circle cx="1119.5" cy="1930" r="2.45"/><circle cx="1116.4" cy="1933.9" r="2.45"/><circle cx="1132.8" cy="1929.2" r="2.45"/><circle cx="1151.6" cy="1929.2" r="2.45"/><circle cx="1151.6" cy="1933.9" r="2.45"/><circle cx="1184.4" cy="1931.6" r="2.45"/><circle cx="1187.5" cy="1932.3" r="2.45"/><circle cx="1193.8" cy="1931.6" r="2.45"/><circle cx="1195.3" cy="1934.7" r="2.45"/><circle cx="1203.1" cy="1933.6" r="2.45"/><circle cx="1068" cy="1937" r="2.45"/><circle cx="1075" cy="1935.5" r="2.45"/><circle cx="1076.6" cy="1937.8" r="2.45"/><circle cx="1085.9" cy="1935.5" r="2.45"/><circle cx="1089.1" cy="1933.9" r="2.45"/><circle cx="1094.5" cy="1933.1" r="2.45"/><circle cx="1108.6" cy="1933.1" r="2.45"/><circle cx="1110.9" cy="1935.5" r="2.45"/><circle cx="1134.4" cy="1934.7" r="2.45"/><circle cx="1141.4" cy="1937" r="2.45"/><circle cx="1159.4" cy="1936.2" r="2.45"/><circle cx="1166.4" cy="1936.6" r="2.45"/><circle cx="1088.3" cy="1939.4" r="2.45"/><circle cx="1081.2" cy="1940.5" r="2.45"/><circle cx="1090.6" cy="1940.9" r="2.45"/><circle cx="1098.4" cy="1940.2" r="2.45"/><circle cx="1101.6" cy="1940.2" r="2.45"/><circle cx="1105.5" cy="1937.8" r="2.45"/><circle cx="1110.9" cy="1940.2" r="2.45"/><circle cx="1129.7" cy="1939.4" r="2.45"/><circle cx="1134.4" cy="1939.4" r="2.45"/><circle cx="1146.1" cy="1940.9" r="2.45"/><circle cx="1150" cy="1940.2" r="2.45"/><circle cx="1160.9" cy="1942.5" r="2.45"/><circle cx="1168" cy="1942.8" r="2.45"/><circle cx="1178.1" cy="1938.6" r="2.45"/><circle cx="1181.2" cy="1940.2" r="2.45"/><circle cx="1188.3" cy="1940.2" r="2.45"/><circle cx="1194.5" cy="1940.2" r="2.45"/><circle cx="1208.6" cy="1940.2" r="2.45"/><circle cx="1207.8" cy="1944.8" r="2.45"/><circle cx="1208.6" cy="1946.4" r="2.45"/><circle cx="1023.9" cy="1940.2" r="2.45"/><circle cx="1032" cy="1940.2" r="2.45"/><circle cx="1047.2" cy="1949.5" r="2.45"/><circle cx="1092.2" cy="1948" r="2.45"/><circle cx="1095.3" cy="1946.9" r="2.45"/><circle cx="1112.5" cy="1948.3" r="2.45"/><circle cx="1186.2" cy="1948.3" r="2.45"/><circle cx="1145.6" cy="1953.4" r="2.45"/><circle cx="1115.6" cy="1925.9" r="2.45"/><circle cx="1131.5" cy="1901.5" r="2.45"/><circle cx="1050.4" cy="1928.7" r="2.45"/><circle cx="1158.8" cy="1892.3" r="2.45"/><circle cx="1174.2" cy="1908.6" r="2.45"/><circle cx="1203.9" cy="1924" r="2.45"/><circle cx="1114.9" cy="1933.6" r="2.45"/><circle cx="1128.3" cy="1916.9" r="2.45"/><circle cx="1127.3" cy="1912.7" r="2.45"/><circle cx="1144" cy="1927.2" r="2.45"/><circle cx="1135.6" cy="1942.2" r="2.45"/><circle cx="1084.3" cy="1908" r="2.45"/><circle cx="1149.7" cy="1897.4" r="2.45"/><circle cx="1171.9" cy="1925.7" r="2.45"/><circle cx="1119.6" cy="1923" r="2.45"/><circle cx="1107.4" cy="1892.8" r="2.45"/><circle cx="1150.7" cy="1929.1" r="2.45"/><circle cx="1128.4" cy="1914.7" r="2.45"/><circle cx="1061.2" cy="1902.5" r="2.45"/><circle cx="1111" cy="1918.5" r="2.45"/><circle cx="1166.6" cy="1907.2" r="2.45"/><circle cx="1101.6" cy="1929.3" r="2.45"/><circle cx="1121.2" cy="1894.5" r="2.45"/><circle cx="1161.6" cy="1902.1" r="2.45"/><circle cx="1108.2" cy="1899.5" r="2.45"/><circle cx="1135.8" cy="1931.1" r="2.45"/><circle cx="1113.7" cy="1920.9" r="2.45"/><circle cx="1110.9" cy="1950" r="2.45"/><circle cx="1170.1" cy="1906.1" r="2.45"/><circle cx="1140.9" cy="1929.1" r="2.45"/><circle cx="1137.8" cy="1903.6" r="2.45"/><circle cx="1120.1" cy="1925.9" r="2.45"/><circle cx="1138.3" cy="1902.1" r="2.45"/><circle cx="1138.4" cy="1899.8" r="2.45"/><circle cx="1061" cy="1917.6" r="2.45"/><circle cx="1153.5" cy="1921.6" r="2.45"/><circle cx="1169.1" cy="1941.2" r="2.45"/><circle cx="1135.6" cy="1905.3" r="2.45"/><circle cx="1123.6" cy="1893.3" r="2.45"/><circle cx="1123.9" cy="1913.6" r="2.45"/><circle cx="1130.3" cy="1931.4" r="2.45"/><circle cx="1061.2" cy="1926.3" r="2.45"/><circle cx="1108.8" cy="1926.9" r="2.45"/><circle cx="1130.2" cy="1899.5" r="2.45"/><circle cx="1151.2" cy="1903.9" r="2.45"/><circle cx="1140.7" cy="1906.1" r="2.45"/><circle cx="1110.7" cy="1916.7" r="2.45"/><circle cx="1182.1" cy="1925.4" r="2.45"/><circle cx="1124.4" cy="1939.9" r="2.45"/><circle cx="1125.9" cy="1910.5" r="2.45"/><circle cx="1096" cy="1917.5" r="2.45"/><circle cx="1128.5" cy="1904.8" r="2.45"/><circle cx="1067.6" cy="1912.9" r="2.45"/><circle cx="1128.4" cy="1909.1" r="2.45"/><circle cx="1096.4" cy="1898.9" r="2.45"/><circle cx="1110.5" cy="1935.4" r="2.45"/><circle cx="1129.6" cy="1890.5" r="2.45"/><circle cx="1144.3" cy="1908.3" r="2.45"/><circle cx="1195.2" cy="1910.3" r="2.45"/><circle cx="1123.2" cy="1917.9" r="2.45"/><circle cx="1133.6" cy="1915.8" r="2.45"/><circle cx="1126.5" cy="1911.7" r="2.45"/><circle cx="1108.4" cy="1909.4" r="2.45"/><circle cx="1089.5" cy="1907.1" r="2.45"/><circle cx="1105.1" cy="1908.5" r="2.45"/><circle cx="1111.6" cy="1912.9" r="2.45"/><circle cx="1138.6" cy="1910.4" r="2.45"/><circle cx="1127.7" cy="1919.1" r="2.45"/><circle cx="1115.6" cy="1912.8" r="2.45"/><circle cx="1135.7" cy="1889.5" r="2.45"/></g>
<path d="M985.6 1767.8V1978.5H1245.6" stroke="#141414" stroke-width="2" fill="none"/>
<line x1="993.3" y1="1978.5" x2="993.3" y2="1975.8" stroke="#141414" stroke-width="1.3"/>
<line x1="1000.3" y1="1978.5" x2="1000.3" y2="1975.8" stroke="#141414" stroke-width="1.3"/>
<line x1="1006.4" y1="1978.5" x2="1006.4" y2="1975.8" stroke="#141414" stroke-width="1.3"/>
<line x1="1011.7" y1="1978.5" x2="1011.7" y2="1975.8" stroke="#141414" stroke-width="1.3"/>
<line x1="1016.5" y1="1978.5" x2="1016.5" y2="1975.8" stroke="#141414" stroke-width="1.3"/>
<line x1="1048" y1="1978.5" x2="1048" y2="1975.8" stroke="#141414" stroke-width="1.3"/>
<line x1="1066.4" y1="1978.5" x2="1066.4" y2="1975.8" stroke="#141414" stroke-width="1.3"/>
<line x1="1079.5" y1="1978.5" x2="1079.5" y2="1975.8" stroke="#141414" stroke-width="1.3"/>
<line x1="1089.6" y1="1978.5" x2="1089.6" y2="1975.8" stroke="#141414" stroke-width="1.3"/>
<line x1="1097.9" y1="1978.5" x2="1097.9" y2="1975.8" stroke="#141414" stroke-width="1.3"/>
<line x1="1104.9" y1="1978.5" x2="1104.9" y2="1975.8" stroke="#141414" stroke-width="1.3"/>
<line x1="1111" y1="1978.5" x2="1111" y2="1975.8" stroke="#141414" stroke-width="1.3"/>
<line x1="1116.3" y1="1978.5" x2="1116.3" y2="1975.8" stroke="#141414" stroke-width="1.3"/>
<line x1="1121.1" y1="1978.5" x2="1121.1" y2="1975.8" stroke="#141414" stroke-width="1.3"/>
<line x1="1152.6" y1="1978.5" x2="1152.6" y2="1975.8" stroke="#141414" stroke-width="1.3"/>
<line x1="1171" y1="1978.5" x2="1171" y2="1975.8" stroke="#141414" stroke-width="1.3"/>
<line x1="1184.1" y1="1978.5" x2="1184.1" y2="1975.8" stroke="#141414" stroke-width="1.3"/>
<line x1="1194.2" y1="1978.5" x2="1194.2" y2="1975.8" stroke="#141414" stroke-width="1.3"/>
<line x1="1202.5" y1="1978.5" x2="1202.5" y2="1975.8" stroke="#141414" stroke-width="1.3"/>
<line x1="1209.5" y1="1978.5" x2="1209.5" y2="1975.8" stroke="#141414" stroke-width="1.3"/>
<line x1="1215.6" y1="1978.5" x2="1215.6" y2="1975.8" stroke="#141414" stroke-width="1.3"/>
<line x1="1220.9" y1="1978.5" x2="1220.9" y2="1975.8" stroke="#141414" stroke-width="1.3"/>
<line x1="1225.7" y1="1978.5" x2="1225.7" y2="1975.8" stroke="#141414" stroke-width="1.3"/>
<line x1="985.6" y1="1978.5" x2="985.6" y2="1974.5" stroke="#141414" stroke-width="1.4"/>
<text transform="translate(985.6,2019)" font-size="33.3" text-anchor="middle">0.05</text>
<line x1="1089.6" y1="1978.5" x2="1089.6" y2="1974.5" stroke="#141414" stroke-width="1.4"/>
<text transform="translate(1089.6,2019)" font-size="33.3" text-anchor="middle">0.5</text>
<line x1="1194.3" y1="1978.5" x2="1194.3" y2="1974.5" stroke="#141414" stroke-width="1.4"/>
<text transform="translate(1194.3,2019)" font-size="33.3" text-anchor="middle">5</text>
<line x1="985.6" y1="1796.3" x2="989.6" y2="1796.3" stroke="#141414" stroke-width="1.4"/>
<text transform="translate(978.1,1808.3)" font-size="33.3" text-anchor="end">6</text>
<line x1="985.6" y1="1960.9" x2="989.6" y2="1960.9" stroke="#141414" stroke-width="1.4"/>
<text transform="translate(978.1,1972.9)" font-size="33.3" text-anchor="end">-2</text>
<text transform="translate(1115.3,2063.8)" font-size="36.7" text-anchor="middle"><tspan font-style="italic" font-family="'Liberation Serif','DejaVu Serif',serif" font-size="36">μ</tspan> FR (Hz)</text>
<g fill="#22e2e2"><circle cx="987.8" cy="1385.5" r="2.45"/></g>
<text transform="translate(1013.5,1397.2)" font-size="30.4">Systematic</text>
<g fill="#6a4a97"><circle cx="1202.6" cy="1384.8" r="2.45"/></g>
<text transform="translate(1228.5,1397.2)" font-size="30.4">Random</text>
<g fill="#2b2b2b"><circle cx="1012.9" cy="1741.3" r="2.45"/></g>
<text transform="translate(1039.5,1753)" font-size="30.4">First 1 sec</text>
<g fill="#138585"><circle cx="1220" cy="1741.3" r="2.45"/></g>
<text transform="translate(1246,1753)" font-size="30.4">Late</text>
<text transform="translate(912,1414.7)" font-size="72" text-anchor="middle" font-weight="bold" fill="#000">d</text>
<text transform="translate(893.5,1772)" font-size="72" text-anchor="middle" font-weight="bold" fill="#000">i</text>
<text transform="translate(923.5,1518.6) rotate(-90)" font-size="36.7" text-anchor="middle">Sparsity</text>
<text transform="translate(971,1544.3) rotate(-90)" font-size="36.7" text-anchor="middle">(z)</text>
<text transform="translate(936,1873) rotate(-90)" font-size="36.7" text-anchor="middle">Sparsity (z)</text>
<clipPath id="hp1408"><rect x="1453.2" y="1407.4" width="258.8" height="212.4"/></clipPath>
<g clip-path="url(#hp1408)">
<g fill="#363636"><circle cx="1474.9" cy="1410.3" r="3.0"/><circle cx="1455.1" cy="1464.6" r="3.0"/><circle cx="1519" cy="1458.5" r="3.0"/><circle cx="1517.9" cy="1461.3" r="3.0"/><circle cx="1500" cy="1474.5" r="3.0"/><circle cx="1486" cy="1491.6" r="3.0"/><circle cx="1554" cy="1474.5" r="3.0"/><circle cx="1554.9" cy="1491.6" r="3.0"/><circle cx="1587.4" cy="1447.5" r="3.0"/><circle cx="1583.3" cy="1467.9" r="3.0"/><circle cx="1601.2" cy="1467.9" r="3.0"/><circle cx="1593.5" cy="1474.5" r="3.0"/><circle cx="1608.1" cy="1477.8" r="3.0"/><circle cx="1611.7" cy="1494.9" r="3.0"/><circle cx="1627.4" cy="1498.5" r="3.0"/><circle cx="1618.3" cy="1430.4" r="3.0"/><circle cx="1638.9" cy="1424.1" r="3.0"/><circle cx="1608.9" cy="1512.3" r="3.0"/><circle cx="1608.6" cy="1518.6" r="3.0"/><circle cx="1629.3" cy="1518.6" r="3.0"/><circle cx="1570.9" cy="1518.6" r="3.0"/><circle cx="1599.8" cy="1525.2" r="3.0"/><circle cx="1492.8" cy="1555.6" r="3.0"/><circle cx="1517.1" cy="1552.8" r="3.0"/><circle cx="1516.3" cy="1555.8" r="3.0"/><circle cx="1583.3" cy="1555.6" r="3.0"/><circle cx="1587.4" cy="1572.9" r="3.0"/><circle cx="1544.7" cy="1582.9" r="3.0"/><circle cx="1508.8" cy="1585.9" r="3.0"/><circle cx="1586.8" cy="1585.9" r="3.0"/><circle cx="1540.5" cy="1599.7" r="3.0"/><circle cx="1520.1" cy="1609.9" r="3.0"/><circle cx="1514.9" cy="1616.5" r="3.0"/><circle cx="1579.1" cy="1609.6" r="3.0"/><circle cx="1635.1" cy="1467.9" r="3.0"/><circle cx="1640.6" cy="1447.5" r="3.0"/><circle cx="1641.2" cy="1451.1" r="3.0"/><circle cx="1655.8" cy="1444.8" r="3.0"/><circle cx="1656.9" cy="1451.6" r="3.0"/><circle cx="1654.1" cy="1461.3" r="3.0"/><circle cx="1654.9" cy="1468.2" r="3.0"/><circle cx="1655.8" cy="1474.5" r="3.0"/><circle cx="1645.3" cy="1491.6" r="3.0"/><circle cx="1643.9" cy="1501.3" r="3.0"/><circle cx="1654.9" cy="1491.6" r="3.0"/><circle cx="1656.9" cy="1501.3" r="3.0"/><circle cx="1658.5" cy="1508.7" r="3.0"/><circle cx="1652.2" cy="1518.6" r="3.0"/><circle cx="1643.9" cy="1524.7" r="3.0"/><circle cx="1645.3" cy="1528.8" r="3.0"/><circle cx="1642.5" cy="1549" r="3.0"/><circle cx="1631.5" cy="1576.5" r="3.0"/><circle cx="1633.7" cy="1592.8" r="3.0"/><circle cx="1663.2" cy="1566" r="3.0"/><circle cx="1663.8" cy="1572.9" r="3.0"/><circle cx="1664" cy="1577.1" r="3.0"/><circle cx="1664.6" cy="1582.6" r="3.0"/><circle cx="1665.1" cy="1588.1" r="3.0"/><circle cx="1665.7" cy="1593.6" r="3.0"/><circle cx="1666" cy="1597.8" r="3.0"/><circle cx="1654.4" cy="1582.6" r="3.0"/><circle cx="1654.9" cy="1586.7" r="3.0"/><circle cx="1656.3" cy="1596.4" r="3.0"/><circle cx="1656.9" cy="1612.9" r="3.0"/><circle cx="1656.9" cy="1615.7" r="3.0"/><circle cx="1669.5" cy="1609.6" r="3.0"/><circle cx="1667.3" cy="1619.8" r="3.0"/><circle cx="1669.5" cy="1444.2" r="3.0"/><circle cx="1668.7" cy="1470.9" r="3.0"/><circle cx="1670.1" cy="1484.7" r="3.0"/><circle cx="1677.5" cy="1477.8" r="3.0"/><circle cx="1677" cy="1484.7" r="3.0"/><circle cx="1678.4" cy="1501.8" r="3.0"/><circle cx="1672.9" cy="1508.4" r="3.0"/><circle cx="1680.3" cy="1508.4" r="3.0"/><circle cx="1681.1" cy="1525.2" r="3.0"/><circle cx="1674.2" cy="1532.1" r="3.0"/><circle cx="1686.1" cy="1528.8" r="3.0"/><circle cx="1677.5" cy="1545.4" r="3.0"/><circle cx="1677.8" cy="1552.3" r="3.0"/><circle cx="1684.4" cy="1552.3" r="3.0"/><circle cx="1689.9" cy="1562.5" r="3.0"/><circle cx="1680.6" cy="1572.9" r="3.0"/><circle cx="1677.8" cy="1413.9" r="3.0"/><circle cx="1678.4" cy="1424.1" r="3.0"/><circle cx="1682.5" cy="1427.7" r="3.0"/><circle cx="1685.3" cy="1458" r="3.0"/><circle cx="1692.7" cy="1458" r="3.0"/><circle cx="1689.4" cy="1468.2" r="3.0"/><circle cx="1688.8" cy="1471.8" r="3.0"/><circle cx="1696.3" cy="1481.7" r="3.0"/><circle cx="1701.8" cy="1494.9" r="3.0"/><circle cx="1701.8" cy="1498.5" r="3.0"/><circle cx="1697.7" cy="1417.2" r="3.0"/><circle cx="1703.2" cy="1411.1" r="3.0"/><circle cx="1707.3" cy="1413.9" r="3.0"/><circle cx="1708.1" cy="1420.5" r="3.0"/><circle cx="1708.7" cy="1424.1" r="3.0"/><circle cx="1708.7" cy="1431" r="3.0"/><circle cx="1709.2" cy="1434.3" r="3.0"/><circle cx="1709.2" cy="1467.9" r="3.0"/><circle cx="1710.1" cy="1566" r="3.0"/><circle cx="1709.5" cy="1606.3" r="3.0"/></g>
<path d="M1455.1 1555 L1459.2 1563.3 L1463.3 1579.8 L1467.5 1582.6 L1471.1 1599.1 L1475.8 1604.6 L1479.9 1603.3 L1484.6 1599.7 L1489.5 1604.1 L1495.1 1600.5 L1499.2 1588.1 L1501.9 1575.7 L1506.1 1574.3 L1511 1570.2 L1515.7 1571.6 L1521.2 1575.7 L1526.8 1581.2 L1530.9 1588.1 L1535 1597.8 L1539.2 1610.2 L1540.5 1618.4 L1548.8 1617 L1554.3 1615.7 L1562.6 1617 L1566.7 1615.7 L1570.9 1606 L1576.4 1604.6 L1581.9 1597.8 L1587.4 1590.9 L1591.5 1586.7 L1597 1587.3 L1601.2 1590.9 L1605.3 1596.4 L1609.5 1601.9 L1615 1597.8 L1620.5 1589.5 L1624.6 1579.8 L1627.4 1568.8 L1631.5 1563.3 L1634.3 1549.5 L1637 1527.5 L1639.8 1505.4 L1642.5 1488.9 L1645.3 1472.3 L1648 1453 L1650.8 1439.2 L1654.9 1425.5 L1657.7 1413.1 L1664.6 1412.2 L1671.5 1414.4 L1674.2 1428.2 L1677 1450.3 L1679.7 1464.1 L1682.5 1475.1 L1686.6 1486.1 L1689.4 1498.5 L1693.5 1497.1 L1697.7 1505.4 L1701.8 1516.4 L1705.9 1528.8 L1709.2 1541.2" stroke="#363636" stroke-width="7.6" fill="none" stroke-linejoin="round" stroke-linecap="butt"/>
</g>
<path d="M1453.2 1408.4V1619.8H1712V1408.4" stroke="#141414" stroke-width="2" fill="none"/>
<line x1="1510.2" y1="1619.8" x2="1510.2" y2="1615.8" stroke="#141414" stroke-width="1.4"/>
<text transform="translate(1508.2,1660.3)" font-size="33.3" text-anchor="middle">-100</text>
<line x1="1655" y1="1619.8" x2="1655" y2="1615.8" stroke="#141414" stroke-width="1.4"/>
<text transform="translate(1655,1660.3)" font-size="33.3" text-anchor="middle">100</text>
<line x1="1453.2" y1="1408.4" x2="1457.2" y2="1408.4" stroke="#141414" stroke-width="1.4"/>
<text transform="translate(1445.2,1421.8)" font-size="33.3" text-anchor="end">1</text>
<line x1="1453.2" y1="1619.8" x2="1457.2" y2="1619.8" stroke="#141414" stroke-width="1.4"/>
<text transform="translate(1445.2,1631.8)" font-size="33.3" text-anchor="end">0</text>
<line x1="1712" y1="1476.5" x2="1708" y2="1476.5" stroke="#141414" stroke-width="1.4"/>
<text transform="translate(1720,1488.5)" font-size="33.3">0.8</text>
<line x1="1712" y1="1599.1" x2="1708" y2="1599.1" stroke="#141414" stroke-width="1.4"/>
<text transform="translate(1720,1611.1)" font-size="33.3">0.2</text>
<text transform="translate(1582,1695.3)" font-size="36.7" text-anchor="middle">Angle (<tspan dy="-17.4" font-size="30">o</tspan><tspan dy="17.4">)</tspan></text>
<clipPath id="hp1767"><rect x="1453.2" y="1766.5" width="258.8" height="212.8"/></clipPath>
<g clip-path="url(#hp1767)">
<g fill="#127e7e"><circle cx="1454.3" cy="1772.2" r="3.0"/><circle cx="1484" cy="1780.2" r="3.0"/><circle cx="1517.9" cy="1777.2" r="3.0"/><circle cx="1583.8" cy="1780.2" r="3.0"/><circle cx="1656.9" cy="1771.1" r="3.0"/><circle cx="1705.4" cy="1768.4" r="3.0"/><circle cx="1550.2" cy="1798.4" r="3.0"/><circle cx="1597.9" cy="1786.8" r="3.0"/><circle cx="1599" cy="1791" r="3.0"/><circle cx="1601.2" cy="1795.1" r="3.0"/><circle cx="1602.6" cy="1795.1" r="3.0"/><circle cx="1599.8" cy="1804.8" r="3.0"/><circle cx="1709.5" cy="1792.3" r="3.0"/><circle cx="1671.5" cy="1795.7" r="3.0"/><circle cx="1666.8" cy="1789.6" r="3.0"/><circle cx="1682.5" cy="1802" r="3.0"/><circle cx="1683.3" cy="1804.8" r="3.0"/><circle cx="1654.9" cy="1804.8" r="3.0"/><circle cx="1683.3" cy="1813.9" r="3.0"/><circle cx="1689.4" cy="1818" r="3.0"/><circle cx="1689.9" cy="1819.9" r="3.0"/><circle cx="1710.1" cy="1811.1" r="3.0"/><circle cx="1706.8" cy="1820.5" r="3.0"/><circle cx="1615" cy="1817.2" r="3.0"/><circle cx="1615.8" cy="1823.2" r="3.0"/><circle cx="1631" cy="1819.9" r="3.0"/><circle cx="1681.1" cy="1819.9" r="3.0"/><circle cx="1679.7" cy="1826.8" r="3.0"/><circle cx="1705.9" cy="1826.8" r="3.0"/><circle cx="1707.9" cy="1832.3" r="3.0"/><circle cx="1631.5" cy="1838.4" r="3.0"/><circle cx="1677" cy="1838.4" r="3.0"/><circle cx="1598.4" cy="1844.7" r="3.0"/><circle cx="1605.3" cy="1848.9" r="3.0"/><circle cx="1637" cy="1844.7" r="3.0"/><circle cx="1653" cy="1848" r="3.0"/><circle cx="1677.8" cy="1844.7" r="3.0"/><circle cx="1678.4" cy="1851.1" r="3.0"/><circle cx="1666.8" cy="1853.8" r="3.0"/><circle cx="1706.8" cy="1853.8" r="3.0"/><circle cx="1454.3" cy="1853.5" r="3.0"/><circle cx="1520.4" cy="1853.5" r="3.0"/><circle cx="1521.2" cy="1857.1" r="3.0"/><circle cx="1653.6" cy="1857.1" r="3.0"/><circle cx="1654.1" cy="1860.4" r="3.0"/><circle cx="1637" cy="1859.9" r="3.0"/><circle cx="1639.2" cy="1866" r="3.0"/><circle cx="1639.8" cy="1868.7" r="3.0"/><circle cx="1670.1" cy="1866" r="3.0"/><circle cx="1679.7" cy="1864" r="3.0"/><circle cx="1680.3" cy="1868.7" r="3.0"/><circle cx="1681.1" cy="1872.3" r="3.0"/><circle cx="1600.6" cy="1869" r="3.0"/><circle cx="1603.4" cy="1872.3" r="3.0"/><circle cx="1607.2" cy="1872.3" r="3.0"/><circle cx="1646.1" cy="1875.1" r="3.0"/><circle cx="1655.5" cy="1875.1" r="3.0"/><circle cx="1663.8" cy="1881.4" r="3.0"/><circle cx="1682.5" cy="1878.6" r="3.0"/><circle cx="1657.7" cy="1884.1" r="3.0"/><circle cx="1663.2" cy="1887.5" r="3.0"/><circle cx="1638.4" cy="1890.5" r="3.0"/><circle cx="1654.9" cy="1890.5" r="3.0"/><circle cx="1608.9" cy="1896.3" r="3.0"/><circle cx="1609.5" cy="1899.9" r="3.0"/><circle cx="1610.3" cy="1903.2" r="3.0"/><circle cx="1685.3" cy="1894.3" r="3.0"/><circle cx="1685.8" cy="1897.1" r="3.0"/><circle cx="1646.1" cy="1902.9" r="3.0"/><circle cx="1627.4" cy="1909" r="3.0"/><circle cx="1623.2" cy="1911.7" r="3.0"/><circle cx="1655.5" cy="1911.7" r="3.0"/><circle cx="1699" cy="1911.7" r="3.0"/><circle cx="1521.2" cy="1918.1" r="3.0"/><circle cx="1537.8" cy="1921.1" r="3.0"/><circle cx="1688.6" cy="1918.1" r="3.0"/><circle cx="1612.2" cy="1921.1" r="3.0"/><circle cx="1612.8" cy="1924.7" r="3.0"/><circle cx="1613" cy="1928" r="3.0"/><circle cx="1625.2" cy="1923.8" r="3.0"/><circle cx="1625.4" cy="1927.4" r="3.0"/><circle cx="1655.5" cy="1924.1" r="3.0"/><circle cx="1699" cy="1930.2" r="3.0"/><circle cx="1493.7" cy="1936.2" r="3.0"/><circle cx="1541.9" cy="1936.2" r="3.0"/><circle cx="1648" cy="1936.2" r="3.0"/><circle cx="1661.8" cy="1936.2" r="3.0"/><circle cx="1691.3" cy="1936.2" r="3.0"/><circle cx="1615" cy="1942.6" r="3.0"/><circle cx="1646.1" cy="1945.6" r="3.0"/><circle cx="1664" cy="1945.6" r="3.0"/><circle cx="1692.2" cy="1944.8" r="3.0"/><circle cx="1691.6" cy="1948.1" r="3.0"/><circle cx="1691.1" cy="1951.4" r="3.0"/><circle cx="1690.8" cy="1955" r="3.0"/><circle cx="1709.5" cy="1951.4" r="3.0"/><circle cx="1654.1" cy="1951.4" r="3.0"/><circle cx="1652.7" cy="1955" r="3.0"/><circle cx="1651.6" cy="1957.8" r="3.0"/><circle cx="1605.3" cy="1955" r="3.0"/><circle cx="1610" cy="1955" r="3.0"/><circle cx="1618.3" cy="1955" r="3.0"/><circle cx="1637" cy="1960.8" r="3.0"/><circle cx="1587.4" cy="1964.1" r="3.0"/><circle cx="1581.9" cy="1970.2" r="3.0"/><circle cx="1638.9" cy="1970.2" r="3.0"/><circle cx="1669.5" cy="1966.8" r="3.0"/><circle cx="1670.7" cy="1972.9" r="3.0"/><circle cx="1671.5" cy="1976.5" r="3.0"/><circle cx="1696.3" cy="1972.9" r="3.0"/><circle cx="1618.6" cy="1975.7" r="3.0"/><circle cx="1650" cy="1978.4" r="3.0"/><circle cx="1709.5" cy="1978.4" r="3.0"/></g>
<path d="M1455.1 1912.3 L1459.2 1926 L1463.3 1939.8 L1467.5 1953.6 L1471.1 1964.6 L1475.8 1970.2 L1479.9 1968 L1485.4 1966 L1490.9 1966.8 L1497.8 1969.6 L1500.6 1959.1 L1504.7 1957.8 L1510.2 1955 L1515.2 1957.8 L1518.5 1953.6 L1523.4 1946.7 L1528.1 1946.7 L1532.3 1945.9 L1536.4 1949.5 L1539.2 1957.8 L1541.9 1964.6 L1546 1968.8 L1551.6 1971.5 L1557.1 1975.1 L1561.2 1977 L1566.7 1974.3 L1572.2 1971.5 L1576.4 1968.8 L1579.1 1959.1 L1581.9 1945.3 L1584.6 1931.6 L1587.4 1917.8 L1590.2 1904 L1592.9 1890.2 L1595.7 1876.4 L1598.4 1865.4 L1601.2 1858.5 L1605.3 1853 L1609.5 1846.1 L1613.6 1842 L1617.2 1841.1 L1620.5 1848.9 L1624.6 1857.1 L1628.8 1864 L1631.5 1868.2 L1634.3 1857.1 L1637 1851.6 L1641.2 1848.9 L1645.3 1843.3 L1648 1832.3 L1650.8 1821.3 L1653.6 1811.6 L1657.7 1810.3 L1660.5 1800.6 L1663.2 1788.2 L1666 1775.8 L1668.7 1772.2 L1672.9 1773.9 L1677 1776.6 L1681.1 1775 L1685.3 1779.9 L1689.4 1791 L1693.5 1803.4 L1697.7 1806.1 L1700.4 1824.1 L1703.2 1846.1 L1705.9 1868.2 L1709.2 1884.7" stroke="#127e7e" stroke-width="7.6" fill="none" stroke-linejoin="round" stroke-linecap="butt"/>
</g>
<path d="M1453.2 1767.5V1979.3H1712V1767.5" stroke="#141414" stroke-width="2" fill="none"/>
<line x1="1510.2" y1="1979.3" x2="1510.2" y2="1975.3" stroke="#141414" stroke-width="1.4"/>
<text transform="translate(1508.2,2019.8)" font-size="33.3" text-anchor="middle">-100</text>
<line x1="1655" y1="1979.3" x2="1655" y2="1975.3" stroke="#141414" stroke-width="1.4"/>
<text transform="translate(1655,2019.8)" font-size="33.3" text-anchor="middle">100</text>
<line x1="1453.2" y1="1773" x2="1457.2" y2="1773" stroke="#141414" stroke-width="1.4"/>
<text transform="translate(1445.2,1785)" font-size="33.3" text-anchor="end">4.8</text>
<line x1="1453.2" y1="1961.9" x2="1457.2" y2="1961.9" stroke="#141414" stroke-width="1.4"/>
<text transform="translate(1445.2,1973.9)" font-size="33.3" text-anchor="end">3.8</text>
<line x1="1712" y1="1811.6" x2="1708" y2="1811.6" stroke="#141414" stroke-width="1.4"/>
<text transform="translate(1720,1823.6)" font-size="33.3">0.8</text>
<line x1="1712" y1="1944.8" x2="1708" y2="1944.8" stroke="#141414" stroke-width="1.4"/>
<text transform="translate(1720,1956.8)" font-size="33.3">0.2</text>
<text transform="translate(1582,2054.8)" font-size="36.7" text-anchor="middle">Angle (<tspan dy="-17.4" font-size="30">o</tspan><tspan dy="17.4">)</tspan></text>
<text transform="translate(1410,1414)" font-size="72" text-anchor="middle" font-weight="bold" fill="#000">h</text>
<text transform="translate(1369.5,1513.7) rotate(-90)" font-size="36.7" text-anchor="middle">History</text>
<text transform="translate(1416,1513.7) rotate(-90)" font-size="36.7" text-anchor="middle">(sec)</text>
<text transform="translate(1805.5,1513.7) rotate(-90)" font-size="36.7" text-anchor="middle">FR (Hz)</text>
<path d="M155.6 1716.7C158.6 1716.8 167 1716.9 173.9 1717.1C180.7 1717.4 189.9 1717.5 196.8 1718.1C203.6 1718.6 210.1 1719.7 215.1 1720.3C220 1721 222.7 1721 226.5 1722.2C230.3 1723.3 234.1 1725.5 237.9 1727.2C241.8 1729 246.3 1730.6 249.4 1732.7C252.4 1734.8 254 1736.5 256.2 1739.6C258.5 1742.6 260.8 1746.4 263.1 1751C265.4 1755.6 268.1 1761.7 270 1767C271.9 1772.4 273 1778.1 274.6 1783C276.1 1788 277.8 1791.4 279.1 1796.8C280.5 1802.1 281.6 1809 282.8 1815.1C283.9 1821.2 284.9 1827.7 286 1833.4C287.1 1839.1 288.1 1844 289.2 1849.4C290.3 1854.7 291.5 1860.8 292.9 1865.4C294.2 1870 295.5 1873 297.4 1876.8C299.3 1880.7 302 1884.5 304.3 1888.3C306.6 1892.1 308.9 1896.8 311.2 1899.7C313.4 1902.6 315.7 1903.9 318 1905.7C320.3 1907.4 321.5 1908.9 324.9 1910.2C328.3 1911.5 333.3 1912.5 338.6 1913.4C344 1914.4 350.8 1915.2 356.9 1915.7C363 1916.3 369.5 1916.4 375.2 1916.7C380.9 1916.9 386.7 1916.7 391.2 1917.1C395.8 1917.6 398.9 1918.6 402.7 1919.4C406.5 1920.2 412.2 1921.7 414.1 1922.1" stroke="#000" stroke-width="6.2" fill="none" stroke-linejoin="round"/>
<line x1="284.6" y1="1710.1" x2="284.6" y2="1922.6" stroke="#b0b0b0" stroke-width="3.8"/>
<line x1="155.6" y1="1817.4" x2="414.1" y2="1817.4" stroke="#b0b0b0" stroke-width="3.8"/>
<path d="M155.6 1712.1V1922.6H414.1" stroke="#141414" stroke-width="1.6" fill="none"/>
<line x1="155.6" y1="1922.6" x2="155.6" y2="1918.6" stroke="#141414" stroke-width="1.4"/>
<text transform="translate(154.6,1963.6)" font-size="33.3" text-anchor="middle">-1</text>
<line x1="284.6" y1="1922.6" x2="284.6" y2="1918.6" stroke="#141414" stroke-width="1.4"/>
<text transform="translate(284.6,1963.6)" font-size="33.3" text-anchor="middle">0</text>
<line x1="414.1" y1="1922.6" x2="414.1" y2="1918.6" stroke="#141414" stroke-width="1.4"/>
<text transform="translate(414.1,1963.6)" font-size="33.3" text-anchor="middle">1</text>
<line x1="155.6" y1="1714.4" x2="159.6" y2="1714.4" stroke="#141414" stroke-width="1.4"/>
<text transform="translate(149.6,1726.4)" font-size="33.3" text-anchor="end">1</text>
<line x1="155.6" y1="1817.4" x2="159.6" y2="1817.4" stroke="#141414" stroke-width="1.4"/>
<text transform="translate(149.6,1829.4)" font-size="33.3" text-anchor="end">0.5</text>
<line x1="155.6" y1="1922.6" x2="159.6" y2="1922.6" stroke="#141414" stroke-width="1.4"/>
<text transform="translate(149.6,1934.6)" font-size="33.3" text-anchor="end">0</text>
<path d="M507 1719C511 1719 522.3 1719 530.8 1719C539.3 1719 549.9 1719 558.3 1719C566.6 1719 575.3 1718.9 581.1 1719C586.9 1719 589.9 1718.7 593 1719.2C596.2 1719.7 597.6 1720.2 599.9 1722.2C602.2 1724.1 604.4 1727 606.8 1730.9C609.1 1734.8 611.6 1740.3 614.1 1745.5C616.5 1750.8 619 1756.2 621.4 1762.4C623.8 1768.7 626.4 1776.2 628.3 1783C630.2 1789.9 631.4 1797 632.8 1803.6C634.3 1810.3 635.5 1817.1 637 1822.8C638.4 1828.6 639.9 1832.4 641.5 1837.9C643.1 1843.5 644.9 1850.1 646.6 1856.2C648.3 1862.4 649.9 1868.8 651.6 1874.6C653.3 1880.3 654.7 1885.2 656.6 1890.6C658.6 1895.9 661.1 1901.8 663.5 1906.6C665.9 1911.4 668 1916.2 670.8 1919.4C673.6 1922.6 676.3 1924.4 680.4 1925.8C684.6 1927.3 690 1927.6 695.5 1928.1C701.1 1928.5 706.2 1928.5 713.8 1928.5C721.5 1928.6 732.5 1928.5 741.3 1928.5C750.1 1928.5 762.3 1928.5 766.5 1928.5" stroke="#000" stroke-width="6.2" fill="none" stroke-linejoin="round"/>
<line x1="637" y1="1714.7" x2="637" y2="1928.6" stroke="#b0b0b0" stroke-width="3.8"/>
<line x1="507" y1="1822.9" x2="766.5" y2="1822.9" stroke="#b0b0b0" stroke-width="3.8"/>
<path d="M507 1716.7V1928.6H766.5" stroke="#141414" stroke-width="1.6" fill="none"/>
<line x1="544.5" y1="1928.6" x2="544.5" y2="1924.6" stroke="#141414" stroke-width="1.4"/>
<text transform="translate(543.5,1969.6)" font-size="33.3" text-anchor="middle">-5</text>
<line x1="637" y1="1928.6" x2="637" y2="1924.6" stroke="#141414" stroke-width="1.4"/>
<text transform="translate(637,1969.6)" font-size="33.3" text-anchor="middle">0</text>
<line x1="729.9" y1="1928.6" x2="729.9" y2="1924.6" stroke="#141414" stroke-width="1.4"/>
<text transform="translate(729.9,1969.6)" font-size="33.3" text-anchor="middle">5</text>
<line x1="507" y1="1719" x2="511" y2="1719" stroke="#141414" stroke-width="1.4"/>
<text transform="translate(501,1731)" font-size="33.3" text-anchor="end">1</text>
<line x1="507" y1="1822.9" x2="511" y2="1822.9" stroke="#141414" stroke-width="1.4"/>
<text transform="translate(501,1834.9)" font-size="33.3" text-anchor="end">0.5</text>
<line x1="507" y1="1928.6" x2="511" y2="1928.6" stroke="#141414" stroke-width="1.4"/>
<text transform="translate(501,1940.6)" font-size="33.3" text-anchor="end">0</text>
<text transform="translate(13.5,1698.4)" font-size="72" text-anchor="middle" font-weight="bold" fill="#000">j</text>
<text transform="translate(451,1698.4)" font-size="72" text-anchor="middle" font-weight="bold" fill="#000">k</text>
<text transform="translate(89.5,1816) rotate(-90)" font-size="36.7" text-anchor="middle">Probability</text>
<text transform="translate(261,2011.4)" font-size="36.7" text-anchor="middle">Stimulus speed</text>
<text transform="translate(281.5,2057.5)" font-size="36.7" text-anchor="middle">modulation index</text>
<text transform="translate(636.5,2013.1)" font-size="36.7" text-anchor="middle">Speed modulation</text>
<text transform="translate(612,2059.3)" font-size="36.7" text-anchor="middle">index (z)</text>
</svg>
</body></html>
